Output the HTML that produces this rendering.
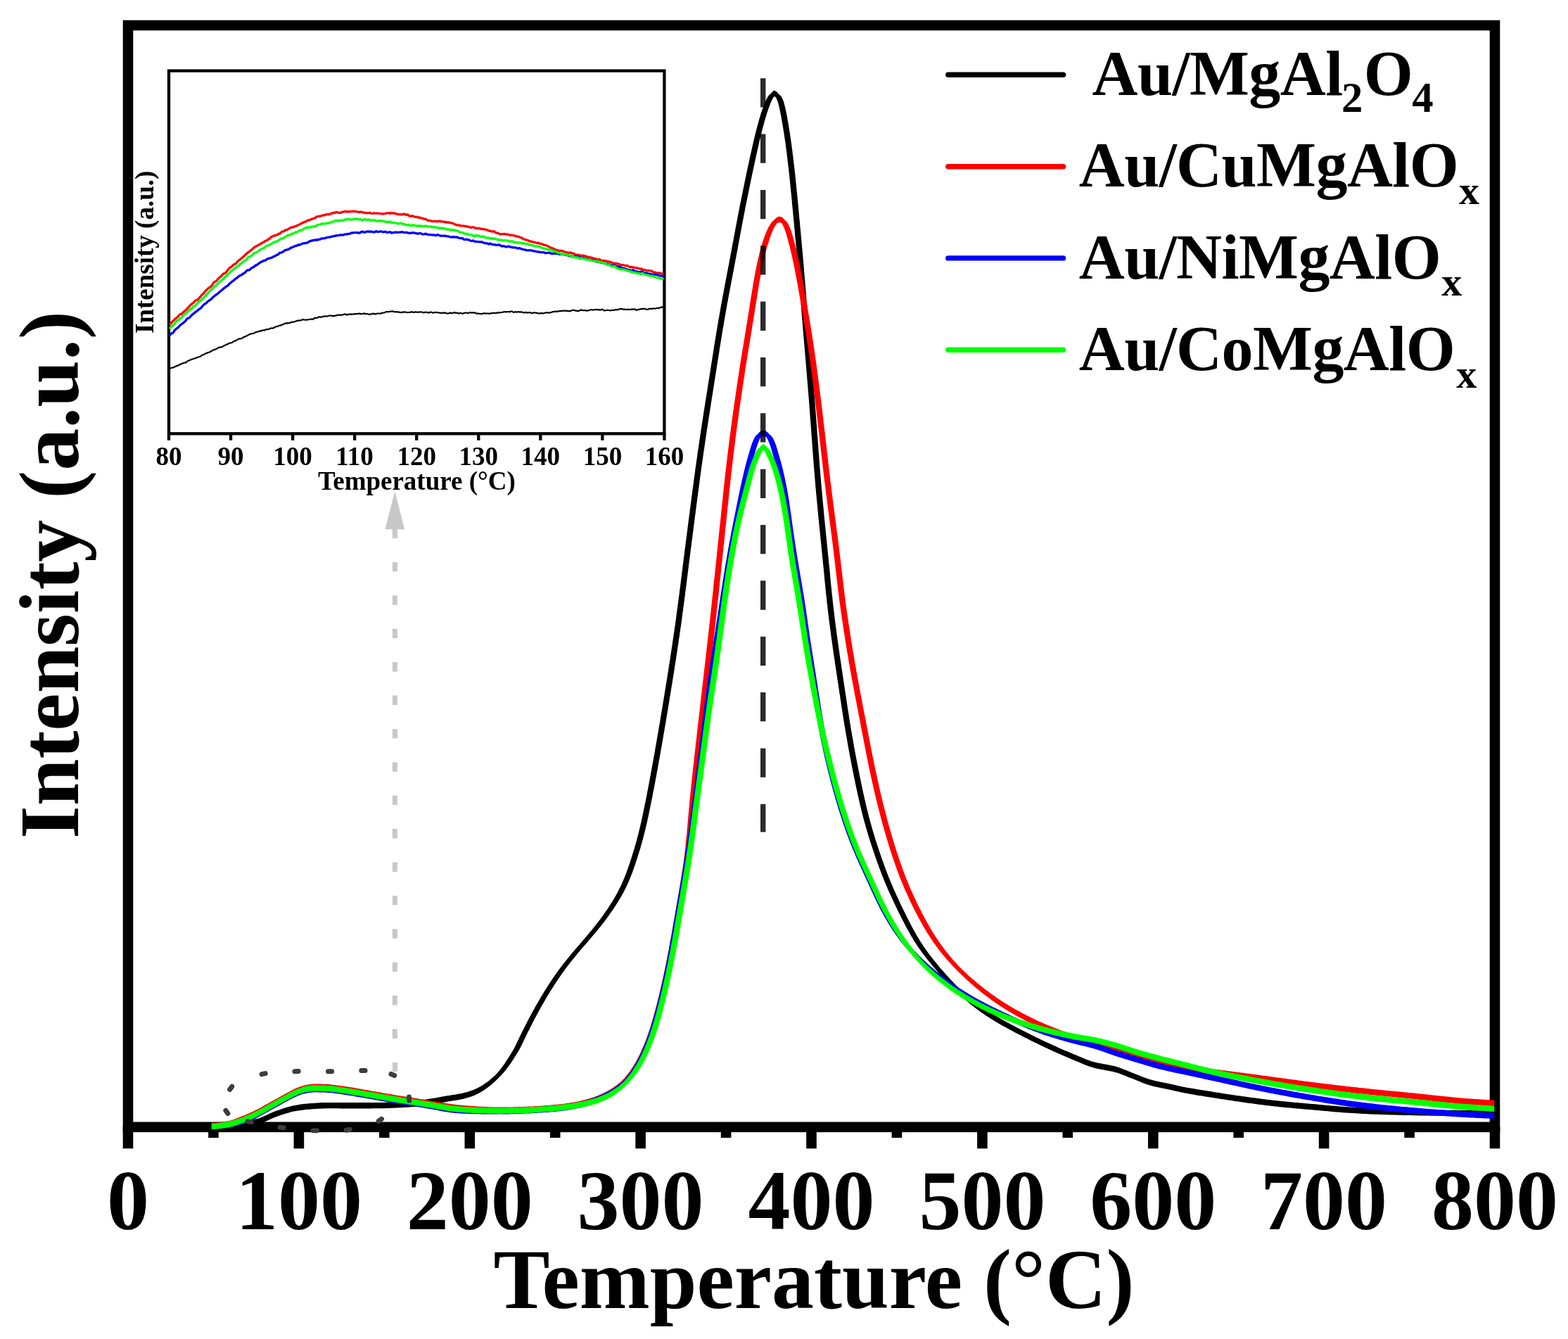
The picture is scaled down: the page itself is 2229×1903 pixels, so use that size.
<!DOCTYPE html>
<html lang="en"><head><meta charset="utf-8"><title>H2-TPR profiles</title>
<style>
html,body{margin:0;padding:0;background:#fff;}
body{width:2229px;height:1903px;overflow:hidden;}
svg{display:block;}
text{font-family:"Liberation Serif", "Noto Serif CJK SC", serif;font-weight:bold;fill:#000;}
.cf{stroke:none;fill-rule:nonzero;}
.ic{fill:none;stroke-linejoin:round;stroke-linecap:butt;}
</style></head><body>
<svg xmlns="http://www.w3.org/2000/svg" width="2229" height="1903" viewBox="0 0 2229 1903">
<rect width="2229" height="1903" fill="#fff"/>

<g id="main-axes" fill="#000">
<rect x="182.0" y="36.0" width="1943.0" height="1565.8" fill="none" stroke="#000" stroke-width="14.6"/>
<rect x="174.7" y="1601" width="14.6" height="31.3"/>
<rect x="296.1" y="1601" width="14.6" height="16.0"/>
<rect x="417.6" y="1601" width="14.6" height="31.3"/>
<rect x="539.0" y="1601" width="14.6" height="16.0"/>
<rect x="660.5" y="1601" width="14.6" height="31.3"/>
<rect x="781.9" y="1601" width="14.6" height="16.0"/>
<rect x="903.3" y="1601" width="14.6" height="31.3"/>
<rect x="1024.8" y="1601" width="14.6" height="16.0"/>
<rect x="1146.2" y="1601" width="14.6" height="31.3"/>
<rect x="1267.6" y="1601" width="14.6" height="16.0"/>
<rect x="1389.1" y="1601" width="14.6" height="31.3"/>
<rect x="1510.5" y="1601" width="14.6" height="16.0"/>
<rect x="1632.0" y="1601" width="14.6" height="31.3"/>
<rect x="1753.4" y="1601" width="14.6" height="16.0"/>
<rect x="1874.8" y="1601" width="14.6" height="31.3"/>
<rect x="1996.3" y="1601" width="14.6" height="16.0"/>
<rect x="2117.7" y="1601" width="14.6" height="31.3"/>
</g>
<g id="main-ticklabels" font-size="120" text-anchor="middle">
<text x="182.0" y="1747">0</text>
<text x="424.9" y="1747">100</text>
<text x="667.8" y="1747">200</text>
<text x="910.6" y="1747">300</text>
<text x="1153.5" y="1747">400</text>
<text x="1396.4" y="1747">500</text>
<text x="1639.2" y="1747">600</text>
<text x="1882.1" y="1747">700</text>
<text x="2125.0" y="1747">800</text>
</g>
<text id="xlabel" x="1157" y="1859.2" font-size="120" text-anchor="middle">Temperature (°C)</text>
<text id="ylabel" transform="translate(110.6,817) rotate(-90)" font-size="120" text-anchor="middle">Intensity (a.u.)</text>
<g id="inset">
<rect x="240.0" y="100.6" width="704.4" height="515.6999999999999" fill="#fff" stroke="#000" stroke-width="4.3"/>
<rect x="237.85" y="616" width="4.3" height="9.8" fill="#000"/>
<rect x="325.90" y="616" width="4.3" height="9.8" fill="#000"/>
<rect x="413.95" y="616" width="4.3" height="9.8" fill="#000"/>
<rect x="502.00" y="616" width="4.3" height="9.8" fill="#000"/>
<rect x="590.05" y="616" width="4.3" height="9.8" fill="#000"/>
<rect x="678.10" y="616" width="4.3" height="9.8" fill="#000"/>
<rect x="766.15" y="616" width="4.3" height="9.8" fill="#000"/>
<rect x="854.20" y="616" width="4.3" height="9.8" fill="#000"/>
<rect x="942.25" y="616" width="4.3" height="9.8" fill="#000"/>
<g font-size="37" text-anchor="middle">
<text x="240.0" y="661">80</text>
<text x="328.1" y="661">90</text>
<text x="416.1" y="661">100</text>
<text x="504.1" y="661">110</text>
<text x="592.2" y="661">120</text>
<text x="680.2" y="661">130</text>
<text x="768.3" y="661">140</text>
<text x="856.4" y="661">150</text>
<text x="944.4" y="661">160</text>
</g>
<text x="592.4" y="696" font-size="37" text-anchor="middle">Temperature (°C)</text>
<text transform="translate(217.5,358.3) rotate(-90)" font-size="37" text-anchor="middle">Intensity (a.u.)</text>
<path class="ic" stroke="#000" stroke-width="2.2" d="M240.8,524.2 L241.8,523.9 L242.8,523.2 L243.8,522.8 L244.8,522.4 L245.8,522.2 L246.8,522.3 L247.8,521.9 L248.8,521.0 L249.8,520.5 L250.8,520.2 L251.8,520.2 L252.8,519.4 L253.8,518.9 L254.8,518.4 L255.8,518.1 L256.8,517.6 L257.8,517.0 L258.8,516.8 L259.8,516.2 L260.8,516.0 L261.8,515.6 L262.8,515.5 L263.8,515.4 L264.8,515.0 L265.8,513.8 L266.8,513.1 L267.8,512.4 L268.8,512.5 L269.8,512.0 L270.8,511.4 L271.8,510.9 L272.8,510.6 L273.8,510.3 L274.8,510.0 L275.8,509.5 L276.8,509.4 L277.8,509.2 L278.8,508.8 L279.8,508.3 L280.8,507.9 L281.8,507.5 L282.8,507.0 L283.8,507.0 L284.8,506.5 L285.8,505.9 L286.8,505.1 L287.8,504.6 L288.8,504.1 L289.8,504.0 L290.8,503.4 L291.8,502.5 L292.8,502.1 L293.8,501.9 L294.8,501.6 L295.8,501.0 L296.8,500.7 L297.8,500.6 L298.8,500.2 L299.8,499.3 L300.8,498.7 L301.8,498.4 L302.8,497.7 L303.8,497.1 L304.8,496.9 L305.8,496.7 L306.8,496.5 L307.8,495.9 L308.8,495.1 L309.8,494.5 L310.8,494.3 L311.8,493.7 L312.8,493.4 L313.8,493.4 L314.8,493.4 L315.8,493.1 L316.8,492.3 L317.8,491.5 L318.8,491.3 L319.8,490.7 L320.8,490.3 L321.8,489.6 L322.8,489.3 L323.8,489.1 L324.8,488.3 L325.8,487.8 L326.8,487.5 L327.8,487.4 L328.8,487.2 L329.8,486.9 L330.8,486.2 L331.8,485.3 L332.8,484.9 L333.8,484.4 L334.8,484.3 L335.8,483.5 L336.8,483.2 L337.8,482.5 L338.8,481.9 L339.8,481.4 L340.8,481.5 L341.8,481.4 L342.8,481.3 L343.8,481.0 L344.8,480.2 L345.8,479.4 L346.8,479.1 L347.8,478.8 L348.8,478.2 L349.8,477.7 L350.8,477.2 L351.8,476.7 L352.8,476.1 L353.8,475.6 L354.8,475.2 L355.8,474.9 L356.8,474.3 L357.8,474.1 L358.8,474.0 L359.8,474.0 L360.8,473.7 L361.8,473.1 L362.8,472.5 L363.8,471.9 L364.8,471.9 L365.8,471.5 L366.8,471.5 L367.8,471.1 L368.8,471.0 L369.8,470.2 L370.8,470.4 L371.8,470.0 L372.8,469.6 L373.8,469.2 L374.8,469.5 L375.8,469.6 L376.8,468.8 L377.8,468.3 L378.8,468.1 L379.8,468.1 L380.8,468.1 L381.8,468.0 L382.8,467.5 L383.8,467.1 L384.8,466.4 L385.8,466.5 L386.8,466.6 L387.8,466.5 L388.8,466.1 L389.8,465.5 L390.8,465.0 L391.8,464.4 L392.8,464.2 L393.8,464.2 L394.8,464.0 L395.8,463.2 L396.8,462.7 L397.8,462.6 L398.8,462.7 L399.8,462.0 L400.8,461.3 L401.8,461.5 L402.8,460.9 L403.8,460.3 L404.8,459.9 L405.8,459.6 L406.8,459.4 L407.8,459.2 L408.8,459.3 L409.8,459.2 L410.8,459.1 L411.8,458.8 L412.8,458.6 L413.8,458.2 L414.8,457.6 L415.8,457.5 L416.8,457.7 L417.8,457.6 L418.8,457.0 L419.8,456.7 L420.8,456.3 L421.8,456.2 L422.8,455.9 L423.8,455.7 L424.8,455.4 L425.8,455.5 L426.8,455.4 L427.8,455.3 L428.8,454.9 L429.8,454.2 L430.8,454.1 L431.8,454.3 L432.8,454.6 L433.8,454.5 L434.8,454.5 L435.8,454.6 L436.8,454.6 L437.8,454.2 L438.8,454.2 L439.8,454.0 L440.8,453.9 L441.8,453.7 L442.8,453.6 L443.8,453.6 L444.8,453.8 L445.8,453.1 L446.8,452.1 L447.8,451.9 L448.8,451.8 L449.8,452.0 L450.8,451.7 L451.8,451.3 L452.8,450.6 L453.8,450.3 L454.8,450.7 L455.8,450.8 L456.8,450.7 L457.8,450.3 L458.8,449.8 L459.8,449.6 L460.8,449.9 L461.8,449.4 L462.8,449.4 L463.8,449.5 L464.8,449.6 L465.8,449.3 L466.8,449.0 L467.8,448.6 L468.8,448.5 L469.8,448.5 L470.8,448.8 L471.8,448.7 L472.8,448.8 L473.8,449.4 L474.8,448.9 L475.8,448.7 L476.8,448.5 L477.8,448.6 L478.8,448.0 L479.8,447.6 L480.8,447.7 L481.8,447.9 L482.8,447.7 L483.8,447.6 L484.8,447.7 L485.8,447.8 L486.8,447.4 L487.8,447.0 L488.8,446.8 L489.8,446.4 L490.8,446.3 L491.8,447.0 L492.8,447.7 L493.8,447.5 L494.8,446.7 L495.8,446.5 L496.8,446.8 L497.8,446.7 L498.8,446.6 L499.8,446.4 L500.8,446.6 L501.8,446.5 L502.8,446.4 L503.8,446.3 L504.8,446.1 L505.8,446.0 L506.8,446.1 L507.8,446.0 L508.8,445.9 L509.8,445.7 L510.8,445.6 L511.8,445.8 L512.8,446.1 L513.8,446.3 L514.8,446.0 L515.8,446.0 L516.8,445.6 L517.8,445.4 L518.8,445.7 L519.8,446.1 L520.8,446.0 L521.8,446.0 L522.8,446.3 L523.8,446.7 L524.8,446.8 L525.8,446.7 L526.8,446.7 L527.8,446.4 L528.8,446.2 L529.8,445.5 L530.8,445.8 L531.8,445.9 L532.8,446.4 L533.8,446.1 L534.8,445.8 L535.8,445.8 L536.8,445.6 L537.8,445.5 L538.8,445.5 L539.8,445.5 L540.8,445.7 L541.8,445.5 L542.8,444.9 L543.8,444.6 L544.8,444.5 L545.8,444.5 L546.8,444.3 L547.8,443.5 L548.8,443.2 L549.8,443.0 L550.8,443.1 L551.8,443.2 L552.8,443.1 L553.8,442.8 L554.8,442.9 L555.8,442.6 L556.8,442.5 L557.8,442.2 L558.8,442.9 L559.8,442.9 L560.8,443.1 L561.8,443.1 L562.8,443.4 L563.8,443.3 L564.8,443.1 L565.8,443.5 L566.8,443.7 L567.8,443.5 L568.8,444.1 L569.8,444.1 L570.8,444.1 L571.8,443.5 L572.8,443.6 L573.8,443.5 L574.8,443.6 L575.8,443.4 L576.8,443.5 L577.8,443.9 L578.8,444.1 L579.8,444.2 L580.8,444.0 L581.8,443.9 L582.8,443.9 L583.8,443.6 L584.8,443.3 L585.8,443.2 L586.8,443.5 L587.8,444.0 L588.8,444.0 L589.8,443.4 L590.8,443.3 L591.8,443.6 L592.8,443.6 L593.8,443.6 L594.8,443.7 L595.8,443.6 L596.8,443.5 L597.8,443.2 L598.8,443.5 L599.8,443.6 L600.8,443.9 L601.8,444.3 L602.8,444.3 L603.8,443.7 L604.8,443.8 L605.8,443.8 L606.8,443.9 L607.8,443.9 L608.8,444.6 L609.8,444.6 L610.8,444.1 L611.8,443.5 L612.8,443.5 L613.8,443.9 L614.8,444.3 L615.8,444.7 L616.8,444.5 L617.8,443.8 L618.8,444.0 L619.8,443.9 L620.8,444.1 L621.8,444.1 L622.8,444.1 L623.8,444.5 L624.8,444.7 L625.8,445.0 L626.8,444.8 L627.8,444.6 L628.8,444.6 L629.8,444.8 L630.8,444.9 L631.8,444.6 L632.8,444.3 L633.8,444.9 L634.8,445.4 L635.8,445.5 L636.8,445.6 L637.8,445.4 L638.8,444.8 L639.8,444.4 L640.8,445.1 L641.8,445.1 L642.8,444.9 L643.8,444.8 L644.8,444.6 L645.8,444.1 L646.8,444.2 L647.8,444.8 L648.8,444.7 L649.8,444.6 L650.8,444.9 L651.8,445.5 L652.8,445.4 L653.8,445.1 L654.8,444.8 L655.8,445.2 L656.8,445.5 L657.8,445.8 L658.8,445.2 L659.8,445.1 L660.8,444.5 L661.8,444.5 L662.8,444.7 L663.8,444.9 L664.8,445.0 L665.8,444.7 L666.8,444.7 L667.8,444.2 L668.8,444.1 L669.8,444.5 L670.8,444.6 L671.8,444.5 L672.8,444.2 L673.8,444.4 L674.8,444.6 L675.8,444.7 L676.8,445.5 L677.8,445.7 L678.8,445.6 L679.8,445.4 L680.8,445.7 L681.8,446.0 L682.8,445.9 L683.8,446.1 L684.8,446.0 L685.8,445.8 L686.8,445.3 L687.8,445.2 L688.8,445.5 L689.8,445.4 L690.8,445.6 L691.8,445.6 L692.8,445.5 L693.8,445.4 L694.8,445.6 L695.8,445.9 L696.8,445.6 L697.8,445.2 L698.8,444.9 L699.8,445.1 L700.8,445.0 L701.8,444.8 L702.8,444.5 L703.8,445.0 L704.8,445.1 L705.8,444.9 L706.8,444.4 L707.8,444.2 L708.8,444.5 L709.8,444.3 L710.8,444.2 L711.8,444.1 L712.8,444.0 L713.8,443.9 L714.8,443.6 L715.8,443.5 L716.8,443.0 L717.8,443.0 L718.8,443.4 L719.8,443.5 L720.8,443.0 L721.8,443.0 L722.8,443.0 L723.8,443.4 L724.8,443.2 L725.8,442.7 L726.8,442.5 L727.8,442.5 L728.8,443.2 L729.8,443.7 L730.8,443.8 L731.8,443.4 L732.8,443.0 L733.8,443.7 L734.8,443.5 L735.8,443.4 L736.8,443.0 L737.8,443.4 L738.8,443.4 L739.8,443.6 L740.8,443.3 L741.8,443.4 L742.8,443.8 L743.8,444.3 L744.8,444.5 L745.8,444.2 L746.8,443.9 L747.8,444.1 L748.8,444.3 L749.8,444.4 L750.8,444.4 L751.8,444.1 L752.8,444.1 L753.8,444.3 L754.8,444.8 L755.8,445.0 L756.8,445.0 L757.8,444.6 L758.8,444.4 L759.8,444.4 L760.8,444.5 L761.8,444.7 L762.8,444.6 L763.8,444.9 L764.8,445.3 L765.8,445.5 L766.8,445.4 L767.8,445.4 L768.8,445.1 L769.8,445.1 L770.8,445.2 L771.8,445.3 L772.8,445.3 L773.8,445.0 L774.8,444.6 L775.8,444.4 L776.8,444.4 L777.8,444.5 L778.8,444.4 L779.8,444.4 L780.8,444.6 L781.8,444.5 L782.8,444.2 L783.8,444.0 L784.8,443.4 L785.8,443.2 L786.8,443.2 L787.8,443.1 L788.8,442.6 L789.8,442.6 L790.8,442.8 L791.8,442.7 L792.8,442.5 L793.8,442.6 L794.8,442.1 L795.8,442.0 L796.8,441.9 L797.8,442.2 L798.8,441.9 L799.8,441.7 L800.8,441.6 L801.8,441.6 L802.8,441.7 L803.8,442.1 L804.8,441.5 L805.8,441.6 L806.8,441.9 L807.8,442.3 L808.8,442.2 L809.8,441.8 L810.8,441.8 L811.8,441.9 L812.8,441.2 L813.8,441.0 L814.8,440.8 L815.8,440.9 L816.8,440.9 L817.8,441.4 L818.8,441.6 L819.8,441.7 L820.8,441.8 L821.8,442.1 L822.8,442.0 L823.8,441.3 L824.8,440.8 L825.8,440.4 L826.8,440.6 L827.8,440.9 L828.8,441.1 L829.8,441.2 L830.8,441.2 L831.8,441.1 L832.8,441.3 L833.8,441.4 L834.8,441.6 L835.8,441.4 L836.8,441.3 L837.8,440.8 L838.8,440.5 L839.8,440.1 L840.8,440.1 L841.8,440.5 L842.8,440.7 L843.8,440.5 L844.8,440.1 L845.8,440.0 L846.8,440.2 L847.8,439.8 L848.8,439.9 L849.8,440.1 L850.8,440.4 L851.8,440.4 L852.8,440.2 L853.8,440.5 L854.8,440.0 L855.8,439.7 L856.8,439.9 L857.8,440.7 L858.8,441.3 L859.8,441.5 L860.8,441.2 L861.8,440.8 L862.8,441.0 L863.8,440.9 L864.8,441.0 L865.8,441.0 L866.8,441.2 L867.8,441.4 L868.8,441.0 L869.8,440.8 L870.8,441.0 L871.8,440.9 L872.8,441.0 L873.8,440.6 L874.8,440.2 L875.8,439.9 L876.8,440.1 L877.8,440.4 L878.8,440.1 L879.8,439.5 L880.8,439.2 L881.8,439.2 L882.8,438.9 L883.8,438.8 L884.8,439.3 L885.8,439.7 L886.8,439.7 L887.8,439.7 L888.8,439.7 L889.8,440.0 L890.8,439.9 L891.8,439.7 L892.8,439.9 L893.8,439.9 L894.8,440.0 L895.8,439.7 L896.8,439.8 L897.8,439.7 L898.8,439.4 L899.8,439.6 L900.8,439.7 L901.8,439.4 L902.8,439.4 L903.8,440.2 L904.8,440.9 L905.8,440.4 L906.8,439.9 L907.8,439.9 L908.8,440.0 L909.8,439.4 L910.8,439.0 L911.8,439.2 L912.8,439.4 L913.8,438.7 L914.8,438.7 L915.8,438.8 L916.8,439.1 L917.8,439.4 L918.8,439.6 L919.8,439.9 L920.8,439.6 L921.8,439.4 L922.8,439.2 L923.8,438.6 L924.8,438.6 L925.8,438.8 L926.8,439.0 L927.8,438.6 L928.8,438.4 L929.8,438.5 L930.8,438.7 L931.8,438.5 L932.8,438.2 L933.8,437.7 L934.8,438.0 L935.8,438.1 L936.8,438.0 L937.8,437.2 L938.8,437.1 L939.8,436.9 L940.8,436.4 L941.8,436.2 L942.8,436.3 L942.9,436.5"/>
<path class="ic" stroke="#f00" stroke-width="3.3" d="M240.8,461.5 L241.8,460.6 L242.8,459.6 L243.8,458.4 L244.8,457.4 L245.8,456.3 L246.8,455.6 L247.8,454.6 L248.8,453.3 L249.8,452.6 L250.8,452.2 L251.8,451.2 L252.8,450.2 L253.8,448.8 L254.8,448.0 L255.8,447.0 L256.8,446.4 L257.8,446.4 L258.8,445.7 L259.8,444.3 L260.8,443.4 L261.8,442.5 L262.8,441.9 L263.8,441.0 L264.8,439.9 L265.8,439.0 L266.8,438.1 L267.8,437.1 L268.8,435.6 L269.8,434.5 L270.8,433.3 L271.8,432.7 L272.8,431.8 L273.8,431.0 L274.8,430.3 L275.8,429.3 L276.8,428.1 L277.8,427.1 L278.8,426.8 L279.8,426.5 L280.8,426.0 L281.8,424.8 L282.8,424.1 L283.8,422.6 L284.8,421.9 L285.8,420.6 L286.8,419.3 L287.8,418.1 L288.8,417.7 L289.8,416.8 L290.8,415.2 L291.8,413.8 L292.8,413.1 L293.8,411.8 L294.8,410.8 L295.8,409.9 L296.8,409.3 L297.8,408.8 L298.8,407.7 L299.8,407.1 L300.8,405.9 L301.8,404.9 L302.8,402.9 L303.8,401.7 L304.8,400.9 L305.8,400.3 L306.8,399.8 L307.8,398.9 L308.8,397.9 L309.8,396.5 L310.8,395.4 L311.8,394.5 L312.8,393.9 L313.8,393.2 L314.8,392.3 L315.8,390.7 L316.8,389.6 L317.8,389.0 L318.8,388.5 L319.8,388.2 L320.8,387.7 L321.8,386.5 L322.8,385.0 L323.8,383.7 L324.8,382.5 L325.8,381.3 L326.8,380.3 L327.8,379.9 L328.8,379.2 L329.8,378.5 L330.8,377.5 L331.8,376.3 L332.8,375.8 L333.8,375.3 L334.8,374.9 L335.8,374.1 L336.8,372.8 L337.8,371.7 L338.8,370.7 L339.8,370.0 L340.8,369.1 L341.8,368.2 L342.8,367.3 L343.8,366.9 L344.8,365.8 L345.8,364.8 L346.8,363.9 L347.8,363.1 L348.8,362.1 L349.8,361.3 L350.8,360.0 L351.8,359.3 L352.8,358.6 L353.8,357.9 L354.8,357.2 L355.8,356.4 L356.8,355.7 L357.8,355.1 L358.8,353.8 L359.8,352.9 L360.8,352.1 L361.8,351.6 L362.8,350.9 L363.8,349.9 L364.8,349.8 L365.8,349.2 L366.8,348.6 L367.8,347.9 L368.8,347.6 L369.8,347.0 L370.8,346.2 L371.8,345.4 L372.8,344.9 L373.8,344.8 L374.8,344.3 L375.8,343.3 L376.8,342.6 L377.8,342.3 L378.8,341.9 L379.8,341.4 L380.8,340.4 L381.8,340.1 L382.8,339.3 L383.8,338.3 L384.8,337.4 L385.8,336.7 L386.8,336.3 L387.8,335.8 L388.8,335.7 L389.8,334.9 L390.8,334.5 L391.8,334.6 L392.8,334.4 L393.8,333.8 L394.8,333.2 L395.8,332.3 L396.8,332.1 L397.8,331.8 L398.8,331.1 L399.8,330.2 L400.8,329.4 L401.8,328.8 L402.8,328.8 L403.8,328.5 L404.8,327.9 L405.8,327.0 L406.8,326.7 L407.8,326.6 L408.8,326.2 L409.8,325.5 L410.8,325.0 L411.8,324.4 L412.8,323.5 L413.8,323.3 L414.8,323.1 L415.8,323.0 L416.8,322.7 L417.8,322.5 L418.8,322.0 L419.8,321.7 L420.8,321.1 L421.8,320.9 L422.8,320.3 L423.8,319.9 L424.8,319.4 L425.8,318.8 L426.8,318.5 L427.8,317.8 L428.8,317.1 L429.8,316.9 L430.8,316.6 L431.8,315.8 L432.8,315.4 L433.8,315.1 L434.8,315.1 L435.8,314.1 L436.8,313.7 L437.8,313.1 L438.8,312.8 L439.8,312.7 L440.8,312.5 L441.8,311.9 L442.8,311.4 L443.8,311.2 L444.8,311.0 L445.8,310.4 L446.8,310.4 L447.8,309.8 L448.8,308.8 L449.8,308.2 L450.8,308.0 L451.8,307.7 L452.8,307.4 L453.8,307.4 L454.8,307.2 L455.8,307.1 L456.8,306.7 L457.8,306.3 L458.8,306.0 L459.8,306.0 L460.8,306.0 L461.8,305.7 L462.8,305.1 L463.8,304.7 L464.8,304.5 L465.8,304.9 L466.8,304.9 L467.8,304.4 L468.8,304.3 L469.8,304.1 L470.8,303.6 L471.8,303.0 L472.8,302.7 L473.8,302.5 L474.8,302.5 L475.8,302.5 L476.8,302.1 L477.8,301.3 L478.8,301.5 L479.8,301.8 L480.8,302.1 L481.8,302.5 L482.8,302.4 L483.8,302.4 L484.8,301.9 L485.8,301.8 L486.8,301.3 L487.8,301.1 L488.8,300.9 L489.8,300.8 L490.8,300.3 L491.8,300.4 L492.8,300.7 L493.8,301.1 L494.8,300.9 L495.8,300.7 L496.8,300.9 L497.8,300.8 L498.8,300.5 L499.8,300.3 L500.8,300.6 L501.8,300.5 L502.8,300.4 L503.8,300.2 L504.8,300.5 L505.8,300.7 L506.8,300.7 L507.8,301.0 L508.8,301.3 L509.8,301.5 L510.8,301.5 L511.8,301.4 L512.8,301.2 L513.8,301.1 L514.8,301.5 L515.8,301.8 L516.8,302.2 L517.8,302.5 L518.8,302.4 L519.8,302.7 L520.8,302.5 L521.8,302.7 L522.8,302.6 L523.8,302.7 L524.8,302.6 L525.8,302.4 L526.8,302.8 L527.8,303.1 L528.8,303.3 L529.8,303.4 L530.8,303.0 L531.8,302.8 L532.8,303.2 L533.8,303.1 L534.8,303.2 L535.8,303.1 L536.8,303.2 L537.8,303.1 L538.8,303.4 L539.8,303.6 L540.8,303.7 L541.8,303.7 L542.8,303.8 L543.8,303.9 L544.8,304.0 L545.8,303.7 L546.8,303.5 L547.8,303.4 L548.8,303.2 L549.8,303.0 L550.8,302.8 L551.8,302.8 L552.8,302.8 L553.8,302.7 L554.8,303.3 L555.8,302.6 L556.8,302.4 L557.8,302.6 L558.8,303.2 L559.8,303.3 L560.8,302.9 L561.8,303.2 L562.8,303.5 L563.8,304.3 L564.8,304.3 L565.8,304.5 L566.8,304.5 L567.8,304.8 L568.8,304.7 L569.8,304.6 L570.8,304.9 L571.8,304.9 L572.8,304.6 L573.8,304.0 L574.8,304.2 L575.8,304.6 L576.8,305.1 L577.8,305.4 L578.8,304.9 L579.8,305.0 L580.8,306.1 L581.8,307.0 L582.8,307.2 L583.8,307.1 L584.8,307.0 L585.8,307.0 L586.8,307.0 L587.8,307.3 L588.8,307.7 L589.8,308.3 L590.8,308.3 L591.8,308.5 L592.8,308.2 L593.8,308.8 L594.8,309.3 L595.8,309.1 L596.8,309.1 L597.8,309.6 L598.8,310.1 L599.8,310.1 L600.8,310.3 L601.8,310.9 L602.8,311.3 L603.8,311.1 L604.8,311.3 L605.8,311.7 L606.8,312.4 L607.8,313.0 L608.8,313.5 L609.8,313.4 L610.8,313.4 L611.8,313.6 L612.8,314.2 L613.8,314.5 L614.8,314.5 L615.8,314.3 L616.8,314.5 L617.8,314.5 L618.8,314.4 L619.8,314.4 L620.8,314.6 L621.8,315.0 L622.8,314.6 L623.8,314.3 L624.8,314.2 L625.8,314.3 L626.8,315.0 L627.8,314.8 L628.8,314.8 L629.8,315.1 L630.8,315.1 L631.8,315.4 L632.8,315.8 L633.8,315.6 L634.8,316.0 L635.8,315.9 L636.8,316.1 L637.8,316.0 L638.8,316.5 L639.8,316.8 L640.8,316.6 L641.8,316.7 L642.8,317.3 L643.8,317.5 L644.8,317.8 L645.8,318.2 L646.8,319.1 L647.8,319.4 L648.8,319.5 L649.8,320.2 L650.8,320.1 L651.8,319.9 L652.8,320.0 L653.8,320.4 L654.8,320.9 L655.8,321.2 L656.8,320.8 L657.8,320.8 L658.8,321.0 L659.8,321.2 L660.8,321.6 L661.8,321.4 L662.8,321.5 L663.8,321.7 L664.8,322.2 L665.8,322.5 L666.8,322.7 L667.8,322.8 L668.8,323.1 L669.8,323.3 L670.8,323.0 L671.8,322.8 L672.8,323.0 L673.8,323.2 L674.8,323.6 L675.8,323.9 L676.8,324.4 L677.8,324.8 L678.8,324.7 L679.8,324.2 L680.8,324.5 L681.8,324.8 L682.8,325.3 L683.8,325.2 L684.8,325.4 L685.8,325.6 L686.8,325.7 L687.8,325.8 L688.8,326.1 L689.8,326.0 L690.8,326.3 L691.8,326.6 L692.8,326.8 L693.8,327.4 L694.8,327.7 L695.8,328.4 L696.8,328.3 L697.8,328.2 L698.8,328.9 L699.8,329.1 L700.8,329.1 L701.8,328.6 L702.8,329.0 L703.8,330.1 L704.8,330.5 L705.8,331.1 L706.8,331.2 L707.8,331.2 L708.8,331.7 L709.8,332.4 L710.8,332.8 L711.8,332.9 L712.8,332.8 L713.8,332.7 L714.8,332.6 L715.8,332.6 L716.8,332.4 L717.8,332.4 L718.8,332.9 L719.8,333.3 L720.8,332.8 L721.8,333.1 L722.8,333.5 L723.8,334.0 L724.8,334.2 L725.8,334.4 L726.8,334.2 L727.8,334.2 L728.8,334.5 L729.8,334.7 L730.8,334.7 L731.8,335.1 L732.8,335.6 L733.8,335.8 L734.8,335.7 L735.8,336.1 L736.8,336.4 L737.8,336.7 L738.8,337.0 L739.8,337.4 L740.8,337.9 L741.8,338.1 L742.8,338.8 L743.8,339.6 L744.8,340.2 L745.8,340.1 L746.8,340.6 L747.8,340.9 L748.8,341.3 L749.8,341.3 L750.8,341.7 L751.8,342.5 L752.8,342.6 L753.8,343.0 L754.8,343.1 L755.8,343.3 L756.8,343.4 L757.8,344.1 L758.8,344.2 L759.8,344.5 L760.8,344.4 L761.8,345.0 L762.8,345.4 L763.8,345.3 L764.8,345.1 L765.8,345.4 L766.8,345.8 L767.8,346.4 L768.8,346.5 L769.8,346.7 L770.8,346.9 L771.8,347.3 L772.8,348.1 L773.8,348.3 L774.8,348.3 L775.8,348.3 L776.8,349.0 L777.8,349.3 L778.8,349.9 L779.8,350.3 L780.8,350.8 L781.8,351.4 L782.8,351.9 L783.8,352.4 L784.8,352.6 L785.8,352.9 L786.8,353.4 L787.8,353.9 L788.8,354.5 L789.8,354.9 L790.8,355.5 L791.8,355.7 L792.8,355.4 L793.8,355.9 L794.8,356.6 L795.8,356.6 L796.8,356.3 L797.8,356.2 L798.8,356.5 L799.8,356.9 L800.8,357.3 L801.8,357.7 L802.8,357.8 L803.8,358.2 L804.8,358.7 L805.8,358.9 L806.8,359.0 L807.8,359.4 L808.8,359.2 L809.8,359.1 L810.8,358.8 L811.8,359.3 L812.8,359.9 L813.8,360.1 L814.8,360.1 L815.8,360.6 L816.8,361.1 L817.8,361.8 L818.8,362.1 L819.8,362.5 L820.8,362.5 L821.8,362.2 L822.8,362.4 L823.8,362.7 L824.8,363.4 L825.8,363.7 L826.8,363.4 L827.8,363.0 L828.8,363.1 L829.8,363.5 L830.8,363.5 L831.8,363.8 L832.8,364.3 L833.8,364.8 L834.8,365.0 L835.8,365.1 L836.8,365.6 L837.8,365.8 L838.8,365.7 L839.8,365.9 L840.8,366.4 L841.8,366.6 L842.8,366.7 L843.8,367.1 L844.8,367.7 L845.8,367.6 L846.8,367.7 L847.8,367.9 L848.8,368.6 L849.8,369.0 L850.8,368.8 L851.8,368.5 L852.8,369.1 L853.8,370.0 L854.8,370.6 L855.8,370.6 L856.8,370.4 L857.8,370.3 L858.8,370.4 L859.8,370.7 L860.8,370.8 L861.8,370.9 L862.8,371.5 L863.8,371.8 L864.8,371.6 L865.8,371.9 L866.8,372.5 L867.8,372.5 L868.8,372.7 L869.8,373.2 L870.8,373.7 L871.8,373.9 L872.8,374.3 L873.8,374.5 L874.8,374.2 L875.8,374.3 L876.8,374.4 L877.8,374.7 L878.8,375.0 L879.8,375.3 L880.8,375.7 L881.8,376.3 L882.8,376.6 L883.8,376.4 L884.8,376.4 L885.8,376.7 L886.8,377.0 L887.8,377.5 L888.8,377.5 L889.8,377.6 L890.8,377.2 L891.8,377.5 L892.8,378.2 L893.8,379.0 L894.8,379.3 L895.8,379.4 L896.8,379.5 L897.8,379.5 L898.8,379.7 L899.8,380.1 L900.8,380.1 L901.8,380.2 L902.8,380.7 L903.8,380.9 L904.8,380.7 L905.8,380.6 L906.8,381.3 L907.8,381.3 L908.8,381.9 L909.8,382.2 L910.8,382.6 L911.8,382.1 L912.8,382.5 L913.8,383.3 L914.8,383.6 L915.8,383.4 L916.8,383.6 L917.8,384.1 L918.8,384.5 L919.8,384.3 L920.8,384.7 L921.8,384.2 L922.8,384.7 L923.8,384.8 L924.8,385.0 L925.8,384.8 L926.8,385.2 L927.8,386.4 L928.8,386.9 L929.8,386.8 L930.8,386.8 L931.8,387.6 L932.8,388.0 L933.8,388.0 L934.8,387.8 L935.8,387.9 L936.8,387.9 L937.8,388.0 L938.8,388.2 L939.8,388.7 L940.8,388.8 L941.8,389.1 L942.8,389.6 L942.9,390.1"/>
<path class="ic" stroke="#00f" stroke-width="3.3" d="M240.8,476.8 L241.8,475.8 L242.8,474.8 L243.8,473.8 L244.8,473.6 L245.8,473.2 L246.8,471.9 L247.8,470.1 L248.8,468.9 L249.8,468.0 L250.8,467.1 L251.8,466.3 L252.8,465.8 L253.8,464.8 L254.8,463.7 L255.8,462.5 L256.8,461.4 L257.8,460.9 L258.8,460.2 L259.8,459.6 L260.8,458.6 L261.8,457.7 L262.8,456.8 L263.8,456.0 L264.8,454.5 L265.8,453.2 L266.8,452.4 L267.8,452.3 L268.8,451.7 L269.8,450.9 L270.8,449.8 L271.8,448.7 L272.8,447.6 L273.8,446.9 L274.8,446.1 L275.8,445.3 L276.8,444.2 L277.8,443.4 L278.8,442.9 L279.8,442.0 L280.8,441.3 L281.8,440.4 L282.8,439.7 L283.8,439.0 L284.8,438.4 L285.8,437.5 L286.8,436.4 L287.8,435.1 L288.8,434.1 L289.8,432.8 L290.8,432.4 L291.8,431.7 L292.8,431.1 L293.8,430.0 L294.8,429.1 L295.8,428.0 L296.8,427.3 L297.8,426.9 L298.8,426.2 L299.8,425.3 L300.8,424.7 L301.8,423.3 L302.8,422.4 L303.8,421.6 L304.8,420.9 L305.8,419.9 L306.8,419.1 L307.8,418.6 L308.8,417.9 L309.8,417.1 L310.8,416.1 L311.8,415.4 L312.8,414.4 L313.8,413.4 L314.8,412.8 L315.8,412.0 L316.8,410.9 L317.8,410.0 L318.8,409.2 L319.8,408.9 L320.8,407.8 L321.8,407.2 L322.8,406.3 L323.8,406.1 L324.8,404.9 L325.8,403.7 L326.8,402.7 L327.8,402.0 L328.8,401.0 L329.8,400.2 L330.8,399.6 L331.8,399.0 L332.8,397.9 L333.8,397.0 L334.8,396.2 L335.8,395.6 L336.8,395.0 L337.8,394.2 L338.8,393.2 L339.8,392.4 L340.8,391.8 L341.8,391.4 L342.8,390.9 L343.8,390.4 L344.8,389.6 L345.8,389.1 L346.8,388.3 L347.8,387.8 L348.8,387.0 L349.8,385.8 L350.8,384.7 L351.8,384.0 L352.8,383.9 L353.8,383.9 L354.8,383.4 L355.8,382.5 L356.8,381.5 L357.8,380.7 L358.8,380.3 L359.8,379.9 L360.8,379.5 L361.8,378.5 L362.8,377.5 L363.8,376.9 L364.8,376.8 L365.8,376.1 L366.8,375.2 L367.8,374.5 L368.8,373.8 L369.8,373.1 L370.8,372.5 L371.8,371.9 L372.8,371.6 L373.8,371.1 L374.8,370.5 L375.8,370.5 L376.8,370.1 L377.8,369.7 L378.8,368.8 L379.8,368.2 L380.8,367.7 L381.8,367.4 L382.8,367.3 L383.8,366.8 L384.8,366.5 L385.8,366.3 L386.8,365.9 L387.8,365.1 L388.8,364.8 L389.8,364.3 L390.8,364.1 L391.8,363.2 L392.8,362.6 L393.8,362.3 L394.8,362.1 L395.8,361.2 L396.8,360.2 L397.8,359.1 L398.8,359.1 L399.8,359.2 L400.8,358.6 L401.8,357.9 L402.8,357.4 L403.8,356.8 L404.8,355.8 L405.8,355.3 L406.8,355.3 L407.8,355.0 L408.8,354.6 L409.8,354.3 L410.8,354.0 L411.8,353.4 L412.8,352.6 L413.8,352.1 L414.8,351.7 L415.8,351.2 L416.8,350.9 L417.8,350.6 L418.8,350.0 L419.8,349.3 L420.8,349.4 L421.8,349.3 L422.8,348.6 L423.8,348.0 L424.8,348.0 L425.8,348.2 L426.8,347.6 L427.8,347.0 L428.8,346.7 L429.8,346.3 L430.8,345.8 L431.8,345.8 L432.8,345.7 L433.8,345.6 L434.8,345.4 L435.8,345.2 L436.8,344.9 L437.8,344.6 L438.8,343.9 L439.8,343.0 L440.8,342.6 L441.8,342.3 L442.8,342.3 L443.8,341.7 L444.8,341.8 L445.8,341.4 L446.8,341.5 L447.8,341.0 L448.8,340.8 L449.8,341.0 L450.8,341.4 L451.8,340.6 L452.8,340.2 L453.8,340.3 L454.8,340.1 L455.8,339.7 L456.8,339.0 L457.8,339.1 L458.8,338.9 L459.8,338.8 L460.8,338.9 L461.8,338.5 L462.8,338.1 L463.8,338.0 L464.8,337.5 L465.8,337.3 L466.8,337.2 L467.8,337.1 L468.8,337.2 L469.8,336.7 L470.8,336.5 L471.8,336.1 L472.8,335.8 L473.8,335.7 L474.8,335.7 L475.8,335.4 L476.8,335.2 L477.8,334.7 L478.8,335.0 L479.8,334.7 L480.8,334.5 L481.8,334.3 L482.8,334.3 L483.8,333.8 L484.8,333.8 L485.8,333.9 L486.8,334.3 L487.8,333.9 L488.8,333.6 L489.8,333.0 L490.8,333.1 L491.8,333.2 L492.8,332.9 L493.8,332.6 L494.8,332.3 L495.8,332.4 L496.8,332.4 L497.8,331.9 L498.8,331.3 L499.8,331.0 L500.8,330.9 L501.8,331.0 L502.8,330.7 L503.8,330.6 L504.8,330.6 L505.8,330.7 L506.8,330.7 L507.8,330.8 L508.8,330.6 L509.8,331.0 L510.8,331.1 L511.8,331.1 L512.8,330.2 L513.8,329.3 L514.8,329.0 L515.8,329.3 L516.8,330.2 L517.8,330.1 L518.8,330.0 L519.8,329.4 L520.8,329.7 L521.8,329.0 L522.8,328.8 L523.8,328.9 L524.8,329.4 L525.8,329.4 L526.8,329.0 L527.8,329.1 L528.8,329.5 L529.8,329.6 L530.8,329.8 L531.8,330.0 L532.8,329.8 L533.8,329.1 L534.8,328.6 L535.8,329.1 L536.8,329.5 L537.8,329.7 L538.8,329.3 L539.8,328.9 L540.8,328.9 L541.8,329.1 L542.8,329.2 L543.8,329.5 L544.8,329.8 L545.8,329.8 L546.8,329.3 L547.8,329.1 L548.8,329.8 L549.8,330.3 L550.8,330.4 L551.8,330.1 L552.8,330.1 L553.8,329.7 L554.8,329.9 L555.8,330.3 L556.8,331.2 L557.8,330.8 L558.8,330.6 L559.8,330.3 L560.8,330.5 L561.8,330.2 L562.8,330.0 L563.8,330.1 L564.8,330.4 L565.8,330.3 L566.8,330.2 L567.8,330.2 L568.8,330.1 L569.8,329.9 L570.8,329.8 L571.8,329.7 L572.8,330.1 L573.8,330.2 L574.8,330.4 L575.8,330.3 L576.8,330.3 L577.8,330.2 L578.8,330.6 L579.8,331.0 L580.8,331.3 L581.8,331.2 L582.8,331.1 L583.8,331.1 L584.8,331.3 L585.8,330.9 L586.8,330.7 L587.8,330.8 L588.8,330.8 L589.8,331.2 L590.8,331.6 L591.8,331.7 L592.8,332.0 L593.8,332.0 L594.8,332.0 L595.8,331.7 L596.8,331.6 L597.8,331.6 L598.8,331.8 L599.8,332.5 L600.8,332.8 L601.8,333.0 L602.8,332.8 L603.8,332.5 L604.8,332.2 L605.8,332.3 L606.8,333.0 L607.8,333.1 L608.8,333.6 L609.8,333.6 L610.8,333.7 L611.8,333.7 L612.8,333.7 L613.8,333.9 L614.8,334.0 L615.8,333.8 L616.8,333.8 L617.8,334.3 L618.8,334.7 L619.8,334.6 L620.8,333.9 L621.8,333.6 L622.8,333.7 L623.8,334.4 L624.8,334.7 L625.8,335.0 L626.8,335.3 L627.8,335.2 L628.8,335.1 L629.8,335.0 L630.8,335.2 L631.8,335.3 L632.8,335.1 L633.8,335.4 L634.8,335.7 L635.8,335.8 L636.8,335.9 L637.8,336.0 L638.8,336.3 L639.8,336.6 L640.8,336.8 L641.8,337.1 L642.8,337.1 L643.8,336.6 L644.8,336.8 L645.8,336.6 L646.8,337.1 L647.8,337.2 L648.8,337.0 L649.8,336.9 L650.8,337.5 L651.8,338.2 L652.8,338.2 L653.8,338.3 L654.8,338.7 L655.8,338.5 L656.8,338.4 L657.8,339.0 L658.8,339.9 L659.8,340.3 L660.8,340.7 L661.8,340.3 L662.8,340.2 L663.8,340.2 L664.8,340.9 L665.8,340.9 L666.8,341.0 L667.8,341.5 L668.8,342.0 L669.8,342.3 L670.8,342.4 L671.8,342.3 L672.8,341.9 L673.8,342.5 L674.8,343.3 L675.8,343.4 L676.8,343.3 L677.8,343.2 L678.8,343.6 L679.8,343.6 L680.8,343.6 L681.8,343.9 L682.8,343.9 L683.8,343.8 L684.8,343.7 L685.8,344.1 L686.8,344.8 L687.8,345.2 L688.8,345.4 L689.8,345.7 L690.8,345.8 L691.8,345.7 L692.8,345.8 L693.8,346.5 L694.8,347.0 L695.8,346.4 L696.8,346.0 L697.8,346.4 L698.8,347.0 L699.8,347.5 L700.8,347.6 L701.8,347.7 L702.8,347.4 L703.8,348.1 L704.8,348.2 L705.8,348.4 L706.8,348.1 L707.8,348.1 L708.8,348.0 L709.8,348.1 L710.8,348.4 L711.8,349.2 L712.8,349.6 L713.8,350.0 L714.8,349.8 L715.8,349.7 L716.8,349.8 L717.8,350.4 L718.8,350.5 L719.8,351.0 L720.8,350.7 L721.8,350.4 L722.8,350.2 L723.8,350.2 L724.8,350.8 L725.8,351.1 L726.8,351.2 L727.8,351.3 L728.8,351.6 L729.8,351.9 L730.8,351.8 L731.8,351.7 L732.8,352.0 L733.8,352.2 L734.8,352.5 L735.8,353.2 L736.8,353.0 L737.8,352.7 L738.8,352.6 L739.8,353.3 L740.8,353.5 L741.8,353.8 L742.8,354.3 L743.8,354.6 L744.8,354.7 L745.8,354.8 L746.8,355.1 L747.8,355.3 L748.8,355.6 L749.8,355.8 L750.8,355.9 L751.8,355.7 L752.8,355.7 L753.8,355.6 L754.8,355.8 L755.8,356.2 L756.8,356.5 L757.8,356.4 L758.8,356.6 L759.8,357.1 L760.8,357.1 L761.8,357.3 L762.8,357.7 L763.8,357.9 L764.8,357.9 L765.8,358.1 L766.8,358.1 L767.8,358.3 L768.8,358.5 L769.8,358.6 L770.8,358.6 L771.8,358.6 L772.8,358.7 L773.8,358.9 L774.8,359.6 L775.8,359.7 L776.8,359.5 L777.8,359.3 L778.8,359.5 L779.8,359.4 L780.8,359.1 L781.8,359.4 L782.8,359.9 L783.8,360.3 L784.8,360.6 L785.8,360.6 L786.8,360.4 L787.8,360.0 L788.8,360.0 L789.8,360.3 L790.8,360.5 L791.8,360.5 L792.8,360.2 L793.8,360.6 L794.8,361.3 L795.8,361.4 L796.8,361.2 L797.8,360.8 L798.8,361.4 L799.8,361.4 L800.8,361.5 L801.8,361.8 L802.8,361.9 L803.8,362.0 L804.8,362.4 L805.8,362.5 L806.8,362.9 L807.8,363.0 L808.8,363.7 L809.8,363.9 L810.8,364.1 L811.8,363.9 L812.8,364.2 L813.8,364.1 L814.8,364.4 L815.8,364.5 L816.8,364.7 L817.8,364.6 L818.8,364.3 L819.8,364.3 L820.8,365.1 L821.8,365.0 L822.8,365.2 L823.8,365.1 L824.8,366.0 L825.8,366.3 L826.8,366.6 L827.8,366.6 L828.8,366.5 L829.8,366.6 L830.8,367.2 L831.8,367.7 L832.8,368.1 L833.8,368.0 L834.8,368.4 L835.8,368.2 L836.8,368.6 L837.8,369.2 L838.8,369.7 L839.8,369.6 L840.8,369.4 L841.8,369.5 L842.8,370.0 L843.8,370.4 L844.8,370.6 L845.8,370.6 L846.8,371.1 L847.8,371.8 L848.8,372.0 L849.8,372.1 L850.8,372.2 L851.8,372.7 L852.8,372.5 L853.8,372.7 L854.8,373.5 L855.8,373.7 L856.8,373.2 L857.8,373.2 L858.8,374.1 L859.8,374.7 L860.8,374.3 L861.8,374.5 L862.8,375.0 L863.8,375.8 L864.8,375.8 L865.8,376.1 L866.8,376.1 L867.8,376.6 L868.8,377.2 L869.8,377.3 L870.8,376.9 L871.8,377.4 L872.8,377.9 L873.8,377.7 L874.8,377.5 L875.8,377.8 L876.8,378.5 L877.8,378.6 L878.8,378.7 L879.8,379.1 L880.8,379.3 L881.8,379.6 L882.8,379.9 L883.8,380.4 L884.8,380.9 L885.8,381.3 L886.8,381.6 L887.8,381.7 L888.8,381.9 L889.8,382.4 L890.8,382.8 L891.8,383.5 L892.8,383.6 L893.8,384.0 L894.8,383.8 L895.8,383.9 L896.8,384.4 L897.8,384.7 L898.8,384.3 L899.8,383.9 L900.8,384.3 L901.8,385.2 L902.8,385.9 L903.8,386.0 L904.8,385.9 L905.8,386.0 L906.8,386.4 L907.8,386.7 L908.8,386.8 L909.8,386.7 L910.8,386.3 L911.8,386.4 L912.8,386.0 L913.8,386.8 L914.8,387.2 L915.8,387.9 L916.8,388.1 L917.8,388.1 L918.8,388.0 L919.8,388.2 L920.8,388.7 L921.8,389.2 L922.8,389.2 L923.8,389.1 L924.8,389.3 L925.8,389.8 L926.8,390.3 L927.8,390.5 L928.8,390.6 L929.8,390.2 L930.8,389.5 L931.8,389.8 L932.8,390.3 L933.8,390.3 L934.8,390.5 L935.8,391.0 L936.8,391.6 L937.8,391.8 L938.8,392.0 L939.8,392.2 L940.8,392.2 L941.8,392.3 L942.8,392.8 L942.9,393.2"/>
<path class="ic" stroke="#0f0" stroke-width="3.3" d="M240.8,467.0 L241.8,466.2 L242.8,465.2 L243.8,464.0 L244.8,463.1 L245.8,462.5 L246.8,461.6 L247.8,460.5 L248.8,458.9 L249.8,457.8 L250.8,456.8 L251.8,456.2 L252.8,455.4 L253.8,455.2 L254.8,454.0 L255.8,453.1 L256.8,452.3 L257.8,451.6 L258.8,450.7 L259.8,449.5 L260.8,448.5 L261.8,447.3 L262.8,446.2 L263.8,445.7 L264.8,445.1 L265.8,444.2 L266.8,442.8 L267.8,442.0 L268.8,441.3 L269.8,440.7 L270.8,439.7 L271.8,438.9 L272.8,438.0 L273.8,436.8 L274.8,436.1 L275.8,435.3 L276.8,434.8 L277.8,434.3 L278.8,433.1 L279.8,432.2 L280.8,431.2 L281.8,429.9 L282.8,428.8 L283.8,427.9 L284.8,427.5 L285.8,426.8 L286.8,425.6 L287.8,424.9 L288.8,424.1 L289.8,422.8 L290.8,421.7 L291.8,420.6 L292.8,420.1 L293.8,418.9 L294.8,417.7 L295.8,416.5 L296.8,415.1 L297.8,414.0 L298.8,413.1 L299.8,412.5 L300.8,411.4 L301.8,410.3 L302.8,409.3 L303.8,408.4 L304.8,407.4 L305.8,406.7 L306.8,406.1 L307.8,404.9 L308.8,403.9 L309.8,402.8 L310.8,401.9 L311.8,400.7 L312.8,400.1 L313.8,399.5 L314.8,398.6 L315.8,397.6 L316.8,396.8 L317.8,395.9 L318.8,394.9 L319.8,394.0 L320.8,392.8 L321.8,391.8 L322.8,390.8 L323.8,390.0 L324.8,389.3 L325.8,388.6 L326.8,387.5 L327.8,386.2 L328.8,385.1 L329.8,384.4 L330.8,384.0 L331.8,383.1 L332.8,382.3 L333.8,381.4 L334.8,380.6 L335.8,379.7 L336.8,379.0 L337.8,378.6 L338.8,378.2 L339.8,377.1 L340.8,376.0 L341.8,375.0 L342.8,374.2 L343.8,373.7 L344.8,372.8 L345.8,372.1 L346.8,371.1 L347.8,370.4 L348.8,370.0 L349.8,369.2 L350.8,368.1 L351.8,367.0 L352.8,365.7 L353.8,365.1 L354.8,364.7 L355.8,364.6 L356.8,363.9 L357.8,363.1 L358.8,362.5 L359.8,361.3 L360.8,360.1 L361.8,359.4 L362.8,359.3 L363.8,358.9 L364.8,358.4 L365.8,357.8 L366.8,357.2 L367.8,356.3 L368.8,355.4 L369.8,354.8 L370.8,354.5 L371.8,353.9 L372.8,353.4 L373.8,353.0 L374.8,352.7 L375.8,351.9 L376.8,350.9 L377.8,350.3 L378.8,349.6 L379.8,349.0 L380.8,348.8 L381.8,348.4 L382.8,348.2 L383.8,347.5 L384.8,346.9 L385.8,346.3 L386.8,345.7 L387.8,345.2 L388.8,344.6 L389.8,344.2 L390.8,343.6 L391.8,343.4 L392.8,343.3 L393.8,343.0 L394.8,342.4 L395.8,342.0 L396.8,341.1 L397.8,340.3 L398.8,339.8 L399.8,339.1 L400.8,338.8 L401.8,338.6 L402.8,338.2 L403.8,337.7 L404.8,337.0 L405.8,336.4 L406.8,335.8 L407.8,335.0 L408.8,334.9 L409.8,334.1 L410.8,334.4 L411.8,334.2 L412.8,333.6 L413.8,333.1 L414.8,332.4 L415.8,332.0 L416.8,331.9 L417.8,331.6 L418.8,331.0 L419.8,330.2 L420.8,329.8 L421.8,330.0 L422.8,329.7 L423.8,329.0 L424.8,328.3 L425.8,327.6 L426.8,327.5 L427.8,327.1 L428.8,327.0 L429.8,326.4 L430.8,326.0 L431.8,325.2 L432.8,324.4 L433.8,324.1 L434.8,324.0 L435.8,323.7 L436.8,322.9 L437.8,322.7 L438.8,323.2 L439.8,323.4 L440.8,323.4 L441.8,322.9 L442.8,322.2 L443.8,322.2 L444.8,322.2 L445.8,322.1 L446.8,321.8 L447.8,321.7 L448.8,321.4 L449.8,321.0 L450.8,319.8 L451.8,319.6 L452.8,319.3 L453.8,319.2 L454.8,319.0 L455.8,318.7 L456.8,318.2 L457.8,317.7 L458.8,317.8 L459.8,317.8 L460.8,317.9 L461.8,318.0 L462.8,317.8 L463.8,317.5 L464.8,317.1 L465.8,317.1 L466.8,317.2 L467.8,317.0 L468.8,316.6 L469.8,316.2 L470.8,315.8 L471.8,315.1 L472.8,315.0 L473.8,314.9 L474.8,314.7 L475.8,313.9 L476.8,313.6 L477.8,313.1 L478.8,313.1 L479.8,313.9 L480.8,314.3 L481.8,314.1 L482.8,313.5 L483.8,313.2 L484.8,313.1 L485.8,313.5 L486.8,313.6 L487.8,313.4 L488.8,313.0 L489.8,312.6 L490.8,312.0 L491.8,311.9 L492.8,311.8 L493.8,311.4 L494.8,311.3 L495.8,311.6 L496.8,311.7 L497.8,311.9 L498.8,312.2 L499.8,312.3 L500.8,312.0 L501.8,311.8 L502.8,311.7 L503.8,311.2 L504.8,310.9 L505.8,311.0 L506.8,311.0 L507.8,311.3 L508.8,311.6 L509.8,312.0 L510.8,311.8 L511.8,311.4 L512.8,311.9 L513.8,312.6 L514.8,312.8 L515.8,312.7 L516.8,312.2 L517.8,311.6 L518.8,311.6 L519.8,312.1 L520.8,312.5 L521.8,312.3 L522.8,312.3 L523.8,312.0 L524.8,311.8 L525.8,312.2 L526.8,313.1 L527.8,313.4 L528.8,313.5 L529.8,313.1 L530.8,313.1 L531.8,312.6 L532.8,313.0 L533.8,313.4 L534.8,314.2 L535.8,314.3 L536.8,314.4 L537.8,313.5 L538.8,313.9 L539.8,313.9 L540.8,314.2 L541.8,313.8 L542.8,313.7 L543.8,314.3 L544.8,314.6 L545.8,314.6 L546.8,314.7 L547.8,315.1 L548.8,315.4 L549.8,315.6 L550.8,315.5 L551.8,315.7 L552.8,315.2 L553.8,315.2 L554.8,315.2 L555.8,315.7 L556.8,316.4 L557.8,316.6 L558.8,316.7 L559.8,316.3 L560.8,316.3 L561.8,316.7 L562.8,317.3 L563.8,317.3 L564.8,317.4 L565.8,317.9 L566.8,317.8 L567.8,317.7 L568.8,317.3 L569.8,317.1 L570.8,317.3 L571.8,317.9 L572.8,318.4 L573.8,318.4 L574.8,318.4 L575.8,318.9 L576.8,319.6 L577.8,319.9 L578.8,319.5 L579.8,319.3 L580.8,319.7 L581.8,320.2 L582.8,320.1 L583.8,320.5 L584.8,320.5 L585.8,320.7 L586.8,320.0 L587.8,319.8 L588.8,320.1 L589.8,320.4 L590.8,320.6 L591.8,320.9 L592.8,321.2 L593.8,321.1 L594.8,321.0 L595.8,320.9 L596.8,321.1 L597.8,321.0 L598.8,321.4 L599.8,321.6 L600.8,321.7 L601.8,321.8 L602.8,321.7 L603.8,321.4 L604.8,321.2 L605.8,321.1 L606.8,321.5 L607.8,321.7 L608.8,322.2 L609.8,322.0 L610.8,321.8 L611.8,321.8 L612.8,322.4 L613.8,322.7 L614.8,322.8 L615.8,322.4 L616.8,322.7 L617.8,322.9 L618.8,323.2 L619.8,323.0 L620.8,323.3 L621.8,323.6 L622.8,324.1 L623.8,324.2 L624.8,324.2 L625.8,324.1 L626.8,324.2 L627.8,324.5 L628.8,324.4 L629.8,324.2 L630.8,324.5 L631.8,324.7 L632.8,325.1 L633.8,325.6 L634.8,326.2 L635.8,325.9 L636.8,325.7 L637.8,326.2 L638.8,326.6 L639.8,326.4 L640.8,326.5 L641.8,327.2 L642.8,327.0 L643.8,326.7 L644.8,326.8 L645.8,327.1 L646.8,327.1 L647.8,327.4 L648.8,327.8 L649.8,328.0 L650.8,328.2 L651.8,328.8 L652.8,329.4 L653.8,330.2 L654.8,330.4 L655.8,330.4 L656.8,330.4 L657.8,330.6 L658.8,331.2 L659.8,332.0 L660.8,332.2 L661.8,332.2 L662.8,332.1 L663.8,332.6 L664.8,332.7 L665.8,333.1 L666.8,333.4 L667.8,333.6 L668.8,333.6 L669.8,333.5 L670.8,333.8 L671.8,334.2 L672.8,335.3 L673.8,335.6 L674.8,335.5 L675.8,334.6 L676.8,335.1 L677.8,335.0 L678.8,334.9 L679.8,334.9 L680.8,335.1 L681.8,335.7 L682.8,336.3 L683.8,336.8 L684.8,336.5 L685.8,336.0 L686.8,335.9 L687.8,336.5 L688.8,337.2 L689.8,337.7 L690.8,337.9 L691.8,337.8 L692.8,337.8 L693.8,337.8 L694.8,337.9 L695.8,338.4 L696.8,339.0 L697.8,338.8 L698.8,338.6 L699.8,338.8 L700.8,339.6 L701.8,339.5 L702.8,339.0 L703.8,339.0 L704.8,339.8 L705.8,340.2 L706.8,340.4 L707.8,340.4 L708.8,341.1 L709.8,341.0 L710.8,341.2 L711.8,340.8 L712.8,341.2 L713.8,341.4 L714.8,341.6 L715.8,341.7 L716.8,341.7 L717.8,341.6 L718.8,341.7 L719.8,341.8 L720.8,341.9 L721.8,342.1 L722.8,342.5 L723.8,343.0 L724.8,343.3 L725.8,342.9 L726.8,343.2 L727.8,343.2 L728.8,342.9 L729.8,343.3 L730.8,344.1 L731.8,345.1 L732.8,344.9 L733.8,344.5 L734.8,344.4 L735.8,344.7 L736.8,345.2 L737.8,345.2 L738.8,344.8 L739.8,345.0 L740.8,345.2 L741.8,346.0 L742.8,346.1 L743.8,345.5 L744.8,345.6 L745.8,346.1 L746.8,346.4 L747.8,346.7 L748.8,346.5 L749.8,346.5 L750.8,346.7 L751.8,347.6 L752.8,348.0 L753.8,348.0 L754.8,348.1 L755.8,348.5 L756.8,348.9 L757.8,348.8 L758.8,349.2 L759.8,349.7 L760.8,350.1 L761.8,350.2 L762.8,349.9 L763.8,350.1 L764.8,350.2 L765.8,350.1 L766.8,350.6 L767.8,351.1 L768.8,351.5 L769.8,351.9 L770.8,352.4 L771.8,352.8 L772.8,353.0 L773.8,353.6 L774.8,353.5 L775.8,353.6 L776.8,353.7 L777.8,354.3 L778.8,354.9 L779.8,354.9 L780.8,354.6 L781.8,354.6 L782.8,354.8 L783.8,355.5 L784.8,356.4 L785.8,356.4 L786.8,357.0 L787.8,357.0 L788.8,357.5 L789.8,357.6 L790.8,357.9 L791.8,358.4 L792.8,359.1 L793.8,359.2 L794.8,359.6 L795.8,359.7 L796.8,360.5 L797.8,360.8 L798.8,360.9 L799.8,360.9 L800.8,361.4 L801.8,361.1 L802.8,361.1 L803.8,361.2 L804.8,361.6 L805.8,362.6 L806.8,362.3 L807.8,362.4 L808.8,362.8 L809.8,362.9 L810.8,363.2 L811.8,364.0 L812.8,365.0 L813.8,365.1 L814.8,364.7 L815.8,365.2 L816.8,365.8 L817.8,365.7 L818.8,365.9 L819.8,366.1 L820.8,365.9 L821.8,366.1 L822.8,366.5 L823.8,367.4 L824.8,367.5 L825.8,367.1 L826.8,366.9 L827.8,367.3 L828.8,367.6 L829.8,367.9 L830.8,368.0 L831.8,368.3 L832.8,368.6 L833.8,369.1 L834.8,368.9 L835.8,368.9 L836.8,369.3 L837.8,369.5 L838.8,369.5 L839.8,369.7 L840.8,370.3 L841.8,370.5 L842.8,370.6 L843.8,370.8 L844.8,371.3 L845.8,371.4 L846.8,371.4 L847.8,371.0 L848.8,371.0 L849.8,371.5 L850.8,372.3 L851.8,372.6 L852.8,372.4 L853.8,372.5 L854.8,372.7 L855.8,373.0 L856.8,373.3 L857.8,373.7 L858.8,373.8 L859.8,374.2 L860.8,374.5 L861.8,375.1 L862.8,376.0 L863.8,376.6 L864.8,376.5 L865.8,376.7 L866.8,377.1 L867.8,377.7 L868.8,378.4 L869.8,378.6 L870.8,378.7 L871.8,378.7 L872.8,378.6 L873.8,378.3 L874.8,379.2 L875.8,380.2 L876.8,380.9 L877.8,381.4 L878.8,381.7 L879.8,382.3 L880.8,382.4 L881.8,382.8 L882.8,383.2 L883.8,382.8 L884.8,382.9 L885.8,383.1 L886.8,383.2 L887.8,383.3 L888.8,383.6 L889.8,383.9 L890.8,384.3 L891.8,385.0 L892.8,385.1 L893.8,385.2 L894.8,385.3 L895.8,385.6 L896.8,386.1 L897.8,386.6 L898.8,387.1 L899.8,387.2 L900.8,387.1 L901.8,387.4 L902.8,387.8 L903.8,387.7 L904.8,387.9 L905.8,388.4 L906.8,388.8 L907.8,388.7 L908.8,388.7 L909.8,389.0 L910.8,389.6 L911.8,388.8 L912.8,388.4 L913.8,388.5 L914.8,389.1 L915.8,389.7 L916.8,390.1 L917.8,390.5 L918.8,390.7 L919.8,390.7 L920.8,391.1 L921.8,391.4 L922.8,391.4 L923.8,391.8 L924.8,392.2 L925.8,392.2 L926.8,392.1 L927.8,392.2 L928.8,392.8 L929.8,393.3 L930.8,393.8 L931.8,394.0 L932.8,394.1 L933.8,394.5 L934.8,394.8 L935.8,395.0 L936.8,395.5 L937.8,395.7 L938.8,395.8 L939.8,396.0 L940.8,396.2 L941.8,396.3 L942.8,396.6 L942.9,396.9"/>
</g>
<g id="curves">
<path class="cf" fill="#000" d="M301.0,1596.8 303.0,1596.8 306.0,1596.7 308.0,1596.6 311.0,1596.5 313.0,1596.4 316.0,1596.3 318.0,1596.1 321.0,1595.9 323.0,1595.8 326.0,1595.6 328.0,1595.5 331.0,1595.2 332.9,1595.0 335.9,1594.7 337.9,1594.5 340.9,1594.1 342.9,1593.8 345.9,1593.4 347.8,1593.1 350.8,1592.7 352.8,1592.4 355.8,1591.9 357.7,1591.5 360.7,1591.0 362.7,1590.6 365.5,1589.9 367.5,1589.4 370.3,1588.5 372.1,1587.8 374.9,1586.6 376.7,1585.8 379.5,1584.5 381.3,1583.6 384.0,1582.3 385.9,1581.5 388.6,1580.3 390.5,1579.6 393.3,1578.6 395.2,1577.9 398.0,1576.9 399.9,1576.2 402.8,1575.3 404.7,1574.7 407.5,1573.8 409.5,1573.3 412.4,1572.4 414.3,1571.9 417.2,1571.2 419.2,1570.9 422.1,1570.4 424.1,1570.1 427.1,1569.6 429.0,1569.3 432.0,1569.0 434.0,1568.7 437.0,1568.4 439.0,1568.3 442.0,1568.1 444.0,1567.9 447.0,1567.7 449.0,1567.6 452.0,1567.4 454.0,1567.3 457.0,1567.1 459.0,1567.1 462.0,1567.0 464.0,1566.9 467.0,1566.9 469.0,1566.9 472.0,1566.9 474.0,1566.9 477.0,1566.9 479.0,1566.9 482.0,1566.9 484.0,1567.0 487.0,1567.0 489.0,1567.0 492.0,1567.0 494.0,1567.0 497.0,1567.0 499.0,1567.0 502.0,1567.0 504.0,1567.0 507.0,1567.0 509.0,1567.0 512.0,1567.0 514.0,1567.0 517.0,1567.0 519.0,1567.0 522.0,1567.0 524.0,1567.0 527.0,1567.0 529.0,1566.9 532.0,1566.9 534.0,1566.9 537.0,1566.9 539.0,1566.9 542.0,1566.9 544.0,1566.9 547.0,1566.8 549.0,1566.7 552.0,1566.6 554.0,1566.6 557.0,1566.4 559.0,1566.3 562.0,1566.2 564.0,1566.1 566.9,1565.9 568.9,1565.9 571.9,1565.7 573.9,1565.6 576.9,1565.4 578.9,1565.3 581.9,1565.1 583.9,1564.9 586.9,1564.7 588.9,1564.5 591.9,1564.2 593.9,1564.0 596.9,1563.6 598.8,1563.4 601.8,1563.0 603.8,1562.7 606.8,1562.3 608.7,1562.0 611.7,1561.5 613.7,1561.2 616.6,1560.7 618.6,1560.4 621.6,1559.9 623.5,1559.5 626.5,1559.0 628.5,1558.6 631.4,1558.1 633.4,1557.8 636.3,1557.2 638.3,1556.9 641.3,1556.4 643.3,1556.1 646.2,1555.7 648.2,1555.4 651.2,1554.8 653.1,1554.5 656.1,1553.9 658.0,1553.5 660.9,1552.8 662.9,1552.2 665.8,1551.4 667.7,1550.8 670.5,1549.8 672.4,1549.2 675.1,1548.0 677.0,1547.2 679.7,1545.8 681.4,1544.9 684.0,1543.4 685.7,1542.4 688.3,1540.8 689.9,1539.6 692.4,1537.9 694.0,1536.7 696.4,1534.8 697.9,1533.5 700.2,1531.6 701.7,1530.3 703.9,1528.3 705.4,1526.9 707.5,1524.8 708.9,1523.3 710.9,1521.1 712.3,1519.6 714.2,1517.3 715.4,1515.8 717.2,1513.4 718.4,1511.8 720.1,1509.3 721.3,1507.7 722.9,1505.2 724.0,1503.5 725.7,1501.0 726.8,1499.3 728.4,1496.8 729.5,1495.1 731.0,1492.5 732.1,1490.8 733.6,1488.2 734.6,1486.5 736.0,1483.9 736.9,1482.1 738.2,1479.4 739.1,1477.6 740.3,1474.9 741.2,1473.1 742.5,1470.4 743.4,1468.6 744.7,1465.9 745.5,1464.1 746.9,1461.4 747.8,1459.7 749.1,1457.0 750.0,1455.2 751.4,1452.5 752.3,1450.8 753.6,1448.1 754.6,1446.3 755.9,1443.7 756.9,1441.9 758.3,1439.2 759.2,1437.5 760.7,1434.8 761.6,1433.1 763.1,1430.5 764.0,1428.7 765.5,1426.1 766.5,1424.4 768.0,1421.8 769.0,1420.0 770.5,1417.5 771.5,1415.7 773.0,1413.1 774.1,1411.4 775.6,1408.9 776.7,1407.1 778.2,1404.6 779.3,1402.9 780.9,1400.3 781.9,1398.7 783.5,1396.1 784.6,1394.5 786.3,1391.9 787.4,1390.3 789.0,1387.8 790.1,1386.1 791.8,1383.7 793.0,1382.0 794.7,1379.6 795.9,1378.0 797.6,1375.5 798.8,1373.9 800.6,1371.5 801.8,1369.9 803.6,1367.5 804.8,1366.0 806.7,1363.6 807.9,1362.0 809.8,1359.7 811.1,1358.1 813.0,1355.8 814.2,1354.3 816.1,1352.0 817.4,1350.4 819.4,1348.1 820.6,1346.6 822.6,1344.3 823.9,1342.8 825.8,1340.5 827.1,1339.0 829.1,1336.7 830.4,1335.2 832.4,1333.0 833.7,1331.4 835.6,1329.2 836.9,1327.6 838.9,1325.4 840.1,1323.8 842.1,1321.5 843.3,1320.0 845.3,1317.7 846.5,1316.1 848.4,1313.8 849.7,1312.2 851.5,1309.9 852.7,1308.3 854.6,1306.0 855.8,1304.4 857.6,1302.0 858.8,1300.4 860.5,1298.0 861.7,1296.3 863.4,1293.9 864.5,1292.3 866.2,1289.8 867.4,1288.2 869.0,1285.7 870.1,1284.0 871.7,1281.5 872.8,1279.9 874.4,1277.3 875.4,1275.7 877.0,1273.1 878.0,1271.4 879.5,1268.8 880.4,1267.1 881.9,1264.5 882.8,1262.8 884.1,1260.1 885.0,1258.4 886.3,1255.7 887.2,1253.9 888.4,1251.2 889.2,1249.4 890.4,1246.6 891.1,1244.8 892.3,1242.0 893.0,1240.1 894.1,1237.3 894.8,1235.5 895.8,1232.7 896.5,1230.8 897.5,1227.9 898.1,1226.0 899.1,1223.2 899.7,1221.3 900.7,1218.4 901.3,1216.5 902.2,1213.7 902.8,1211.8 903.7,1208.9 904.3,1207.0 905.2,1204.1 905.8,1202.2 906.6,1199.3 907.2,1197.4 908.0,1194.5 908.5,1192.6 909.3,1189.7 909.8,1187.8 910.6,1184.9 911.1,1182.9 911.8,1180.0 912.3,1178.1 913.0,1175.2 913.5,1173.2 914.2,1170.3 914.7,1168.4 915.3,1165.5 915.8,1163.5 916.4,1160.6 916.8,1158.6 917.5,1155.7 917.9,1153.7 918.5,1150.8 918.9,1148.9 919.5,1145.9 919.9,1144.0 920.5,1141.0 920.9,1139.1 921.5,1136.1 921.9,1134.2 922.5,1131.2 922.9,1129.2 923.5,1126.3 923.9,1124.3 924.4,1121.4 924.8,1119.4 925.4,1116.5 925.7,1114.5 926.3,1111.6 926.7,1109.6 927.2,1106.7 927.6,1104.7 928.1,1101.7 928.5,1099.8 929.1,1096.8 929.4,1094.9 930.0,1091.9 930.3,1089.9 930.9,1087.0 931.2,1085.0 931.8,1082.1 932.1,1080.1 932.6,1077.2 933.0,1075.2 933.5,1072.2 933.9,1070.3 934.4,1067.3 934.8,1065.3 935.3,1062.4 935.6,1060.4 936.1,1057.5 936.5,1055.5 937.0,1052.5 937.3,1050.6 937.9,1047.6 938.2,1045.6 938.7,1042.7 939.0,1040.7 939.5,1037.7 939.9,1035.8 940.4,1032.8 940.7,1030.8 941.2,1027.9 941.6,1025.9 942.1,1023.0 942.4,1021.0 942.9,1018.0 943.2,1016.1 943.7,1013.1 944.1,1011.1 944.5,1008.2 944.9,1006.2 945.4,1003.2 945.7,1001.3 946.2,998.3 946.5,996.3 947.0,993.4 947.3,991.4 947.8,988.4 948.1,986.5 948.6,983.5 948.9,981.5 949.4,978.6 949.7,976.6 950.2,973.6 950.5,971.7 951.0,968.7 951.3,966.7 951.8,963.8 952.1,961.8 952.6,958.8 952.9,956.8 953.4,953.9 953.7,951.9 954.2,948.9 954.5,947.0 954.9,944.0 955.2,942.0 955.7,939.1 956.0,937.1 956.5,934.1 956.8,932.1 957.2,929.2 957.5,927.2 958.0,924.2 958.3,922.3 958.7,919.3 959.0,917.3 959.5,914.3 959.8,912.4 960.2,909.4 960.5,907.4 960.9,904.4 961.2,902.5 961.7,899.5 961.9,897.5 962.4,894.6 962.7,892.6 963.1,889.6 963.4,887.6 963.8,884.7 964.1,882.7 964.5,879.7 964.8,877.7 965.2,874.7 965.4,872.8 965.8,869.8 966.1,867.8 966.5,864.8 966.8,862.9 967.2,859.9 967.4,857.9 967.8,854.9 968.1,852.9 968.5,850.0 968.7,848.0 969.1,845.0 969.4,843.0 969.8,840.1 970.0,838.1 970.4,835.1 970.7,833.1 971.0,830.1 971.3,828.2 971.7,825.2 971.9,823.2 972.3,820.2 972.5,818.2 972.9,815.3 973.2,813.3 973.5,810.3 973.8,808.3 974.2,805.3 974.4,803.3 974.8,800.4 975.0,798.4 975.4,795.4 975.7,793.4 976.0,790.4 976.3,788.5 976.7,785.5 976.9,783.5 977.3,780.5 977.5,778.5 977.9,775.6 978.2,773.6 978.6,770.6 978.8,768.6 979.2,765.6 979.4,763.7 979.8,760.7 980.1,758.7 980.5,755.7 980.7,753.7 981.1,750.8 981.4,748.8 981.7,745.8 982.0,743.8 982.4,740.8 982.6,738.9 983.0,735.9 983.3,733.9 983.7,730.9 983.9,728.9 984.3,726.0 984.6,724.0 984.9,721.0 985.2,719.0 985.6,716.1 985.8,714.1 986.2,711.1 986.5,709.1 986.9,706.1 987.1,704.2 987.5,701.2 987.8,699.2 988.2,696.2 988.4,694.2 988.8,691.3 989.1,689.3 989.5,686.3 989.8,684.3 990.2,681.4 990.4,679.4 990.8,676.4 991.1,674.4 991.5,671.4 991.8,669.5 992.2,666.5 992.4,664.5 992.8,661.5 993.1,659.6 993.5,656.6 993.8,654.6 994.2,651.6 994.5,649.7 994.9,646.7 995.2,644.7 995.6,641.7 995.9,639.8 996.3,636.8 996.6,634.8 997.1,631.8 997.4,629.9 997.8,626.9 998.1,624.9 998.5,621.9 998.8,620.0 999.3,617.0 999.5,615.0 1000.0,612.1 1000.3,610.1 1000.7,607.1 1001.0,605.1 1001.5,602.2 1001.8,600.2 1002.2,597.2 1002.5,595.2 1003.0,592.3 1003.3,590.3 1003.8,587.3 1004.1,585.4 1004.5,582.4 1004.8,580.4 1005.3,577.5 1005.6,575.5 1006.1,572.5 1006.4,570.5 1006.8,567.6 1007.2,565.6 1007.6,562.6 1007.9,560.7 1008.4,557.7 1008.7,555.7 1009.2,552.8 1009.5,550.8 1010.0,547.8 1010.3,545.8 1010.7,542.9 1011.1,540.9 1011.5,537.9 1011.8,536.0 1012.3,533.0 1012.6,531.0 1013.1,528.1 1013.4,526.1 1013.9,523.1 1014.2,521.1 1014.6,518.2 1014.9,516.2 1015.4,513.2 1015.7,511.3 1016.2,508.3 1016.5,506.3 1017.0,503.4 1017.3,501.4 1017.8,498.4 1018.1,496.5 1018.5,493.5 1018.8,491.5 1019.3,488.6 1019.6,486.6 1020.1,483.6 1020.4,481.6 1020.9,478.7 1021.2,476.7 1021.7,473.7 1022.0,471.8 1022.5,468.8 1022.8,466.8 1023.3,463.9 1023.7,461.9 1024.2,458.9 1024.5,457.0 1025.0,454.0 1025.3,452.0 1025.8,449.1 1026.2,447.1 1026.7,444.2 1027.0,442.2 1027.6,439.2 1027.9,437.3 1028.4,434.3 1028.8,432.4 1029.3,429.4 1029.7,427.4 1030.2,424.5 1030.6,422.5 1031.1,419.6 1031.5,417.6 1032.0,414.6 1032.4,412.7 1033.0,409.7 1033.3,407.8 1033.9,404.8 1034.3,402.9 1034.8,399.9 1035.2,397.9 1035.7,395.0 1036.1,393.0 1036.7,390.1 1037.1,388.1 1037.6,385.2 1038.0,383.2 1038.6,380.3 1038.9,378.3 1039.5,375.3 1039.9,373.4 1040.4,370.4 1040.8,368.5 1041.3,365.5 1041.7,363.6 1042.3,360.6 1042.6,358.6 1043.2,355.7 1043.6,353.7 1044.1,350.8 1044.5,348.8 1045.0,345.9 1045.4,343.9 1045.9,340.9 1046.3,339.0 1046.9,336.0 1047.2,334.1 1047.8,331.1 1048.1,329.1 1048.7,326.2 1049.1,324.2 1049.6,321.3 1050.0,319.3 1050.5,316.4 1050.9,314.4 1051.5,311.5 1051.8,309.5 1052.4,306.5 1052.8,304.6 1053.3,301.6 1053.7,299.7 1054.3,296.7 1054.7,294.8 1055.2,291.8 1055.6,289.9 1056.2,286.9 1056.6,284.9 1057.2,282.0 1057.6,280.0 1058.2,277.1 1058.6,275.1 1059.2,272.2 1059.6,270.2 1060.2,267.3 1060.6,265.3 1061.2,262.4 1061.6,260.4 1062.2,257.5 1062.6,255.6 1063.2,252.6 1063.6,250.7 1064.2,247.7 1064.6,245.8 1065.2,242.8 1065.7,240.9 1066.3,237.9 1066.7,236.0 1067.3,233.0 1067.7,231.1 1068.4,228.2 1068.8,226.2 1069.4,223.3 1069.9,221.3 1070.5,218.4 1070.9,216.4 1071.6,213.5 1072.0,211.5 1072.7,208.6 1073.1,206.7 1073.8,203.7 1074.2,201.8 1074.9,198.9 1075.3,196.9 1076.0,194.0 1076.5,192.1 1077.2,189.1 1077.7,187.2 1078.4,184.3 1078.9,182.4 1079.6,179.5 1080.1,177.6 1080.9,174.7 1081.4,172.8 1082.2,169.9 1082.7,168.0 1083.5,165.1 1084.1,163.2 1085.0,160.4 1085.5,158.5 1086.4,155.6 1087.1,153.7 1088.0,150.9 1088.7,149.0 1089.8,146.2 1090.5,144.4 1091.6,141.5 1092.4,139.6 1093.7,136.9 1094.7,135.1 1096.3,132.6 1097.6,130.9 1099.9,128.8 1101.4,128.8 1104.1,130.5 1105.7,132.1 1107.4,134.5 1108.2,136.2 1109.3,139.0 1110.0,141.0 1110.8,144.0 1111.3,146.0 1112.1,149.0 1112.5,150.9 1113.1,153.8 1113.5,155.8 1114.1,158.7 1114.5,160.6 1115.0,163.6 1115.3,165.5 1115.9,168.5 1116.2,170.4 1116.7,173.3 1117.0,175.3 1117.5,178.2 1117.8,180.2 1118.3,183.1 1118.6,185.1 1119.1,188.1 1119.3,190.0 1119.8,193.0 1120.1,195.0 1120.5,197.9 1120.8,199.9 1121.2,202.9 1121.4,204.9 1121.8,207.8 1122.1,209.8 1122.5,212.8 1122.7,214.8 1123.1,217.8 1123.3,219.7 1123.7,222.7 1123.9,224.7 1124.3,227.7 1124.5,229.7 1124.8,232.7 1125.1,234.6 1125.4,237.6 1125.6,239.6 1126.0,242.6 1126.2,244.6 1126.5,247.6 1126.7,249.6 1127.0,252.5 1127.2,254.5 1127.5,257.5 1127.7,259.5 1128.0,262.5 1128.2,264.5 1128.5,267.5 1128.7,269.5 1129.0,272.4 1129.2,274.4 1129.5,277.4 1129.7,279.4 1130.0,282.4 1130.1,284.4 1130.4,287.4 1130.6,289.4 1130.9,292.3 1131.1,294.3 1131.4,297.3 1131.5,299.3 1131.8,302.3 1132.0,304.3 1132.3,307.3 1132.5,309.3 1132.8,312.3 1133.0,314.3 1133.2,317.2 1133.4,319.2 1133.7,322.2 1133.9,324.2 1134.2,327.2 1134.3,329.2 1134.6,332.2 1134.8,334.2 1135.1,337.2 1135.3,339.1 1135.5,342.1 1135.7,344.1 1136.0,347.1 1136.2,349.1 1136.4,352.1 1136.6,354.1 1136.9,357.1 1137.1,359.1 1137.3,362.1 1137.5,364.0 1137.8,367.0 1137.9,369.0 1138.2,372.0 1138.4,374.0 1138.6,377.0 1138.8,379.0 1139.0,382.0 1139.2,384.0 1139.4,387.0 1139.6,389.0 1139.9,391.9 1140.0,393.9 1140.3,396.9 1140.4,398.9 1140.7,401.9 1140.8,403.9 1141.1,406.9 1141.2,408.9 1141.5,411.9 1141.6,413.9 1141.9,416.9 1142.0,418.9 1142.3,421.8 1142.4,423.8 1142.7,426.8 1142.8,428.8 1143.1,431.8 1143.2,433.8 1143.5,436.8 1143.6,438.8 1143.9,441.8 1144.0,443.8 1144.3,446.8 1144.4,448.8 1144.7,451.8 1144.8,453.7 1145.1,456.7 1145.2,458.7 1145.5,461.7 1145.7,463.7 1145.9,466.7 1146.1,468.7 1146.3,471.7 1146.5,473.7 1146.8,476.7 1146.9,478.7 1147.2,481.6 1147.3,483.6 1147.6,486.6 1147.8,488.6 1148.0,491.6 1148.2,493.6 1148.5,496.6 1148.6,498.6 1148.9,501.6 1149.0,503.6 1149.3,506.6 1149.5,508.5 1149.7,511.5 1149.9,513.5 1150.1,516.5 1150.3,518.5 1150.6,521.5 1150.7,523.5 1151.0,526.5 1151.1,528.5 1151.4,531.5 1151.5,533.5 1151.8,536.5 1152.0,538.4 1152.2,541.4 1152.4,543.4 1152.6,546.4 1152.8,548.4 1153.0,551.4 1153.2,553.4 1153.4,556.4 1153.6,558.4 1153.8,561.4 1154.0,563.4 1154.2,566.4 1154.4,568.3 1154.6,571.3 1154.7,573.3 1155.0,576.3 1155.1,578.3 1155.4,581.3 1155.5,583.3 1155.7,586.3 1155.9,588.3 1156.1,591.3 1156.3,593.3 1156.5,596.3 1156.6,598.3 1156.9,601.3 1157.0,603.2 1157.2,606.2 1157.4,608.2 1157.6,611.2 1157.7,613.2 1158.0,616.2 1158.1,618.2 1158.3,621.2 1158.5,623.2 1158.7,626.2 1158.8,628.2 1159.1,631.2 1159.2,633.2 1159.4,636.2 1159.6,638.2 1159.8,641.1 1160.0,643.1 1160.2,646.1 1160.3,648.1 1160.6,651.1 1160.7,653.1 1161.0,656.1 1161.1,658.1 1161.4,661.1 1161.5,663.1 1161.8,666.1 1161.9,668.1 1162.2,671.1 1162.3,673.0 1162.6,676.0 1162.8,678.0 1163.0,681.0 1163.2,683.0 1163.4,686.0 1163.6,688.0 1163.9,691.0 1164.1,693.0 1164.3,696.0 1164.5,697.9 1164.8,700.9 1165.0,702.9 1165.2,705.9 1165.4,707.9 1165.7,710.9 1165.9,712.9 1166.2,715.9 1166.4,717.9 1166.7,720.8 1166.9,722.8 1167.1,725.8 1167.3,727.8 1167.6,730.8 1167.8,732.8 1168.1,735.8 1168.3,737.8 1168.6,740.7 1168.8,742.7 1169.1,745.7 1169.3,747.7 1169.6,750.7 1169.8,752.7 1170.1,755.7 1170.3,757.7 1170.6,760.6 1170.8,762.6 1171.1,765.6 1171.3,767.6 1171.6,770.6 1171.8,772.6 1172.1,775.6 1172.3,777.6 1172.6,780.6 1172.8,782.5 1173.1,785.5 1173.3,787.5 1173.6,790.5 1173.8,792.5 1174.1,795.5 1174.3,797.5 1174.6,800.5 1174.8,802.4 1175.1,805.4 1175.3,807.4 1175.6,810.4 1175.8,812.4 1176.0,815.4 1176.2,817.4 1176.5,820.4 1176.7,822.4 1177.0,825.3 1177.2,827.3 1177.5,830.3 1177.7,832.3 1178.0,835.3 1178.2,837.3 1178.5,840.3 1178.8,842.2 1179.1,845.2 1179.3,847.2 1179.6,850.2 1179.8,852.2 1180.2,855.2 1180.4,857.2 1180.7,860.1 1181.0,862.1 1181.3,865.1 1181.5,867.1 1181.9,870.1 1182.1,872.1 1182.5,875.0 1182.7,877.0 1183.1,880.0 1183.4,882.0 1183.8,885.0 1184.0,886.9 1184.4,889.9 1184.7,891.9 1185.1,894.9 1185.3,896.8 1185.7,899.8 1186.0,901.8 1186.4,904.8 1186.7,906.8 1187.1,909.7 1187.4,911.7 1187.8,914.7 1188.1,916.7 1188.5,919.6 1188.8,921.6 1189.2,924.6 1189.5,926.6 1189.9,929.5 1190.2,931.5 1190.7,934.5 1191.0,936.4 1191.4,939.4 1191.7,941.4 1192.1,944.4 1192.4,946.3 1192.9,949.3 1193.2,951.3 1193.6,954.3 1193.9,956.2 1194.4,959.2 1194.6,961.2 1195.1,964.1 1195.4,966.1 1195.8,969.1 1196.1,971.1 1196.6,974.0 1196.9,976.0 1197.3,979.0 1197.6,981.0 1198.1,983.9 1198.4,985.9 1198.8,988.9 1199.1,990.8 1199.6,993.8 1199.9,995.8 1200.3,998.7 1200.6,1000.7 1201.1,1003.7 1201.4,1005.7 1201.9,1008.6 1202.2,1010.6 1202.6,1013.6 1202.9,1015.5 1203.4,1018.5 1203.7,1020.5 1204.2,1023.4 1204.5,1025.4 1205.0,1028.4 1205.3,1030.4 1205.8,1033.3 1206.2,1035.3 1206.7,1038.2 1207.0,1040.2 1207.5,1043.2 1207.9,1045.1 1208.4,1048.1 1208.7,1050.1 1209.3,1053.0 1209.6,1055.0 1210.1,1057.9 1210.5,1059.9 1211.0,1062.9 1211.4,1064.8 1211.9,1067.8 1212.3,1069.7 1212.9,1072.7 1213.2,1074.6 1213.8,1077.6 1214.2,1079.6 1214.8,1082.5 1215.1,1084.5 1215.7,1087.4 1216.1,1089.4 1216.7,1092.3 1217.1,1094.3 1217.7,1097.2 1218.1,1099.2 1218.7,1102.1 1219.1,1104.1 1219.7,1107.0 1220.1,1109.0 1220.7,1111.9 1221.1,1113.9 1221.8,1116.8 1222.2,1118.8 1222.8,1121.7 1223.2,1123.6 1223.9,1126.6 1224.3,1128.5 1225.0,1131.4 1225.4,1133.4 1226.1,1136.3 1226.5,1138.3 1227.2,1141.2 1227.7,1143.1 1228.4,1146.0 1228.9,1148.0 1229.6,1150.9 1230.1,1152.8 1230.8,1155.7 1231.3,1157.7 1232.1,1160.6 1232.6,1162.5 1233.4,1165.4 1234.0,1167.3 1234.8,1170.2 1235.3,1172.1 1236.2,1175.0 1236.7,1176.9 1237.6,1179.8 1238.2,1181.7 1239.0,1184.6 1239.6,1186.5 1240.5,1189.3 1241.1,1191.3 1242.0,1194.1 1242.7,1196.0 1243.6,1198.9 1244.2,1200.8 1245.2,1203.6 1245.8,1205.5 1246.8,1208.4 1247.4,1210.2 1248.4,1213.1 1249.0,1215.0 1250.0,1217.8 1250.7,1219.7 1251.7,1222.5 1252.4,1224.4 1253.4,1227.2 1254.1,1229.1 1255.1,1231.9 1255.9,1233.8 1256.9,1236.6 1257.6,1238.4 1258.7,1241.2 1259.5,1243.1 1260.6,1245.9 1261.4,1247.7 1262.5,1250.5 1263.3,1252.3 1264.5,1255.1 1265.2,1256.9 1266.4,1259.7 1267.2,1261.5 1268.5,1264.2 1269.3,1266.1 1270.5,1268.8 1271.4,1270.6 1272.6,1273.3 1273.5,1275.1 1274.7,1277.9 1275.6,1279.7 1276.9,1282.4 1277.7,1284.2 1279.1,1286.9 1279.9,1288.7 1281.2,1291.4 1282.1,1293.2 1283.5,1295.9 1284.3,1297.7 1285.7,1300.4 1286.6,1302.2 1288.0,1304.8 1288.9,1306.6 1290.3,1309.3 1291.2,1311.0 1292.6,1313.7 1293.5,1315.4 1295.0,1318.1 1295.9,1319.8 1297.4,1322.4 1298.4,1324.2 1299.9,1326.7 1300.9,1328.4 1302.5,1331.0 1303.5,1332.7 1305.1,1335.2 1306.2,1336.9 1307.8,1339.4 1309.0,1341.0 1310.6,1343.5 1311.8,1345.1 1313.5,1347.6 1314.7,1349.2 1316.5,1351.6 1317.7,1353.2 1319.5,1355.5 1320.7,1357.1 1322.6,1359.5 1323.8,1361.0 1325.7,1363.4 1327.0,1364.9 1328.9,1367.2 1330.2,1368.8 1332.1,1371.1 1333.4,1372.6 1335.4,1374.8 1336.7,1376.4 1338.7,1378.6 1340.0,1380.1 1342.0,1382.3 1343.3,1383.8 1345.4,1386.0 1346.7,1387.5 1348.8,1389.7 1350.2,1391.1 1352.2,1393.3 1353.6,1394.8 1355.7,1396.9 1357.1,1398.3 1359.3,1400.4 1360.7,1401.8 1362.8,1403.9 1364.3,1405.3 1366.5,1407.3 1367.9,1408.7 1370.2,1410.7 1371.6,1412.0 1373.9,1414.0 1375.4,1415.3 1377.7,1417.2 1379.2,1418.5 1381.6,1420.3 1383.1,1421.6 1385.5,1423.4 1387.1,1424.6 1389.5,1426.4 1391.1,1427.6 1393.5,1429.4 1395.1,1430.5 1397.6,1432.2 1399.2,1433.4 1401.7,1435.0 1403.4,1436.1 1405.9,1437.7 1407.6,1438.8 1410.1,1440.4 1411.8,1441.4 1414.4,1443.0 1416.1,1444.0 1418.7,1445.5 1420.4,1446.5 1423.0,1448.0 1424.7,1449.0 1427.4,1450.5 1429.1,1451.4 1431.7,1452.9 1433.5,1453.8 1436.1,1455.3 1437.9,1456.2 1440.5,1457.6 1442.3,1458.6 1445.0,1460.0 1446.7,1460.9 1449.4,1462.3 1451.2,1463.2 1453.8,1464.6 1455.6,1465.5 1458.3,1466.8 1460.1,1467.7 1462.7,1469.1 1464.5,1470.0 1467.2,1471.3 1469.0,1472.2 1471.7,1473.5 1473.5,1474.4 1476.2,1475.7 1478.0,1476.6 1480.7,1477.9 1482.5,1478.7 1485.2,1480.0 1487.0,1480.9 1489.8,1482.1 1491.6,1483.0 1494.3,1484.2 1496.1,1485.1 1498.8,1486.3 1500.7,1487.1 1503.4,1488.3 1505.2,1489.2 1508.0,1490.4 1509.8,1491.2 1512.6,1492.4 1514.4,1493.2 1517.2,1494.3 1519.0,1495.1 1521.8,1496.3 1523.6,1497.0 1526.4,1498.2 1528.2,1499.0 1531.0,1500.1 1532.9,1500.9 1535.6,1502.1 1537.5,1502.8 1540.3,1504.0 1542.1,1504.8 1544.9,1505.9 1546.8,1506.6 1549.6,1507.6 1551.5,1508.2 1554.3,1509.0 1556.3,1509.6 1559.2,1510.3 1561.1,1510.7 1564.0,1511.3 1566.0,1511.6 1569.0,1512.2 1571.0,1512.5 1573.9,1513.0 1575.9,1513.4 1578.9,1514.0 1580.8,1514.4 1583.7,1515.1 1585.6,1515.6 1588.5,1516.4 1590.4,1517.1 1593.2,1518.1 1595.1,1518.8 1597.9,1519.9 1599.8,1520.6 1602.5,1521.8 1604.4,1522.5 1607.2,1523.6 1609.1,1524.4 1611.9,1525.4 1613.7,1526.2 1616.5,1527.3 1618.4,1528.1 1621.2,1529.2 1623.0,1530.0 1625.8,1531.1 1627.7,1531.8 1630.5,1532.8 1632.4,1533.4 1635.3,1534.3 1637.2,1534.8 1640.1,1535.5 1642.0,1536.0 1644.9,1536.7 1646.9,1537.1 1649.8,1537.7 1651.8,1538.1 1654.7,1538.7 1656.7,1539.1 1659.7,1539.7 1661.6,1540.1 1664.5,1540.7 1666.5,1541.2 1669.4,1541.8 1671.4,1542.3 1674.3,1542.9 1676.3,1543.4 1679.2,1544.0 1681.2,1544.4 1684.1,1545.0 1686.1,1545.4 1689.0,1545.9 1691.0,1546.3 1693.9,1546.8 1695.9,1547.1 1698.8,1547.6 1700.8,1548.0 1703.8,1548.5 1705.8,1548.8 1708.7,1549.2 1710.7,1549.6 1713.7,1550.0 1715.6,1550.3 1718.6,1550.8 1720.6,1551.1 1723.5,1551.6 1725.5,1551.9 1728.5,1552.4 1730.5,1552.7 1733.4,1553.1 1735.4,1553.5 1738.4,1553.9 1740.3,1554.2 1743.3,1554.7 1745.3,1555.0 1748.2,1555.4 1750.2,1555.7 1753.2,1556.2 1755.2,1556.5 1758.1,1556.9 1760.1,1557.2 1763.1,1557.6 1765.1,1557.9 1768.0,1558.3 1770.0,1558.6 1773.0,1559.0 1775.0,1559.3 1777.9,1559.7 1779.9,1559.9 1782.9,1560.3 1784.9,1560.6 1787.9,1561.0 1789.8,1561.3 1792.8,1561.6 1794.8,1561.9 1797.8,1562.3 1799.8,1562.5 1802.7,1562.9 1804.7,1563.1 1807.7,1563.5 1809.7,1563.7 1812.7,1564.0 1814.7,1564.2 1817.6,1564.6 1819.6,1564.8 1822.6,1565.1 1824.6,1565.3 1827.6,1565.6 1829.6,1565.8 1832.6,1566.1 1834.6,1566.2 1837.5,1566.5 1839.5,1566.7 1842.5,1567.0 1844.5,1567.1 1847.5,1567.4 1849.5,1567.6 1852.5,1567.8 1854.5,1568.0 1857.5,1568.3 1859.5,1568.4 1862.5,1568.7 1864.4,1568.9 1867.4,1569.1 1869.4,1569.3 1872.4,1569.6 1874.4,1569.7 1877.4,1570.0 1879.4,1570.2 1882.4,1570.5 1884.4,1570.7 1887.4,1570.9 1889.3,1571.1 1892.3,1571.4 1894.3,1571.6 1897.3,1571.8 1899.3,1572.0 1902.3,1572.2 1904.3,1572.4 1907.3,1572.6 1909.3,1572.8 1912.3,1573.0 1914.3,1573.1 1917.3,1573.3 1919.3,1573.4 1922.2,1573.6 1924.2,1573.7 1927.2,1573.9 1929.2,1574.0 1932.2,1574.2 1934.2,1574.3 1937.2,1574.5 1939.2,1574.6 1942.2,1574.7 1944.2,1574.8 1947.2,1575.0 1949.2,1575.0 1952.2,1575.2 1954.2,1575.3 1957.2,1575.4 1959.2,1575.4 1962.2,1575.6 1964.2,1575.6 1967.2,1575.7 1969.2,1575.8 1972.2,1575.9 1974.2,1575.9 1977.2,1576.0 1979.2,1576.1 1982.2,1576.2 1984.2,1576.2 1987.2,1576.3 1989.2,1576.3 1992.2,1576.4 1994.2,1576.5 1997.2,1576.5 1999.2,1576.6 2002.2,1576.6 2004.2,1576.7 2007.2,1576.7 2009.2,1576.8 2012.2,1576.9 2014.2,1576.9 2017.2,1577.0 2019.2,1577.0 2022.2,1577.0 2024.2,1577.1 2027.2,1577.1 2029.2,1577.2 2032.2,1577.2 2034.2,1577.3 2037.2,1577.3 2039.2,1577.4 2042.2,1577.4 2044.2,1577.4 2047.2,1577.5 2049.2,1577.5 2052.2,1577.6 2054.2,1577.6 2057.2,1577.7 2059.2,1577.7 2062.2,1577.7 2064.2,1577.8 2067.2,1577.8 2069.2,1577.8 2072.2,1577.9 2074.2,1577.9 2077.2,1578.0 2079.2,1578.0 2082.2,1578.0 2084.2,1578.1 2087.2,1578.1 2089.2,1578.1 2092.2,1578.2 2094.2,1578.2 2097.2,1578.2 2099.2,1578.2 2102.2,1578.3 2104.2,1578.3 2107.2,1578.3 2109.2,1578.4 2112.2,1578.4 2114.2,1578.4 2117.2,1578.4 2119.2,1578.5 2122.2,1578.5 2124.0,1578.5 2124.0,1586.9 2122.2,1586.9 2119.2,1586.9 2117.2,1586.8 2114.2,1586.8 2112.2,1586.8 2109.2,1586.8 2107.2,1586.7 2104.2,1586.7 2102.2,1586.7 2099.2,1586.6 2097.2,1586.6 2094.2,1586.6 2092.2,1586.6 2089.2,1586.5 2087.2,1586.5 2084.2,1586.5 2082.2,1586.4 2079.2,1586.4 2077.2,1586.4 2074.2,1586.3 2072.2,1586.3 2069.2,1586.2 2067.2,1586.2 2064.2,1586.2 2062.2,1586.1 2059.2,1586.1 2057.2,1586.1 2054.2,1586.0 2052.2,1586.0 2049.2,1585.9 2047.2,1585.9 2044.2,1585.8 2042.2,1585.8 2039.2,1585.8 2037.2,1585.7 2034.2,1585.7 2032.2,1585.6 2029.2,1585.6 2027.2,1585.5 2024.2,1585.5 2022.2,1585.4 2019.2,1585.4 2017.2,1585.4 2014.2,1585.3 2012.2,1585.3 2009.2,1585.2 2007.2,1585.1 2004.2,1585.1 2002.2,1585.0 1999.2,1585.0 1997.2,1584.9 1994.2,1584.9 1992.2,1584.8 1989.2,1584.7 1987.2,1584.7 1984.2,1584.6 1982.2,1584.6 1979.2,1584.5 1977.2,1584.4 1974.2,1584.3 1972.2,1584.3 1969.2,1584.2 1967.2,1584.1 1964.2,1584.0 1962.2,1584.0 1959.2,1583.8 1957.2,1583.8 1954.2,1583.7 1952.2,1583.6 1949.2,1583.4 1947.2,1583.4 1944.2,1583.2 1942.2,1583.1 1939.2,1583.0 1937.2,1582.9 1934.2,1582.7 1932.2,1582.6 1929.2,1582.4 1927.2,1582.3 1924.2,1582.1 1922.2,1582.0 1919.3,1581.8 1917.3,1581.7 1914.3,1581.5 1912.3,1581.4 1909.3,1581.2 1907.3,1581.0 1904.3,1580.8 1902.3,1580.6 1899.3,1580.4 1897.3,1580.2 1894.3,1580.0 1892.3,1579.8 1889.3,1579.5 1887.4,1579.3 1884.4,1579.1 1882.4,1578.9 1879.4,1578.6 1877.4,1578.4 1874.4,1578.1 1872.4,1578.0 1869.4,1577.7 1867.4,1577.5 1864.4,1577.3 1862.5,1577.1 1859.5,1576.8 1857.5,1576.7 1854.5,1576.4 1852.5,1576.2 1849.5,1576.0 1847.5,1575.8 1844.5,1575.5 1842.5,1575.4 1839.5,1575.1 1837.5,1574.9 1834.6,1574.6 1832.6,1574.5 1829.6,1574.2 1827.6,1574.0 1824.6,1573.7 1822.6,1573.5 1819.6,1573.2 1817.6,1573.0 1814.7,1572.6 1812.7,1572.4 1809.7,1572.1 1807.7,1571.9 1804.7,1571.5 1802.7,1571.3 1799.8,1570.9 1797.8,1570.7 1794.8,1570.3 1792.8,1570.0 1789.8,1569.7 1787.9,1569.4 1784.9,1569.0 1782.9,1568.7 1779.9,1568.3 1777.9,1568.1 1775.0,1567.7 1773.0,1567.4 1770.0,1567.0 1768.0,1566.7 1765.1,1566.3 1763.1,1566.0 1760.1,1565.6 1758.1,1565.3 1755.2,1564.9 1753.2,1564.6 1750.2,1564.1 1748.2,1563.8 1745.3,1563.4 1743.3,1563.1 1740.3,1562.6 1738.4,1562.3 1735.4,1561.9 1733.4,1561.5 1730.5,1561.1 1728.5,1560.8 1725.5,1560.3 1723.5,1560.0 1720.6,1559.5 1718.6,1559.2 1715.6,1558.7 1713.7,1558.4 1710.7,1558.0 1708.7,1557.6 1705.8,1557.2 1703.8,1556.9 1700.8,1556.4 1698.8,1556.0 1695.9,1555.5 1693.9,1555.2 1691.0,1554.7 1689.0,1554.3 1686.1,1553.8 1684.1,1553.4 1681.2,1552.8 1679.2,1552.4 1676.3,1551.8 1674.3,1551.3 1671.4,1550.7 1669.4,1550.2 1666.5,1549.6 1664.5,1549.1 1661.6,1548.5 1659.7,1548.1 1656.7,1547.5 1654.7,1547.1 1651.8,1546.5 1649.8,1546.1 1646.9,1545.5 1644.9,1545.1 1642.0,1544.4 1640.1,1543.9 1637.2,1543.2 1635.3,1542.7 1632.4,1541.8 1630.5,1541.2 1627.7,1540.2 1625.8,1539.5 1623.0,1538.4 1621.2,1537.6 1618.4,1536.5 1616.5,1535.7 1613.7,1534.6 1611.9,1533.8 1609.1,1532.8 1607.2,1532.0 1604.4,1530.9 1602.5,1530.2 1599.8,1529.0 1597.9,1528.3 1595.1,1527.2 1593.2,1526.5 1590.4,1525.5 1588.5,1524.8 1585.6,1524.0 1583.7,1523.5 1580.8,1522.8 1578.9,1522.4 1575.9,1521.8 1573.9,1521.4 1571.0,1520.9 1569.0,1520.6 1566.0,1520.0 1564.0,1519.7 1561.1,1519.1 1559.2,1518.7 1556.3,1518.0 1554.3,1517.4 1551.5,1516.6 1549.6,1516.0 1546.8,1515.0 1544.9,1514.3 1542.1,1513.2 1540.3,1512.4 1537.5,1511.2 1535.6,1510.5 1532.9,1509.3 1531.0,1508.5 1528.2,1507.4 1526.4,1506.6 1523.6,1505.4 1521.8,1504.7 1519.0,1503.5 1517.2,1502.7 1514.4,1501.6 1512.6,1500.8 1509.8,1499.6 1508.0,1498.8 1505.2,1497.6 1503.4,1496.7 1500.7,1495.5 1498.8,1494.7 1496.1,1493.5 1494.3,1492.6 1491.6,1491.4 1489.8,1490.5 1487.0,1489.3 1485.2,1488.4 1482.5,1487.1 1480.7,1486.3 1478.0,1485.0 1476.2,1484.1 1473.5,1482.8 1471.7,1481.9 1469.0,1480.6 1467.2,1479.7 1464.5,1478.4 1462.7,1477.5 1460.1,1476.1 1458.3,1475.2 1455.6,1473.9 1453.8,1473.0 1451.2,1471.6 1449.4,1470.7 1446.7,1469.3 1445.0,1468.4 1442.3,1467.0 1440.5,1466.0 1437.9,1464.6 1436.1,1463.7 1433.5,1462.2 1431.7,1461.3 1429.1,1459.8 1427.4,1458.9 1424.7,1457.4 1423.0,1456.4 1420.4,1454.9 1418.7,1453.9 1416.1,1452.4 1414.4,1451.4 1411.8,1449.8 1410.1,1448.8 1407.6,1447.2 1405.9,1446.1 1403.4,1444.5 1401.7,1443.4 1399.2,1441.8 1397.6,1440.6 1395.1,1438.9 1393.5,1437.8 1391.1,1436.0 1389.5,1434.8 1387.1,1433.0 1385.5,1431.8 1383.1,1430.0 1381.6,1428.7 1379.2,1426.9 1377.7,1425.6 1375.4,1423.7 1373.9,1422.4 1371.6,1420.4 1370.2,1419.1 1367.9,1417.1 1366.5,1415.7 1364.3,1413.7 1362.8,1412.3 1360.7,1410.2 1359.3,1408.8 1357.1,1406.7 1355.7,1405.3 1353.6,1403.2 1352.2,1401.7 1350.2,1399.5 1348.8,1398.1 1346.7,1395.9 1345.4,1394.4 1343.3,1392.2 1342.0,1390.7 1340.0,1388.5 1338.7,1387.0 1336.7,1384.8 1335.4,1383.2 1333.4,1381.0 1332.1,1379.5 1330.2,1377.2 1328.9,1375.6 1327.0,1373.3 1325.7,1371.8 1323.8,1369.4 1322.6,1367.9 1320.7,1365.5 1319.5,1363.9 1317.7,1361.6 1316.5,1360.0 1314.7,1357.6 1313.5,1356.0 1311.8,1353.5 1310.6,1351.9 1309.0,1349.4 1307.8,1347.8 1306.2,1345.3 1305.1,1343.6 1303.5,1341.1 1302.5,1339.4 1300.9,1336.8 1299.9,1335.1 1298.4,1332.6 1297.4,1330.8 1295.9,1328.2 1295.0,1326.5 1293.5,1323.8 1292.6,1322.1 1291.2,1319.4 1290.3,1317.7 1288.9,1315.0 1288.0,1313.2 1286.6,1310.6 1285.7,1308.8 1284.3,1306.1 1283.5,1304.3 1282.1,1301.6 1281.2,1299.8 1279.9,1297.1 1279.1,1295.3 1277.7,1292.6 1276.9,1290.8 1275.6,1288.1 1274.7,1286.3 1273.5,1283.5 1272.6,1281.7 1271.4,1279.0 1270.5,1277.2 1269.3,1274.5 1268.5,1272.6 1267.2,1269.9 1266.4,1268.1 1265.2,1265.3 1264.5,1263.5 1263.3,1260.7 1262.5,1258.9 1261.4,1256.1 1260.6,1254.3 1259.5,1251.5 1258.7,1249.6 1257.6,1246.8 1256.9,1245.0 1255.9,1242.2 1255.1,1240.3 1254.1,1237.5 1253.4,1235.6 1252.4,1232.8 1251.7,1230.9 1250.7,1228.1 1250.0,1226.2 1249.0,1223.4 1248.4,1221.5 1247.4,1218.6 1246.8,1216.8 1245.8,1213.9 1245.2,1212.0 1244.2,1209.2 1243.6,1207.3 1242.7,1204.4 1242.0,1202.5 1241.1,1199.7 1240.5,1197.7 1239.6,1194.9 1239.0,1193.0 1238.2,1190.1 1237.6,1188.2 1236.7,1185.3 1236.2,1183.4 1235.3,1180.5 1234.8,1178.6 1234.0,1175.7 1233.4,1173.8 1232.6,1170.9 1232.1,1169.0 1231.3,1166.1 1230.8,1164.1 1230.1,1161.2 1229.6,1159.3 1228.9,1156.4 1228.4,1154.4 1227.7,1151.5 1227.2,1149.6 1226.5,1146.7 1226.1,1144.7 1225.4,1141.8 1225.0,1139.8 1224.3,1136.9 1223.9,1135.0 1223.2,1132.0 1222.8,1130.1 1222.2,1127.2 1221.8,1125.2 1221.1,1122.3 1220.7,1120.3 1220.1,1117.4 1219.7,1115.4 1219.1,1112.5 1218.7,1110.5 1218.1,1107.6 1217.7,1105.6 1217.1,1102.7 1216.7,1100.7 1216.1,1097.8 1215.7,1095.8 1215.1,1092.9 1214.8,1090.9 1214.2,1088.0 1213.8,1086.0 1213.2,1083.0 1212.9,1081.1 1212.3,1078.1 1211.9,1076.2 1211.4,1073.2 1211.0,1071.3 1210.5,1068.3 1210.1,1066.3 1209.6,1063.4 1209.3,1061.4 1208.7,1058.5 1208.4,1056.5 1207.9,1053.5 1207.5,1051.6 1207.0,1048.6 1206.7,1046.6 1206.2,1043.7 1205.8,1041.7 1205.3,1038.8 1205.0,1036.8 1204.5,1033.8 1204.2,1031.8 1203.7,1028.9 1203.4,1026.9 1202.9,1023.9 1202.6,1022.0 1202.2,1019.0 1201.9,1017.0 1201.4,1014.1 1201.1,1012.1 1200.6,1009.1 1200.3,1007.1 1199.9,1004.2 1199.6,1002.2 1199.1,999.2 1198.8,997.3 1198.4,994.3 1198.1,992.3 1197.6,989.4 1197.3,987.4 1196.9,984.4 1196.6,982.4 1196.1,979.5 1195.8,977.5 1195.4,974.5 1195.1,972.5 1194.6,969.6 1194.4,967.6 1193.9,964.6 1193.6,962.7 1193.2,959.7 1192.9,957.7 1192.4,954.7 1192.1,952.8 1191.7,949.8 1191.4,947.8 1191.0,944.8 1190.7,942.9 1190.2,939.9 1189.9,937.9 1189.5,935.0 1189.2,933.0 1188.8,930.0 1188.5,928.0 1188.1,925.1 1187.8,923.1 1187.4,920.1 1187.1,918.1 1186.7,915.2 1186.4,913.2 1186.0,910.2 1185.7,908.2 1185.3,905.2 1185.1,903.3 1184.7,900.3 1184.4,898.3 1184.0,895.3 1183.8,893.4 1183.4,890.4 1183.1,888.4 1182.7,885.4 1182.5,883.4 1182.1,880.5 1181.9,878.5 1181.5,875.5 1181.3,873.5 1181.0,870.5 1180.7,868.5 1180.4,865.6 1180.2,863.6 1179.8,860.6 1179.6,858.6 1179.3,855.6 1179.1,853.6 1178.8,850.6 1178.5,848.7 1178.2,845.7 1178.0,843.7 1177.7,840.7 1177.5,838.7 1177.2,835.7 1177.0,833.7 1176.7,830.8 1176.5,828.8 1176.2,825.8 1176.0,823.8 1175.8,820.8 1175.6,818.8 1175.3,815.8 1175.1,813.8 1174.8,810.8 1174.6,808.9 1174.3,805.9 1174.1,803.9 1173.8,800.9 1173.6,798.9 1173.3,795.9 1173.1,793.9 1172.8,790.9 1172.6,789.0 1172.3,786.0 1172.1,784.0 1171.8,781.0 1171.6,779.0 1171.3,776.0 1171.1,774.0 1170.8,771.0 1170.6,769.0 1170.3,766.1 1170.1,764.1 1169.8,761.1 1169.6,759.1 1169.3,756.1 1169.1,754.1 1168.8,751.1 1168.6,749.1 1168.3,746.2 1168.1,744.2 1167.8,741.2 1167.6,739.2 1167.3,736.2 1167.1,734.2 1166.9,731.2 1166.7,729.2 1166.4,726.3 1166.2,724.3 1165.9,721.3 1165.7,719.3 1165.4,716.3 1165.2,714.3 1165.0,711.3 1164.8,709.3 1164.5,706.3 1164.3,704.4 1164.1,701.4 1163.9,699.4 1163.6,696.4 1163.4,694.4 1163.2,691.4 1163.0,689.4 1162.8,686.4 1162.6,684.4 1162.3,681.4 1162.2,679.5 1161.9,676.5 1161.8,674.5 1161.5,671.5 1161.4,669.5 1161.1,666.5 1161.0,664.5 1160.7,661.5 1160.6,659.5 1160.3,656.5 1160.2,654.5 1160.0,651.5 1159.8,649.5 1159.6,646.6 1159.4,644.6 1159.2,641.6 1159.1,639.6 1158.8,636.6 1158.7,634.6 1158.5,631.6 1158.3,629.6 1158.1,626.6 1158.0,624.6 1157.7,621.6 1157.6,619.6 1157.4,616.6 1157.2,614.6 1157.0,611.6 1156.9,609.7 1156.6,606.7 1156.5,604.7 1156.3,601.7 1156.1,599.7 1155.9,596.7 1155.7,594.7 1155.5,591.7 1155.4,589.7 1155.1,586.7 1155.0,584.7 1154.7,581.7 1154.6,579.7 1154.4,576.7 1154.2,574.8 1154.0,571.8 1153.8,569.8 1153.6,566.8 1153.4,564.8 1153.2,561.8 1153.0,559.8 1152.8,556.8 1152.6,554.8 1152.4,551.8 1152.2,549.8 1152.0,546.8 1151.8,544.9 1151.5,541.9 1151.4,539.9 1151.1,536.9 1151.0,534.9 1150.7,531.9 1150.6,529.9 1150.3,526.9 1150.1,524.9 1149.9,521.9 1149.7,519.9 1149.5,516.9 1149.3,515.0 1149.0,512.0 1148.9,510.0 1148.6,507.0 1148.5,505.0 1148.2,502.0 1148.0,500.0 1147.8,497.0 1147.6,495.0 1147.3,492.0 1147.2,490.0 1146.9,487.1 1146.8,485.1 1146.5,482.1 1146.3,480.1 1146.1,477.1 1145.9,475.1 1145.7,472.1 1145.5,470.1 1145.2,467.1 1145.1,465.1 1144.8,462.1 1144.7,460.2 1144.4,457.2 1144.3,455.2 1144.0,452.2 1143.9,450.2 1143.6,447.2 1143.5,445.2 1143.2,442.2 1143.1,440.2 1142.8,437.2 1142.7,435.2 1142.4,432.2 1142.3,430.2 1142.0,427.3 1141.9,425.3 1141.6,422.3 1141.5,420.3 1141.2,417.3 1141.1,415.3 1140.8,412.3 1140.7,410.3 1140.4,407.3 1140.3,405.3 1140.0,402.3 1139.9,400.3 1139.6,397.4 1139.4,395.4 1139.2,392.4 1139.0,390.4 1138.8,387.4 1138.6,385.4 1138.4,382.4 1138.2,380.4 1137.9,377.4 1137.8,375.4 1137.5,372.4 1137.3,370.5 1137.1,367.5 1136.9,365.5 1136.6,362.5 1136.4,360.5 1136.2,357.5 1136.0,355.5 1135.7,352.5 1135.5,350.5 1135.3,347.5 1135.1,345.6 1134.8,342.6 1134.6,340.6 1134.3,337.6 1134.2,335.6 1133.9,332.6 1133.7,330.6 1133.4,327.6 1133.2,325.6 1133.0,322.7 1132.8,320.7 1132.5,317.7 1132.3,315.7 1132.0,312.7 1131.8,310.7 1131.5,307.7 1131.4,305.7 1131.1,302.7 1130.9,300.7 1130.6,297.8 1130.4,295.8 1130.1,292.8 1130.0,290.8 1129.7,287.8 1129.5,285.8 1129.2,282.8 1129.0,280.8 1128.7,277.9 1128.5,275.9 1128.2,272.9 1128.0,270.9 1127.7,267.9 1127.5,265.9 1127.2,262.9 1127.0,260.9 1126.7,258.0 1126.5,256.0 1126.2,253.0 1126.0,251.0 1125.6,248.0 1125.4,246.0 1125.1,243.0 1124.8,241.1 1124.5,238.1 1124.3,236.1 1123.9,233.1 1123.7,231.1 1123.3,228.1 1123.1,226.2 1122.7,223.2 1122.5,221.2 1122.1,218.2 1121.8,216.2 1121.4,213.3 1121.2,211.3 1120.8,208.3 1120.5,206.3 1120.1,203.4 1119.8,201.4 1119.3,198.4 1119.1,196.5 1118.6,193.5 1118.3,191.5 1117.8,188.6 1117.5,186.6 1117.0,183.7 1116.7,181.7 1116.2,178.8 1115.9,176.9 1115.3,173.9 1115.0,172.0 1114.5,169.0 1114.1,167.1 1113.5,164.2 1113.1,162.2 1112.5,159.3 1112.1,157.4 1111.3,154.4 1110.8,152.4 1110.0,149.4 1109.3,147.4 1108.2,144.6 1107.4,142.9 1105.7,140.5 1104.1,138.9 1101.4,137.2 1099.9,137.2 1097.6,139.3 1096.3,141.0 1094.7,143.5 1093.7,145.3 1092.4,148.0 1091.6,149.9 1090.5,152.8 1089.8,154.6 1088.7,157.4 1088.0,159.3 1087.1,162.1 1086.4,164.0 1085.5,166.9 1085.0,168.8 1084.1,171.6 1083.5,173.5 1082.7,176.4 1082.2,178.3 1081.4,181.2 1080.9,183.1 1080.1,186.0 1079.6,187.9 1078.9,190.8 1078.4,192.7 1077.7,195.6 1077.2,197.5 1076.5,200.5 1076.0,202.4 1075.3,205.3 1074.9,207.3 1074.2,210.2 1073.8,212.1 1073.1,215.1 1072.7,217.0 1072.0,219.9 1071.6,221.9 1070.9,224.8 1070.5,226.8 1069.9,229.7 1069.4,231.7 1068.8,234.6 1068.4,236.6 1067.7,239.5 1067.3,241.4 1066.7,244.4 1066.3,246.3 1065.7,249.3 1065.2,251.2 1064.6,254.2 1064.2,256.1 1063.6,259.1 1063.2,261.0 1062.6,264.0 1062.2,265.9 1061.6,268.8 1061.2,270.8 1060.6,273.7 1060.2,275.7 1059.6,278.6 1059.2,280.6 1058.6,283.5 1058.2,285.5 1057.6,288.4 1057.2,290.4 1056.6,293.3 1056.2,295.3 1055.6,298.3 1055.2,300.2 1054.7,303.2 1054.3,305.1 1053.7,308.1 1053.3,310.0 1052.8,313.0 1052.4,314.9 1051.8,317.9 1051.5,319.9 1050.9,322.8 1050.5,324.8 1050.0,327.7 1049.6,329.7 1049.1,332.6 1048.7,334.6 1048.1,337.5 1047.8,339.5 1047.2,342.5 1046.9,344.4 1046.3,347.4 1045.9,349.3 1045.4,352.3 1045.0,354.3 1044.5,357.2 1044.1,359.2 1043.6,362.1 1043.2,364.1 1042.6,367.0 1042.3,369.0 1041.7,372.0 1041.3,373.9 1040.8,376.9 1040.4,378.8 1039.9,381.8 1039.5,383.7 1038.9,386.7 1038.6,388.7 1038.0,391.6 1037.6,393.6 1037.1,396.5 1036.7,398.5 1036.1,401.4 1035.7,403.4 1035.2,406.3 1034.8,408.3 1034.3,411.3 1033.9,413.2 1033.3,416.2 1033.0,418.1 1032.4,421.1 1032.0,423.0 1031.5,426.0 1031.1,428.0 1030.6,430.9 1030.2,432.9 1029.7,435.8 1029.3,437.8 1028.8,440.8 1028.4,442.7 1027.9,445.7 1027.6,447.6 1027.0,450.6 1026.7,452.6 1026.2,455.5 1025.8,457.5 1025.3,460.4 1025.0,462.4 1024.5,465.4 1024.2,467.3 1023.7,470.3 1023.3,472.3 1022.8,475.2 1022.5,477.2 1022.0,480.2 1021.7,482.1 1021.2,485.1 1020.9,487.1 1020.4,490.0 1020.1,492.0 1019.6,495.0 1019.3,497.0 1018.8,499.9 1018.5,501.9 1018.1,504.9 1017.8,506.8 1017.3,509.8 1017.0,511.8 1016.5,514.7 1016.2,516.7 1015.7,519.7 1015.4,521.6 1014.9,524.6 1014.6,526.6 1014.2,529.5 1013.9,531.5 1013.4,534.5 1013.1,536.5 1012.6,539.4 1012.3,541.4 1011.8,544.4 1011.5,546.3 1011.1,549.3 1010.7,551.3 1010.3,554.2 1010.0,556.2 1009.5,559.2 1009.2,561.2 1008.7,564.1 1008.4,566.1 1007.9,569.1 1007.6,571.0 1007.2,574.0 1006.8,576.0 1006.4,578.9 1006.1,580.9 1005.6,583.9 1005.3,585.9 1004.8,588.8 1004.5,590.8 1004.1,593.8 1003.8,595.7 1003.3,598.7 1003.0,600.7 1002.5,603.6 1002.2,605.6 1001.8,608.6 1001.5,610.6 1001.0,613.5 1000.7,615.5 1000.3,618.5 1000.0,620.5 999.5,623.4 999.3,625.4 998.8,628.4 998.5,630.3 998.1,633.3 997.8,635.3 997.4,638.3 997.1,640.2 996.6,643.2 996.3,645.2 995.9,648.2 995.6,650.1 995.2,653.1 994.9,655.1 994.5,658.1 994.2,660.0 993.8,663.0 993.5,665.0 993.1,668.0 992.8,669.9 992.4,672.9 992.2,674.9 991.8,677.9 991.5,679.8 991.1,682.8 990.8,684.8 990.4,687.8 990.2,689.8 989.8,692.7 989.5,694.7 989.1,697.7 988.8,699.7 988.4,702.6 988.2,704.6 987.8,707.6 987.5,709.6 987.1,712.6 986.9,714.5 986.5,717.5 986.2,719.5 985.8,722.5 985.6,724.5 985.2,727.4 984.9,729.4 984.6,732.4 984.3,734.4 983.9,737.3 983.7,739.3 983.3,742.3 983.0,744.3 982.6,747.3 982.4,749.2 982.0,752.2 981.7,754.2 981.4,757.2 981.1,759.2 980.7,762.1 980.5,764.1 980.1,767.1 979.8,769.1 979.4,772.1 979.2,774.0 978.8,777.0 978.6,779.0 978.2,782.0 977.9,784.0 977.5,786.9 977.3,788.9 976.9,791.9 976.7,793.9 976.3,796.9 976.0,798.8 975.7,801.8 975.4,803.8 975.0,806.8 974.8,808.8 974.4,811.7 974.2,813.7 973.8,816.7 973.5,818.7 973.2,821.7 972.9,823.7 972.5,826.6 972.3,828.6 971.9,831.6 971.7,833.6 971.3,836.6 971.0,838.5 970.7,841.5 970.4,843.5 970.0,846.5 969.8,848.5 969.4,851.4 969.1,853.4 968.7,856.4 968.5,858.4 968.1,861.3 967.8,863.3 967.4,866.3 967.2,868.3 966.8,871.3 966.5,873.2 966.1,876.2 965.8,878.2 965.4,881.2 965.2,883.1 964.8,886.1 964.5,888.1 964.1,891.1 963.8,893.1 963.4,896.0 963.1,898.0 962.7,901.0 962.4,903.0 961.9,905.9 961.7,907.9 961.2,910.9 960.9,912.8 960.5,915.8 960.2,917.8 959.8,920.8 959.5,922.7 959.0,925.7 958.7,927.7 958.3,930.7 958.0,932.6 957.5,935.6 957.2,937.6 956.8,940.5 956.5,942.5 956.0,945.5 955.7,947.5 955.2,950.4 954.9,952.4 954.5,955.4 954.2,957.3 953.7,960.3 953.4,962.3 952.9,965.2 952.6,967.2 952.1,970.2 951.8,972.2 951.3,975.1 951.0,977.1 950.5,980.1 950.2,982.0 949.7,985.0 949.4,987.0 948.9,989.9 948.6,991.9 948.1,994.9 947.8,996.8 947.3,999.8 947.0,1001.8 946.5,1004.7 946.2,1006.7 945.7,1009.7 945.4,1011.6 944.9,1014.6 944.5,1016.6 944.1,1019.5 943.7,1021.5 943.2,1024.5 942.9,1026.4 942.4,1029.4 942.1,1031.4 941.6,1034.3 941.2,1036.3 940.7,1039.2 940.4,1041.2 939.9,1044.2 939.5,1046.1 939.0,1049.1 938.7,1051.1 938.2,1054.0 937.9,1056.0 937.3,1059.0 937.0,1060.9 936.5,1063.9 936.1,1065.9 935.6,1068.8 935.3,1070.8 934.8,1073.7 934.4,1075.7 933.9,1078.7 933.5,1080.6 933.0,1083.6 932.6,1085.6 932.1,1088.5 931.8,1090.5 931.2,1093.4 930.9,1095.4 930.3,1098.3 930.0,1100.3 929.4,1103.3 929.1,1105.2 928.5,1108.2 928.1,1110.1 927.6,1113.1 927.2,1115.1 926.7,1118.0 926.3,1120.0 925.7,1122.9 925.4,1124.9 924.8,1127.8 924.4,1129.8 923.9,1132.7 923.5,1134.7 922.9,1137.6 922.5,1139.6 921.9,1142.6 921.5,1144.5 920.9,1147.5 920.5,1149.4 919.9,1152.4 919.5,1154.3 918.9,1157.3 918.5,1159.2 917.9,1162.1 917.5,1164.1 916.8,1167.0 916.4,1169.0 915.8,1171.9 915.3,1173.9 914.7,1176.8 914.2,1178.7 913.5,1181.6 913.0,1183.6 912.3,1186.5 911.8,1188.4 911.1,1191.3 910.6,1193.3 909.8,1196.2 909.3,1198.1 908.5,1201.0 908.0,1202.9 907.2,1205.8 906.6,1207.7 905.8,1210.6 905.2,1212.5 904.3,1215.4 903.7,1217.3 902.8,1220.2 902.2,1222.1 901.3,1224.9 900.7,1226.8 899.7,1229.7 899.1,1231.6 898.1,1234.4 897.5,1236.3 896.5,1239.2 895.8,1241.1 894.8,1243.9 894.1,1245.7 893.0,1248.5 892.3,1250.4 891.1,1253.2 890.4,1255.0 889.2,1257.8 888.4,1259.6 887.2,1262.3 886.3,1264.1 885.0,1266.8 884.1,1268.5 882.8,1271.2 881.9,1272.9 880.4,1275.5 879.5,1277.2 878.0,1279.8 877.0,1281.5 875.4,1284.1 874.4,1285.7 872.8,1288.3 871.7,1289.9 870.1,1292.4 869.0,1294.1 867.4,1296.6 866.2,1298.2 864.5,1300.7 863.4,1302.3 861.7,1304.7 860.5,1306.4 858.8,1308.8 857.6,1310.4 855.8,1312.8 854.6,1314.4 852.7,1316.7 851.5,1318.3 849.7,1320.6 848.4,1322.2 846.5,1324.5 845.3,1326.1 843.3,1328.4 842.1,1329.9 840.1,1332.2 838.9,1333.8 836.9,1336.0 835.6,1337.6 833.7,1339.8 832.4,1341.4 830.4,1343.6 829.1,1345.1 827.1,1347.4 825.8,1348.9 823.9,1351.2 822.6,1352.7 820.6,1355.0 819.4,1356.5 817.4,1358.8 816.1,1360.4 814.2,1362.7 813.0,1364.2 811.1,1366.5 809.8,1368.1 807.9,1370.4 806.7,1372.0 804.8,1374.4 803.6,1375.9 801.8,1378.3 800.6,1379.9 798.8,1382.3 797.6,1383.9 795.9,1386.4 794.7,1388.0 793.0,1390.4 791.8,1392.1 790.1,1394.5 789.0,1396.2 787.4,1398.7 786.3,1400.3 784.6,1402.9 783.5,1404.5 781.9,1407.1 780.9,1408.7 779.3,1411.3 778.2,1413.0 776.7,1415.5 775.6,1417.3 774.1,1419.8 773.0,1421.5 771.5,1424.1 770.5,1425.9 769.0,1428.4 768.0,1430.2 766.5,1432.8 765.5,1434.5 764.0,1437.1 763.1,1438.9 761.6,1441.5 760.7,1443.2 759.2,1445.9 758.3,1447.6 756.9,1450.3 755.9,1452.1 754.6,1454.7 753.6,1456.5 752.3,1459.2 751.4,1460.9 750.0,1463.6 749.1,1465.4 747.8,1468.1 746.9,1469.8 745.5,1472.5 744.7,1474.3 743.4,1477.0 742.5,1478.8 741.2,1481.5 740.3,1483.3 739.1,1486.0 738.2,1487.8 736.9,1490.5 736.0,1492.3 734.6,1494.9 733.6,1496.6 732.1,1499.2 731.0,1500.9 729.5,1503.5 728.4,1505.2 726.8,1507.7 725.7,1509.4 724.0,1511.9 722.9,1513.6 721.3,1516.1 720.1,1517.7 718.4,1520.2 717.2,1521.8 715.4,1524.2 714.2,1525.7 712.3,1528.0 710.9,1529.5 708.9,1531.7 707.5,1533.2 705.4,1535.3 703.9,1536.7 701.7,1538.7 700.2,1540.0 697.9,1541.9 696.4,1543.2 694.0,1545.1 692.4,1546.3 689.9,1548.0 688.3,1549.2 685.7,1550.8 684.0,1551.8 681.4,1553.3 679.7,1554.2 677.0,1555.6 675.1,1556.4 672.4,1557.6 670.5,1558.2 667.7,1559.2 665.8,1559.8 662.9,1560.6 660.9,1561.2 658.0,1561.9 656.1,1562.3 653.1,1562.9 651.2,1563.2 648.2,1563.8 646.2,1564.1 643.3,1564.5 641.3,1564.8 638.3,1565.3 636.3,1565.6 633.4,1566.2 631.4,1566.5 628.5,1567.0 626.5,1567.4 623.5,1567.9 621.6,1568.3 618.6,1568.8 616.6,1569.1 613.7,1569.6 611.7,1569.9 608.7,1570.4 606.8,1570.7 603.8,1571.1 601.8,1571.4 598.8,1571.8 596.9,1572.0 593.9,1572.4 591.9,1572.6 588.9,1572.9 586.9,1573.1 583.9,1573.3 581.9,1573.5 578.9,1573.7 576.9,1573.8 573.9,1574.0 571.9,1574.1 568.9,1574.3 566.9,1574.3 564.0,1574.5 562.0,1574.6 559.0,1574.7 557.0,1574.8 554.0,1575.0 552.0,1575.0 549.0,1575.1 547.0,1575.2 544.0,1575.3 542.0,1575.3 539.0,1575.3 537.0,1575.3 534.0,1575.3 532.0,1575.3 529.0,1575.3 527.0,1575.4 524.0,1575.4 522.0,1575.4 519.0,1575.4 517.0,1575.4 514.0,1575.4 512.0,1575.4 509.0,1575.4 507.0,1575.4 504.0,1575.4 502.0,1575.4 499.0,1575.4 497.0,1575.4 494.0,1575.4 492.0,1575.4 489.0,1575.4 487.0,1575.4 484.0,1575.4 482.0,1575.3 479.0,1575.3 477.0,1575.3 474.0,1575.3 472.0,1575.3 469.0,1575.3 467.0,1575.3 464.0,1575.3 462.0,1575.4 459.0,1575.5 457.0,1575.5 454.0,1575.7 452.0,1575.8 449.0,1576.0 447.0,1576.1 444.0,1576.3 442.0,1576.5 439.0,1576.7 437.0,1576.8 434.0,1577.1 432.0,1577.4 429.0,1577.7 427.1,1578.0 424.1,1578.5 422.1,1578.8 419.2,1579.3 417.2,1579.6 414.3,1580.3 412.4,1580.8 409.5,1581.7 407.5,1582.2 404.7,1583.1 402.8,1583.7 399.9,1584.6 398.0,1585.3 395.2,1586.3 393.3,1587.0 390.5,1588.0 388.6,1588.7 385.9,1589.9 384.0,1590.7 381.3,1592.0 379.5,1592.9 376.7,1594.2 374.9,1595.0 372.1,1596.2 370.3,1596.9 367.5,1597.8 365.5,1598.3 362.7,1599.0 360.7,1599.4 357.7,1599.9 355.8,1600.3 352.8,1600.8 350.8,1601.1 347.8,1601.5 345.9,1601.8 342.9,1602.2 340.9,1602.5 337.9,1602.9 335.9,1603.1 332.9,1603.4 331.0,1603.6 328.0,1603.9 326.0,1604.0 323.0,1604.2 321.0,1604.3 318.0,1604.5 316.0,1604.7 313.0,1604.8 311.0,1604.9 308.0,1605.0 306.0,1605.1 303.0,1605.2 301.0,1605.2ZM296.8,1601.0 298.8,1601.0 301.8,1600.9 303.8,1600.8 306.8,1600.7 308.8,1600.6 311.8,1600.5 313.8,1600.3 316.8,1600.1 318.8,1600.0 321.8,1599.8 323.8,1599.7 326.8,1599.4 328.7,1599.2 331.7,1598.9 333.7,1598.7 336.7,1598.3 338.7,1598.0 341.7,1597.6 343.6,1597.3 346.6,1596.9 348.6,1596.6 351.6,1596.1 353.5,1595.7 356.5,1595.2 358.5,1594.8 361.3,1594.1 363.3,1593.6 366.1,1592.7 367.9,1592.0 370.7,1590.8 372.5,1590.0 375.3,1588.7 377.1,1587.8 379.8,1586.5 381.7,1585.7 384.4,1584.5 386.3,1583.8 389.1,1582.8 391.0,1582.1 393.8,1581.1 395.7,1580.4 398.6,1579.5 400.5,1578.9 403.3,1578.0 405.3,1577.5 408.2,1576.6 410.1,1576.1 413.0,1575.4 415.0,1575.1 417.9,1574.6 419.9,1574.3 422.9,1573.8 424.8,1573.5 427.8,1573.2 429.8,1572.9 432.8,1572.6 434.8,1572.5 437.8,1572.3 439.8,1572.1 442.8,1571.9 444.8,1571.8 447.8,1571.6 449.8,1571.5 452.8,1571.3 454.8,1571.3 457.8,1571.2 459.8,1571.1 462.8,1571.1 471.2,1571.1 468.2,1571.1 466.2,1571.2 463.2,1571.3 461.2,1571.3 458.2,1571.5 456.2,1571.6 453.2,1571.8 451.2,1571.9 448.2,1572.1 446.2,1572.3 443.2,1572.5 441.2,1572.6 438.2,1572.9 436.2,1573.2 433.2,1573.5 431.3,1573.8 428.3,1574.3 426.3,1574.6 423.4,1575.1 421.4,1575.4 418.5,1576.1 416.6,1576.6 413.7,1577.5 411.7,1578.0 408.9,1578.9 407.0,1579.5 404.1,1580.4 402.2,1581.1 399.4,1582.1 397.5,1582.8 394.7,1583.8 392.8,1584.5 390.1,1585.7 388.2,1586.5 385.5,1587.8 383.7,1588.7 380.9,1590.0 379.1,1590.8 376.3,1592.0 374.5,1592.7 371.7,1593.6 369.7,1594.1 366.9,1594.8 364.9,1595.2 361.9,1595.7 360.0,1596.1 357.0,1596.6 355.0,1596.9 352.0,1597.3 350.1,1597.6 347.1,1598.0 345.1,1598.3 342.1,1598.7 340.1,1598.9 337.1,1599.2 335.2,1599.4 332.2,1599.7 330.2,1599.8 327.2,1600.0 325.2,1600.1 322.2,1600.3 320.2,1600.5 317.2,1600.6 315.2,1600.7 312.2,1600.8 310.2,1600.9 307.2,1601.0 305.2,1601.0ZM497.8,1571.2 499.8,1571.2 502.8,1571.2 504.8,1571.2 507.8,1571.2 509.8,1571.2 512.8,1571.2 514.8,1571.2 517.8,1571.2 519.8,1571.2 522.8,1571.2 524.8,1571.1 527.8,1571.1 529.8,1571.1 532.8,1571.1 534.8,1571.1 537.8,1571.1 539.8,1571.1 542.8,1571.0 544.8,1570.9 547.8,1570.8 549.8,1570.8 552.8,1570.6 554.8,1570.5 557.8,1570.4 559.8,1570.3 562.7,1570.1 564.7,1570.1 567.7,1569.9 569.7,1569.8 572.7,1569.6 574.7,1569.5 577.7,1569.3 579.7,1569.1 582.7,1568.9 584.7,1568.7 587.7,1568.4 589.7,1568.2 592.7,1567.8 594.6,1567.6 597.6,1567.2 599.6,1566.9 602.6,1566.5 604.5,1566.2 607.5,1565.7 609.5,1565.4 612.4,1564.9 614.4,1564.6 617.4,1564.1 619.3,1563.7 622.3,1563.2 624.3,1562.8 627.2,1562.3 629.2,1562.0 632.1,1561.4 634.1,1561.1 637.1,1560.6 639.1,1560.3 642.0,1559.9 644.0,1559.6 647.0,1559.0 648.9,1558.7 651.9,1558.1 653.8,1557.7 656.7,1557.0 658.7,1556.4 661.6,1555.6 663.5,1555.0 666.3,1554.0 668.2,1553.4 670.9,1552.2 672.8,1551.4 675.5,1550.0 677.2,1549.1 679.8,1547.6 681.5,1546.6 684.1,1545.0 685.7,1543.8 688.2,1542.1 689.8,1540.9 692.2,1539.0 693.7,1537.7 696.0,1535.8 697.5,1534.5 699.7,1532.5 701.2,1531.1 703.3,1529.0 704.7,1527.5 706.7,1525.3 708.1,1523.8 710.0,1521.5 711.2,1520.0 713.0,1517.6 714.2,1516.0 715.9,1513.5 717.1,1511.9 718.7,1509.4 719.8,1507.7 721.5,1505.2 722.6,1503.5 724.2,1501.0 725.3,1499.3 726.8,1496.7 727.9,1495.0 729.4,1492.4 730.4,1490.7 731.8,1488.1 732.7,1486.3 734.0,1483.6 734.9,1481.8 736.1,1479.1 737.0,1477.3 738.3,1474.6 739.2,1472.8 740.5,1470.1 741.3,1468.3 742.7,1465.6 743.6,1463.9 744.9,1461.2 745.8,1459.4 747.2,1456.7 748.1,1455.0 749.4,1452.3 750.4,1450.5 751.7,1447.9 752.7,1446.1 754.1,1443.4 755.0,1441.7 756.5,1439.0 757.4,1437.3 758.9,1434.7 759.8,1432.9 761.3,1430.3 762.3,1428.6 763.8,1426.0 764.8,1424.2 766.3,1421.7 767.3,1419.9 768.8,1417.3 769.9,1415.6 771.4,1413.1 772.5,1411.3 774.0,1408.8 775.1,1407.1 776.7,1404.5 777.7,1402.9 779.3,1400.3 780.4,1398.7 782.1,1396.1 783.2,1394.5 784.8,1392.0 785.9,1390.3 787.6,1387.9 788.8,1386.2 790.5,1383.8 791.7,1382.2 793.4,1379.7 794.6,1378.1 796.4,1375.7 797.6,1374.1 799.4,1371.7 800.6,1370.2 802.5,1367.8 803.7,1366.2 805.6,1363.9 806.9,1362.3 808.8,1360.0 810.0,1358.5 811.9,1356.2 813.2,1354.6 815.2,1352.3 816.4,1350.8 818.4,1348.5 819.7,1347.0 821.6,1344.7 822.9,1343.2 824.9,1340.9 826.2,1339.4 828.2,1337.2 829.5,1335.6 831.4,1333.4 832.7,1331.8 834.7,1329.6 835.9,1328.0 837.9,1325.7 839.1,1324.2 841.1,1321.9 842.3,1320.3 844.2,1318.0 845.5,1316.4 847.3,1314.1 848.5,1312.5 850.4,1310.2 851.6,1308.6 853.4,1306.2 854.6,1304.6 856.3,1302.2 857.5,1300.5 859.2,1298.1 860.3,1296.5 862.0,1294.0 863.2,1292.4 864.8,1289.9 865.9,1288.2 867.5,1285.7 868.6,1284.1 870.2,1281.5 871.2,1279.9 872.8,1277.3 873.8,1275.6 875.3,1273.0 876.2,1271.3 877.7,1268.7 878.6,1267.0 879.9,1264.3 880.8,1262.6 882.1,1259.9 883.0,1258.1 884.2,1255.4 885.0,1253.6 886.2,1250.8 886.9,1249.0 888.1,1246.2 888.8,1244.3 889.9,1241.5 890.6,1239.7 891.6,1236.9 892.3,1235.0 893.3,1232.1 893.9,1230.2 894.9,1227.4 895.5,1225.5 896.5,1222.6 897.1,1220.7 898.0,1217.9 898.6,1216.0 899.5,1213.1 900.1,1211.2 901.0,1208.3 901.6,1206.4 902.4,1203.5 903.0,1201.6 903.8,1198.7 904.3,1196.8 905.1,1193.9 905.6,1192.0 906.4,1189.1 906.9,1187.1 907.6,1184.2 908.1,1182.3 908.8,1179.4 909.3,1177.4 910.0,1174.5 910.5,1172.6 911.1,1169.7 911.6,1167.7 912.2,1164.8 912.6,1162.8 913.3,1159.9 913.7,1157.9 914.3,1155.0 914.7,1153.1 915.3,1150.1 915.7,1148.2 916.3,1145.2 916.7,1143.3 917.3,1140.3 917.7,1138.4 918.3,1135.4 918.7,1133.4 919.3,1130.5 919.7,1128.5 920.2,1125.6 920.6,1123.6 921.2,1120.7 921.5,1118.7 922.1,1115.8 922.5,1113.8 923.0,1110.9 923.4,1108.9 923.9,1105.9 924.3,1104.0 924.9,1101.0 925.2,1099.1 925.8,1096.1 926.1,1094.1 926.7,1091.2 927.0,1089.2 927.6,1086.3 927.9,1084.3 928.4,1081.4 928.8,1079.4 929.3,1076.4 929.7,1074.5 930.2,1071.5 930.6,1069.5 931.1,1066.6 931.4,1064.6 931.9,1061.7 932.3,1059.7 932.8,1056.7 933.1,1054.8 933.7,1051.8 934.0,1049.8 934.5,1046.9 934.8,1044.9 935.3,1041.9 935.7,1040.0 936.2,1037.0 936.5,1035.0 937.0,1032.1 937.4,1030.1 937.9,1027.2 938.2,1025.2 938.7,1022.2 939.0,1020.3 939.5,1017.3 939.9,1015.3 940.3,1012.4 940.7,1010.4 941.2,1007.4 941.5,1005.5 942.0,1002.5 942.3,1000.5 942.8,997.6 943.1,995.6 943.6,992.6 943.9,990.7 944.4,987.7 944.7,985.7 945.2,982.8 945.5,980.8 946.0,977.8 946.3,975.9 946.8,972.9 947.1,970.9 947.6,968.0 947.9,966.0 948.4,963.0 948.7,961.0 949.2,958.1 949.5,956.1 950.0,953.1 950.3,951.2 950.7,948.2 951.0,946.2 951.5,943.3 951.8,941.3 952.3,938.3 952.6,936.3 953.0,933.4 953.3,931.4 953.8,928.4 954.1,926.5 954.5,923.5 954.8,921.5 955.3,918.5 955.6,916.6 956.0,913.6 956.3,911.6 956.7,908.6 957.0,906.7 957.5,903.7 957.7,901.7 958.2,898.8 958.5,896.8 958.9,893.8 959.2,891.8 959.6,888.9 959.9,886.9 960.3,883.9 960.6,881.9 961.0,878.9 961.2,877.0 961.6,874.0 961.9,872.0 962.3,869.0 962.6,867.1 963.0,864.1 963.2,862.1 963.6,859.1 963.9,857.1 964.3,854.2 964.5,852.2 964.9,849.2 965.2,847.2 965.6,844.3 965.8,842.3 966.2,839.3 966.5,837.3 966.8,834.3 967.1,832.4 967.5,829.4 967.7,827.4 968.1,824.4 968.3,822.4 968.7,819.5 969.0,817.5 969.3,814.5 969.6,812.5 970.0,809.5 970.2,807.5 970.6,804.6 970.8,802.6 971.2,799.6 971.5,797.6 971.8,794.6 972.1,792.7 972.5,789.7 972.7,787.7 973.1,784.7 973.3,782.7 973.7,779.8 974.0,777.8 974.4,774.8 974.6,772.8 975.0,769.8 975.2,767.9 975.6,764.9 975.9,762.9 976.3,759.9 976.5,757.9 976.9,755.0 977.2,753.0 977.5,750.0 977.8,748.0 978.2,745.0 978.4,743.1 978.8,740.1 979.1,738.1 979.5,735.1 979.7,733.1 980.1,730.2 980.4,728.2 980.7,725.2 981.0,723.2 981.4,720.3 981.6,718.3 982.0,715.3 982.3,713.3 982.7,710.3 982.9,708.4 983.3,705.4 983.6,703.4 984.0,700.4 984.2,698.4 984.6,695.5 984.9,693.5 985.3,690.5 985.6,688.5 986.0,685.6 986.2,683.6 986.6,680.6 986.9,678.6 987.3,675.6 987.6,673.7 988.0,670.7 988.2,668.7 988.6,665.7 988.9,663.8 989.3,660.8 989.6,658.8 990.0,655.8 990.3,653.9 990.7,650.9 991.0,648.9 991.4,645.9 991.7,644.0 992.1,641.0 992.4,639.0 992.9,636.0 993.2,634.1 993.6,631.1 993.9,629.1 994.3,626.1 994.6,624.2 995.1,621.2 995.3,619.2 995.8,616.3 996.1,614.3 996.5,611.3 996.8,609.3 997.3,606.4 997.6,604.4 998.0,601.4 998.3,599.4 998.8,596.5 999.1,594.5 999.6,591.5 999.9,589.6 1000.3,586.6 1000.6,584.6 1001.1,581.7 1001.4,579.7 1001.9,576.7 1002.2,574.7 1002.6,571.8 1003.0,569.8 1003.4,566.8 1003.7,564.9 1004.2,561.9 1004.5,559.9 1005.0,557.0 1005.3,555.0 1005.8,552.0 1006.1,550.0 1006.5,547.1 1006.9,545.1 1007.3,542.1 1007.6,540.2 1008.1,537.2 1008.4,535.2 1008.9,532.3 1009.2,530.3 1009.7,527.3 1010.0,525.3 1010.4,522.4 1010.7,520.4 1011.2,517.4 1011.5,515.5 1012.0,512.5 1012.3,510.5 1012.8,507.6 1013.1,505.6 1013.6,502.6 1013.9,500.7 1014.3,497.7 1014.6,495.7 1015.1,492.8 1015.4,490.8 1015.9,487.8 1016.2,485.8 1016.7,482.9 1017.0,480.9 1017.5,477.9 1017.8,476.0 1018.3,473.0 1018.6,471.0 1019.1,468.1 1019.5,466.1 1020.0,463.1 1020.3,461.2 1020.8,458.2 1021.1,456.2 1021.6,453.3 1022.0,451.3 1022.5,448.4 1022.8,446.4 1023.4,443.4 1023.7,441.5 1024.2,438.5 1024.6,436.6 1025.1,433.6 1025.5,431.6 1026.0,428.7 1026.4,426.7 1026.9,423.8 1027.3,421.8 1027.8,418.8 1028.2,416.9 1028.8,413.9 1029.1,412.0 1029.7,409.0 1030.1,407.1 1030.6,404.1 1031.0,402.1 1031.5,399.2 1031.9,397.2 1032.5,394.3 1032.9,392.3 1033.4,389.4 1033.8,387.4 1034.4,384.5 1034.7,382.5 1035.3,379.5 1035.7,377.6 1036.2,374.6 1036.6,372.7 1037.1,369.7 1037.5,367.8 1038.1,364.8 1038.4,362.8 1039.0,359.9 1039.4,357.9 1039.9,355.0 1040.3,353.0 1040.8,350.1 1041.2,348.1 1041.7,345.1 1042.1,343.2 1042.7,340.2 1043.0,338.3 1043.6,335.3 1043.9,333.3 1044.5,330.4 1044.9,328.4 1045.4,325.5 1045.8,323.5 1046.3,320.6 1046.7,318.6 1047.3,315.7 1047.6,313.7 1048.2,310.7 1048.6,308.8 1049.1,305.8 1049.5,303.9 1050.1,300.9 1050.5,299.0 1051.0,296.0 1051.4,294.1 1052.0,291.1 1052.4,289.1 1053.0,286.2 1053.4,284.2 1054.0,281.3 1054.4,279.3 1055.0,276.4 1055.4,274.4 1056.0,271.5 1056.4,269.5 1057.0,266.6 1057.4,264.6 1058.0,261.7 1058.4,259.8 1059.0,256.8 1059.4,254.9 1060.0,251.9 1060.4,250.0 1061.0,247.0 1061.5,245.1 1062.1,242.1 1062.5,240.2 1063.1,237.2 1063.5,235.3 1064.2,232.4 1064.6,230.4 1065.2,227.5 1065.7,225.5 1066.3,222.6 1066.7,220.6 1067.4,217.7 1067.8,215.7 1068.5,212.8 1068.9,210.9 1069.6,207.9 1070.0,206.0 1070.7,203.1 1071.1,201.1 1071.8,198.2 1072.3,196.3 1073.0,193.3 1073.5,191.4 1074.2,188.5 1074.7,186.6 1075.4,183.7 1075.9,181.8 1076.7,178.9 1077.2,177.0 1078.0,174.1 1078.5,172.2 1079.3,169.3 1079.9,167.4 1080.8,164.6 1081.3,162.7 1082.2,159.8 1082.9,157.9 1083.8,155.1 1084.5,153.2 1085.6,150.4 1086.3,148.6 1087.4,145.7 1088.2,143.8 1089.5,141.1 1090.5,139.3 1092.1,136.8 1093.4,135.1 1095.7,133.0 1104.1,133.0 1101.8,135.1 1100.5,136.8 1098.9,139.3 1097.9,141.1 1096.6,143.8 1095.8,145.7 1094.7,148.6 1094.0,150.4 1092.9,153.2 1092.2,155.1 1091.3,157.9 1090.6,159.8 1089.7,162.7 1089.2,164.6 1088.3,167.4 1087.7,169.3 1086.9,172.2 1086.4,174.1 1085.6,177.0 1085.1,178.9 1084.3,181.8 1083.8,183.7 1083.1,186.6 1082.6,188.5 1081.9,191.4 1081.4,193.3 1080.7,196.3 1080.2,198.2 1079.5,201.1 1079.1,203.1 1078.4,206.0 1078.0,207.9 1077.3,210.9 1076.9,212.8 1076.2,215.7 1075.8,217.7 1075.1,220.6 1074.7,222.6 1074.1,225.5 1073.6,227.5 1073.0,230.4 1072.6,232.4 1071.9,235.3 1071.5,237.2 1070.9,240.2 1070.5,242.1 1069.9,245.1 1069.4,247.0 1068.8,250.0 1068.4,251.9 1067.8,254.9 1067.4,256.8 1066.8,259.8 1066.4,261.7 1065.8,264.6 1065.4,266.6 1064.8,269.5 1064.4,271.5 1063.8,274.4 1063.4,276.4 1062.8,279.3 1062.4,281.3 1061.8,284.2 1061.4,286.2 1060.8,289.1 1060.4,291.1 1059.8,294.1 1059.4,296.0 1058.9,299.0 1058.5,300.9 1057.9,303.9 1057.5,305.8 1057.0,308.8 1056.6,310.7 1056.0,313.7 1055.7,315.7 1055.1,318.6 1054.7,320.6 1054.2,323.5 1053.8,325.5 1053.3,328.4 1052.9,330.4 1052.3,333.3 1052.0,335.3 1051.4,338.3 1051.1,340.2 1050.5,343.2 1050.1,345.1 1049.6,348.1 1049.2,350.1 1048.7,353.0 1048.3,355.0 1047.8,357.9 1047.4,359.9 1046.8,362.8 1046.5,364.8 1045.9,367.8 1045.5,369.7 1045.0,372.7 1044.6,374.6 1044.1,377.6 1043.7,379.5 1043.1,382.5 1042.8,384.5 1042.2,387.4 1041.8,389.4 1041.3,392.3 1040.9,394.3 1040.3,397.2 1039.9,399.2 1039.4,402.1 1039.0,404.1 1038.5,407.1 1038.1,409.0 1037.5,412.0 1037.2,413.9 1036.6,416.9 1036.2,418.8 1035.7,421.8 1035.3,423.8 1034.8,426.7 1034.4,428.7 1033.9,431.6 1033.5,433.6 1033.0,436.6 1032.6,438.5 1032.1,441.5 1031.8,443.4 1031.2,446.4 1030.9,448.4 1030.4,451.3 1030.0,453.3 1029.5,456.2 1029.2,458.2 1028.7,461.2 1028.4,463.1 1027.9,466.1 1027.5,468.1 1027.0,471.0 1026.7,473.0 1026.2,476.0 1025.9,477.9 1025.4,480.9 1025.1,482.9 1024.6,485.8 1024.3,487.8 1023.8,490.8 1023.5,492.8 1023.0,495.7 1022.7,497.7 1022.3,500.7 1022.0,502.6 1021.5,505.6 1021.2,507.6 1020.7,510.5 1020.4,512.5 1019.9,515.5 1019.6,517.4 1019.1,520.4 1018.8,522.4 1018.4,525.3 1018.1,527.3 1017.6,530.3 1017.3,532.3 1016.8,535.2 1016.5,537.2 1016.0,540.2 1015.7,542.1 1015.3,545.1 1014.9,547.1 1014.5,550.0 1014.2,552.0 1013.7,555.0 1013.4,557.0 1012.9,559.9 1012.6,561.9 1012.1,564.9 1011.8,566.8 1011.4,569.8 1011.0,571.8 1010.6,574.7 1010.3,576.7 1009.8,579.7 1009.5,581.7 1009.0,584.6 1008.7,586.6 1008.3,589.6 1008.0,591.5 1007.5,594.5 1007.2,596.5 1006.7,599.4 1006.4,601.4 1006.0,604.4 1005.7,606.4 1005.2,609.3 1004.9,611.3 1004.5,614.3 1004.2,616.3 1003.7,619.2 1003.5,621.2 1003.0,624.2 1002.7,626.1 1002.3,629.1 1002.0,631.1 1001.6,634.1 1001.3,636.0 1000.8,639.0 1000.5,641.0 1000.1,644.0 999.8,645.9 999.4,648.9 999.1,650.9 998.7,653.9 998.4,655.8 998.0,658.8 997.7,660.8 997.3,663.8 997.0,665.7 996.6,668.7 996.4,670.7 996.0,673.7 995.7,675.6 995.3,678.6 995.0,680.6 994.6,683.6 994.4,685.6 994.0,688.5 993.7,690.5 993.3,693.5 993.0,695.5 992.6,698.4 992.4,700.4 992.0,703.4 991.7,705.4 991.3,708.4 991.1,710.3 990.7,713.3 990.4,715.3 990.0,718.3 989.8,720.3 989.4,723.2 989.1,725.2 988.8,728.2 988.5,730.2 988.1,733.1 987.9,735.1 987.5,738.1 987.2,740.1 986.8,743.1 986.6,745.0 986.2,748.0 985.9,750.0 985.6,753.0 985.3,755.0 984.9,757.9 984.7,759.9 984.3,762.9 984.0,764.9 983.6,767.9 983.4,769.8 983.0,772.8 982.8,774.8 982.4,777.8 982.1,779.8 981.7,782.7 981.5,784.7 981.1,787.7 980.9,789.7 980.5,792.7 980.2,794.6 979.9,797.6 979.6,799.6 979.2,802.6 979.0,804.6 978.6,807.5 978.4,809.5 978.0,812.5 977.7,814.5 977.4,817.5 977.1,819.5 976.7,822.4 976.5,824.4 976.1,827.4 975.9,829.4 975.5,832.4 975.2,834.3 974.9,837.3 974.6,839.3 974.2,842.3 974.0,844.3 973.6,847.2 973.3,849.2 972.9,852.2 972.7,854.2 972.3,857.1 972.0,859.1 971.6,862.1 971.4,864.1 971.0,867.1 970.7,869.0 970.3,872.0 970.0,874.0 969.6,877.0 969.4,878.9 969.0,881.9 968.7,883.9 968.3,886.9 968.0,888.9 967.6,891.8 967.3,893.8 966.9,896.8 966.6,898.8 966.1,901.7 965.9,903.7 965.4,906.7 965.1,908.6 964.7,911.6 964.4,913.6 964.0,916.6 963.7,918.5 963.2,921.5 962.9,923.5 962.5,926.5 962.2,928.4 961.7,931.4 961.4,933.4 961.0,936.3 960.7,938.3 960.2,941.3 959.9,943.3 959.4,946.2 959.1,948.2 958.7,951.2 958.4,953.1 957.9,956.1 957.6,958.1 957.1,961.0 956.8,963.0 956.3,966.0 956.0,968.0 955.5,970.9 955.2,972.9 954.7,975.9 954.4,977.8 953.9,980.8 953.6,982.8 953.1,985.7 952.8,987.7 952.3,990.7 952.0,992.6 951.5,995.6 951.2,997.6 950.7,1000.5 950.4,1002.5 949.9,1005.5 949.6,1007.4 949.1,1010.4 948.7,1012.4 948.3,1015.3 947.9,1017.3 947.4,1020.3 947.1,1022.2 946.6,1025.2 946.3,1027.2 945.8,1030.1 945.4,1032.1 944.9,1035.0 944.6,1037.0 944.1,1040.0 943.7,1041.9 943.2,1044.9 942.9,1046.9 942.4,1049.8 942.1,1051.8 941.5,1054.8 941.2,1056.7 940.7,1059.7 940.3,1061.7 939.8,1064.6 939.5,1066.6 939.0,1069.5 938.6,1071.5 938.1,1074.5 937.7,1076.4 937.2,1079.4 936.8,1081.4 936.3,1084.3 936.0,1086.3 935.4,1089.2 935.1,1091.2 934.5,1094.1 934.2,1096.1 933.6,1099.1 933.3,1101.0 932.7,1104.0 932.3,1105.9 931.8,1108.9 931.4,1110.9 930.9,1113.8 930.5,1115.8 929.9,1118.7 929.6,1120.7 929.0,1123.6 928.6,1125.6 928.1,1128.5 927.7,1130.5 927.1,1133.4 926.7,1135.4 926.1,1138.4 925.7,1140.3 925.1,1143.3 924.7,1145.2 924.1,1148.2 923.7,1150.1 923.1,1153.1 922.7,1155.0 922.1,1157.9 921.7,1159.9 921.0,1162.8 920.6,1164.8 920.0,1167.7 919.5,1169.7 918.9,1172.6 918.4,1174.5 917.7,1177.4 917.2,1179.4 916.5,1182.3 916.0,1184.2 915.3,1187.1 914.8,1189.1 914.0,1192.0 913.5,1193.9 912.7,1196.8 912.2,1198.7 911.4,1201.6 910.8,1203.5 910.0,1206.4 909.4,1208.3 908.5,1211.2 907.9,1213.1 907.0,1216.0 906.4,1217.9 905.5,1220.7 904.9,1222.6 903.9,1225.5 903.3,1227.4 902.3,1230.2 901.7,1232.1 900.7,1235.0 900.0,1236.9 899.0,1239.7 898.3,1241.5 897.2,1244.3 896.5,1246.2 895.3,1249.0 894.6,1250.8 893.4,1253.6 892.6,1255.4 891.4,1258.1 890.5,1259.9 889.2,1262.6 888.3,1264.3 887.0,1267.0 886.1,1268.7 884.6,1271.3 883.7,1273.0 882.2,1275.6 881.2,1277.3 879.6,1279.9 878.6,1281.5 877.0,1284.1 875.9,1285.7 874.3,1288.2 873.2,1289.9 871.6,1292.4 870.4,1294.0 868.7,1296.5 867.6,1298.1 865.9,1300.5 864.7,1302.2 863.0,1304.6 861.8,1306.2 860.0,1308.6 858.8,1310.2 856.9,1312.5 855.7,1314.1 853.9,1316.4 852.6,1318.0 850.7,1320.3 849.5,1321.9 847.5,1324.2 846.3,1325.7 844.3,1328.0 843.1,1329.6 841.1,1331.8 839.8,1333.4 837.9,1335.6 836.6,1337.2 834.6,1339.4 833.3,1340.9 831.3,1343.2 830.0,1344.7 828.1,1347.0 826.8,1348.5 824.8,1350.8 823.6,1352.3 821.6,1354.6 820.3,1356.2 818.4,1358.5 817.2,1360.0 815.3,1362.3 814.0,1363.9 812.1,1366.2 810.9,1367.8 809.0,1370.2 807.8,1371.7 806.0,1374.1 804.8,1375.7 803.0,1378.1 801.8,1379.7 800.1,1382.2 798.9,1383.8 797.2,1386.2 796.0,1387.9 794.3,1390.3 793.2,1392.0 791.6,1394.5 790.5,1396.1 788.8,1398.7 787.7,1400.3 786.1,1402.9 785.1,1404.5 783.5,1407.1 782.4,1408.8 780.9,1411.3 779.8,1413.1 778.3,1415.6 777.2,1417.3 775.7,1419.9 774.7,1421.7 773.2,1424.2 772.2,1426.0 770.7,1428.6 769.7,1430.3 768.2,1432.9 767.3,1434.7 765.8,1437.3 764.9,1439.0 763.4,1441.7 762.5,1443.4 761.1,1446.1 760.1,1447.9 758.8,1450.5 757.8,1452.3 756.5,1455.0 755.6,1456.7 754.2,1459.4 753.3,1461.2 752.0,1463.9 751.1,1465.6 749.7,1468.3 748.9,1470.1 747.6,1472.8 746.7,1474.6 745.4,1477.3 744.5,1479.1 743.3,1481.8 742.4,1483.6 741.1,1486.3 740.2,1488.1 738.8,1490.7 737.8,1492.4 736.3,1495.0 735.2,1496.7 733.7,1499.3 732.6,1501.0 731.0,1503.5 729.9,1505.2 728.2,1507.7 727.1,1509.4 725.5,1511.9 724.3,1513.5 722.6,1516.0 721.4,1517.6 719.6,1520.0 718.4,1521.5 716.5,1523.8 715.1,1525.3 713.1,1527.5 711.7,1529.0 709.6,1531.1 708.1,1532.5 705.9,1534.5 704.4,1535.8 702.1,1537.7 700.6,1539.0 698.2,1540.9 696.6,1542.1 694.1,1543.8 692.5,1545.0 689.9,1546.6 688.2,1547.6 685.6,1549.1 683.9,1550.0 681.2,1551.4 679.3,1552.2 676.6,1553.4 674.7,1554.0 671.9,1555.0 670.0,1555.6 667.1,1556.4 665.1,1557.0 662.2,1557.7 660.3,1558.1 657.3,1558.7 655.4,1559.0 652.4,1559.6 650.4,1559.9 647.5,1560.3 645.5,1560.6 642.5,1561.1 640.5,1561.4 637.6,1562.0 635.6,1562.3 632.7,1562.8 630.7,1563.2 627.7,1563.7 625.8,1564.1 622.8,1564.6 620.8,1564.9 617.9,1565.4 615.9,1565.7 612.9,1566.2 611.0,1566.5 608.0,1566.9 606.0,1567.2 603.0,1567.6 601.1,1567.8 598.1,1568.2 596.1,1568.4 593.1,1568.7 591.1,1568.9 588.1,1569.1 586.1,1569.3 583.1,1569.5 581.1,1569.6 578.1,1569.8 576.1,1569.9 573.1,1570.1 571.1,1570.1 568.2,1570.3 566.2,1570.4 563.2,1570.5 561.2,1570.6 558.2,1570.8 556.2,1570.8 553.2,1570.9 551.2,1571.0 548.2,1571.1 546.2,1571.1 543.2,1571.1 541.2,1571.1 538.2,1571.1 536.2,1571.1 533.2,1571.1 531.2,1571.2 528.2,1571.2 526.2,1571.2 523.2,1571.2 521.2,1571.2 518.2,1571.2 516.2,1571.2 513.2,1571.2 511.2,1571.2 508.2,1571.2 506.2,1571.2ZM1104.1,133.0 1105.6,133.0 1108.3,134.7 1109.9,136.3 1111.6,138.7 1112.4,140.4 1113.5,143.2 1114.2,145.2 1115.0,148.2 1115.5,150.2 1116.3,153.2 1116.7,155.1 1117.3,158.0 1117.7,160.0 1118.3,162.9 1118.7,164.8 1119.2,167.8 1119.5,169.7 1120.1,172.7 1120.4,174.6 1120.9,177.5 1121.2,179.5 1121.7,182.4 1122.0,184.4 1122.5,187.3 1122.8,189.3 1123.3,192.3 1123.5,194.2 1124.0,197.2 1124.3,199.2 1124.7,202.1 1125.0,204.1 1125.4,207.1 1125.6,209.1 1126.0,212.0 1126.3,214.0 1126.7,217.0 1126.9,219.0 1127.3,222.0 1127.5,223.9 1127.9,226.9 1128.1,228.9 1128.5,231.9 1128.7,233.9 1129.0,236.9 1129.3,238.8 1129.6,241.8 1129.8,243.8 1130.2,246.8 1130.4,248.8 1130.7,251.8 1130.9,253.8 1131.2,256.7 1131.4,258.7 1131.7,261.7 1131.9,263.7 1132.2,266.7 1132.4,268.7 1132.7,271.7 1132.9,273.7 1133.2,276.6 1133.4,278.6 1133.7,281.6 1133.9,283.6 1134.2,286.6 1134.3,288.6 1134.6,291.6 1134.8,293.6 1135.1,296.5 1135.3,298.5 1135.6,301.5 1135.7,303.5 1136.0,306.5 1136.2,308.5 1136.5,311.5 1136.7,313.5 1137.0,316.5 1137.2,318.5 1137.4,321.4 1137.6,323.4 1137.9,326.4 1138.1,328.4 1138.4,331.4 1138.5,333.4 1138.8,336.4 1139.0,338.4 1139.3,341.4 1139.5,343.3 1139.7,346.3 1139.9,348.3 1140.2,351.3 1140.4,353.3 1140.6,356.3 1140.8,358.3 1141.1,361.3 1141.3,363.3 1141.5,366.3 1141.7,368.2 1142.0,371.2 1142.1,373.2 1142.4,376.2 1142.6,378.2 1142.8,381.2 1143.0,383.2 1143.2,386.2 1143.4,388.2 1143.6,391.2 1143.8,393.2 1144.1,396.1 1144.2,398.1 1144.5,401.1 1144.6,403.1 1144.9,406.1 1145.0,408.1 1145.3,411.1 1145.4,413.1 1145.7,416.1 1145.8,418.1 1146.1,421.1 1146.2,423.1 1146.5,426.0 1146.6,428.0 1146.9,431.0 1147.0,433.0 1147.3,436.0 1147.4,438.0 1147.7,441.0 1147.8,443.0 1148.1,446.0 1148.2,448.0 1148.5,451.0 1148.6,453.0 1148.9,456.0 1149.0,457.9 1149.3,460.9 1149.4,462.9 1149.7,465.9 1149.9,467.9 1150.1,470.9 1150.3,472.9 1150.5,475.9 1150.7,477.9 1151.0,480.9 1151.1,482.9 1151.4,485.8 1151.5,487.8 1151.8,490.8 1152.0,492.8 1152.2,495.8 1152.4,497.8 1152.7,500.8 1152.8,502.8 1153.1,505.8 1153.2,507.8 1153.5,510.8 1153.7,512.7 1153.9,515.7 1154.1,517.7 1154.3,520.7 1154.5,522.7 1154.8,525.7 1154.9,527.7 1155.2,530.7 1155.3,532.7 1155.6,535.7 1155.7,537.7 1156.0,540.7 1156.2,542.6 1156.4,545.6 1156.6,547.6 1156.8,550.6 1157.0,552.6 1157.2,555.6 1157.4,557.6 1157.6,560.6 1157.8,562.6 1158.0,565.6 1158.2,567.6 1158.4,570.6 1158.6,572.5 1158.8,575.5 1158.9,577.5 1159.2,580.5 1159.3,582.5 1159.6,585.5 1159.7,587.5 1159.9,590.5 1160.1,592.5 1160.3,595.5 1160.5,597.5 1160.7,600.5 1160.8,602.5 1161.1,605.5 1161.2,607.4 1161.4,610.4 1161.6,612.4 1161.8,615.4 1161.9,617.4 1162.2,620.4 1162.3,622.4 1162.5,625.4 1162.7,627.4 1162.9,630.4 1163.0,632.4 1163.3,635.4 1163.4,637.4 1163.6,640.4 1163.8,642.4 1164.0,645.3 1164.2,647.3 1164.4,650.3 1164.5,652.3 1164.8,655.3 1164.9,657.3 1165.2,660.3 1165.3,662.3 1165.6,665.3 1165.7,667.3 1166.0,670.3 1166.1,672.3 1166.4,675.3 1166.5,677.2 1166.8,680.2 1167.0,682.2 1167.2,685.2 1167.4,687.2 1167.6,690.2 1167.8,692.2 1168.1,695.2 1168.3,697.2 1168.5,700.2 1168.7,702.1 1169.0,705.1 1169.2,707.1 1169.4,710.1 1169.6,712.1 1169.9,715.1 1170.1,717.1 1170.4,720.1 1170.6,722.1 1170.9,725.0 1171.1,727.0 1171.3,730.0 1171.5,732.0 1171.8,735.0 1172.0,737.0 1172.3,740.0 1172.5,742.0 1172.8,744.9 1173.0,746.9 1173.3,749.9 1173.5,751.9 1173.8,754.9 1174.0,756.9 1174.3,759.9 1174.5,761.9 1174.8,764.8 1175.0,766.8 1175.3,769.8 1175.5,771.8 1175.8,774.8 1176.0,776.8 1176.3,779.8 1176.5,781.8 1176.8,784.8 1177.0,786.7 1177.3,789.7 1177.5,791.7 1177.8,794.7 1178.0,796.7 1178.3,799.7 1178.5,801.7 1178.8,804.7 1179.0,806.6 1179.3,809.6 1179.5,811.6 1179.8,814.6 1180.0,816.6 1180.2,819.6 1180.4,821.6 1180.7,824.6 1180.9,826.6 1181.2,829.5 1181.4,831.5 1181.7,834.5 1181.9,836.5 1182.2,839.5 1182.4,841.5 1182.7,844.5 1183.0,846.4 1183.3,849.4 1183.5,851.4 1183.8,854.4 1184.0,856.4 1184.4,859.4 1184.6,861.4 1184.9,864.3 1185.2,866.3 1185.5,869.3 1185.7,871.3 1186.1,874.3 1186.3,876.3 1186.7,879.2 1186.9,881.2 1187.3,884.2 1187.6,886.2 1188.0,889.2 1188.2,891.1 1188.6,894.1 1188.9,896.1 1189.3,899.1 1189.5,901.0 1189.9,904.0 1190.2,906.0 1190.6,909.0 1190.9,911.0 1191.3,913.9 1191.6,915.9 1192.0,918.9 1192.3,920.9 1192.7,923.8 1193.0,925.8 1193.4,928.8 1193.7,930.8 1194.1,933.7 1194.4,935.7 1194.9,938.7 1195.2,940.6 1195.6,943.6 1195.9,945.6 1196.3,948.6 1196.6,950.5 1197.1,953.5 1197.4,955.5 1197.8,958.5 1198.1,960.4 1198.6,963.4 1198.8,965.4 1199.3,968.3 1199.6,970.3 1200.0,973.3 1200.3,975.3 1200.8,978.2 1201.1,980.2 1201.5,983.2 1201.8,985.2 1202.3,988.1 1202.6,990.1 1203.0,993.1 1203.3,995.0 1203.8,998.0 1204.1,1000.0 1204.5,1002.9 1204.8,1004.9 1205.3,1007.9 1205.6,1009.9 1206.1,1012.8 1206.4,1014.8 1206.8,1017.8 1207.1,1019.7 1207.6,1022.7 1207.9,1024.7 1208.4,1027.6 1208.7,1029.6 1209.2,1032.6 1209.5,1034.6 1210.0,1037.5 1210.4,1039.5 1210.9,1042.4 1211.2,1044.4 1211.7,1047.4 1212.1,1049.3 1212.6,1052.3 1212.9,1054.3 1213.5,1057.2 1213.8,1059.2 1214.3,1062.1 1214.7,1064.1 1215.2,1067.1 1215.6,1069.0 1216.1,1072.0 1216.5,1073.9 1217.1,1076.9 1217.4,1078.8 1218.0,1081.8 1218.4,1083.8 1219.0,1086.7 1219.3,1088.7 1219.9,1091.6 1220.3,1093.6 1220.9,1096.5 1221.3,1098.5 1221.9,1101.4 1222.3,1103.4 1222.9,1106.3 1223.3,1108.3 1223.9,1111.2 1224.3,1113.2 1224.9,1116.1 1225.3,1118.1 1226.0,1121.0 1226.4,1123.0 1227.0,1125.9 1227.4,1127.8 1228.1,1130.8 1228.5,1132.7 1229.2,1135.6 1229.6,1137.6 1230.3,1140.5 1230.7,1142.5 1231.4,1145.4 1231.9,1147.3 1232.6,1150.2 1233.1,1152.2 1233.8,1155.1 1234.3,1157.0 1235.0,1159.9 1235.5,1161.9 1236.3,1164.8 1236.8,1166.7 1237.6,1169.6 1238.2,1171.5 1239.0,1174.4 1239.5,1176.3 1240.4,1179.2 1240.9,1181.1 1241.8,1184.0 1242.4,1185.9 1243.2,1188.8 1243.8,1190.7 1244.7,1193.5 1245.3,1195.5 1246.2,1198.3 1246.9,1200.2 1247.8,1203.1 1248.4,1205.0 1249.4,1207.8 1250.0,1209.7 1251.0,1212.6 1251.6,1214.4 1252.6,1217.3 1253.2,1219.2 1254.2,1222.0 1254.9,1223.9 1255.9,1226.7 1256.6,1228.6 1257.6,1231.4 1258.3,1233.3 1259.3,1236.1 1260.1,1238.0 1261.1,1240.8 1261.8,1242.6 1262.9,1245.4 1263.7,1247.3 1264.8,1250.1 1265.6,1251.9 1266.7,1254.7 1267.5,1256.5 1268.7,1259.3 1269.4,1261.1 1270.6,1263.9 1271.4,1265.7 1272.7,1268.4 1273.5,1270.3 1274.7,1273.0 1275.6,1274.8 1276.8,1277.5 1277.7,1279.3 1278.9,1282.1 1279.8,1283.9 1281.1,1286.6 1281.9,1288.4 1283.3,1291.1 1284.1,1292.9 1285.4,1295.6 1286.3,1297.4 1287.7,1300.1 1288.5,1301.9 1289.9,1304.6 1290.8,1306.4 1292.2,1309.0 1293.1,1310.8 1294.5,1313.5 1295.4,1315.2 1296.8,1317.9 1297.7,1319.6 1299.2,1322.3 1300.1,1324.0 1301.6,1326.6 1302.6,1328.4 1304.1,1330.9 1305.1,1332.6 1306.7,1335.2 1307.7,1336.9 1309.3,1339.4 1310.4,1341.1 1312.0,1343.6 1313.2,1345.2 1314.8,1347.7 1316.0,1349.3 1317.7,1351.8 1318.9,1353.4 1320.7,1355.8 1321.9,1357.4 1323.7,1359.7 1324.9,1361.3 1326.8,1363.7 1328.0,1365.2 1329.9,1367.6 1331.2,1369.1 1333.1,1371.4 1334.4,1373.0 1336.3,1375.3 1337.6,1376.8 1339.6,1379.0 1340.9,1380.6 1342.9,1382.8 1344.2,1384.3 1346.2,1386.5 1347.5,1388.0 1349.6,1390.2 1350.9,1391.7 1353.0,1393.9 1354.4,1395.3 1356.4,1397.5 1357.8,1399.0 1359.9,1401.1 1361.3,1402.5 1363.5,1404.6 1364.9,1406.0 1367.0,1408.1 1368.5,1409.5 1370.7,1411.5 1372.1,1412.9 1374.4,1414.9 1375.8,1416.2 1378.1,1418.2 1379.6,1419.5 1381.9,1421.4 1383.4,1422.7 1385.8,1424.5 1387.3,1425.8 1389.7,1427.6 1391.3,1428.8 1393.7,1430.6 1395.3,1431.8 1397.7,1433.6 1399.3,1434.7 1401.8,1436.4 1403.4,1437.6 1405.9,1439.2 1407.6,1440.3 1410.1,1441.9 1411.8,1443.0 1414.3,1444.6 1416.0,1445.6 1418.6,1447.2 1420.3,1448.2 1422.9,1449.7 1424.6,1450.7 1427.2,1452.2 1428.9,1453.2 1431.6,1454.7 1433.3,1455.6 1435.9,1457.1 1437.7,1458.0 1440.3,1459.5 1442.1,1460.4 1444.7,1461.8 1446.5,1462.8 1449.2,1464.2 1450.9,1465.1 1453.6,1466.5 1455.4,1467.4 1458.0,1468.8 1459.8,1469.7 1462.5,1471.0 1464.3,1471.9 1466.9,1473.3 1468.7,1474.2 1471.4,1475.5 1473.2,1476.4 1475.9,1477.7 1477.7,1478.6 1480.4,1479.9 1482.2,1480.8 1484.9,1482.1 1486.7,1482.9 1489.4,1484.2 1491.2,1485.1 1494.0,1486.3 1495.8,1487.2 1498.5,1488.4 1500.3,1489.3 1503.0,1490.5 1504.9,1491.3 1507.6,1492.5 1509.4,1493.4 1512.2,1494.6 1514.0,1495.4 1516.8,1496.6 1518.6,1497.4 1521.4,1498.5 1523.2,1499.3 1526.0,1500.5 1527.8,1501.2 1530.6,1502.4 1532.4,1503.2 1535.2,1504.3 1537.1,1505.1 1539.8,1506.3 1541.7,1507.0 1544.5,1508.2 1546.3,1509.0 1549.1,1510.1 1551.0,1510.8 1553.8,1511.8 1555.7,1512.4 1558.5,1513.2 1560.5,1513.8 1563.4,1514.5 1565.3,1514.9 1568.2,1515.5 1570.2,1515.8 1573.2,1516.4 1575.2,1516.7 1578.1,1517.2 1580.1,1517.6 1583.1,1518.2 1585.0,1518.6 1587.9,1519.3 1589.8,1519.8 1592.7,1520.6 1594.6,1521.3 1597.4,1522.3 1599.3,1523.0 1602.1,1524.1 1604.0,1524.8 1606.7,1526.0 1608.6,1526.7 1611.4,1527.8 1613.3,1528.6 1616.1,1529.6 1617.9,1530.4 1620.7,1531.5 1622.6,1532.3 1625.4,1533.4 1627.2,1534.2 1630.0,1535.3 1631.9,1536.0 1634.7,1537.0 1636.6,1537.6 1639.5,1538.5 1641.4,1539.0 1644.3,1539.7 1646.2,1540.2 1649.1,1540.9 1651.1,1541.3 1654.0,1541.9 1656.0,1542.3 1658.9,1542.9 1660.9,1543.3 1663.9,1543.9 1665.8,1544.3 1668.7,1544.9 1670.7,1545.4 1673.6,1546.0 1675.6,1546.5 1678.5,1547.1 1680.5,1547.6 1683.4,1548.2 1685.4,1548.6 1688.3,1549.2 1690.3,1549.6 1693.2,1550.1 1695.2,1550.5 1698.1,1551.0 1700.1,1551.3 1703.0,1551.8 1705.0,1552.2 1708.0,1552.7 1710.0,1553.0 1712.9,1553.4 1714.9,1553.8 1717.9,1554.2 1719.8,1554.5 1722.8,1555.0 1724.8,1555.3 1727.7,1555.8 1729.7,1556.1 1732.7,1556.6 1734.7,1556.9 1737.6,1557.3 1739.6,1557.7 1742.6,1558.1 1744.5,1558.4 1747.5,1558.9 1749.5,1559.2 1752.4,1559.6 1754.4,1559.9 1757.4,1560.4 1759.4,1560.7 1762.3,1561.1 1764.3,1561.4 1767.3,1561.8 1769.3,1562.1 1772.2,1562.5 1774.2,1562.8 1777.2,1563.2 1779.2,1563.5 1782.1,1563.9 1784.1,1564.1 1787.1,1564.5 1789.1,1564.8 1792.1,1565.2 1794.0,1565.5 1797.0,1565.8 1799.0,1566.1 1802.0,1566.5 1804.0,1566.7 1806.9,1567.1 1808.9,1567.3 1811.9,1567.7 1813.9,1567.9 1816.9,1568.2 1818.9,1568.4 1821.8,1568.8 1823.8,1569.0 1826.8,1569.3 1828.8,1569.5 1831.8,1569.8 1833.8,1570.0 1836.8,1570.3 1838.8,1570.4 1841.7,1570.7 1843.7,1570.9 1846.7,1571.2 1848.7,1571.3 1851.7,1571.6 1853.7,1571.8 1856.7,1572.0 1858.7,1572.2 1861.7,1572.5 1863.7,1572.6 1866.7,1572.9 1868.6,1573.1 1871.6,1573.3 1873.6,1573.5 1876.6,1573.8 1878.6,1573.9 1881.6,1574.2 1883.6,1574.4 1886.6,1574.7 1888.6,1574.9 1891.6,1575.1 1893.5,1575.3 1896.5,1575.6 1898.5,1575.8 1901.5,1576.0 1903.5,1576.2 1906.5,1576.4 1908.5,1576.6 1911.5,1576.8 1913.5,1577.0 1916.5,1577.2 1918.5,1577.3 1921.5,1577.5 1923.5,1577.6 1926.4,1577.8 1928.4,1577.9 1931.4,1578.1 1933.4,1578.2 1936.4,1578.4 1938.4,1578.5 1941.4,1578.7 1943.4,1578.8 1946.4,1578.9 1948.4,1579.0 1951.4,1579.2 1953.4,1579.2 1956.4,1579.4 1958.4,1579.5 1961.4,1579.6 1963.4,1579.6 1966.4,1579.8 1968.4,1579.8 1971.4,1579.9 1973.4,1580.0 1976.4,1580.1 1978.4,1580.1 1981.4,1580.2 1983.4,1580.3 1986.4,1580.4 1988.4,1580.4 1991.4,1580.5 1993.4,1580.5 1996.4,1580.6 1998.4,1580.7 2001.4,1580.7 2003.4,1580.8 2006.4,1580.8 2008.4,1580.9 2011.4,1580.9 2013.4,1581.0 2016.4,1581.1 2018.4,1581.1 2021.4,1581.2 2023.4,1581.2 2026.4,1581.2 2028.4,1581.3 2031.4,1581.3 2033.4,1581.4 2036.4,1581.4 2038.4,1581.5 2041.4,1581.5 2043.4,1581.6 2046.4,1581.6 2048.4,1581.6 2051.4,1581.7 2053.4,1581.7 2056.4,1581.8 2058.4,1581.8 2061.4,1581.9 2063.4,1581.9 2066.4,1581.9 2068.4,1582.0 2071.4,1582.0 2073.4,1582.0 2076.4,1582.1 2078.4,1582.1 2081.4,1582.2 2083.4,1582.2 2086.4,1582.2 2088.4,1582.3 2091.4,1582.3 2093.4,1582.3 2096.4,1582.4 2098.4,1582.4 2101.4,1582.4 2103.4,1582.4 2106.4,1582.5 2108.4,1582.5 2111.4,1582.5 2113.4,1582.6 2116.4,1582.6 2118.4,1582.6 2121.4,1582.6 2123.4,1582.7 2126.4,1582.7 2128.2,1582.7 2119.8,1582.7 2118.0,1582.7 2115.0,1582.7 2113.0,1582.6 2110.0,1582.6 2108.0,1582.6 2105.0,1582.6 2103.0,1582.5 2100.0,1582.5 2098.0,1582.5 2095.0,1582.4 2093.0,1582.4 2090.0,1582.4 2088.0,1582.4 2085.0,1582.3 2083.0,1582.3 2080.0,1582.3 2078.0,1582.2 2075.0,1582.2 2073.0,1582.2 2070.0,1582.1 2068.0,1582.1 2065.0,1582.0 2063.0,1582.0 2060.0,1582.0 2058.0,1581.9 2055.0,1581.9 2053.0,1581.9 2050.0,1581.8 2048.0,1581.8 2045.0,1581.7 2043.0,1581.7 2040.0,1581.6 2038.0,1581.6 2035.0,1581.6 2033.0,1581.5 2030.0,1581.5 2028.0,1581.4 2025.0,1581.4 2023.0,1581.3 2020.0,1581.3 2018.0,1581.2 2015.0,1581.2 2013.0,1581.2 2010.0,1581.1 2008.0,1581.1 2005.0,1581.0 2003.0,1580.9 2000.0,1580.9 1998.0,1580.8 1995.0,1580.8 1993.0,1580.7 1990.0,1580.7 1988.0,1580.6 1985.0,1580.5 1983.0,1580.5 1980.0,1580.4 1978.0,1580.4 1975.0,1580.3 1973.0,1580.2 1970.0,1580.1 1968.0,1580.1 1965.0,1580.0 1963.0,1579.9 1960.0,1579.8 1958.0,1579.8 1955.0,1579.6 1953.0,1579.6 1950.0,1579.5 1948.0,1579.4 1945.0,1579.2 1943.0,1579.2 1940.0,1579.0 1938.0,1578.9 1935.0,1578.8 1933.0,1578.7 1930.0,1578.5 1928.0,1578.4 1925.0,1578.2 1923.0,1578.1 1920.0,1577.9 1918.0,1577.8 1915.1,1577.6 1913.1,1577.5 1910.1,1577.3 1908.1,1577.2 1905.1,1577.0 1903.1,1576.8 1900.1,1576.6 1898.1,1576.4 1895.1,1576.2 1893.1,1576.0 1890.1,1575.8 1888.1,1575.6 1885.1,1575.3 1883.2,1575.1 1880.2,1574.9 1878.2,1574.7 1875.2,1574.4 1873.2,1574.2 1870.2,1573.9 1868.2,1573.8 1865.2,1573.5 1863.2,1573.3 1860.2,1573.1 1858.3,1572.9 1855.3,1572.6 1853.3,1572.5 1850.3,1572.2 1848.3,1572.0 1845.3,1571.8 1843.3,1571.6 1840.3,1571.3 1838.3,1571.2 1835.3,1570.9 1833.3,1570.7 1830.4,1570.4 1828.4,1570.3 1825.4,1570.0 1823.4,1569.8 1820.4,1569.5 1818.4,1569.3 1815.4,1569.0 1813.4,1568.8 1810.5,1568.4 1808.5,1568.2 1805.5,1567.9 1803.5,1567.7 1800.5,1567.3 1798.5,1567.1 1795.6,1566.7 1793.6,1566.5 1790.6,1566.1 1788.6,1565.8 1785.6,1565.5 1783.7,1565.2 1780.7,1564.8 1778.7,1564.5 1775.7,1564.1 1773.7,1563.9 1770.8,1563.5 1768.8,1563.2 1765.8,1562.8 1763.8,1562.5 1760.9,1562.1 1758.9,1561.8 1755.9,1561.4 1753.9,1561.1 1751.0,1560.7 1749.0,1560.4 1746.0,1559.9 1744.0,1559.6 1741.1,1559.2 1739.1,1558.9 1736.1,1558.4 1734.2,1558.1 1731.2,1557.7 1729.2,1557.3 1726.3,1556.9 1724.3,1556.6 1721.3,1556.1 1719.3,1555.8 1716.4,1555.3 1714.4,1555.0 1711.4,1554.5 1709.5,1554.2 1706.5,1553.8 1704.5,1553.4 1701.6,1553.0 1699.6,1552.7 1696.6,1552.2 1694.6,1551.8 1691.7,1551.3 1689.7,1551.0 1686.8,1550.5 1684.8,1550.1 1681.9,1549.6 1679.9,1549.2 1677.0,1548.6 1675.0,1548.2 1672.1,1547.6 1670.1,1547.1 1667.2,1546.5 1665.2,1546.0 1662.3,1545.4 1660.3,1544.9 1657.4,1544.3 1655.5,1543.9 1652.5,1543.3 1650.5,1542.9 1647.6,1542.3 1645.6,1541.9 1642.7,1541.3 1640.7,1540.9 1637.8,1540.2 1635.9,1539.7 1633.0,1539.0 1631.1,1538.5 1628.2,1537.6 1626.3,1537.0 1623.5,1536.0 1621.6,1535.3 1618.8,1534.2 1617.0,1533.4 1614.2,1532.3 1612.3,1531.5 1609.5,1530.4 1607.7,1529.6 1604.9,1528.6 1603.0,1527.8 1600.2,1526.7 1598.3,1526.0 1595.6,1524.8 1593.7,1524.1 1590.9,1523.0 1589.0,1522.3 1586.2,1521.3 1584.3,1520.6 1581.4,1519.8 1579.5,1519.3 1576.6,1518.6 1574.7,1518.2 1571.7,1517.6 1569.7,1517.2 1566.8,1516.7 1564.8,1516.4 1561.8,1515.8 1559.8,1515.5 1556.9,1514.9 1555.0,1514.5 1552.1,1513.8 1550.1,1513.2 1547.3,1512.4 1545.4,1511.8 1542.6,1510.8 1540.7,1510.1 1537.9,1509.0 1536.1,1508.2 1533.3,1507.0 1531.4,1506.3 1528.7,1505.1 1526.8,1504.3 1524.0,1503.2 1522.2,1502.4 1519.4,1501.2 1517.6,1500.5 1514.8,1499.3 1513.0,1498.5 1510.2,1497.4 1508.4,1496.6 1505.6,1495.4 1503.8,1494.6 1501.0,1493.4 1499.2,1492.5 1496.5,1491.3 1494.6,1490.5 1491.9,1489.3 1490.1,1488.4 1487.4,1487.2 1485.6,1486.3 1482.8,1485.1 1481.0,1484.2 1478.3,1482.9 1476.5,1482.1 1473.8,1480.8 1472.0,1479.9 1469.3,1478.6 1467.5,1477.7 1464.8,1476.4 1463.0,1475.5 1460.3,1474.2 1458.5,1473.3 1455.9,1471.9 1454.1,1471.0 1451.4,1469.7 1449.6,1468.8 1447.0,1467.4 1445.2,1466.5 1442.5,1465.1 1440.8,1464.2 1438.1,1462.8 1436.3,1461.8 1433.7,1460.4 1431.9,1459.5 1429.3,1458.0 1427.5,1457.1 1424.9,1455.6 1423.2,1454.7 1420.5,1453.2 1418.8,1452.2 1416.2,1450.7 1414.5,1449.7 1411.9,1448.2 1410.2,1447.2 1407.6,1445.6 1405.9,1444.6 1403.4,1443.0 1401.7,1441.9 1399.2,1440.3 1397.5,1439.2 1395.0,1437.6 1393.4,1436.4 1390.9,1434.7 1389.3,1433.6 1386.9,1431.8 1385.3,1430.6 1382.9,1428.8 1381.3,1427.6 1378.9,1425.8 1377.4,1424.5 1375.0,1422.7 1373.5,1421.4 1371.2,1419.5 1369.7,1418.2 1367.4,1416.2 1366.0,1414.9 1363.7,1412.9 1362.3,1411.5 1360.1,1409.5 1358.6,1408.1 1356.5,1406.0 1355.1,1404.6 1352.9,1402.5 1351.5,1401.1 1349.4,1399.0 1348.0,1397.5 1346.0,1395.3 1344.6,1393.9 1342.5,1391.7 1341.2,1390.2 1339.1,1388.0 1337.8,1386.5 1335.8,1384.3 1334.5,1382.8 1332.5,1380.6 1331.2,1379.0 1329.2,1376.8 1327.9,1375.3 1326.0,1373.0 1324.7,1371.4 1322.8,1369.1 1321.5,1367.6 1319.6,1365.2 1318.4,1363.7 1316.5,1361.3 1315.3,1359.7 1313.5,1357.4 1312.3,1355.8 1310.5,1353.4 1309.3,1351.8 1307.6,1349.3 1306.4,1347.7 1304.8,1345.2 1303.6,1343.6 1302.0,1341.1 1300.9,1339.4 1299.3,1336.9 1298.3,1335.2 1296.7,1332.6 1295.7,1330.9 1294.2,1328.4 1293.2,1326.6 1291.7,1324.0 1290.8,1322.3 1289.3,1319.6 1288.4,1317.9 1287.0,1315.2 1286.1,1313.5 1284.7,1310.8 1283.8,1309.0 1282.4,1306.4 1281.5,1304.6 1280.1,1301.9 1279.3,1300.1 1277.9,1297.4 1277.0,1295.6 1275.7,1292.9 1274.9,1291.1 1273.5,1288.4 1272.7,1286.6 1271.4,1283.9 1270.5,1282.1 1269.3,1279.3 1268.4,1277.5 1267.2,1274.8 1266.3,1273.0 1265.1,1270.3 1264.3,1268.4 1263.0,1265.7 1262.2,1263.9 1261.0,1261.1 1260.3,1259.3 1259.1,1256.5 1258.3,1254.7 1257.2,1251.9 1256.4,1250.1 1255.3,1247.3 1254.5,1245.4 1253.4,1242.6 1252.7,1240.8 1251.7,1238.0 1250.9,1236.1 1249.9,1233.3 1249.2,1231.4 1248.2,1228.6 1247.5,1226.7 1246.5,1223.9 1245.8,1222.0 1244.8,1219.2 1244.2,1217.3 1243.2,1214.4 1242.6,1212.6 1241.6,1209.7 1241.0,1207.8 1240.0,1205.0 1239.4,1203.1 1238.5,1200.2 1237.8,1198.3 1236.9,1195.5 1236.3,1193.5 1235.4,1190.7 1234.8,1188.8 1234.0,1185.9 1233.4,1184.0 1232.5,1181.1 1232.0,1179.2 1231.1,1176.3 1230.6,1174.4 1229.8,1171.5 1229.2,1169.6 1228.4,1166.7 1227.9,1164.8 1227.1,1161.9 1226.6,1159.9 1225.9,1157.0 1225.4,1155.1 1224.7,1152.2 1224.2,1150.2 1223.5,1147.3 1223.0,1145.4 1222.3,1142.5 1221.9,1140.5 1221.2,1137.6 1220.8,1135.6 1220.1,1132.7 1219.7,1130.8 1219.0,1127.8 1218.6,1125.9 1218.0,1123.0 1217.6,1121.0 1216.9,1118.1 1216.5,1116.1 1215.9,1113.2 1215.5,1111.2 1214.9,1108.3 1214.5,1106.3 1213.9,1103.4 1213.5,1101.4 1212.9,1098.5 1212.5,1096.5 1211.9,1093.6 1211.5,1091.6 1210.9,1088.7 1210.6,1086.7 1210.0,1083.8 1209.6,1081.8 1209.0,1078.8 1208.7,1076.9 1208.1,1073.9 1207.7,1072.0 1207.2,1069.0 1206.8,1067.1 1206.3,1064.1 1205.9,1062.1 1205.4,1059.2 1205.1,1057.2 1204.5,1054.3 1204.2,1052.3 1203.7,1049.3 1203.3,1047.4 1202.8,1044.4 1202.5,1042.4 1202.0,1039.5 1201.6,1037.5 1201.1,1034.6 1200.8,1032.6 1200.3,1029.6 1200.0,1027.6 1199.5,1024.7 1199.2,1022.7 1198.7,1019.7 1198.4,1017.8 1198.0,1014.8 1197.7,1012.8 1197.2,1009.9 1196.9,1007.9 1196.4,1004.9 1196.1,1002.9 1195.7,1000.0 1195.4,998.0 1194.9,995.0 1194.6,993.1 1194.2,990.1 1193.9,988.1 1193.4,985.2 1193.1,983.2 1192.7,980.2 1192.4,978.2 1191.9,975.3 1191.6,973.3 1191.2,970.3 1190.9,968.3 1190.4,965.4 1190.2,963.4 1189.7,960.4 1189.4,958.5 1189.0,955.5 1188.7,953.5 1188.2,950.5 1187.9,948.6 1187.5,945.6 1187.2,943.6 1186.8,940.6 1186.5,938.7 1186.0,935.7 1185.7,933.7 1185.3,930.8 1185.0,928.8 1184.6,925.8 1184.3,923.8 1183.9,920.9 1183.6,918.9 1183.2,915.9 1182.9,913.9 1182.5,911.0 1182.2,909.0 1181.8,906.0 1181.5,904.0 1181.1,901.0 1180.9,899.1 1180.5,896.1 1180.2,894.1 1179.8,891.1 1179.6,889.2 1179.2,886.2 1178.9,884.2 1178.5,881.2 1178.3,879.2 1177.9,876.3 1177.7,874.3 1177.3,871.3 1177.1,869.3 1176.8,866.3 1176.5,864.3 1176.2,861.4 1176.0,859.4 1175.6,856.4 1175.4,854.4 1175.1,851.4 1174.9,849.4 1174.6,846.4 1174.3,844.5 1174.0,841.5 1173.8,839.5 1173.5,836.5 1173.3,834.5 1173.0,831.5 1172.8,829.5 1172.5,826.6 1172.3,824.6 1172.0,821.6 1171.8,819.6 1171.6,816.6 1171.4,814.6 1171.1,811.6 1170.9,809.6 1170.6,806.6 1170.4,804.7 1170.1,801.7 1169.9,799.7 1169.6,796.7 1169.4,794.7 1169.1,791.7 1168.9,789.7 1168.6,786.7 1168.4,784.8 1168.1,781.8 1167.9,779.8 1167.6,776.8 1167.4,774.8 1167.1,771.8 1166.9,769.8 1166.6,766.8 1166.4,764.8 1166.1,761.9 1165.9,759.9 1165.6,756.9 1165.4,754.9 1165.1,751.9 1164.9,749.9 1164.6,746.9 1164.4,744.9 1164.1,742.0 1163.9,740.0 1163.6,737.0 1163.4,735.0 1163.1,732.0 1162.9,730.0 1162.7,727.0 1162.5,725.0 1162.2,722.1 1162.0,720.1 1161.7,717.1 1161.5,715.1 1161.2,712.1 1161.0,710.1 1160.8,707.1 1160.6,705.1 1160.3,702.1 1160.1,700.2 1159.9,697.2 1159.7,695.2 1159.4,692.2 1159.2,690.2 1159.0,687.2 1158.8,685.2 1158.6,682.2 1158.4,680.2 1158.1,677.2 1158.0,675.3 1157.7,672.3 1157.6,670.3 1157.3,667.3 1157.2,665.3 1156.9,662.3 1156.8,660.3 1156.5,657.3 1156.4,655.3 1156.1,652.3 1156.0,650.3 1155.8,647.3 1155.6,645.3 1155.4,642.4 1155.2,640.4 1155.0,637.4 1154.9,635.4 1154.6,632.4 1154.5,630.4 1154.3,627.4 1154.1,625.4 1153.9,622.4 1153.8,620.4 1153.5,617.4 1153.4,615.4 1153.2,612.4 1153.0,610.4 1152.8,607.4 1152.7,605.5 1152.4,602.5 1152.3,600.5 1152.1,597.5 1151.9,595.5 1151.7,592.5 1151.5,590.5 1151.3,587.5 1151.2,585.5 1150.9,582.5 1150.8,580.5 1150.5,577.5 1150.4,575.5 1150.2,572.5 1150.0,570.6 1149.8,567.6 1149.6,565.6 1149.4,562.6 1149.2,560.6 1149.0,557.6 1148.8,555.6 1148.6,552.6 1148.4,550.6 1148.2,547.6 1148.0,545.6 1147.8,542.6 1147.6,540.7 1147.3,537.7 1147.2,535.7 1146.9,532.7 1146.8,530.7 1146.5,527.7 1146.4,525.7 1146.1,522.7 1145.9,520.7 1145.7,517.7 1145.5,515.7 1145.3,512.7 1145.1,510.8 1144.8,507.8 1144.7,505.8 1144.4,502.8 1144.3,500.8 1144.0,497.8 1143.8,495.8 1143.6,492.8 1143.4,490.8 1143.1,487.8 1143.0,485.8 1142.7,482.9 1142.6,480.9 1142.3,477.9 1142.1,475.9 1141.9,472.9 1141.7,470.9 1141.5,467.9 1141.3,465.9 1141.0,462.9 1140.9,460.9 1140.6,457.9 1140.5,456.0 1140.2,453.0 1140.1,451.0 1139.8,448.0 1139.7,446.0 1139.4,443.0 1139.3,441.0 1139.0,438.0 1138.9,436.0 1138.6,433.0 1138.5,431.0 1138.2,428.0 1138.1,426.0 1137.8,423.1 1137.7,421.1 1137.4,418.1 1137.3,416.1 1137.0,413.1 1136.9,411.1 1136.6,408.1 1136.5,406.1 1136.2,403.1 1136.1,401.1 1135.8,398.1 1135.7,396.1 1135.4,393.2 1135.2,391.2 1135.0,388.2 1134.8,386.2 1134.6,383.2 1134.4,381.2 1134.2,378.2 1134.0,376.2 1133.7,373.2 1133.6,371.2 1133.3,368.2 1133.1,366.3 1132.9,363.3 1132.7,361.3 1132.4,358.3 1132.2,356.3 1132.0,353.3 1131.8,351.3 1131.5,348.3 1131.3,346.3 1131.1,343.3 1130.9,341.4 1130.6,338.4 1130.4,336.4 1130.1,333.4 1130.0,331.4 1129.7,328.4 1129.5,326.4 1129.2,323.4 1129.0,321.4 1128.8,318.5 1128.6,316.5 1128.3,313.5 1128.1,311.5 1127.8,308.5 1127.6,306.5 1127.3,303.5 1127.2,301.5 1126.9,298.5 1126.7,296.5 1126.4,293.6 1126.2,291.6 1125.9,288.6 1125.8,286.6 1125.5,283.6 1125.3,281.6 1125.0,278.6 1124.8,276.6 1124.5,273.7 1124.3,271.7 1124.0,268.7 1123.8,266.7 1123.5,263.7 1123.3,261.7 1123.0,258.7 1122.8,256.7 1122.5,253.8 1122.3,251.8 1122.0,248.8 1121.8,246.8 1121.4,243.8 1121.2,241.8 1120.9,238.8 1120.6,236.9 1120.3,233.9 1120.1,231.9 1119.7,228.9 1119.5,226.9 1119.1,223.9 1118.9,222.0 1118.5,219.0 1118.3,217.0 1117.9,214.0 1117.6,212.0 1117.2,209.1 1117.0,207.1 1116.6,204.1 1116.3,202.1 1115.9,199.2 1115.6,197.2 1115.1,194.2 1114.9,192.3 1114.4,189.3 1114.1,187.3 1113.6,184.4 1113.3,182.4 1112.8,179.5 1112.5,177.5 1112.0,174.6 1111.7,172.7 1111.1,169.7 1110.8,167.8 1110.3,164.8 1109.9,162.9 1109.3,160.0 1108.9,158.0 1108.3,155.1 1107.9,153.2 1107.1,150.2 1106.6,148.2 1105.8,145.2 1105.1,143.2 1104.0,140.4 1103.2,138.7 1101.5,136.3 1099.9,134.7 1097.2,133.0 1095.7,133.0Z"/>
<path class="cf" fill="#f00" d="M300.7,1595.8 302.7,1595.8 305.8,1595.6 307.8,1595.5 310.8,1595.2 312.8,1595.0 315.8,1594.5 317.7,1594.2 320.7,1593.8 322.6,1593.4 325.5,1592.9 327.4,1592.5 330.3,1591.7 332.2,1591.1 335.1,1590.0 336.9,1589.3 339.7,1588.1 341.6,1587.4 344.4,1586.2 346.3,1585.5 349.0,1584.4 350.9,1583.6 353.6,1582.4 355.4,1581.6 358.2,1580.3 360.0,1579.4 362.7,1578.1 364.5,1577.3 367.2,1575.9 368.9,1575.0 371.6,1573.6 373.3,1572.6 375.9,1571.1 377.7,1570.1 380.3,1568.6 382.0,1567.7 384.6,1566.2 386.4,1565.2 389.0,1563.8 390.8,1562.8 393.4,1561.4 395.1,1560.4 397.8,1558.9 399.5,1558.0 402.2,1556.5 403.9,1555.6 406.5,1554.1 408.3,1553.2 410.9,1551.7 412.7,1550.7 415.3,1549.2 417.1,1548.3 419.8,1547.1 421.6,1546.3 424.4,1545.2 426.3,1544.5 429.2,1543.5 431.1,1542.9 434.0,1542.2 435.9,1541.8 438.9,1541.4 440.9,1541.1 443.9,1540.7 445.9,1540.6 448.9,1540.5 450.9,1540.5 453.9,1540.6 455.9,1540.6 458.9,1540.7 460.9,1540.8 463.9,1540.9 465.9,1541.0 468.8,1541.2 470.8,1541.4 473.8,1541.7 475.8,1542.0 478.8,1542.4 480.8,1542.7 483.7,1543.1 485.7,1543.4 488.7,1543.8 490.7,1544.1 493.6,1544.5 495.6,1544.8 498.6,1545.3 500.6,1545.6 503.5,1546.1 505.5,1546.5 508.4,1547.0 510.4,1547.3 513.4,1547.8 515.3,1548.2 518.3,1548.7 520.3,1549.0 523.2,1549.6 525.2,1549.9 528.1,1550.4 530.1,1550.8 533.1,1551.3 535.0,1551.6 538.0,1552.2 540.0,1552.5 542.9,1553.0 544.9,1553.4 547.8,1553.9 549.8,1554.3 552.8,1554.8 554.7,1555.1 557.7,1555.6 559.7,1555.9 562.6,1556.4 564.6,1556.8 567.6,1557.2 569.5,1557.6 572.5,1558.0 574.5,1558.3 577.4,1558.8 579.4,1559.1 582.4,1559.6 584.4,1559.9 587.3,1560.3 589.3,1560.7 592.3,1561.1 594.2,1561.4 597.2,1561.9 599.2,1562.2 602.1,1562.6 604.1,1563.0 607.1,1563.4 609.1,1563.8 612.0,1564.3 614.0,1564.6 617.0,1565.1 618.9,1565.5 621.9,1566.0 623.9,1566.3 626.8,1566.8 628.8,1567.2 631.8,1567.6 633.7,1568.0 636.7,1568.4 638.7,1568.7 641.7,1569.1 643.6,1569.4 646.6,1569.8 648.6,1570.0 651.6,1570.3 653.6,1570.5 656.5,1570.8 658.5,1571.0 661.5,1571.2 663.5,1571.4 666.5,1571.6 668.5,1571.7 671.5,1572.0 673.5,1572.1 676.5,1572.3 678.5,1572.5 681.5,1572.7 683.5,1572.8 686.5,1572.9 688.5,1573.0 691.5,1573.1 693.5,1573.2 696.5,1573.3 698.5,1573.4 701.4,1573.4 703.4,1573.5 706.4,1573.5 708.4,1573.5 711.4,1573.6 713.4,1573.6 716.4,1573.6 718.4,1573.5 721.4,1573.5 723.4,1573.5 726.4,1573.4 728.4,1573.4 731.4,1573.3 733.4,1573.3 736.4,1573.2 738.4,1573.1 741.4,1573.0 743.4,1573.0 746.4,1572.8 748.4,1572.8 751.4,1572.6 753.4,1572.5 756.4,1572.4 758.4,1572.3 761.4,1572.1 763.4,1572.0 766.4,1571.8 768.4,1571.7 771.4,1571.5 773.4,1571.3 776.4,1571.1 778.4,1571.0 781.4,1570.7 783.4,1570.6 786.4,1570.3 788.4,1570.1 791.4,1569.8 793.4,1569.6 796.3,1569.3 798.3,1569.1 801.3,1568.7 803.3,1568.5 806.2,1568.1 808.2,1567.8 811.2,1567.3 813.1,1567.0 816.1,1566.5 818.0,1566.2 821.0,1565.6 822.9,1565.2 825.8,1564.5 827.7,1564.1 830.6,1563.4 832.5,1562.8 835.4,1562.0 837.3,1561.5 840.1,1560.6 842.0,1559.9 844.8,1559.0 846.7,1558.3 849.4,1557.2 851.3,1556.4 854.0,1555.3 855.8,1554.4 858.5,1553.2 860.2,1552.3 862.8,1550.9 864.6,1550.0 867.1,1548.5 868.8,1547.4 871.3,1545.9 872.9,1544.8 875.3,1543.1 876.9,1541.9 879.2,1540.1 880.7,1538.9 883.0,1536.9 884.4,1535.6 886.5,1533.6 887.9,1532.2 890.0,1530.1 891.3,1528.7 893.2,1526.5 894.5,1524.9 896.3,1522.6 897.5,1521.1 899.3,1518.7 900.4,1517.1 902.0,1514.6 903.1,1513.0 904.7,1510.5 905.7,1508.8 907.2,1506.2 908.2,1504.5 909.7,1501.9 910.6,1500.1 912.0,1497.4 912.8,1495.7 914.1,1493.0 915.0,1491.2 916.2,1488.5 917.1,1486.6 918.2,1483.9 919.0,1482.1 920.2,1479.3 920.9,1477.4 922.0,1474.7 922.7,1472.8 923.7,1470.0 924.4,1468.1 925.4,1465.3 926.1,1463.4 927.0,1460.6 927.6,1458.7 928.6,1455.8 929.2,1453.9 930.0,1451.0 930.6,1449.1 931.5,1446.3 932.0,1444.3 932.9,1441.5 933.4,1439.5 934.2,1436.6 934.7,1434.7 935.5,1431.8 936.0,1429.9 936.8,1427.0 937.3,1425.0 938.0,1422.1 938.5,1420.2 939.3,1417.3 939.7,1415.3 940.5,1412.4 940.9,1410.5 941.6,1407.6 942.1,1405.6 942.8,1402.7 943.2,1400.8 943.9,1397.8 944.4,1395.9 945.0,1393.0 945.5,1391.0 946.1,1388.1 946.5,1386.1 947.2,1383.2 947.6,1381.2 948.2,1378.3 948.6,1376.3 949.3,1373.4 949.7,1371.4 950.3,1368.5 950.7,1366.5 951.3,1363.6 951.7,1361.6 952.2,1358.7 952.6,1356.7 953.2,1353.8 953.6,1351.8 954.1,1348.9 954.5,1346.9 955.1,1344.0 955.4,1342.0 956.0,1339.1 956.3,1337.1 956.9,1334.1 957.2,1332.2 957.8,1329.2 958.1,1327.3 958.6,1324.3 959.0,1322.3 959.5,1319.4 959.9,1317.4 960.4,1314.4 960.7,1312.5 961.2,1309.5 961.6,1307.6 962.1,1304.6 962.4,1302.6 962.9,1299.7 963.3,1297.7 963.8,1294.7 964.1,1292.8 964.6,1289.8 965.0,1287.8 965.5,1284.9 965.8,1282.9 966.3,1279.9 966.7,1278.0 967.2,1275.0 967.5,1273.0 968.0,1270.1 968.4,1268.1 968.9,1265.2 969.2,1263.2 969.7,1260.2 970.0,1258.2 970.5,1255.3 970.9,1253.3 971.4,1250.4 971.7,1248.4 972.2,1245.4 972.5,1243.4 973.0,1240.5 973.3,1238.5 973.7,1235.5 974.0,1233.6 974.5,1230.6 974.8,1228.6 975.2,1225.7 975.5,1223.7 975.9,1220.7 976.2,1218.7 976.6,1215.8 976.8,1213.8 977.2,1210.8 977.5,1208.8 977.8,1205.8 978.1,1203.9 978.4,1200.9 978.6,1198.9 978.9,1195.9 979.1,1193.9 979.4,1190.9 979.6,1189.0 979.9,1186.0 980.1,1184.0 980.4,1181.0 980.6,1179.0 980.8,1176.0 981.0,1174.0 981.3,1171.0 981.5,1169.0 981.7,1166.1 981.9,1164.1 982.2,1161.1 982.3,1159.1 982.6,1156.1 982.8,1154.1 983.0,1151.1 983.2,1149.1 983.5,1146.1 983.7,1144.1 983.9,1141.2 984.1,1139.2 984.4,1136.2 984.6,1134.2 984.9,1131.2 985.1,1129.2 985.4,1126.2 985.6,1124.2 985.9,1121.2 986.1,1119.3 986.4,1116.3 986.6,1114.3 986.9,1111.3 987.1,1109.3 987.4,1106.3 987.6,1104.3 987.9,1101.4 988.2,1099.4 988.5,1096.4 988.7,1094.4 989.0,1091.4 989.2,1089.4 989.6,1086.4 989.8,1084.5 990.1,1081.5 990.3,1079.5 990.7,1076.5 990.9,1074.5 991.2,1071.5 991.4,1069.5 991.8,1066.6 992.0,1064.6 992.3,1061.6 992.6,1059.6 992.9,1056.6 993.1,1054.6 993.5,1051.7 993.7,1049.7 994.0,1046.7 994.3,1044.7 994.6,1041.7 994.8,1039.7 995.2,1036.8 995.4,1034.8 995.7,1031.8 996.0,1029.8 996.3,1026.8 996.5,1024.8 996.9,1021.9 997.1,1019.9 997.4,1016.9 997.7,1014.9 998.0,1011.9 998.2,1009.9 998.6,1006.9 998.8,1005.0 999.1,1002.0 999.4,1000.0 999.7,997.0 999.9,995.0 1000.3,992.0 1000.5,990.1 1000.8,987.1 1001.1,985.1 1001.4,982.1 1001.6,980.1 1002.0,977.1 1002.2,975.2 1002.5,972.2 1002.8,970.2 1003.1,967.2 1003.3,965.2 1003.7,962.2 1003.9,960.3 1004.3,957.3 1004.5,955.3 1004.8,952.3 1005.1,950.3 1005.4,947.3 1005.6,945.3 1006.0,942.4 1006.2,940.4 1006.6,937.4 1006.8,935.4 1007.1,932.4 1007.4,930.4 1007.7,927.5 1007.9,925.5 1008.3,922.5 1008.5,920.5 1008.8,917.5 1009.1,915.5 1009.4,912.6 1009.6,910.6 1010.0,907.6 1010.2,905.6 1010.5,902.6 1010.8,900.6 1011.1,897.7 1011.3,895.7 1011.6,892.7 1011.9,890.7 1012.2,887.7 1012.4,885.7 1012.7,882.8 1013.0,880.8 1013.3,877.8 1013.5,875.8 1013.8,872.8 1014.1,870.8 1014.4,867.8 1014.6,865.9 1014.9,862.9 1015.1,860.9 1015.5,857.9 1015.7,855.9 1016.0,852.9 1016.2,850.9 1016.5,848.0 1016.7,846.0 1017.0,843.0 1017.3,841.0 1017.6,838.0 1017.8,836.0 1018.1,833.0 1018.3,831.1 1018.6,828.1 1018.8,826.1 1019.1,823.1 1019.3,821.1 1019.7,818.1 1019.9,816.1 1020.2,813.1 1020.4,811.2 1020.7,808.2 1020.9,806.2 1021.2,803.2 1021.4,801.2 1021.7,798.2 1021.9,796.2 1022.3,793.3 1022.5,791.3 1022.8,788.3 1023.0,786.3 1023.3,783.3 1023.5,781.3 1023.8,778.3 1024.0,776.3 1024.3,773.4 1024.5,771.4 1024.9,768.4 1025.1,766.4 1025.4,763.4 1025.6,761.4 1025.9,758.4 1026.1,756.5 1026.4,753.5 1026.6,751.5 1026.9,748.5 1027.1,746.5 1027.4,743.5 1027.7,741.5 1028.0,738.6 1028.2,736.6 1028.5,733.6 1028.7,731.6 1029.0,728.6 1029.2,726.6 1029.5,723.6 1029.7,721.6 1030.0,718.7 1030.2,716.7 1030.5,713.7 1030.8,711.7 1031.1,708.7 1031.3,706.7 1031.6,703.7 1031.8,701.7 1032.1,698.8 1032.3,696.8 1032.6,693.8 1032.8,691.8 1033.2,688.8 1033.4,686.8 1033.7,683.8 1033.9,681.9 1034.2,678.9 1034.5,676.9 1034.8,673.9 1035.0,671.9 1035.3,668.9 1035.6,667.0 1035.9,664.0 1036.1,662.0 1036.5,659.0 1036.7,657.0 1037.0,654.0 1037.3,652.1 1037.6,649.1 1037.9,647.1 1038.2,644.1 1038.5,642.1 1038.8,639.1 1039.1,637.2 1039.4,634.2 1039.7,632.2 1040.1,629.2 1040.3,627.2 1040.7,624.3 1040.9,622.3 1041.3,619.3 1041.6,617.3 1042.0,614.3 1042.2,612.4 1042.6,609.4 1042.9,607.4 1043.3,604.4 1043.5,602.4 1043.9,599.5 1044.2,597.5 1044.6,594.5 1044.9,592.5 1045.3,589.6 1045.5,587.6 1046.0,584.6 1046.2,582.6 1046.6,579.7 1046.9,577.7 1047.3,574.7 1047.6,572.7 1048.0,569.8 1048.3,567.8 1048.8,564.8 1049.0,562.8 1049.5,559.9 1049.8,557.9 1050.2,554.9 1050.5,552.9 1050.9,550.0 1051.2,548.0 1051.6,545.0 1051.9,543.0 1052.4,540.1 1052.7,538.1 1053.1,535.1 1053.4,533.1 1053.9,530.2 1054.2,528.2 1054.6,525.2 1054.9,523.3 1055.4,520.3 1055.7,518.3 1056.2,515.4 1056.5,513.4 1056.9,510.4 1057.3,508.4 1057.7,505.5 1058.0,503.5 1058.5,500.5 1058.8,498.6 1059.3,495.6 1059.6,493.6 1060.1,490.7 1060.5,488.7 1060.9,485.7 1061.3,483.8 1061.8,480.8 1062.1,478.8 1062.6,475.9 1062.9,473.9 1063.4,470.9 1063.7,469.0 1064.2,466.0 1064.5,464.0 1065.0,461.1 1065.3,459.1 1065.8,456.1 1066.1,454.2 1066.6,451.2 1066.9,449.2 1067.4,446.3 1067.7,444.3 1068.2,441.3 1068.5,439.4 1069.0,436.4 1069.3,434.4 1069.7,431.4 1070.0,429.5 1070.5,426.5 1070.8,424.5 1071.3,421.6 1071.6,419.6 1072.1,416.6 1072.4,414.7 1072.9,411.7 1073.2,409.7 1073.7,406.8 1074.0,404.8 1074.5,401.8 1074.8,399.9 1075.3,396.9 1075.7,394.9 1076.2,392.0 1076.5,390.0 1077.1,387.1 1077.4,385.1 1078.0,382.1 1078.4,380.2 1079.0,377.2 1079.4,375.3 1080.0,372.4 1080.4,370.4 1081.0,367.5 1081.5,365.5 1082.1,362.6 1082.6,360.7 1083.3,357.8 1083.8,355.9 1084.5,353.0 1085.0,351.1 1085.8,348.2 1086.4,346.3 1087.2,343.4 1087.8,341.5 1088.7,338.7 1089.3,336.8 1090.2,334.0 1090.9,332.2 1091.9,329.3 1092.7,327.5 1093.8,324.7 1094.7,322.8 1096.0,320.1 1096.9,318.4 1098.5,315.8 1099.6,314.0 1101.5,311.4 1102.9,309.9 1105.2,308.4 1107.2,307.8 1110.1,308.0 1112.0,309.0 1114.0,310.8 1115.2,312.3 1116.7,315.1 1117.6,317.0 1118.9,319.9 1119.6,321.8 1120.7,324.6 1121.3,326.5 1122.2,329.4 1122.7,331.3 1123.5,334.2 1124.1,336.1 1124.8,339.0 1125.3,340.9 1126.1,343.8 1126.6,345.7 1127.3,348.6 1127.8,350.5 1128.5,353.4 1128.9,355.3 1129.6,358.2 1130.0,360.2 1130.7,363.1 1131.1,365.0 1131.7,368.0 1132.2,369.9 1132.8,372.8 1133.2,374.8 1133.7,377.7 1134.1,379.7 1134.7,382.6 1135.1,384.6 1135.6,387.6 1136.0,389.5 1136.6,392.5 1136.9,394.4 1137.5,397.4 1137.8,399.4 1138.3,402.3 1138.7,404.3 1139.2,407.2 1139.6,409.2 1140.1,412.2 1140.4,414.1 1140.9,417.1 1141.3,419.1 1141.8,422.0 1142.1,424.0 1142.7,426.9 1143.0,428.9 1143.5,431.9 1143.9,433.8 1144.4,436.8 1144.7,438.8 1145.2,441.7 1145.5,443.7 1146.0,446.6 1146.4,448.6 1146.9,451.6 1147.2,453.6 1147.7,456.5 1148.0,458.5 1148.5,461.4 1148.8,463.4 1149.3,466.4 1149.6,468.4 1150.1,471.3 1150.4,473.3 1150.8,476.3 1151.1,478.2 1151.6,481.2 1151.9,483.2 1152.3,486.1 1152.6,488.1 1153.1,491.1 1153.4,493.1 1153.8,496.0 1154.1,498.0 1154.5,501.0 1154.8,503.0 1155.2,505.9 1155.5,507.9 1155.9,510.9 1156.2,512.9 1156.6,515.8 1156.9,517.8 1157.3,520.8 1157.5,522.8 1157.9,525.8 1158.2,527.7 1158.6,530.7 1158.8,532.7 1159.2,535.7 1159.5,537.7 1159.9,540.6 1160.1,542.6 1160.5,545.6 1160.7,547.6 1161.1,550.5 1161.4,552.5 1161.7,555.5 1162.0,557.5 1162.4,560.5 1162.6,562.5 1163.0,565.4 1163.2,567.4 1163.6,570.4 1163.8,572.4 1164.2,575.4 1164.4,577.3 1164.8,580.3 1165.0,582.3 1165.4,585.3 1165.6,587.3 1165.9,590.3 1166.2,592.2 1166.5,595.2 1166.8,597.2 1167.1,600.2 1167.3,602.2 1167.7,605.2 1167.9,607.1 1168.3,610.1 1168.5,612.1 1168.8,615.1 1169.1,617.1 1169.4,620.1 1169.6,622.0 1170.0,625.0 1170.2,627.0 1170.5,630.0 1170.8,632.0 1171.1,635.0 1171.3,636.9 1171.7,639.9 1171.9,641.9 1172.2,644.9 1172.5,646.9 1172.8,649.9 1173.0,651.8 1173.4,654.8 1173.6,656.8 1174.0,659.8 1174.2,661.8 1174.6,664.8 1174.8,666.7 1175.1,669.7 1175.4,671.7 1175.7,674.7 1176.0,676.7 1176.3,679.7 1176.6,681.6 1177.0,684.6 1177.2,686.6 1177.6,689.6 1177.8,691.6 1178.2,694.5 1178.4,696.5 1178.8,699.5 1179.1,701.5 1179.5,704.5 1179.7,706.4 1180.1,709.4 1180.3,711.4 1180.7,714.4 1181.0,716.4 1181.4,719.3 1181.6,721.3 1182.0,724.3 1182.3,726.3 1182.7,729.2 1182.9,731.2 1183.3,734.2 1183.6,736.2 1184.0,739.2 1184.2,741.1 1184.6,744.1 1184.9,746.1 1185.3,749.1 1185.5,751.1 1185.9,754.0 1186.2,756.0 1186.6,759.0 1186.8,761.0 1187.2,764.0 1187.5,765.9 1187.8,768.9 1188.1,770.9 1188.5,773.9 1188.7,775.9 1189.1,778.8 1189.3,780.8 1189.7,783.8 1189.9,785.8 1190.3,788.8 1190.5,790.7 1190.9,793.7 1191.1,795.7 1191.5,798.7 1191.7,800.7 1192.0,803.7 1192.3,805.6 1192.6,808.6 1192.8,810.6 1193.2,813.6 1193.4,815.6 1193.8,818.6 1194.0,820.5 1194.3,823.5 1194.6,825.5 1194.9,828.5 1195.2,830.5 1195.5,833.5 1195.7,835.4 1196.1,838.4 1196.4,840.4 1196.7,843.4 1197.0,845.4 1197.4,848.3 1197.6,850.3 1198.0,853.3 1198.3,855.3 1198.7,858.2 1199.0,860.2 1199.4,863.2 1199.7,865.2 1200.1,868.1 1200.4,870.1 1200.8,873.1 1201.1,875.1 1201.6,878.0 1201.9,880.0 1202.3,883.0 1202.6,885.0 1203.1,887.9 1203.4,889.9 1203.8,892.9 1204.1,894.8 1204.6,897.8 1204.9,899.8 1205.4,902.8 1205.7,904.7 1206.1,907.7 1206.5,909.7 1206.9,912.6 1207.3,914.6 1207.7,917.6 1208.1,919.5 1208.5,922.5 1208.9,924.5 1209.4,927.4 1209.7,929.4 1210.2,932.4 1210.5,934.3 1211.0,937.3 1211.4,939.3 1211.9,942.2 1212.3,944.2 1212.8,947.1 1213.1,949.1 1213.7,952.1 1214.0,954.0 1214.6,957.0 1214.9,958.9 1215.5,961.9 1215.8,963.9 1216.4,966.8 1216.7,968.8 1217.3,971.7 1217.7,973.7 1218.2,976.6 1218.6,978.6 1219.1,981.5 1219.5,983.5 1220.1,986.5 1220.5,988.4 1221.0,991.4 1221.4,993.3 1222.0,996.3 1222.3,998.2 1222.9,1001.2 1223.3,1003.2 1223.8,1006.1 1224.2,1008.1 1224.8,1011.0 1225.2,1013.0 1225.7,1015.9 1226.1,1017.9 1226.7,1020.8 1227.0,1022.8 1227.6,1025.7 1228.0,1027.7 1228.5,1030.7 1228.9,1032.6 1229.5,1035.6 1229.9,1037.5 1230.4,1040.5 1230.8,1042.4 1231.4,1045.4 1231.8,1047.3 1232.3,1050.3 1232.7,1052.3 1233.3,1055.2 1233.7,1057.2 1234.3,1060.1 1234.6,1062.1 1235.2,1065.0 1235.6,1067.0 1236.2,1069.9 1236.6,1071.9 1237.2,1074.8 1237.6,1076.8 1238.2,1079.7 1238.6,1081.7 1239.2,1084.6 1239.6,1086.6 1240.2,1089.5 1240.6,1091.5 1241.3,1094.4 1241.7,1096.4 1242.3,1099.3 1242.7,1101.2 1243.4,1104.2 1243.8,1106.1 1244.5,1109.1 1244.9,1111.0 1245.6,1113.9 1246.0,1115.9 1246.7,1118.8 1247.1,1120.8 1247.8,1123.7 1248.3,1125.6 1249.0,1128.5 1249.4,1130.5 1250.1,1133.4 1250.6,1135.3 1251.3,1138.3 1251.8,1140.2 1252.5,1143.1 1253.0,1145.0 1253.8,1148.0 1254.3,1149.9 1255.0,1152.8 1255.5,1154.7 1256.3,1157.6 1256.8,1159.6 1257.6,1162.5 1258.1,1164.4 1258.9,1167.3 1259.4,1169.2 1260.3,1172.1 1260.8,1174.0 1261.6,1176.9 1262.2,1178.8 1263.0,1181.7 1263.6,1183.6 1264.4,1186.5 1265.0,1188.4 1265.9,1191.3 1266.5,1193.2 1267.3,1196.1 1267.9,1198.0 1268.8,1200.8 1269.4,1202.7 1270.3,1205.6 1271.0,1207.5 1271.9,1210.4 1272.5,1212.3 1273.5,1215.1 1274.1,1217.0 1275.1,1219.8 1275.7,1221.7 1276.7,1224.6 1277.4,1226.4 1278.4,1229.3 1279.0,1231.1 1280.1,1234.0 1280.8,1235.8 1281.8,1238.6 1282.6,1240.5 1283.6,1243.3 1284.4,1245.1 1285.5,1247.9 1286.3,1249.8 1287.4,1252.6 1288.2,1254.4 1289.3,1257.2 1290.1,1259.0 1291.3,1261.7 1292.2,1263.6 1293.4,1266.3 1294.2,1268.1 1295.5,1270.8 1296.3,1272.7 1297.6,1275.4 1298.4,1277.2 1299.7,1279.9 1300.6,1281.7 1301.9,1284.4 1302.8,1286.2 1304.2,1288.9 1305.1,1290.7 1306.4,1293.3 1307.4,1295.1 1308.7,1297.8 1309.7,1299.5 1311.1,1302.2 1312.1,1303.9 1313.5,1306.5 1314.5,1308.3 1316.0,1310.9 1317.0,1312.6 1318.5,1315.2 1319.5,1316.9 1321.1,1319.5 1322.1,1321.2 1323.7,1323.7 1324.8,1325.4 1326.4,1327.9 1327.5,1329.6 1329.2,1332.1 1330.3,1333.7 1332.0,1336.2 1333.2,1337.8 1334.9,1340.2 1336.1,1341.8 1337.9,1344.2 1339.1,1345.8 1340.9,1348.2 1342.2,1349.7 1344.0,1352.1 1345.3,1353.6 1347.2,1355.9 1348.5,1357.4 1350.4,1359.7 1351.8,1361.2 1353.8,1363.4 1355.1,1364.9 1357.1,1367.1 1358.5,1368.5 1360.6,1370.7 1362.0,1372.1 1364.1,1374.3 1365.5,1375.7 1367.6,1377.8 1369.1,1379.1 1371.3,1381.2 1372.7,1382.6 1374.9,1384.6 1376.4,1385.9 1378.6,1387.9 1380.1,1389.3 1382.4,1391.2 1383.9,1392.5 1386.2,1394.5 1387.7,1395.8 1390.0,1397.7 1391.6,1399.0 1393.9,1400.9 1395.5,1402.1 1397.8,1404.0 1399.4,1405.2 1401.8,1407.0 1403.4,1408.2 1405.8,1410.0 1407.4,1411.2 1409.8,1413.0 1411.4,1414.1 1413.9,1415.8 1415.5,1417.0 1418.0,1418.7 1419.6,1419.8 1422.1,1421.4 1423.8,1422.5 1426.3,1424.2 1428.0,1425.2 1430.5,1426.8 1432.2,1427.8 1434.8,1429.4 1436.5,1430.4 1439.1,1431.9 1440.8,1432.9 1443.4,1434.4 1445.2,1435.4 1447.8,1436.8 1449.6,1437.8 1452.2,1439.2 1454.0,1440.2 1456.6,1441.6 1458.4,1442.5 1461.1,1443.8 1462.9,1444.7 1465.5,1446.1 1467.3,1447.0 1470.0,1448.3 1471.8,1449.1 1474.6,1450.4 1476.4,1451.2 1479.1,1452.5 1480.9,1453.3 1483.7,1454.5 1485.5,1455.3 1488.3,1456.4 1490.1,1457.2 1492.9,1458.3 1494.7,1459.1 1497.5,1460.2 1499.4,1460.9 1502.2,1462.0 1504.0,1462.7 1506.8,1463.7 1508.7,1464.4 1511.5,1465.4 1513.4,1466.1 1516.3,1467.0 1518.1,1467.7 1521.0,1468.6 1522.9,1469.2 1525.7,1470.1 1527.7,1470.7 1530.5,1471.6 1532.5,1472.1 1535.3,1473.0 1537.3,1473.5 1540.2,1474.3 1542.1,1474.8 1545.0,1475.6 1546.9,1476.2 1549.8,1477.0 1551.7,1477.5 1554.6,1478.3 1556.5,1478.9 1559.4,1479.7 1561.3,1480.3 1564.2,1481.2 1566.1,1481.8 1569.0,1482.6 1570.9,1483.2 1573.8,1484.1 1575.7,1484.7 1578.6,1485.5 1580.5,1486.1 1583.3,1487.0 1585.3,1487.6 1588.1,1488.5 1590.0,1489.0 1592.9,1489.9 1594.8,1490.5 1597.7,1491.3 1599.6,1491.9 1602.5,1492.7 1604.4,1493.3 1607.3,1494.1 1609.2,1494.7 1612.1,1495.5 1614.0,1496.1 1616.9,1496.9 1618.8,1497.5 1621.7,1498.3 1623.6,1498.9 1626.5,1499.7 1628.5,1500.2 1631.4,1501.0 1633.3,1501.6 1636.2,1502.4 1638.1,1502.9 1641.0,1503.6 1643.0,1504.1 1645.9,1504.8 1647.8,1505.3 1650.7,1506.0 1652.7,1506.4 1655.6,1507.1 1657.5,1507.5 1660.5,1508.1 1662.4,1508.5 1665.4,1509.1 1667.3,1509.5 1670.3,1510.1 1672.2,1510.5 1675.2,1511.1 1677.2,1511.5 1680.1,1512.0 1682.1,1512.4 1685.0,1512.9 1687.0,1513.3 1690.0,1513.8 1691.9,1514.1 1694.9,1514.6 1696.9,1515.0 1699.8,1515.5 1701.8,1515.8 1704.7,1516.3 1706.7,1516.6 1709.7,1517.0 1711.7,1517.3 1714.6,1517.8 1716.6,1518.1 1719.6,1518.5 1721.5,1518.8 1724.5,1519.2 1726.5,1519.5 1729.5,1519.9 1731.4,1520.2 1734.4,1520.6 1736.4,1520.9 1739.4,1521.3 1741.3,1521.5 1744.3,1521.9 1746.3,1522.2 1749.3,1522.6 1751.3,1522.8 1754.2,1523.2 1756.2,1523.5 1759.2,1523.9 1761.2,1524.1 1764.2,1524.5 1766.2,1524.8 1769.1,1525.1 1771.1,1525.4 1774.1,1525.8 1776.1,1526.0 1779.1,1526.4 1781.0,1526.7 1784.0,1527.1 1786.0,1527.3 1789.0,1527.7 1791.0,1528.0 1793.9,1528.4 1795.9,1528.7 1798.9,1529.1 1800.9,1529.3 1803.8,1529.7 1805.8,1530.0 1808.8,1530.4 1810.8,1530.7 1813.7,1531.1 1815.7,1531.4 1818.7,1531.8 1820.7,1532.0 1823.7,1532.4 1825.6,1532.7 1828.6,1533.1 1830.6,1533.4 1833.6,1533.8 1835.5,1534.1 1838.5,1534.5 1840.5,1534.7 1843.5,1535.1 1845.5,1535.4 1848.4,1535.8 1850.4,1536.1 1853.4,1536.4 1855.4,1536.7 1858.3,1537.1 1860.3,1537.3 1863.3,1537.7 1865.3,1538.0 1868.3,1538.3 1870.2,1538.6 1873.2,1538.9 1875.2,1539.2 1878.2,1539.6 1880.2,1539.8 1883.2,1540.2 1885.1,1540.4 1888.1,1540.8 1890.1,1541.0 1893.1,1541.3 1895.1,1541.6 1898.0,1541.9 1900.0,1542.2 1903.0,1542.5 1905.0,1542.7 1908.0,1543.1 1910.0,1543.3 1912.9,1543.7 1914.9,1543.9 1917.9,1544.2 1919.9,1544.4 1922.9,1544.8 1924.9,1545.0 1927.9,1545.3 1929.8,1545.5 1932.8,1545.9 1934.8,1546.1 1937.8,1546.4 1939.8,1546.6 1942.8,1546.9 1944.8,1547.1 1947.7,1547.5 1949.7,1547.7 1952.7,1548.0 1954.7,1548.2 1957.7,1548.5 1959.7,1548.7 1962.7,1549.0 1964.7,1549.2 1967.6,1549.5 1969.6,1549.7 1972.6,1550.0 1974.6,1550.1 1977.6,1550.4 1979.6,1550.6 1982.6,1550.9 1984.6,1551.1 1987.5,1551.4 1989.5,1551.6 1992.5,1551.9 1994.5,1552.1 1997.5,1552.4 1999.5,1552.6 2002.5,1552.9 2004.5,1553.1 2007.5,1553.3 2009.4,1553.5 2012.4,1553.8 2014.4,1554.0 2017.4,1554.4 2019.4,1554.6 2022.4,1554.9 2024.4,1555.1 2027.3,1555.4 2029.3,1555.6 2032.3,1556.0 2034.3,1556.2 2037.3,1556.5 2039.3,1556.7 2042.3,1557.0 2044.3,1557.3 2047.2,1557.6 2049.2,1557.8 2052.2,1558.1 2054.2,1558.3 2057.2,1558.6 2059.2,1558.8 2062.2,1559.1 2064.1,1559.3 2067.1,1559.6 2069.1,1559.8 2072.1,1560.1 2074.1,1560.3 2077.1,1560.5 2079.1,1560.7 2082.1,1560.9 2084.1,1561.1 2087.1,1561.3 2089.0,1561.4 2092.0,1561.6 2094.0,1561.8 2097.0,1562.0 2099.0,1562.1 2102.0,1562.3 2104.0,1562.4 2107.0,1562.6 2109.0,1562.7 2112.0,1562.9 2114.0,1563.0 2117.0,1563.1 2119.0,1563.3 2122.0,1563.4 2124.0,1563.5 2124.2,1563.5 2124.2,1571.9 2124.0,1571.9 2122.0,1571.8 2119.0,1571.7 2117.0,1571.5 2114.0,1571.4 2112.0,1571.3 2109.0,1571.1 2107.0,1571.0 2104.0,1570.8 2102.0,1570.7 2099.0,1570.5 2097.0,1570.4 2094.0,1570.2 2092.0,1570.0 2089.0,1569.8 2087.1,1569.7 2084.1,1569.5 2082.1,1569.3 2079.1,1569.1 2077.1,1568.9 2074.1,1568.7 2072.1,1568.5 2069.1,1568.2 2067.1,1568.0 2064.1,1567.7 2062.2,1567.5 2059.2,1567.2 2057.2,1567.0 2054.2,1566.7 2052.2,1566.5 2049.2,1566.2 2047.2,1566.0 2044.3,1565.7 2042.3,1565.4 2039.3,1565.1 2037.3,1564.9 2034.3,1564.6 2032.3,1564.4 2029.3,1564.0 2027.3,1563.8 2024.4,1563.5 2022.4,1563.3 2019.4,1563.0 2017.4,1562.8 2014.4,1562.4 2012.4,1562.2 2009.4,1561.9 2007.5,1561.7 2004.5,1561.5 2002.5,1561.3 1999.5,1561.0 1997.5,1560.8 1994.5,1560.5 1992.5,1560.3 1989.5,1560.0 1987.5,1559.8 1984.6,1559.5 1982.6,1559.3 1979.6,1559.0 1977.6,1558.8 1974.6,1558.5 1972.6,1558.4 1969.6,1558.1 1967.6,1557.9 1964.7,1557.6 1962.7,1557.4 1959.7,1557.1 1957.7,1556.9 1954.7,1556.6 1952.7,1556.4 1949.7,1556.1 1947.7,1555.9 1944.8,1555.5 1942.8,1555.3 1939.8,1555.0 1937.8,1554.8 1934.8,1554.5 1932.8,1554.3 1929.8,1553.9 1927.9,1553.7 1924.9,1553.4 1922.9,1553.2 1919.9,1552.8 1917.9,1552.6 1914.9,1552.3 1912.9,1552.1 1910.0,1551.7 1908.0,1551.5 1905.0,1551.1 1903.0,1550.9 1900.0,1550.6 1898.0,1550.3 1895.1,1550.0 1893.1,1549.7 1890.1,1549.4 1888.1,1549.2 1885.1,1548.8 1883.2,1548.6 1880.2,1548.2 1878.2,1548.0 1875.2,1547.6 1873.2,1547.3 1870.2,1547.0 1868.3,1546.7 1865.3,1546.4 1863.3,1546.1 1860.3,1545.7 1858.3,1545.5 1855.4,1545.1 1853.4,1544.8 1850.4,1544.5 1848.4,1544.2 1845.5,1543.8 1843.5,1543.5 1840.5,1543.1 1838.5,1542.9 1835.5,1542.5 1833.6,1542.2 1830.6,1541.8 1828.6,1541.5 1825.6,1541.1 1823.7,1540.8 1820.7,1540.4 1818.7,1540.2 1815.7,1539.8 1813.7,1539.5 1810.8,1539.1 1808.8,1538.8 1805.8,1538.4 1803.8,1538.1 1800.9,1537.7 1798.9,1537.5 1795.9,1537.1 1793.9,1536.8 1791.0,1536.4 1789.0,1536.1 1786.0,1535.7 1784.0,1535.5 1781.0,1535.1 1779.1,1534.8 1776.1,1534.4 1774.1,1534.2 1771.1,1533.8 1769.1,1533.5 1766.2,1533.2 1764.2,1532.9 1761.2,1532.5 1759.2,1532.3 1756.2,1531.9 1754.2,1531.6 1751.3,1531.2 1749.3,1531.0 1746.3,1530.6 1744.3,1530.3 1741.3,1529.9 1739.4,1529.7 1736.4,1529.3 1734.4,1529.0 1731.4,1528.6 1729.5,1528.3 1726.5,1527.9 1724.5,1527.6 1721.5,1527.2 1719.6,1526.9 1716.6,1526.5 1714.6,1526.2 1711.7,1525.7 1709.7,1525.4 1706.7,1525.0 1704.7,1524.7 1701.8,1524.2 1699.8,1523.9 1696.9,1523.4 1694.9,1523.0 1691.9,1522.5 1690.0,1522.2 1687.0,1521.7 1685.0,1521.3 1682.1,1520.8 1680.1,1520.4 1677.2,1519.9 1675.2,1519.5 1672.2,1518.9 1670.3,1518.5 1667.3,1517.9 1665.4,1517.5 1662.4,1516.9 1660.5,1516.5 1657.5,1515.9 1655.6,1515.5 1652.7,1514.8 1650.7,1514.4 1647.8,1513.7 1645.9,1513.2 1643.0,1512.5 1641.0,1512.0 1638.1,1511.3 1636.2,1510.8 1633.3,1510.0 1631.4,1509.4 1628.5,1508.6 1626.5,1508.1 1623.6,1507.3 1621.7,1506.7 1618.8,1505.9 1616.9,1505.3 1614.0,1504.5 1612.1,1503.9 1609.2,1503.1 1607.3,1502.5 1604.4,1501.7 1602.5,1501.1 1599.6,1500.3 1597.7,1499.7 1594.8,1498.9 1592.9,1498.3 1590.0,1497.4 1588.1,1496.9 1585.3,1496.0 1583.3,1495.4 1580.5,1494.5 1578.6,1493.9 1575.7,1493.1 1573.8,1492.5 1570.9,1491.6 1569.0,1491.0 1566.1,1490.2 1564.2,1489.6 1561.3,1488.7 1559.4,1488.1 1556.5,1487.3 1554.6,1486.7 1551.7,1485.9 1549.8,1485.4 1546.9,1484.6 1545.0,1484.0 1542.1,1483.2 1540.2,1482.7 1537.3,1481.9 1535.3,1481.4 1532.5,1480.5 1530.5,1480.0 1527.7,1479.1 1525.7,1478.5 1522.9,1477.6 1521.0,1477.0 1518.1,1476.1 1516.3,1475.4 1513.4,1474.5 1511.5,1473.8 1508.7,1472.8 1506.8,1472.1 1504.0,1471.1 1502.2,1470.4 1499.4,1469.3 1497.5,1468.6 1494.7,1467.5 1492.9,1466.7 1490.1,1465.6 1488.3,1464.8 1485.5,1463.7 1483.7,1462.9 1480.9,1461.7 1479.1,1460.9 1476.4,1459.6 1474.6,1458.8 1471.8,1457.5 1470.0,1456.7 1467.3,1455.4 1465.5,1454.5 1462.9,1453.1 1461.1,1452.2 1458.4,1450.9 1456.6,1450.0 1454.0,1448.6 1452.2,1447.6 1449.6,1446.2 1447.8,1445.2 1445.2,1443.8 1443.4,1442.8 1440.8,1441.3 1439.1,1440.3 1436.5,1438.8 1434.8,1437.8 1432.2,1436.2 1430.5,1435.2 1428.0,1433.6 1426.3,1432.6 1423.8,1430.9 1422.1,1429.8 1419.6,1428.2 1418.0,1427.1 1415.5,1425.4 1413.9,1424.2 1411.4,1422.5 1409.8,1421.4 1407.4,1419.6 1405.8,1418.4 1403.4,1416.6 1401.8,1415.4 1399.4,1413.6 1397.8,1412.4 1395.5,1410.5 1393.9,1409.3 1391.6,1407.4 1390.0,1406.1 1387.7,1404.2 1386.2,1402.9 1383.9,1400.9 1382.4,1399.6 1380.1,1397.7 1378.6,1396.3 1376.4,1394.3 1374.9,1393.0 1372.7,1391.0 1371.3,1389.6 1369.1,1387.5 1367.6,1386.2 1365.5,1384.1 1364.1,1382.7 1362.0,1380.5 1360.6,1379.1 1358.5,1376.9 1357.1,1375.5 1355.1,1373.3 1353.8,1371.8 1351.8,1369.6 1350.4,1368.1 1348.5,1365.8 1347.2,1364.3 1345.3,1362.0 1344.0,1360.5 1342.2,1358.1 1340.9,1356.6 1339.1,1354.2 1337.9,1352.6 1336.1,1350.2 1334.9,1348.6 1333.2,1346.2 1332.0,1344.6 1330.3,1342.1 1329.2,1340.5 1327.5,1338.0 1326.4,1336.3 1324.8,1333.8 1323.7,1332.1 1322.1,1329.6 1321.1,1327.9 1319.5,1325.3 1318.5,1323.6 1317.0,1321.0 1316.0,1319.3 1314.5,1316.7 1313.5,1314.9 1312.1,1312.3 1311.1,1310.6 1309.7,1307.9 1308.7,1306.2 1307.4,1303.5 1306.4,1301.7 1305.1,1299.1 1304.2,1297.3 1302.8,1294.6 1301.9,1292.8 1300.6,1290.1 1299.7,1288.3 1298.4,1285.6 1297.6,1283.8 1296.3,1281.1 1295.5,1279.2 1294.2,1276.5 1293.4,1274.7 1292.2,1272.0 1291.3,1270.1 1290.1,1267.4 1289.3,1265.6 1288.2,1262.8 1287.4,1261.0 1286.3,1258.2 1285.5,1256.3 1284.4,1253.5 1283.6,1251.7 1282.6,1248.9 1281.8,1247.0 1280.8,1244.2 1280.1,1242.4 1279.0,1239.5 1278.4,1237.7 1277.4,1234.8 1276.7,1233.0 1275.7,1230.1 1275.1,1228.2 1274.1,1225.4 1273.5,1223.5 1272.5,1220.7 1271.9,1218.8 1271.0,1215.9 1270.3,1214.0 1269.4,1211.1 1268.8,1209.2 1267.9,1206.4 1267.3,1204.5 1266.5,1201.6 1265.9,1199.7 1265.0,1196.8 1264.4,1194.9 1263.6,1192.0 1263.0,1190.1 1262.2,1187.2 1261.6,1185.3 1260.8,1182.4 1260.3,1180.5 1259.4,1177.6 1258.9,1175.7 1258.1,1172.8 1257.6,1170.9 1256.8,1168.0 1256.3,1166.0 1255.5,1163.1 1255.0,1161.2 1254.3,1158.3 1253.8,1156.4 1253.0,1153.4 1252.5,1151.5 1251.8,1148.6 1251.3,1146.7 1250.6,1143.7 1250.1,1141.8 1249.4,1138.9 1249.0,1136.9 1248.3,1134.0 1247.8,1132.1 1247.1,1129.2 1246.7,1127.2 1246.0,1124.3 1245.6,1122.3 1244.9,1119.4 1244.5,1117.5 1243.8,1114.5 1243.4,1112.6 1242.7,1109.6 1242.3,1107.7 1241.7,1104.8 1241.3,1102.8 1240.6,1099.9 1240.2,1097.9 1239.6,1095.0 1239.2,1093.0 1238.6,1090.1 1238.2,1088.1 1237.6,1085.2 1237.2,1083.2 1236.6,1080.3 1236.2,1078.3 1235.6,1075.4 1235.2,1073.4 1234.6,1070.5 1234.3,1068.5 1233.7,1065.6 1233.3,1063.6 1232.7,1060.7 1232.3,1058.7 1231.8,1055.7 1231.4,1053.8 1230.8,1050.8 1230.4,1048.9 1229.9,1045.9 1229.5,1044.0 1228.9,1041.0 1228.5,1039.1 1228.0,1036.1 1227.6,1034.1 1227.0,1031.2 1226.7,1029.2 1226.1,1026.3 1225.7,1024.3 1225.2,1021.4 1224.8,1019.4 1224.2,1016.5 1223.8,1014.5 1223.3,1011.6 1222.9,1009.6 1222.3,1006.6 1222.0,1004.7 1221.4,1001.7 1221.0,999.8 1220.5,996.8 1220.1,994.9 1219.5,991.9 1219.1,989.9 1218.6,987.0 1218.2,985.0 1217.7,982.1 1217.3,980.1 1216.7,977.2 1216.4,975.2 1215.8,972.3 1215.5,970.3 1214.9,967.3 1214.6,965.4 1214.0,962.4 1213.7,960.5 1213.1,957.5 1212.8,955.5 1212.3,952.6 1211.9,950.6 1211.4,947.7 1211.0,945.7 1210.5,942.7 1210.2,940.8 1209.7,937.8 1209.4,935.8 1208.9,932.9 1208.5,930.9 1208.1,927.9 1207.7,926.0 1207.3,923.0 1206.9,921.0 1206.5,918.1 1206.1,916.1 1205.7,913.1 1205.4,911.2 1204.9,908.2 1204.6,906.2 1204.1,903.2 1203.8,901.3 1203.4,898.3 1203.1,896.3 1202.6,893.4 1202.3,891.4 1201.9,888.4 1201.6,886.4 1201.1,883.5 1200.8,881.5 1200.4,878.5 1200.1,876.5 1199.7,873.6 1199.4,871.6 1199.0,868.6 1198.7,866.6 1198.3,863.7 1198.0,861.7 1197.6,858.7 1197.4,856.7 1197.0,853.8 1196.7,851.8 1196.4,848.8 1196.1,846.8 1195.7,843.8 1195.5,841.9 1195.2,838.9 1194.9,836.9 1194.6,833.9 1194.3,831.9 1194.0,828.9 1193.8,827.0 1193.4,824.0 1193.2,822.0 1192.8,819.0 1192.6,817.0 1192.3,814.0 1192.0,812.1 1191.7,809.1 1191.5,807.1 1191.1,804.1 1190.9,802.1 1190.5,799.1 1190.3,797.2 1189.9,794.2 1189.7,792.2 1189.3,789.2 1189.1,787.2 1188.7,784.3 1188.5,782.3 1188.1,779.3 1187.8,777.3 1187.5,774.3 1187.2,772.4 1186.8,769.4 1186.6,767.4 1186.2,764.4 1185.9,762.4 1185.5,759.5 1185.3,757.5 1184.9,754.5 1184.6,752.5 1184.2,749.5 1184.0,747.6 1183.6,744.6 1183.3,742.6 1182.9,739.6 1182.7,737.6 1182.3,734.7 1182.0,732.7 1181.6,729.7 1181.4,727.7 1181.0,724.8 1180.7,722.8 1180.3,719.8 1180.1,717.8 1179.7,714.8 1179.5,712.9 1179.1,709.9 1178.8,707.9 1178.4,704.9 1178.2,702.9 1177.8,700.0 1177.6,698.0 1177.2,695.0 1177.0,693.0 1176.6,690.0 1176.3,688.1 1176.0,685.1 1175.7,683.1 1175.4,680.1 1175.1,678.1 1174.8,675.1 1174.6,673.2 1174.2,670.2 1174.0,668.2 1173.6,665.2 1173.4,663.2 1173.0,660.2 1172.8,658.3 1172.5,655.3 1172.2,653.3 1171.9,650.3 1171.7,648.3 1171.3,645.3 1171.1,643.4 1170.8,640.4 1170.5,638.4 1170.2,635.4 1170.0,633.4 1169.6,630.4 1169.4,628.5 1169.1,625.5 1168.8,623.5 1168.5,620.5 1168.3,618.5 1167.9,615.5 1167.7,613.6 1167.3,610.6 1167.1,608.6 1166.8,605.6 1166.5,603.6 1166.2,600.6 1165.9,598.7 1165.6,595.7 1165.4,593.7 1165.0,590.7 1164.8,588.7 1164.4,585.7 1164.2,583.8 1163.8,580.8 1163.6,578.8 1163.2,575.8 1163.0,573.8 1162.6,570.9 1162.4,568.9 1162.0,565.9 1161.7,563.9 1161.4,560.9 1161.1,558.9 1160.7,556.0 1160.5,554.0 1160.1,551.0 1159.9,549.0 1159.5,546.1 1159.2,544.1 1158.8,541.1 1158.6,539.1 1158.2,536.1 1157.9,534.2 1157.5,531.2 1157.3,529.2 1156.9,526.2 1156.6,524.2 1156.2,521.3 1155.9,519.3 1155.5,516.3 1155.2,514.3 1154.8,511.4 1154.5,509.4 1154.1,506.4 1153.8,504.4 1153.4,501.5 1153.1,499.5 1152.6,496.5 1152.3,494.5 1151.9,491.6 1151.6,489.6 1151.1,486.6 1150.8,484.7 1150.4,481.7 1150.1,479.7 1149.6,476.8 1149.3,474.8 1148.8,471.8 1148.5,469.8 1148.0,466.9 1147.7,464.9 1147.2,462.0 1146.9,460.0 1146.4,457.0 1146.0,455.0 1145.5,452.1 1145.2,450.1 1144.7,447.2 1144.4,445.2 1143.9,442.2 1143.5,440.3 1143.0,437.3 1142.7,435.3 1142.1,432.4 1141.8,430.4 1141.3,427.5 1140.9,425.5 1140.4,422.5 1140.1,420.6 1139.6,417.6 1139.2,415.6 1138.7,412.7 1138.3,410.7 1137.8,407.8 1137.5,405.8 1136.9,402.8 1136.6,400.9 1136.0,397.9 1135.6,396.0 1135.1,393.0 1134.7,391.0 1134.1,388.1 1133.7,386.1 1133.2,383.2 1132.8,381.2 1132.2,378.3 1131.7,376.4 1131.1,373.4 1130.7,371.5 1130.0,368.6 1129.6,366.6 1128.9,363.7 1128.5,361.8 1127.8,358.9 1127.3,357.0 1126.6,354.1 1126.1,352.2 1125.3,349.3 1124.8,347.4 1124.1,344.5 1123.5,342.6 1122.7,339.7 1122.2,337.8 1121.3,334.9 1120.7,333.0 1119.6,330.2 1118.9,328.3 1117.6,325.4 1116.7,323.5 1115.2,320.7 1114.0,319.2 1112.0,317.4 1110.1,316.4 1107.2,316.2 1105.2,316.8 1102.9,318.3 1101.5,319.8 1099.6,322.4 1098.5,324.2 1096.9,326.8 1096.0,328.5 1094.7,331.2 1093.8,333.1 1092.7,335.9 1091.9,337.7 1090.9,340.6 1090.2,342.4 1089.3,345.2 1088.7,347.1 1087.8,349.9 1087.2,351.8 1086.4,354.7 1085.8,356.6 1085.0,359.5 1084.5,361.4 1083.8,364.3 1083.3,366.2 1082.6,369.1 1082.1,371.0 1081.5,373.9 1081.0,375.9 1080.4,378.8 1080.0,380.8 1079.4,383.7 1079.0,385.6 1078.4,388.6 1078.0,390.5 1077.4,393.5 1077.1,395.5 1076.5,398.4 1076.2,400.4 1075.7,403.3 1075.3,405.3 1074.8,408.3 1074.5,410.2 1074.0,413.2 1073.7,415.2 1073.2,418.1 1072.9,420.1 1072.4,423.1 1072.1,425.0 1071.6,428.0 1071.3,430.0 1070.8,432.9 1070.5,434.9 1070.0,437.9 1069.7,439.8 1069.3,442.8 1069.0,444.8 1068.5,447.8 1068.2,449.7 1067.7,452.7 1067.4,454.7 1066.9,457.6 1066.6,459.6 1066.1,462.6 1065.8,464.5 1065.3,467.5 1065.0,469.5 1064.5,472.4 1064.2,474.4 1063.7,477.4 1063.4,479.3 1062.9,482.3 1062.6,484.3 1062.1,487.2 1061.8,489.2 1061.3,492.2 1060.9,494.1 1060.5,497.1 1060.1,499.1 1059.6,502.0 1059.3,504.0 1058.8,507.0 1058.5,508.9 1058.0,511.9 1057.7,513.9 1057.3,516.8 1056.9,518.8 1056.5,521.8 1056.2,523.8 1055.7,526.7 1055.4,528.7 1054.9,531.7 1054.6,533.6 1054.2,536.6 1053.9,538.6 1053.4,541.5 1053.1,543.5 1052.7,546.5 1052.4,548.5 1051.9,551.4 1051.6,553.4 1051.2,556.4 1050.9,558.4 1050.5,561.3 1050.2,563.3 1049.8,566.3 1049.5,568.3 1049.0,571.2 1048.8,573.2 1048.3,576.2 1048.0,578.2 1047.6,581.1 1047.3,583.1 1046.9,586.1 1046.6,588.1 1046.2,591.0 1046.0,593.0 1045.5,596.0 1045.3,598.0 1044.9,600.9 1044.6,602.9 1044.2,605.9 1043.9,607.9 1043.5,610.8 1043.3,612.8 1042.9,615.8 1042.6,617.8 1042.2,620.8 1042.0,622.7 1041.6,625.7 1041.3,627.7 1040.9,630.7 1040.7,632.7 1040.3,635.6 1040.1,637.6 1039.7,640.6 1039.4,642.6 1039.1,645.6 1038.8,647.5 1038.5,650.5 1038.2,652.5 1037.9,655.5 1037.6,657.5 1037.3,660.5 1037.0,662.4 1036.7,665.4 1036.5,667.4 1036.1,670.4 1035.9,672.4 1035.6,675.4 1035.3,677.3 1035.0,680.3 1034.8,682.3 1034.5,685.3 1034.2,687.3 1033.9,690.3 1033.7,692.2 1033.4,695.2 1033.2,697.2 1032.8,700.2 1032.6,702.2 1032.3,705.2 1032.1,707.2 1031.8,710.1 1031.6,712.1 1031.3,715.1 1031.1,717.1 1030.8,720.1 1030.5,722.1 1030.2,725.1 1030.0,727.1 1029.7,730.0 1029.5,732.0 1029.2,735.0 1029.0,737.0 1028.7,740.0 1028.5,742.0 1028.2,745.0 1028.0,747.0 1027.7,749.9 1027.4,751.9 1027.1,754.9 1026.9,756.9 1026.6,759.9 1026.4,761.9 1026.1,764.9 1025.9,766.8 1025.6,769.8 1025.4,771.8 1025.1,774.8 1024.9,776.8 1024.5,779.8 1024.3,781.8 1024.0,784.7 1023.8,786.7 1023.5,789.7 1023.3,791.7 1023.0,794.7 1022.8,796.7 1022.5,799.7 1022.3,801.7 1021.9,804.6 1021.7,806.6 1021.4,809.6 1021.2,811.6 1020.9,814.6 1020.7,816.6 1020.4,819.6 1020.2,821.5 1019.9,824.5 1019.7,826.5 1019.3,829.5 1019.1,831.5 1018.8,834.5 1018.6,836.5 1018.3,839.5 1018.1,841.4 1017.8,844.4 1017.6,846.4 1017.3,849.4 1017.0,851.4 1016.7,854.4 1016.5,856.4 1016.2,859.3 1016.0,861.3 1015.7,864.3 1015.5,866.3 1015.1,869.3 1014.9,871.3 1014.6,874.3 1014.4,876.2 1014.1,879.2 1013.8,881.2 1013.5,884.2 1013.3,886.2 1013.0,889.2 1012.7,891.2 1012.4,894.1 1012.2,896.1 1011.9,899.1 1011.6,901.1 1011.3,904.1 1011.1,906.1 1010.8,909.0 1010.5,911.0 1010.2,914.0 1010.0,916.0 1009.6,919.0 1009.4,921.0 1009.1,923.9 1008.8,925.9 1008.5,928.9 1008.3,930.9 1007.9,933.9 1007.7,935.9 1007.4,938.8 1007.1,940.8 1006.8,943.8 1006.6,945.8 1006.2,948.8 1006.0,950.8 1005.6,953.7 1005.4,955.7 1005.1,958.7 1004.8,960.7 1004.5,963.7 1004.3,965.7 1003.9,968.7 1003.7,970.6 1003.3,973.6 1003.1,975.6 1002.8,978.6 1002.5,980.6 1002.2,983.6 1002.0,985.5 1001.6,988.5 1001.4,990.5 1001.1,993.5 1000.8,995.5 1000.5,998.5 1000.3,1000.4 999.9,1003.4 999.7,1005.4 999.4,1008.4 999.1,1010.4 998.8,1013.4 998.6,1015.3 998.2,1018.3 998.0,1020.3 997.7,1023.3 997.4,1025.3 997.1,1028.3 996.9,1030.3 996.5,1033.2 996.3,1035.2 996.0,1038.2 995.7,1040.2 995.4,1043.2 995.2,1045.2 994.8,1048.1 994.6,1050.1 994.3,1053.1 994.0,1055.1 993.7,1058.1 993.5,1060.1 993.1,1063.0 992.9,1065.0 992.6,1068.0 992.3,1070.0 992.0,1073.0 991.8,1075.0 991.4,1077.9 991.2,1079.9 990.9,1082.9 990.7,1084.9 990.3,1087.9 990.1,1089.9 989.8,1092.9 989.6,1094.8 989.2,1097.8 989.0,1099.8 988.7,1102.8 988.5,1104.8 988.2,1107.8 987.9,1109.8 987.6,1112.7 987.4,1114.7 987.1,1117.7 986.9,1119.7 986.6,1122.7 986.4,1124.7 986.1,1127.7 985.9,1129.6 985.6,1132.6 985.4,1134.6 985.1,1137.6 984.9,1139.6 984.6,1142.6 984.4,1144.6 984.1,1147.6 983.9,1149.6 983.7,1152.5 983.5,1154.5 983.2,1157.5 983.0,1159.5 982.8,1162.5 982.6,1164.5 982.3,1167.5 982.2,1169.5 981.9,1172.5 981.7,1174.5 981.5,1177.4 981.3,1179.4 981.0,1182.4 980.8,1184.4 980.6,1187.4 980.4,1189.4 980.1,1192.4 979.9,1194.4 979.6,1197.4 979.4,1199.3 979.1,1202.3 978.9,1204.3 978.6,1207.3 978.4,1209.3 978.1,1212.3 977.8,1214.2 977.5,1217.2 977.2,1219.2 976.8,1222.2 976.6,1224.2 976.2,1227.1 975.9,1229.1 975.5,1232.1 975.2,1234.1 974.8,1237.0 974.5,1239.0 974.0,1242.0 973.7,1243.9 973.3,1246.9 973.0,1248.9 972.5,1251.8 972.2,1253.8 971.7,1256.8 971.4,1258.8 970.9,1261.7 970.5,1263.7 970.0,1266.6 969.7,1268.6 969.2,1271.6 968.9,1273.6 968.4,1276.5 968.0,1278.5 967.5,1281.4 967.2,1283.4 966.7,1286.4 966.3,1288.3 965.8,1291.3 965.5,1293.3 965.0,1296.2 964.6,1298.2 964.1,1301.2 963.8,1303.1 963.3,1306.1 962.9,1308.1 962.4,1311.0 962.1,1313.0 961.6,1316.0 961.2,1317.9 960.7,1320.9 960.4,1322.8 959.9,1325.8 959.5,1327.8 959.0,1330.7 958.6,1332.7 958.1,1335.7 957.8,1337.6 957.2,1340.6 956.9,1342.5 956.3,1345.5 956.0,1347.5 955.4,1350.4 955.1,1352.4 954.5,1355.3 954.1,1357.3 953.6,1360.2 953.2,1362.2 952.6,1365.1 952.2,1367.1 951.7,1370.0 951.3,1372.0 950.7,1374.9 950.3,1376.9 949.7,1379.8 949.3,1381.8 948.6,1384.7 948.2,1386.7 947.6,1389.6 947.2,1391.6 946.5,1394.5 946.1,1396.5 945.5,1399.4 945.0,1401.4 944.4,1404.3 943.9,1406.2 943.2,1409.2 942.8,1411.1 942.1,1414.0 941.6,1416.0 940.9,1418.9 940.5,1420.8 939.7,1423.7 939.3,1425.7 938.5,1428.6 938.0,1430.5 937.3,1433.4 936.8,1435.4 936.0,1438.3 935.5,1440.2 934.7,1443.1 934.2,1445.0 933.4,1447.9 932.9,1449.9 932.0,1452.7 931.5,1454.7 930.6,1457.5 930.0,1459.4 929.2,1462.3 928.6,1464.2 927.6,1467.1 927.0,1469.0 926.1,1471.8 925.4,1473.7 924.4,1476.5 923.7,1478.4 922.7,1481.2 922.0,1483.1 920.9,1485.8 920.2,1487.7 919.0,1490.5 918.2,1492.3 917.1,1495.0 916.2,1496.9 915.0,1499.6 914.1,1501.4 912.8,1504.1 912.0,1505.8 910.6,1508.5 909.7,1510.3 908.2,1512.9 907.2,1514.6 905.7,1517.2 904.7,1518.9 903.1,1521.4 902.0,1523.0 900.4,1525.5 899.3,1527.1 897.5,1529.5 896.3,1531.0 894.5,1533.3 893.2,1534.9 891.3,1537.1 890.0,1538.5 887.9,1540.6 886.5,1542.0 884.4,1544.0 883.0,1545.3 880.7,1547.3 879.2,1548.5 876.9,1550.3 875.3,1551.5 872.9,1553.2 871.3,1554.3 868.8,1555.8 867.1,1556.9 864.6,1558.4 862.8,1559.3 860.2,1560.7 858.5,1561.6 855.8,1562.8 854.0,1563.7 851.3,1564.8 849.4,1565.6 846.7,1566.7 844.8,1567.4 842.0,1568.3 840.1,1569.0 837.3,1569.9 835.4,1570.4 832.5,1571.2 830.6,1571.8 827.7,1572.5 825.8,1572.9 822.9,1573.6 821.0,1574.0 818.0,1574.6 816.1,1574.9 813.1,1575.4 811.2,1575.7 808.2,1576.2 806.2,1576.5 803.3,1576.9 801.3,1577.1 798.3,1577.5 796.3,1577.7 793.4,1578.0 791.4,1578.2 788.4,1578.5 786.4,1578.7 783.4,1579.0 781.4,1579.1 778.4,1579.4 776.4,1579.5 773.4,1579.7 771.4,1579.9 768.4,1580.1 766.4,1580.2 763.4,1580.4 761.4,1580.5 758.4,1580.7 756.4,1580.8 753.4,1580.9 751.4,1581.0 748.4,1581.2 746.4,1581.2 743.4,1581.4 741.4,1581.4 738.4,1581.5 736.4,1581.6 733.4,1581.7 731.4,1581.7 728.4,1581.8 726.4,1581.8 723.4,1581.9 721.4,1581.9 718.4,1581.9 716.4,1582.0 713.4,1582.0 711.4,1582.0 708.4,1581.9 706.4,1581.9 703.4,1581.9 701.4,1581.8 698.5,1581.8 696.5,1581.7 693.5,1581.6 691.5,1581.5 688.5,1581.4 686.5,1581.3 683.5,1581.2 681.5,1581.1 678.5,1580.9 676.5,1580.7 673.5,1580.5 671.5,1580.4 668.5,1580.1 666.5,1580.0 663.5,1579.8 661.5,1579.6 658.5,1579.4 656.5,1579.2 653.6,1578.9 651.6,1578.7 648.6,1578.4 646.6,1578.2 643.6,1577.8 641.7,1577.5 638.7,1577.1 636.7,1576.8 633.7,1576.4 631.8,1576.0 628.8,1575.6 626.8,1575.2 623.9,1574.7 621.9,1574.4 618.9,1573.9 617.0,1573.5 614.0,1573.0 612.0,1572.7 609.1,1572.2 607.1,1571.8 604.1,1571.4 602.1,1571.0 599.2,1570.6 597.2,1570.3 594.2,1569.8 592.3,1569.5 589.3,1569.1 587.3,1568.7 584.4,1568.3 582.4,1568.0 579.4,1567.5 577.4,1567.2 574.5,1566.7 572.5,1566.4 569.5,1566.0 567.6,1565.6 564.6,1565.2 562.6,1564.8 559.7,1564.3 557.7,1564.0 554.7,1563.5 552.8,1563.2 549.8,1562.7 547.8,1562.3 544.9,1561.8 542.9,1561.4 540.0,1560.9 538.0,1560.6 535.0,1560.0 533.1,1559.7 530.1,1559.2 528.1,1558.8 525.2,1558.3 523.2,1558.0 520.3,1557.4 518.3,1557.1 515.3,1556.6 513.4,1556.2 510.4,1555.7 508.4,1555.4 505.5,1554.9 503.5,1554.5 500.6,1554.0 498.6,1553.7 495.6,1553.2 493.6,1552.9 490.7,1552.5 488.7,1552.2 485.7,1551.8 483.7,1551.5 480.8,1551.1 478.8,1550.8 475.8,1550.4 473.8,1550.1 470.8,1549.8 468.8,1549.6 465.9,1549.4 463.9,1549.3 460.9,1549.2 458.9,1549.1 455.9,1549.0 453.9,1549.0 450.9,1548.9 448.9,1548.9 445.9,1549.0 443.9,1549.1 440.9,1549.5 438.9,1549.8 435.9,1550.2 434.0,1550.6 431.1,1551.3 429.2,1551.9 426.3,1552.9 424.4,1553.6 421.6,1554.7 419.8,1555.5 417.1,1556.7 415.3,1557.6 412.7,1559.1 410.9,1560.1 408.3,1561.6 406.5,1562.5 403.9,1564.0 402.2,1564.9 399.5,1566.4 397.8,1567.3 395.1,1568.8 393.4,1569.8 390.8,1571.2 389.0,1572.2 386.4,1573.6 384.6,1574.6 382.0,1576.1 380.3,1577.0 377.7,1578.5 375.9,1579.5 373.3,1581.0 371.6,1582.0 368.9,1583.4 367.2,1584.3 364.5,1585.7 362.7,1586.5 360.0,1587.8 358.2,1588.7 355.4,1590.0 353.6,1590.8 350.9,1592.0 349.0,1592.8 346.3,1593.9 344.4,1594.6 341.6,1595.8 339.7,1596.5 336.9,1597.7 335.1,1598.4 332.2,1599.5 330.3,1600.1 327.4,1600.9 325.5,1601.3 322.6,1601.8 320.7,1602.2 317.7,1602.6 315.8,1602.9 312.8,1603.4 310.8,1603.6 307.8,1603.9 305.8,1604.0 302.7,1604.2 300.7,1604.2ZM296.5,1600.0 298.5,1600.0 301.6,1599.8 303.6,1599.7 306.6,1599.4 308.6,1599.2 311.6,1598.7 313.5,1598.4 316.5,1598.0 318.4,1597.6 321.3,1597.1 323.2,1596.7 326.1,1595.9 328.0,1595.3 330.9,1594.2 332.7,1593.5 335.5,1592.3 337.4,1591.6 340.2,1590.4 342.1,1589.7 344.8,1588.6 346.7,1587.8 349.4,1586.6 351.2,1585.8 354.0,1584.5 355.8,1583.6 358.5,1582.3 360.3,1581.5 363.0,1580.1 364.7,1579.2 367.4,1577.8 369.1,1576.8 371.7,1575.3 373.5,1574.3 376.1,1572.8 377.8,1571.9 380.4,1570.4 382.2,1569.4 384.8,1568.0 386.6,1567.0 389.2,1565.6 390.9,1564.6 393.6,1563.1 395.3,1562.2 398.0,1560.7 399.7,1559.8 402.3,1558.3 404.1,1557.4 406.7,1555.9 408.5,1554.9 411.1,1553.4 412.9,1552.5 415.6,1551.3 417.4,1550.5 420.2,1549.4 422.1,1548.7 425.0,1547.7 426.9,1547.1 429.8,1546.4 431.7,1546.0 434.7,1545.6 436.7,1545.3 439.7,1544.9 441.7,1544.8 444.7,1544.7 453.1,1544.7 450.1,1544.8 448.1,1544.9 445.1,1545.3 443.1,1545.6 440.1,1546.0 438.2,1546.4 435.3,1547.1 433.4,1547.7 430.5,1548.7 428.6,1549.4 425.8,1550.5 424.0,1551.3 421.3,1552.5 419.5,1553.4 416.9,1554.9 415.1,1555.9 412.5,1557.4 410.7,1558.3 408.1,1559.8 406.4,1560.7 403.7,1562.2 402.0,1563.1 399.3,1564.6 397.6,1565.6 395.0,1567.0 393.2,1568.0 390.6,1569.4 388.8,1570.4 386.2,1571.9 384.5,1572.8 381.9,1574.3 380.1,1575.3 377.5,1576.8 375.8,1577.8 373.1,1579.2 371.4,1580.1 368.7,1581.5 366.9,1582.3 364.2,1583.6 362.4,1584.5 359.6,1585.8 357.8,1586.6 355.1,1587.8 353.2,1588.6 350.5,1589.7 348.6,1590.4 345.8,1591.6 343.9,1592.3 341.1,1593.5 339.3,1594.2 336.4,1595.3 334.5,1595.9 331.6,1596.7 329.7,1597.1 326.8,1597.6 324.9,1598.0 321.9,1598.4 320.0,1598.7 317.0,1599.2 315.0,1599.4 312.0,1599.7 310.0,1599.8 306.9,1600.0 304.9,1600.0ZM453.1,1544.7 455.1,1544.7 458.1,1544.8 460.1,1544.8 463.1,1544.9 465.1,1545.0 468.1,1545.1 470.1,1545.2 473.0,1545.4 475.0,1545.6 478.0,1545.9 480.0,1546.2 483.0,1546.6 485.0,1546.9 487.9,1547.3 489.9,1547.6 492.9,1548.0 494.9,1548.3 497.8,1548.7 499.8,1549.0 502.8,1549.5 504.8,1549.8 507.7,1550.3 509.7,1550.7 512.6,1551.2 514.6,1551.5 517.6,1552.0 519.5,1552.4 522.5,1552.9 524.5,1553.2 527.4,1553.8 529.4,1554.1 532.3,1554.6 534.3,1555.0 537.3,1555.5 539.2,1555.8 542.2,1556.4 544.2,1556.7 547.1,1557.2 549.1,1557.6 552.0,1558.1 554.0,1558.5 557.0,1559.0 558.9,1559.3 561.9,1559.8 563.9,1560.1 566.8,1560.6 568.8,1561.0 571.8,1561.4 573.7,1561.8 576.7,1562.2 578.7,1562.5 581.6,1563.0 583.6,1563.3 586.6,1563.8 588.6,1564.1 591.5,1564.5 593.5,1564.9 596.5,1565.3 598.4,1565.6 601.4,1566.1 603.4,1566.4 606.3,1566.8 608.3,1567.2 611.3,1567.6 613.3,1568.0 616.2,1568.5 618.2,1568.8 621.2,1569.3 623.1,1569.7 626.1,1570.2 628.1,1570.5 631.0,1571.0 633.0,1571.4 636.0,1571.8 637.9,1572.2 640.9,1572.6 642.9,1572.9 645.9,1573.3 647.8,1573.6 650.8,1574.0 652.8,1574.2 655.8,1574.5 657.8,1574.7 660.7,1575.0 662.7,1575.2 665.7,1575.4 667.7,1575.6 670.7,1575.8 672.7,1575.9 675.7,1576.2 677.7,1576.3 680.7,1576.5 682.7,1576.7 685.7,1576.9 687.7,1577.0 690.7,1577.1 692.7,1577.2 695.7,1577.3 697.7,1577.4 700.7,1577.5 702.7,1577.6 705.6,1577.6 707.6,1577.7 710.6,1577.7 712.6,1577.7 715.6,1577.8 717.6,1577.8 709.2,1577.8 707.2,1577.8 704.2,1577.7 702.2,1577.7 699.2,1577.7 697.2,1577.6 694.3,1577.6 692.3,1577.5 689.3,1577.4 687.3,1577.3 684.3,1577.2 682.3,1577.1 679.3,1577.0 677.3,1576.9 674.3,1576.7 672.3,1576.5 669.3,1576.3 667.3,1576.2 664.3,1575.9 662.3,1575.8 659.3,1575.6 657.3,1575.4 654.3,1575.2 652.3,1575.0 649.4,1574.7 647.4,1574.5 644.4,1574.2 642.4,1574.0 639.4,1573.6 637.5,1573.3 634.5,1572.9 632.5,1572.6 629.5,1572.2 627.6,1571.8 624.6,1571.4 622.6,1571.0 619.7,1570.5 617.7,1570.2 614.7,1569.7 612.8,1569.3 609.8,1568.8 607.8,1568.5 604.9,1568.0 602.9,1567.6 599.9,1567.2 597.9,1566.8 595.0,1566.4 593.0,1566.1 590.0,1565.6 588.1,1565.3 585.1,1564.9 583.1,1564.5 580.2,1564.1 578.2,1563.8 575.2,1563.3 573.2,1563.0 570.3,1562.5 568.3,1562.2 565.3,1561.8 563.4,1561.4 560.4,1561.0 558.4,1560.6 555.5,1560.1 553.5,1559.8 550.5,1559.3 548.6,1559.0 545.6,1558.5 543.6,1558.1 540.7,1557.6 538.7,1557.2 535.8,1556.7 533.8,1556.4 530.8,1555.8 528.9,1555.5 525.9,1555.0 523.9,1554.6 521.0,1554.1 519.0,1553.8 516.1,1553.2 514.1,1552.9 511.1,1552.4 509.2,1552.0 506.2,1551.5 504.2,1551.2 501.3,1550.7 499.3,1550.3 496.4,1549.8 494.4,1549.5 491.4,1549.0 489.4,1548.7 486.5,1548.3 484.5,1548.0 481.5,1547.6 479.5,1547.3 476.6,1546.9 474.6,1546.6 471.6,1546.2 469.6,1545.9 466.6,1545.6 464.6,1545.4 461.7,1545.2 459.7,1545.1 456.7,1545.0 454.7,1544.9 451.7,1544.8 449.7,1544.8 446.7,1544.7 444.7,1544.7ZM709.2,1577.8 712.2,1577.8 714.2,1577.7 717.2,1577.7 719.2,1577.7 722.2,1577.6 724.2,1577.6 727.2,1577.5 729.2,1577.5 732.2,1577.4 734.2,1577.3 737.2,1577.2 739.2,1577.2 742.2,1577.0 744.2,1577.0 747.2,1576.8 749.2,1576.7 752.2,1576.6 754.2,1576.5 757.2,1576.3 759.2,1576.2 762.2,1576.0 764.2,1575.9 767.2,1575.7 769.2,1575.5 772.2,1575.3 774.2,1575.2 777.2,1574.9 779.2,1574.8 782.2,1574.5 784.2,1574.3 787.2,1574.0 789.2,1573.8 792.1,1573.5 794.1,1573.3 797.1,1572.9 799.1,1572.7 802.0,1572.3 804.0,1572.0 807.0,1571.5 808.9,1571.2 811.9,1570.7 813.8,1570.4 816.8,1569.8 818.7,1569.4 821.6,1568.7 823.5,1568.3 826.4,1567.6 828.3,1567.0 831.2,1566.2 833.1,1565.7 835.9,1564.8 837.8,1564.1 840.6,1563.2 842.5,1562.5 845.2,1561.4 847.1,1560.6 849.8,1559.5 851.6,1558.6 854.3,1557.4 856.0,1556.5 858.6,1555.1 860.4,1554.2 862.9,1552.7 864.6,1551.6 867.1,1550.1 868.7,1549.0 871.1,1547.3 872.7,1546.1 875.0,1544.3 876.5,1543.1 878.8,1541.1 880.2,1539.8 882.3,1537.8 883.7,1536.4 885.8,1534.3 887.1,1532.9 889.0,1530.7 890.3,1529.1 892.1,1526.8 893.3,1525.3 895.1,1522.9 896.2,1521.3 897.8,1518.8 898.9,1517.2 900.5,1514.7 901.5,1513.0 903.0,1510.4 904.0,1508.7 905.5,1506.1 906.4,1504.3 907.8,1501.6 908.6,1499.9 909.9,1497.2 910.8,1495.4 912.0,1492.7 912.9,1490.8 914.0,1488.1 914.8,1486.3 916.0,1483.5 916.7,1481.6 917.8,1478.9 918.5,1477.0 919.5,1474.2 920.2,1472.3 921.2,1469.5 921.9,1467.6 922.8,1464.8 923.4,1462.9 924.4,1460.0 925.0,1458.1 925.8,1455.2 926.4,1453.3 927.3,1450.5 927.8,1448.5 928.7,1445.7 929.2,1443.7 930.0,1440.8 930.5,1438.9 931.3,1436.0 931.8,1434.1 932.6,1431.2 933.1,1429.2 933.8,1426.3 934.3,1424.4 935.1,1421.5 935.5,1419.5 936.3,1416.6 936.7,1414.7 937.4,1411.8 937.9,1409.8 938.6,1406.9 939.0,1405.0 939.7,1402.0 940.2,1400.1 940.8,1397.2 941.3,1395.2 941.9,1392.3 942.3,1390.3 943.0,1387.4 943.4,1385.4 944.0,1382.5 944.4,1380.5 945.1,1377.6 945.5,1375.6 946.1,1372.7 946.5,1370.7 947.1,1367.8 947.5,1365.8 948.0,1362.9 948.4,1360.9 949.0,1358.0 949.4,1356.0 949.9,1353.1 950.3,1351.1 950.9,1348.2 951.2,1346.2 951.8,1343.3 952.1,1341.3 952.7,1338.3 953.0,1336.4 953.6,1333.4 953.9,1331.5 954.4,1328.5 954.8,1326.5 955.3,1323.6 955.7,1321.6 956.2,1318.6 956.5,1316.7 957.0,1313.7 957.4,1311.8 957.9,1308.8 958.2,1306.8 958.7,1303.9 959.1,1301.9 959.6,1298.9 959.9,1297.0 960.4,1294.0 960.8,1292.0 961.3,1289.1 961.6,1287.1 962.1,1284.1 962.5,1282.2 963.0,1279.2 963.3,1277.2 963.8,1274.3 964.2,1272.3 964.7,1269.4 965.0,1267.4 965.5,1264.4 965.8,1262.4 966.3,1259.5 966.7,1257.5 967.2,1254.6 967.5,1252.6 968.0,1249.6 968.3,1247.6 968.8,1244.7 969.1,1242.7 969.5,1239.7 969.8,1237.8 970.3,1234.8 970.6,1232.8 971.0,1229.9 971.3,1227.9 971.7,1224.9 972.0,1222.9 972.4,1220.0 972.6,1218.0 973.0,1215.0 973.3,1213.0 973.6,1210.0 973.9,1208.1 974.2,1205.1 974.4,1203.1 974.7,1200.1 974.9,1198.1 975.2,1195.1 975.4,1193.2 975.7,1190.2 975.9,1188.2 976.2,1185.2 976.4,1183.2 976.6,1180.2 976.8,1178.2 977.1,1175.2 977.3,1173.2 977.5,1170.3 977.7,1168.3 978.0,1165.3 978.1,1163.3 978.4,1160.3 978.6,1158.3 978.8,1155.3 979.0,1153.3 979.3,1150.3 979.5,1148.3 979.7,1145.4 979.9,1143.4 980.2,1140.4 980.4,1138.4 980.7,1135.4 980.9,1133.4 981.2,1130.4 981.4,1128.4 981.7,1125.4 981.9,1123.5 982.2,1120.5 982.4,1118.5 982.7,1115.5 982.9,1113.5 983.2,1110.5 983.4,1108.5 983.7,1105.6 984.0,1103.6 984.3,1100.6 984.5,1098.6 984.8,1095.6 985.0,1093.6 985.4,1090.6 985.6,1088.7 985.9,1085.7 986.1,1083.7 986.5,1080.7 986.7,1078.7 987.0,1075.7 987.2,1073.7 987.6,1070.8 987.8,1068.8 988.1,1065.8 988.4,1063.8 988.7,1060.8 988.9,1058.8 989.3,1055.9 989.5,1053.9 989.8,1050.9 990.1,1048.9 990.4,1045.9 990.6,1043.9 991.0,1041.0 991.2,1039.0 991.5,1036.0 991.8,1034.0 992.1,1031.0 992.3,1029.0 992.7,1026.1 992.9,1024.1 993.2,1021.1 993.5,1019.1 993.8,1016.1 994.0,1014.1 994.4,1011.1 994.6,1009.2 994.9,1006.2 995.2,1004.2 995.5,1001.2 995.7,999.2 996.1,996.2 996.3,994.3 996.6,991.3 996.9,989.3 997.2,986.3 997.4,984.3 997.8,981.3 998.0,979.4 998.3,976.4 998.6,974.4 998.9,971.4 999.1,969.4 999.5,966.4 999.7,964.5 1000.1,961.5 1000.3,959.5 1000.6,956.5 1000.9,954.5 1001.2,951.5 1001.4,949.5 1001.8,946.6 1002.0,944.6 1002.4,941.6 1002.6,939.6 1002.9,936.6 1003.2,934.6 1003.5,931.7 1003.7,929.7 1004.1,926.7 1004.3,924.7 1004.6,921.7 1004.9,919.7 1005.2,916.8 1005.4,914.8 1005.8,911.8 1006.0,909.8 1006.3,906.8 1006.6,904.8 1006.9,901.9 1007.1,899.9 1007.4,896.9 1007.7,894.9 1008.0,891.9 1008.2,889.9 1008.5,887.0 1008.8,885.0 1009.1,882.0 1009.3,880.0 1009.6,877.0 1009.9,875.0 1010.2,872.0 1010.4,870.1 1010.7,867.1 1010.9,865.1 1011.3,862.1 1011.5,860.1 1011.8,857.1 1012.0,855.1 1012.3,852.2 1012.5,850.2 1012.8,847.2 1013.1,845.2 1013.4,842.2 1013.6,840.2 1013.9,837.2 1014.1,835.3 1014.4,832.3 1014.6,830.3 1014.9,827.3 1015.1,825.3 1015.5,822.3 1015.7,820.3 1016.0,817.3 1016.2,815.4 1016.5,812.4 1016.7,810.4 1017.0,807.4 1017.2,805.4 1017.5,802.4 1017.7,800.4 1018.1,797.5 1018.3,795.5 1018.6,792.5 1018.8,790.5 1019.1,787.5 1019.3,785.5 1019.6,782.5 1019.8,780.5 1020.1,777.6 1020.3,775.6 1020.7,772.6 1020.9,770.6 1021.2,767.6 1021.4,765.6 1021.7,762.6 1021.9,760.7 1022.2,757.7 1022.4,755.7 1022.7,752.7 1022.9,750.7 1023.2,747.7 1023.5,745.7 1023.8,742.8 1024.0,740.8 1024.3,737.8 1024.5,735.8 1024.8,732.8 1025.0,730.8 1025.3,727.8 1025.5,725.8 1025.8,722.9 1026.0,720.9 1026.3,717.9 1026.6,715.9 1026.9,712.9 1027.1,710.9 1027.4,707.9 1027.6,705.9 1027.9,703.0 1028.1,701.0 1028.4,698.0 1028.6,696.0 1029.0,693.0 1029.2,691.0 1029.5,688.0 1029.7,686.1 1030.0,683.1 1030.3,681.1 1030.6,678.1 1030.8,676.1 1031.1,673.1 1031.4,671.2 1031.7,668.2 1031.9,666.2 1032.3,663.2 1032.5,661.2 1032.8,658.2 1033.1,656.3 1033.4,653.3 1033.7,651.3 1034.0,648.3 1034.3,646.3 1034.6,643.3 1034.9,641.4 1035.2,638.4 1035.5,636.4 1035.9,633.4 1036.1,631.4 1036.5,628.5 1036.7,626.5 1037.1,623.5 1037.4,621.5 1037.8,618.5 1038.0,616.6 1038.4,613.6 1038.7,611.6 1039.1,608.6 1039.3,606.6 1039.7,603.7 1040.0,601.7 1040.4,598.7 1040.7,596.7 1041.1,593.8 1041.3,591.8 1041.8,588.8 1042.0,586.8 1042.4,583.9 1042.7,581.9 1043.1,578.9 1043.4,576.9 1043.8,574.0 1044.1,572.0 1044.6,569.0 1044.8,567.0 1045.3,564.1 1045.6,562.1 1046.0,559.1 1046.3,557.1 1046.7,554.2 1047.0,552.2 1047.4,549.2 1047.7,547.2 1048.2,544.3 1048.5,542.3 1048.9,539.3 1049.2,537.3 1049.7,534.4 1050.0,532.4 1050.4,529.4 1050.7,527.5 1051.2,524.5 1051.5,522.5 1052.0,519.6 1052.3,517.6 1052.7,514.6 1053.1,512.6 1053.5,509.7 1053.8,507.7 1054.3,504.7 1054.6,502.8 1055.1,499.8 1055.4,497.8 1055.9,494.9 1056.3,492.9 1056.7,489.9 1057.1,488.0 1057.6,485.0 1057.9,483.0 1058.4,480.1 1058.7,478.1 1059.2,475.1 1059.5,473.2 1060.0,470.2 1060.3,468.2 1060.8,465.3 1061.1,463.3 1061.6,460.3 1061.9,458.4 1062.4,455.4 1062.7,453.4 1063.2,450.5 1063.5,448.5 1064.0,445.5 1064.3,443.6 1064.8,440.6 1065.1,438.6 1065.5,435.6 1065.8,433.7 1066.3,430.7 1066.6,428.7 1067.1,425.8 1067.4,423.8 1067.9,420.8 1068.2,418.9 1068.7,415.9 1069.0,413.9 1069.5,411.0 1069.8,409.0 1070.3,406.0 1070.6,404.1 1071.1,401.1 1071.5,399.1 1072.0,396.2 1072.3,394.2 1072.9,391.3 1073.2,389.3 1073.8,386.3 1074.2,384.4 1074.8,381.4 1075.2,379.5 1075.8,376.6 1076.2,374.6 1076.8,371.7 1077.3,369.7 1077.9,366.8 1078.4,364.9 1079.1,362.0 1079.6,360.1 1080.3,357.2 1080.8,355.3 1081.6,352.4 1082.2,350.5 1083.0,347.6 1083.6,345.7 1084.5,342.9 1085.1,341.0 1086.0,338.2 1086.7,336.4 1087.7,333.5 1088.5,331.7 1089.6,328.9 1090.5,327.0 1091.8,324.3 1092.7,322.6 1094.3,320.0 1095.4,318.2 1097.3,315.6 1098.7,314.1 1101.0,312.6 1103.0,312.0 1111.4,312.0 1109.4,312.6 1107.1,314.1 1105.7,315.6 1103.8,318.2 1102.7,320.0 1101.1,322.6 1100.2,324.3 1098.9,327.0 1098.0,328.9 1096.9,331.7 1096.1,333.5 1095.1,336.4 1094.4,338.2 1093.5,341.0 1092.9,342.9 1092.0,345.7 1091.4,347.6 1090.6,350.5 1090.0,352.4 1089.2,355.3 1088.7,357.2 1088.0,360.1 1087.5,362.0 1086.8,364.9 1086.3,366.8 1085.7,369.7 1085.2,371.7 1084.6,374.6 1084.2,376.6 1083.6,379.5 1083.2,381.4 1082.6,384.4 1082.2,386.3 1081.6,389.3 1081.3,391.3 1080.7,394.2 1080.4,396.2 1079.9,399.1 1079.5,401.1 1079.0,404.1 1078.7,406.0 1078.2,409.0 1077.9,411.0 1077.4,413.9 1077.1,415.9 1076.6,418.9 1076.3,420.8 1075.8,423.8 1075.5,425.8 1075.0,428.7 1074.7,430.7 1074.2,433.7 1073.9,435.6 1073.5,438.6 1073.2,440.6 1072.7,443.6 1072.4,445.5 1071.9,448.5 1071.6,450.5 1071.1,453.4 1070.8,455.4 1070.3,458.4 1070.0,460.3 1069.5,463.3 1069.2,465.3 1068.7,468.2 1068.4,470.2 1067.9,473.2 1067.6,475.1 1067.1,478.1 1066.8,480.1 1066.3,483.0 1066.0,485.0 1065.5,488.0 1065.1,489.9 1064.7,492.9 1064.3,494.9 1063.8,497.8 1063.5,499.8 1063.0,502.8 1062.7,504.7 1062.2,507.7 1061.9,509.7 1061.5,512.6 1061.1,514.6 1060.7,517.6 1060.4,519.6 1059.9,522.5 1059.6,524.5 1059.1,527.5 1058.8,529.4 1058.4,532.4 1058.1,534.4 1057.6,537.3 1057.3,539.3 1056.9,542.3 1056.6,544.3 1056.1,547.2 1055.8,549.2 1055.4,552.2 1055.1,554.2 1054.7,557.1 1054.4,559.1 1054.0,562.1 1053.7,564.1 1053.2,567.0 1053.0,569.0 1052.5,572.0 1052.2,574.0 1051.8,576.9 1051.5,578.9 1051.1,581.9 1050.8,583.9 1050.4,586.8 1050.2,588.8 1049.7,591.8 1049.5,593.8 1049.1,596.7 1048.8,598.7 1048.4,601.7 1048.1,603.7 1047.7,606.6 1047.5,608.6 1047.1,611.6 1046.8,613.6 1046.4,616.6 1046.2,618.5 1045.8,621.5 1045.5,623.5 1045.1,626.5 1044.9,628.5 1044.5,631.4 1044.3,633.4 1043.9,636.4 1043.6,638.4 1043.3,641.4 1043.0,643.3 1042.7,646.3 1042.4,648.3 1042.1,651.3 1041.8,653.3 1041.5,656.3 1041.2,658.2 1040.9,661.2 1040.7,663.2 1040.3,666.2 1040.1,668.2 1039.8,671.2 1039.5,673.1 1039.2,676.1 1039.0,678.1 1038.7,681.1 1038.4,683.1 1038.1,686.1 1037.9,688.0 1037.6,691.0 1037.4,693.0 1037.0,696.0 1036.8,698.0 1036.5,701.0 1036.3,703.0 1036.0,705.9 1035.8,707.9 1035.5,710.9 1035.3,712.9 1035.0,715.9 1034.7,717.9 1034.4,720.9 1034.2,722.9 1033.9,725.8 1033.7,727.8 1033.4,730.8 1033.2,732.8 1032.9,735.8 1032.7,737.8 1032.4,740.8 1032.2,742.8 1031.9,745.7 1031.6,747.7 1031.3,750.7 1031.1,752.7 1030.8,755.7 1030.6,757.7 1030.3,760.7 1030.1,762.6 1029.8,765.6 1029.6,767.6 1029.3,770.6 1029.1,772.6 1028.7,775.6 1028.5,777.6 1028.2,780.5 1028.0,782.5 1027.7,785.5 1027.5,787.5 1027.2,790.5 1027.0,792.5 1026.7,795.5 1026.5,797.5 1026.1,800.4 1025.9,802.4 1025.6,805.4 1025.4,807.4 1025.1,810.4 1024.9,812.4 1024.6,815.4 1024.4,817.3 1024.1,820.3 1023.9,822.3 1023.5,825.3 1023.3,827.3 1023.0,830.3 1022.8,832.3 1022.5,835.3 1022.3,837.2 1022.0,840.2 1021.8,842.2 1021.5,845.2 1021.2,847.2 1020.9,850.2 1020.7,852.2 1020.4,855.1 1020.2,857.1 1019.9,860.1 1019.7,862.1 1019.3,865.1 1019.1,867.1 1018.8,870.1 1018.6,872.0 1018.3,875.0 1018.0,877.0 1017.7,880.0 1017.5,882.0 1017.2,885.0 1016.9,887.0 1016.6,889.9 1016.4,891.9 1016.1,894.9 1015.8,896.9 1015.5,899.9 1015.3,901.9 1015.0,904.8 1014.7,906.8 1014.4,909.8 1014.2,911.8 1013.8,914.8 1013.6,916.8 1013.3,919.7 1013.0,921.7 1012.7,924.7 1012.5,926.7 1012.1,929.7 1011.9,931.7 1011.6,934.6 1011.3,936.6 1011.0,939.6 1010.8,941.6 1010.4,944.6 1010.2,946.6 1009.8,949.5 1009.6,951.5 1009.3,954.5 1009.0,956.5 1008.7,959.5 1008.5,961.5 1008.1,964.5 1007.9,966.4 1007.5,969.4 1007.3,971.4 1007.0,974.4 1006.7,976.4 1006.4,979.4 1006.2,981.3 1005.8,984.3 1005.6,986.3 1005.3,989.3 1005.0,991.3 1004.7,994.3 1004.5,996.2 1004.1,999.2 1003.9,1001.2 1003.6,1004.2 1003.3,1006.2 1003.0,1009.2 1002.8,1011.1 1002.4,1014.1 1002.2,1016.1 1001.9,1019.1 1001.6,1021.1 1001.3,1024.1 1001.1,1026.1 1000.7,1029.0 1000.5,1031.0 1000.2,1034.0 999.9,1036.0 999.6,1039.0 999.4,1041.0 999.0,1043.9 998.8,1045.9 998.5,1048.9 998.2,1050.9 997.9,1053.9 997.7,1055.9 997.3,1058.8 997.1,1060.8 996.8,1063.8 996.5,1065.8 996.2,1068.8 996.0,1070.8 995.6,1073.7 995.4,1075.7 995.1,1078.7 994.9,1080.7 994.5,1083.7 994.3,1085.7 994.0,1088.7 993.8,1090.6 993.4,1093.6 993.2,1095.6 992.9,1098.6 992.7,1100.6 992.4,1103.6 992.1,1105.6 991.8,1108.5 991.6,1110.5 991.3,1113.5 991.1,1115.5 990.8,1118.5 990.6,1120.5 990.3,1123.5 990.1,1125.4 989.8,1128.4 989.6,1130.4 989.3,1133.4 989.1,1135.4 988.8,1138.4 988.6,1140.4 988.3,1143.4 988.1,1145.4 987.9,1148.3 987.7,1150.3 987.4,1153.3 987.2,1155.3 987.0,1158.3 986.8,1160.3 986.5,1163.3 986.4,1165.3 986.1,1168.3 985.9,1170.3 985.7,1173.2 985.5,1175.2 985.2,1178.2 985.0,1180.2 984.8,1183.2 984.6,1185.2 984.3,1188.2 984.1,1190.2 983.8,1193.2 983.6,1195.1 983.3,1198.1 983.1,1200.1 982.8,1203.1 982.6,1205.1 982.3,1208.1 982.0,1210.0 981.7,1213.0 981.4,1215.0 981.0,1218.0 980.8,1220.0 980.4,1222.9 980.1,1224.9 979.7,1227.9 979.4,1229.9 979.0,1232.8 978.7,1234.8 978.2,1237.8 977.9,1239.7 977.5,1242.7 977.2,1244.7 976.7,1247.6 976.4,1249.6 975.9,1252.6 975.6,1254.6 975.1,1257.5 974.7,1259.5 974.2,1262.4 973.9,1264.4 973.4,1267.4 973.1,1269.4 972.6,1272.3 972.2,1274.3 971.7,1277.2 971.4,1279.2 970.9,1282.2 970.5,1284.1 970.0,1287.1 969.7,1289.1 969.2,1292.0 968.8,1294.0 968.3,1297.0 968.0,1298.9 967.5,1301.9 967.1,1303.9 966.6,1306.8 966.3,1308.8 965.8,1311.8 965.4,1313.7 964.9,1316.7 964.6,1318.6 964.1,1321.6 963.7,1323.6 963.2,1326.5 962.8,1328.5 962.3,1331.5 962.0,1333.4 961.4,1336.4 961.1,1338.3 960.5,1341.3 960.2,1343.3 959.6,1346.2 959.3,1348.2 958.7,1351.1 958.3,1353.1 957.8,1356.0 957.4,1358.0 956.8,1360.9 956.4,1362.9 955.9,1365.8 955.5,1367.8 954.9,1370.7 954.5,1372.7 953.9,1375.6 953.5,1377.6 952.8,1380.5 952.4,1382.5 951.8,1385.4 951.4,1387.4 950.7,1390.3 950.3,1392.3 949.7,1395.2 949.2,1397.2 948.6,1400.1 948.1,1402.0 947.4,1405.0 947.0,1406.9 946.3,1409.8 945.8,1411.8 945.1,1414.7 944.7,1416.6 943.9,1419.5 943.5,1421.5 942.7,1424.4 942.2,1426.3 941.5,1429.2 941.0,1431.2 940.2,1434.1 939.7,1436.0 938.9,1438.9 938.4,1440.8 937.6,1443.7 937.1,1445.7 936.2,1448.5 935.7,1450.5 934.8,1453.3 934.2,1455.2 933.4,1458.1 932.8,1460.0 931.8,1462.9 931.2,1464.8 930.3,1467.6 929.6,1469.5 928.6,1472.3 927.9,1474.2 926.9,1477.0 926.2,1478.9 925.1,1481.6 924.4,1483.5 923.2,1486.3 922.4,1488.1 921.3,1490.8 920.4,1492.7 919.2,1495.4 918.3,1497.2 917.0,1499.9 916.2,1501.6 914.8,1504.3 913.9,1506.1 912.4,1508.7 911.4,1510.4 909.9,1513.0 908.9,1514.7 907.3,1517.2 906.2,1518.8 904.6,1521.3 903.5,1522.9 901.7,1525.3 900.5,1526.8 898.7,1529.1 897.4,1530.7 895.5,1532.9 894.2,1534.3 892.1,1536.4 890.7,1537.8 888.6,1539.8 887.2,1541.1 884.9,1543.1 883.4,1544.3 881.1,1546.1 879.5,1547.3 877.1,1549.0 875.5,1550.1 873.0,1551.6 871.3,1552.7 868.8,1554.2 867.0,1555.1 864.4,1556.5 862.7,1557.4 860.0,1558.6 858.2,1559.5 855.5,1560.6 853.6,1561.4 850.9,1562.5 849.0,1563.2 846.2,1564.1 844.3,1564.8 841.5,1565.7 839.6,1566.2 836.7,1567.0 834.8,1567.6 831.9,1568.3 830.0,1568.7 827.1,1569.4 825.2,1569.8 822.2,1570.4 820.3,1570.7 817.3,1571.2 815.4,1571.5 812.4,1572.0 810.4,1572.3 807.5,1572.7 805.5,1572.9 802.5,1573.3 800.5,1573.5 797.6,1573.8 795.6,1574.0 792.6,1574.3 790.6,1574.5 787.6,1574.8 785.6,1574.9 782.6,1575.2 780.6,1575.3 777.6,1575.5 775.6,1575.7 772.6,1575.9 770.6,1576.0 767.6,1576.2 765.6,1576.3 762.6,1576.5 760.6,1576.6 757.6,1576.7 755.6,1576.8 752.6,1577.0 750.6,1577.0 747.6,1577.2 745.6,1577.2 742.6,1577.3 740.6,1577.4 737.6,1577.5 735.6,1577.5 732.6,1577.6 730.6,1577.6 727.6,1577.7 725.6,1577.7 722.6,1577.7 720.6,1577.8 717.6,1577.8ZM1111.4,312.0 1114.3,312.2 1116.2,313.2 1118.2,315.0 1119.4,316.5 1120.9,319.3 1121.8,321.2 1123.1,324.1 1123.8,326.0 1124.9,328.8 1125.5,330.7 1126.4,333.6 1126.9,335.5 1127.7,338.4 1128.3,340.3 1129.0,343.2 1129.5,345.1 1130.3,348.0 1130.8,349.9 1131.5,352.8 1132.0,354.7 1132.7,357.6 1133.1,359.5 1133.8,362.4 1134.2,364.4 1134.9,367.3 1135.3,369.2 1135.9,372.2 1136.4,374.1 1137.0,377.0 1137.4,379.0 1137.9,381.9 1138.3,383.9 1138.9,386.8 1139.3,388.8 1139.8,391.8 1140.2,393.7 1140.8,396.7 1141.1,398.6 1141.7,401.6 1142.0,403.6 1142.5,406.5 1142.9,408.5 1143.4,411.4 1143.8,413.4 1144.3,416.4 1144.6,418.3 1145.1,421.3 1145.5,423.3 1146.0,426.2 1146.3,428.2 1146.9,431.1 1147.2,433.1 1147.7,436.1 1148.1,438.0 1148.6,441.0 1148.9,443.0 1149.4,445.9 1149.7,447.9 1150.2,450.8 1150.6,452.8 1151.1,455.8 1151.4,457.8 1151.9,460.7 1152.2,462.7 1152.7,465.6 1153.0,467.6 1153.5,470.6 1153.8,472.6 1154.3,475.5 1154.6,477.5 1155.0,480.5 1155.3,482.4 1155.8,485.4 1156.1,487.4 1156.5,490.3 1156.8,492.3 1157.3,495.3 1157.6,497.3 1158.0,500.2 1158.3,502.2 1158.7,505.2 1159.0,507.2 1159.4,510.1 1159.7,512.1 1160.1,515.1 1160.4,517.1 1160.8,520.0 1161.1,522.0 1161.5,525.0 1161.7,527.0 1162.1,530.0 1162.4,531.9 1162.8,534.9 1163.0,536.9 1163.4,539.9 1163.7,541.9 1164.1,544.8 1164.3,546.8 1164.7,549.8 1164.9,551.8 1165.3,554.7 1165.6,556.7 1165.9,559.7 1166.2,561.7 1166.6,564.7 1166.8,566.7 1167.2,569.6 1167.4,571.6 1167.8,574.6 1168.0,576.6 1168.4,579.6 1168.6,581.5 1169.0,584.5 1169.2,586.5 1169.6,589.5 1169.8,591.5 1170.1,594.5 1170.4,596.4 1170.7,599.4 1171.0,601.4 1171.3,604.4 1171.5,606.4 1171.9,609.4 1172.1,611.3 1172.5,614.3 1172.7,616.3 1173.0,619.3 1173.3,621.3 1173.6,624.3 1173.8,626.2 1174.2,629.2 1174.4,631.2 1174.7,634.2 1175.0,636.2 1175.3,639.2 1175.5,641.1 1175.9,644.1 1176.1,646.1 1176.4,649.1 1176.7,651.1 1177.0,654.1 1177.2,656.0 1177.6,659.0 1177.8,661.0 1178.2,664.0 1178.4,666.0 1178.8,669.0 1179.0,670.9 1179.3,673.9 1179.6,675.9 1179.9,678.9 1180.2,680.9 1180.5,683.9 1180.8,685.8 1181.2,688.8 1181.4,690.8 1181.8,693.8 1182.0,695.8 1182.4,698.7 1182.6,700.7 1183.0,703.7 1183.3,705.7 1183.7,708.7 1183.9,710.6 1184.3,713.6 1184.5,715.6 1184.9,718.6 1185.2,720.6 1185.6,723.5 1185.8,725.5 1186.2,728.5 1186.5,730.5 1186.9,733.4 1187.1,735.4 1187.5,738.4 1187.8,740.4 1188.2,743.4 1188.4,745.3 1188.8,748.3 1189.1,750.3 1189.5,753.3 1189.7,755.3 1190.1,758.2 1190.4,760.2 1190.8,763.2 1191.0,765.2 1191.4,768.2 1191.7,770.1 1192.0,773.1 1192.3,775.1 1192.7,778.1 1192.9,780.1 1193.3,783.0 1193.5,785.0 1193.9,788.0 1194.1,790.0 1194.5,793.0 1194.7,794.9 1195.1,797.9 1195.3,799.9 1195.7,802.9 1195.9,804.9 1196.2,807.9 1196.5,809.8 1196.8,812.8 1197.0,814.8 1197.4,817.8 1197.6,819.8 1198.0,822.8 1198.2,824.7 1198.5,827.7 1198.8,829.7 1199.1,832.7 1199.4,834.7 1199.7,837.7 1199.9,839.6 1200.3,842.6 1200.6,844.6 1200.9,847.6 1201.2,849.6 1201.6,852.5 1201.8,854.5 1202.2,857.5 1202.5,859.5 1202.9,862.4 1203.2,864.4 1203.6,867.4 1203.9,869.4 1204.3,872.3 1204.6,874.3 1205.0,877.3 1205.3,879.3 1205.8,882.2 1206.1,884.2 1206.5,887.2 1206.8,889.2 1207.3,892.1 1207.6,894.1 1208.0,897.1 1208.3,899.0 1208.8,902.0 1209.1,904.0 1209.6,907.0 1209.9,908.9 1210.3,911.9 1210.7,913.9 1211.1,916.8 1211.5,918.8 1211.9,921.8 1212.3,923.7 1212.7,926.7 1213.1,928.7 1213.6,931.6 1213.9,933.6 1214.4,936.6 1214.7,938.5 1215.2,941.5 1215.6,943.5 1216.1,946.4 1216.5,948.4 1217.0,951.3 1217.3,953.3 1217.9,956.3 1218.2,958.2 1218.8,961.2 1219.1,963.1 1219.7,966.1 1220.0,968.1 1220.6,971.0 1220.9,973.0 1221.5,975.9 1221.9,977.9 1222.4,980.8 1222.8,982.8 1223.3,985.7 1223.7,987.7 1224.3,990.7 1224.7,992.6 1225.2,995.6 1225.6,997.5 1226.2,1000.5 1226.5,1002.4 1227.1,1005.4 1227.5,1007.4 1228.0,1010.3 1228.4,1012.3 1229.0,1015.2 1229.4,1017.2 1229.9,1020.1 1230.3,1022.1 1230.9,1025.0 1231.2,1027.0 1231.8,1029.9 1232.2,1031.9 1232.7,1034.9 1233.1,1036.8 1233.7,1039.8 1234.1,1041.7 1234.6,1044.7 1235.0,1046.6 1235.6,1049.6 1236.0,1051.5 1236.5,1054.5 1236.9,1056.5 1237.5,1059.4 1237.9,1061.4 1238.5,1064.3 1238.8,1066.3 1239.4,1069.2 1239.8,1071.2 1240.4,1074.1 1240.8,1076.1 1241.4,1079.0 1241.8,1081.0 1242.4,1083.9 1242.8,1085.9 1243.4,1088.8 1243.8,1090.8 1244.4,1093.7 1244.8,1095.7 1245.5,1098.6 1245.9,1100.6 1246.5,1103.5 1246.9,1105.4 1247.6,1108.4 1248.0,1110.3 1248.7,1113.3 1249.1,1115.2 1249.8,1118.1 1250.2,1120.1 1250.9,1123.0 1251.3,1125.0 1252.0,1127.9 1252.5,1129.8 1253.2,1132.7 1253.6,1134.7 1254.3,1137.6 1254.8,1139.5 1255.5,1142.5 1256.0,1144.4 1256.7,1147.3 1257.2,1149.2 1258.0,1152.2 1258.5,1154.1 1259.2,1157.0 1259.7,1158.9 1260.5,1161.8 1261.0,1163.8 1261.8,1166.7 1262.3,1168.6 1263.1,1171.5 1263.6,1173.4 1264.5,1176.3 1265.0,1178.2 1265.8,1181.1 1266.4,1183.0 1267.2,1185.9 1267.8,1187.8 1268.6,1190.7 1269.2,1192.6 1270.1,1195.5 1270.7,1197.4 1271.5,1200.3 1272.1,1202.2 1273.0,1205.0 1273.6,1206.9 1274.5,1209.8 1275.2,1211.7 1276.1,1214.6 1276.7,1216.5 1277.7,1219.3 1278.3,1221.2 1279.3,1224.0 1279.9,1225.9 1280.9,1228.8 1281.6,1230.6 1282.6,1233.5 1283.2,1235.3 1284.3,1238.2 1285.0,1240.0 1286.0,1242.8 1286.8,1244.7 1287.8,1247.5 1288.6,1249.3 1289.7,1252.1 1290.5,1254.0 1291.6,1256.8 1292.4,1258.6 1293.5,1261.4 1294.3,1263.2 1295.5,1265.9 1296.4,1267.8 1297.6,1270.5 1298.4,1272.3 1299.7,1275.0 1300.5,1276.9 1301.8,1279.6 1302.6,1281.4 1303.9,1284.1 1304.8,1285.9 1306.1,1288.6 1307.0,1290.4 1308.4,1293.1 1309.3,1294.9 1310.6,1297.5 1311.6,1299.3 1312.9,1302.0 1313.9,1303.7 1315.3,1306.4 1316.3,1308.1 1317.7,1310.7 1318.7,1312.5 1320.2,1315.1 1321.2,1316.8 1322.7,1319.4 1323.7,1321.1 1325.3,1323.7 1326.3,1325.4 1327.9,1327.9 1329.0,1329.6 1330.6,1332.1 1331.7,1333.8 1333.4,1336.3 1334.5,1337.9 1336.2,1340.4 1337.4,1342.0 1339.1,1344.4 1340.3,1346.0 1342.1,1348.4 1343.3,1350.0 1345.1,1352.4 1346.4,1353.9 1348.2,1356.3 1349.5,1357.8 1351.4,1360.1 1352.7,1361.6 1354.6,1363.9 1356.0,1365.4 1358.0,1367.6 1359.3,1369.1 1361.3,1371.3 1362.7,1372.7 1364.8,1374.9 1366.2,1376.3 1368.3,1378.5 1369.7,1379.9 1371.8,1382.0 1373.3,1383.3 1375.5,1385.4 1376.9,1386.8 1379.1,1388.8 1380.6,1390.1 1382.8,1392.1 1384.3,1393.5 1386.6,1395.4 1388.1,1396.7 1390.4,1398.7 1391.9,1400.0 1394.2,1401.9 1395.8,1403.2 1398.1,1405.1 1399.7,1406.3 1402.0,1408.2 1403.6,1409.4 1406.0,1411.2 1407.6,1412.4 1410.0,1414.2 1411.6,1415.4 1414.0,1417.2 1415.6,1418.3 1418.1,1420.0 1419.7,1421.2 1422.2,1422.9 1423.8,1424.0 1426.3,1425.6 1428.0,1426.7 1430.5,1428.4 1432.2,1429.4 1434.7,1431.0 1436.4,1432.0 1439.0,1433.6 1440.7,1434.6 1443.3,1436.1 1445.0,1437.1 1447.6,1438.6 1449.4,1439.6 1452.0,1441.0 1453.8,1442.0 1456.4,1443.4 1458.2,1444.4 1460.8,1445.8 1462.6,1446.7 1465.3,1448.0 1467.1,1448.9 1469.7,1450.3 1471.5,1451.2 1474.2,1452.5 1476.0,1453.3 1478.8,1454.6 1480.6,1455.4 1483.3,1456.7 1485.1,1457.5 1487.9,1458.7 1489.7,1459.5 1492.5,1460.6 1494.3,1461.4 1497.1,1462.5 1498.9,1463.3 1501.7,1464.4 1503.6,1465.1 1506.4,1466.2 1508.2,1466.9 1511.0,1467.9 1512.9,1468.6 1515.7,1469.6 1517.6,1470.3 1520.5,1471.2 1522.3,1471.9 1525.2,1472.8 1527.1,1473.4 1529.9,1474.3 1531.9,1474.9 1534.7,1475.8 1536.7,1476.3 1539.5,1477.2 1541.5,1477.7 1544.4,1478.5 1546.3,1479.0 1549.2,1479.8 1551.1,1480.4 1554.0,1481.2 1555.9,1481.7 1558.8,1482.5 1560.7,1483.1 1563.6,1483.9 1565.5,1484.5 1568.4,1485.4 1570.3,1486.0 1573.2,1486.8 1575.1,1487.4 1578.0,1488.3 1579.9,1488.9 1582.8,1489.7 1584.7,1490.3 1587.5,1491.2 1589.5,1491.8 1592.3,1492.7 1594.2,1493.2 1597.1,1494.1 1599.0,1494.7 1601.9,1495.5 1603.8,1496.1 1606.7,1496.9 1608.6,1497.5 1611.5,1498.3 1613.4,1498.9 1616.3,1499.7 1618.2,1500.3 1621.1,1501.1 1623.0,1501.7 1625.9,1502.5 1627.8,1503.1 1630.7,1503.9 1632.7,1504.4 1635.6,1505.2 1637.5,1505.8 1640.4,1506.6 1642.3,1507.1 1645.2,1507.8 1647.2,1508.3 1650.1,1509.0 1652.0,1509.5 1654.9,1510.2 1656.9,1510.6 1659.8,1511.3 1661.7,1511.7 1664.7,1512.3 1666.6,1512.7 1669.6,1513.3 1671.5,1513.7 1674.5,1514.3 1676.4,1514.7 1679.4,1515.3 1681.4,1515.7 1684.3,1516.2 1686.3,1516.6 1689.2,1517.1 1691.2,1517.5 1694.2,1518.0 1696.1,1518.3 1699.1,1518.8 1701.1,1519.2 1704.0,1519.7 1706.0,1520.0 1708.9,1520.5 1710.9,1520.8 1713.9,1521.2 1715.9,1521.5 1718.8,1522.0 1720.8,1522.3 1723.8,1522.7 1725.7,1523.0 1728.7,1523.4 1730.7,1523.7 1733.7,1524.1 1735.6,1524.4 1738.6,1524.8 1740.6,1525.1 1743.6,1525.5 1745.5,1525.7 1748.5,1526.1 1750.5,1526.4 1753.5,1526.8 1755.5,1527.0 1758.4,1527.4 1760.4,1527.7 1763.4,1528.1 1765.4,1528.3 1768.4,1528.7 1770.4,1529.0 1773.3,1529.3 1775.3,1529.6 1778.3,1530.0 1780.3,1530.2 1783.3,1530.6 1785.2,1530.9 1788.2,1531.3 1790.2,1531.5 1793.2,1531.9 1795.2,1532.2 1798.1,1532.6 1800.1,1532.9 1803.1,1533.3 1805.1,1533.5 1808.0,1533.9 1810.0,1534.2 1813.0,1534.6 1815.0,1534.9 1817.9,1535.3 1819.9,1535.6 1822.9,1536.0 1824.9,1536.2 1827.9,1536.6 1829.8,1536.9 1832.8,1537.3 1834.8,1537.6 1837.8,1538.0 1839.7,1538.3 1842.7,1538.7 1844.7,1538.9 1847.7,1539.3 1849.7,1539.6 1852.6,1540.0 1854.6,1540.3 1857.6,1540.6 1859.6,1540.9 1862.5,1541.3 1864.5,1541.5 1867.5,1541.9 1869.5,1542.2 1872.5,1542.5 1874.4,1542.8 1877.4,1543.1 1879.4,1543.4 1882.4,1543.8 1884.4,1544.0 1887.4,1544.4 1889.3,1544.6 1892.3,1545.0 1894.3,1545.2 1897.3,1545.5 1899.3,1545.8 1902.2,1546.1 1904.2,1546.4 1907.2,1546.7 1909.2,1546.9 1912.2,1547.3 1914.2,1547.5 1917.1,1547.9 1919.1,1548.1 1922.1,1548.4 1924.1,1548.6 1927.1,1549.0 1929.1,1549.2 1932.1,1549.5 1934.0,1549.7 1937.0,1550.1 1939.0,1550.3 1942.0,1550.6 1944.0,1550.8 1947.0,1551.1 1949.0,1551.3 1951.9,1551.7 1953.9,1551.9 1956.9,1552.2 1958.9,1552.4 1961.9,1552.7 1963.9,1552.9 1966.9,1553.2 1968.9,1553.4 1971.8,1553.7 1973.8,1553.9 1976.8,1554.2 1978.8,1554.3 1981.8,1554.6 1983.8,1554.8 1986.8,1555.1 1988.8,1555.3 1991.7,1555.6 1993.7,1555.8 1996.7,1556.1 1998.7,1556.3 2001.7,1556.6 2003.7,1556.8 2006.7,1557.1 2008.7,1557.3 2011.7,1557.5 2013.6,1557.7 2016.6,1558.0 2018.6,1558.2 2021.6,1558.6 2023.6,1558.8 2026.6,1559.1 2028.6,1559.3 2031.5,1559.6 2033.5,1559.8 2036.5,1560.2 2038.5,1560.4 2041.5,1560.7 2043.5,1560.9 2046.5,1561.2 2048.5,1561.5 2051.4,1561.8 2053.4,1562.0 2056.4,1562.3 2058.4,1562.5 2061.4,1562.8 2063.4,1563.0 2066.4,1563.3 2068.3,1563.5 2071.3,1563.8 2073.3,1564.0 2076.3,1564.3 2078.3,1564.5 2081.3,1564.7 2083.3,1564.9 2086.3,1565.1 2088.3,1565.3 2091.3,1565.5 2093.2,1565.6 2096.2,1565.8 2098.2,1566.0 2101.2,1566.2 2103.2,1566.3 2106.2,1566.5 2108.2,1566.6 2111.2,1566.8 2113.2,1566.9 2116.2,1567.1 2118.2,1567.2 2121.2,1567.3 2123.2,1567.5 2126.2,1567.6 2128.2,1567.7 2128.4,1567.7 2120.0,1567.7 2119.8,1567.7 2117.8,1567.6 2114.8,1567.5 2112.8,1567.3 2109.8,1567.2 2107.8,1567.1 2104.8,1566.9 2102.8,1566.8 2099.8,1566.6 2097.8,1566.5 2094.8,1566.3 2092.8,1566.2 2089.8,1566.0 2087.8,1565.8 2084.8,1565.6 2082.9,1565.5 2079.9,1565.3 2077.9,1565.1 2074.9,1564.9 2072.9,1564.7 2069.9,1564.5 2067.9,1564.3 2064.9,1564.0 2062.9,1563.8 2059.9,1563.5 2058.0,1563.3 2055.0,1563.0 2053.0,1562.8 2050.0,1562.5 2048.0,1562.3 2045.0,1562.0 2043.0,1561.8 2040.1,1561.5 2038.1,1561.2 2035.1,1560.9 2033.1,1560.7 2030.1,1560.4 2028.1,1560.2 2025.1,1559.8 2023.1,1559.6 2020.2,1559.3 2018.2,1559.1 2015.2,1558.8 2013.2,1558.6 2010.2,1558.2 2008.2,1558.0 2005.2,1557.7 2003.3,1557.5 2000.3,1557.3 1998.3,1557.1 1995.3,1556.8 1993.3,1556.6 1990.3,1556.3 1988.3,1556.1 1985.3,1555.8 1983.3,1555.6 1980.4,1555.3 1978.4,1555.1 1975.4,1554.8 1973.4,1554.6 1970.4,1554.3 1968.4,1554.2 1965.4,1553.9 1963.4,1553.7 1960.5,1553.4 1958.5,1553.2 1955.5,1552.9 1953.5,1552.7 1950.5,1552.4 1948.5,1552.2 1945.5,1551.9 1943.5,1551.7 1940.6,1551.3 1938.6,1551.1 1935.6,1550.8 1933.6,1550.6 1930.6,1550.3 1928.6,1550.1 1925.6,1549.7 1923.7,1549.5 1920.7,1549.2 1918.7,1549.0 1915.7,1548.6 1913.7,1548.4 1910.7,1548.1 1908.7,1547.9 1905.8,1547.5 1903.8,1547.3 1900.8,1546.9 1898.8,1546.7 1895.8,1546.4 1893.8,1546.1 1890.9,1545.8 1888.9,1545.5 1885.9,1545.2 1883.9,1545.0 1880.9,1544.6 1879.0,1544.4 1876.0,1544.0 1874.0,1543.8 1871.0,1543.4 1869.0,1543.1 1866.0,1542.8 1864.1,1542.5 1861.1,1542.2 1859.1,1541.9 1856.1,1541.5 1854.1,1541.3 1851.2,1540.9 1849.2,1540.6 1846.2,1540.3 1844.2,1540.0 1841.3,1539.6 1839.3,1539.3 1836.3,1538.9 1834.3,1538.7 1831.3,1538.3 1829.4,1538.0 1826.4,1537.6 1824.4,1537.3 1821.4,1536.9 1819.5,1536.6 1816.5,1536.2 1814.5,1536.0 1811.5,1535.6 1809.5,1535.3 1806.6,1534.9 1804.6,1534.6 1801.6,1534.2 1799.6,1533.9 1796.7,1533.5 1794.7,1533.3 1791.7,1532.9 1789.7,1532.6 1786.8,1532.2 1784.8,1531.9 1781.8,1531.5 1779.8,1531.3 1776.8,1530.9 1774.9,1530.6 1771.9,1530.2 1769.9,1530.0 1766.9,1529.6 1764.9,1529.3 1762.0,1529.0 1760.0,1528.7 1757.0,1528.3 1755.0,1528.1 1752.0,1527.7 1750.0,1527.4 1747.1,1527.0 1745.1,1526.8 1742.1,1526.4 1740.1,1526.1 1737.1,1525.7 1735.2,1525.5 1732.2,1525.1 1730.2,1524.8 1727.2,1524.4 1725.3,1524.1 1722.3,1523.7 1720.3,1523.4 1717.3,1523.0 1715.4,1522.7 1712.4,1522.3 1710.4,1522.0 1707.5,1521.5 1705.5,1521.2 1702.5,1520.8 1700.5,1520.5 1697.6,1520.0 1695.6,1519.7 1692.7,1519.2 1690.7,1518.8 1687.7,1518.3 1685.8,1518.0 1682.8,1517.5 1680.8,1517.1 1677.9,1516.6 1675.9,1516.2 1673.0,1515.7 1671.0,1515.3 1668.0,1514.7 1666.1,1514.3 1663.1,1513.7 1661.2,1513.3 1658.2,1512.7 1656.3,1512.3 1653.3,1511.7 1651.4,1511.3 1648.5,1510.6 1646.5,1510.2 1643.6,1509.5 1641.7,1509.0 1638.8,1508.3 1636.8,1507.8 1633.9,1507.1 1632.0,1506.6 1629.1,1505.8 1627.2,1505.2 1624.3,1504.4 1622.3,1503.9 1619.4,1503.1 1617.5,1502.5 1614.6,1501.7 1612.7,1501.1 1609.8,1500.3 1607.9,1499.7 1605.0,1498.9 1603.1,1498.3 1600.2,1497.5 1598.3,1496.9 1595.4,1496.1 1593.5,1495.5 1590.6,1494.7 1588.7,1494.1 1585.8,1493.2 1583.9,1492.7 1581.1,1491.8 1579.1,1491.2 1576.3,1490.3 1574.4,1489.7 1571.5,1488.9 1569.6,1488.3 1566.7,1487.4 1564.8,1486.8 1561.9,1486.0 1560.0,1485.4 1557.1,1484.5 1555.2,1483.9 1552.3,1483.1 1550.4,1482.5 1547.5,1481.7 1545.6,1481.2 1542.7,1480.4 1540.8,1479.8 1537.9,1479.0 1536.0,1478.5 1533.1,1477.7 1531.1,1477.2 1528.3,1476.3 1526.3,1475.8 1523.5,1474.9 1521.5,1474.3 1518.7,1473.4 1516.8,1472.8 1513.9,1471.9 1512.1,1471.2 1509.2,1470.3 1507.3,1469.6 1504.5,1468.6 1502.6,1467.9 1499.8,1466.9 1498.0,1466.2 1495.2,1465.1 1493.3,1464.4 1490.5,1463.3 1488.7,1462.5 1485.9,1461.4 1484.1,1460.6 1481.3,1459.5 1479.5,1458.7 1476.7,1457.5 1474.9,1456.7 1472.2,1455.4 1470.4,1454.6 1467.6,1453.3 1465.8,1452.5 1463.1,1451.2 1461.3,1450.3 1458.7,1448.9 1456.9,1448.0 1454.2,1446.7 1452.4,1445.8 1449.8,1444.4 1448.0,1443.4 1445.4,1442.0 1443.6,1441.0 1441.0,1439.6 1439.2,1438.6 1436.6,1437.1 1434.9,1436.1 1432.3,1434.6 1430.6,1433.6 1428.0,1432.0 1426.3,1431.0 1423.8,1429.4 1422.1,1428.4 1419.6,1426.7 1417.9,1425.6 1415.4,1424.0 1413.8,1422.9 1411.3,1421.2 1409.7,1420.0 1407.2,1418.3 1405.6,1417.2 1403.2,1415.4 1401.6,1414.2 1399.2,1412.4 1397.6,1411.2 1395.2,1409.4 1393.6,1408.2 1391.3,1406.3 1389.7,1405.1 1387.4,1403.2 1385.8,1401.9 1383.5,1400.0 1382.0,1398.7 1379.7,1396.7 1378.2,1395.4 1375.9,1393.5 1374.4,1392.1 1372.2,1390.1 1370.7,1388.8 1368.5,1386.8 1367.1,1385.4 1364.9,1383.3 1363.4,1382.0 1361.3,1379.9 1359.9,1378.5 1357.8,1376.3 1356.4,1374.9 1354.3,1372.7 1352.9,1371.3 1350.9,1369.1 1349.6,1367.6 1347.6,1365.4 1346.2,1363.9 1344.3,1361.6 1343.0,1360.1 1341.1,1357.8 1339.8,1356.3 1338.0,1353.9 1336.7,1352.4 1334.9,1350.0 1333.7,1348.4 1331.9,1346.0 1330.7,1344.4 1329.0,1342.0 1327.8,1340.4 1326.1,1337.9 1325.0,1336.3 1323.3,1333.8 1322.2,1332.1 1320.6,1329.6 1319.5,1327.9 1317.9,1325.4 1316.9,1323.7 1315.3,1321.1 1314.3,1319.4 1312.8,1316.8 1311.8,1315.1 1310.3,1312.5 1309.3,1310.7 1307.9,1308.1 1306.9,1306.4 1305.5,1303.7 1304.5,1302.0 1303.2,1299.3 1302.2,1297.5 1300.9,1294.9 1300.0,1293.1 1298.6,1290.4 1297.7,1288.6 1296.4,1285.9 1295.5,1284.1 1294.2,1281.4 1293.4,1279.6 1292.1,1276.9 1291.3,1275.0 1290.0,1272.3 1289.2,1270.5 1288.0,1267.8 1287.1,1265.9 1285.9,1263.2 1285.1,1261.4 1284.0,1258.6 1283.2,1256.8 1282.1,1254.0 1281.3,1252.1 1280.2,1249.3 1279.4,1247.5 1278.4,1244.7 1277.6,1242.8 1276.6,1240.0 1275.9,1238.2 1274.8,1235.3 1274.2,1233.5 1273.2,1230.6 1272.5,1228.8 1271.5,1225.9 1270.9,1224.0 1269.9,1221.2 1269.3,1219.3 1268.3,1216.5 1267.7,1214.6 1266.8,1211.7 1266.1,1209.8 1265.2,1206.9 1264.6,1205.0 1263.7,1202.2 1263.1,1200.3 1262.3,1197.4 1261.7,1195.5 1260.8,1192.6 1260.2,1190.7 1259.4,1187.8 1258.8,1185.9 1258.0,1183.0 1257.4,1181.1 1256.6,1178.2 1256.1,1176.3 1255.2,1173.4 1254.7,1171.5 1253.9,1168.6 1253.4,1166.7 1252.6,1163.8 1252.1,1161.8 1251.3,1158.9 1250.8,1157.0 1250.1,1154.1 1249.6,1152.2 1248.8,1149.2 1248.3,1147.3 1247.6,1144.4 1247.1,1142.5 1246.4,1139.5 1245.9,1137.6 1245.2,1134.7 1244.8,1132.7 1244.1,1129.8 1243.6,1127.9 1242.9,1125.0 1242.5,1123.0 1241.8,1120.1 1241.4,1118.1 1240.7,1115.2 1240.3,1113.3 1239.6,1110.3 1239.2,1108.4 1238.5,1105.4 1238.1,1103.5 1237.5,1100.6 1237.1,1098.6 1236.4,1095.7 1236.0,1093.7 1235.4,1090.8 1235.0,1088.8 1234.4,1085.9 1234.0,1083.9 1233.4,1081.0 1233.0,1079.0 1232.4,1076.1 1232.0,1074.1 1231.4,1071.2 1231.0,1069.2 1230.4,1066.3 1230.1,1064.3 1229.5,1061.4 1229.1,1059.4 1228.5,1056.5 1228.1,1054.5 1227.6,1051.5 1227.2,1049.6 1226.6,1046.6 1226.2,1044.7 1225.7,1041.7 1225.3,1039.8 1224.7,1036.8 1224.3,1034.9 1223.8,1031.9 1223.4,1029.9 1222.8,1027.0 1222.5,1025.0 1221.9,1022.1 1221.5,1020.1 1221.0,1017.2 1220.6,1015.2 1220.0,1012.3 1219.6,1010.3 1219.1,1007.4 1218.7,1005.4 1218.1,1002.4 1217.8,1000.5 1217.2,997.5 1216.8,995.6 1216.3,992.6 1215.9,990.7 1215.3,987.7 1214.9,985.7 1214.4,982.8 1214.0,980.8 1213.5,977.9 1213.1,975.9 1212.5,973.0 1212.2,971.0 1211.6,968.1 1211.3,966.1 1210.7,963.1 1210.4,961.2 1209.8,958.2 1209.5,956.3 1208.9,953.3 1208.6,951.3 1208.1,948.4 1207.7,946.4 1207.2,943.5 1206.8,941.5 1206.3,938.5 1206.0,936.6 1205.5,933.6 1205.2,931.6 1204.7,928.7 1204.3,926.7 1203.9,923.7 1203.5,921.8 1203.1,918.8 1202.7,916.8 1202.3,913.9 1201.9,911.9 1201.5,908.9 1201.2,907.0 1200.7,904.0 1200.4,902.0 1199.9,899.0 1199.6,897.1 1199.2,894.1 1198.9,892.1 1198.4,889.2 1198.1,887.2 1197.7,884.2 1197.4,882.2 1196.9,879.3 1196.6,877.3 1196.2,874.3 1195.9,872.3 1195.5,869.4 1195.2,867.4 1194.8,864.4 1194.5,862.4 1194.1,859.5 1193.8,857.5 1193.4,854.5 1193.2,852.5 1192.8,849.6 1192.5,847.6 1192.2,844.6 1191.9,842.6 1191.5,839.6 1191.3,837.7 1191.0,834.7 1190.7,832.7 1190.4,829.7 1190.1,827.7 1189.8,824.7 1189.6,822.8 1189.2,819.8 1189.0,817.8 1188.6,814.8 1188.4,812.8 1188.1,809.8 1187.8,807.9 1187.5,804.9 1187.3,802.9 1186.9,799.9 1186.7,797.9 1186.3,794.9 1186.1,793.0 1185.7,790.0 1185.5,788.0 1185.1,785.0 1184.9,783.0 1184.5,780.1 1184.3,778.1 1183.9,775.1 1183.6,773.1 1183.3,770.1 1183.0,768.2 1182.6,765.2 1182.4,763.2 1182.0,760.2 1181.7,758.2 1181.3,755.3 1181.1,753.3 1180.7,750.3 1180.4,748.3 1180.0,745.3 1179.8,743.4 1179.4,740.4 1179.1,738.4 1178.7,735.4 1178.5,733.4 1178.1,730.5 1177.8,728.5 1177.4,725.5 1177.2,723.5 1176.8,720.6 1176.5,718.6 1176.1,715.6 1175.9,713.6 1175.5,710.6 1175.3,708.7 1174.9,705.7 1174.6,703.7 1174.2,700.7 1174.0,698.7 1173.6,695.8 1173.4,693.8 1173.0,690.8 1172.8,688.8 1172.4,685.8 1172.1,683.9 1171.8,680.9 1171.5,678.9 1171.2,675.9 1170.9,673.9 1170.6,670.9 1170.4,669.0 1170.0,666.0 1169.8,664.0 1169.4,661.0 1169.2,659.0 1168.8,656.0 1168.6,654.1 1168.3,651.1 1168.0,649.1 1167.7,646.1 1167.5,644.1 1167.1,641.1 1166.9,639.2 1166.6,636.2 1166.3,634.2 1166.0,631.2 1165.8,629.2 1165.4,626.2 1165.2,624.3 1164.9,621.3 1164.6,619.3 1164.3,616.3 1164.1,614.3 1163.7,611.3 1163.5,609.4 1163.1,606.4 1162.9,604.4 1162.6,601.4 1162.3,599.4 1162.0,596.4 1161.7,594.5 1161.4,591.5 1161.2,589.5 1160.8,586.5 1160.6,584.5 1160.2,581.5 1160.0,579.6 1159.6,576.6 1159.4,574.6 1159.0,571.6 1158.8,569.6 1158.4,566.7 1158.2,564.7 1157.8,561.7 1157.5,559.7 1157.2,556.7 1156.9,554.7 1156.5,551.8 1156.3,549.8 1155.9,546.8 1155.7,544.8 1155.3,541.9 1155.0,539.9 1154.6,536.9 1154.4,534.9 1154.0,531.9 1153.7,530.0 1153.3,527.0 1153.1,525.0 1152.7,522.0 1152.4,520.0 1152.0,517.1 1151.7,515.1 1151.3,512.1 1151.0,510.1 1150.6,507.2 1150.3,505.2 1149.9,502.2 1149.6,500.2 1149.2,497.3 1148.9,495.3 1148.4,492.3 1148.1,490.3 1147.7,487.4 1147.4,485.4 1146.9,482.4 1146.6,480.5 1146.2,477.5 1145.9,475.5 1145.4,472.6 1145.1,470.6 1144.6,467.6 1144.3,465.6 1143.8,462.7 1143.5,460.7 1143.0,457.8 1142.7,455.8 1142.2,452.8 1141.8,450.8 1141.3,447.9 1141.0,445.9 1140.5,443.0 1140.2,441.0 1139.7,438.0 1139.3,436.1 1138.8,433.1 1138.5,431.1 1137.9,428.2 1137.6,426.2 1137.1,423.3 1136.7,421.3 1136.2,418.3 1135.9,416.4 1135.4,413.4 1135.0,411.4 1134.5,408.5 1134.1,406.5 1133.6,403.6 1133.3,401.6 1132.7,398.6 1132.4,396.7 1131.8,393.7 1131.4,391.8 1130.9,388.8 1130.5,386.8 1129.9,383.9 1129.5,381.9 1129.0,379.0 1128.6,377.0 1128.0,374.1 1127.5,372.2 1126.9,369.2 1126.5,367.3 1125.8,364.4 1125.4,362.4 1124.7,359.5 1124.3,357.6 1123.6,354.7 1123.1,352.8 1122.4,349.9 1121.9,348.0 1121.1,345.1 1120.6,343.2 1119.9,340.3 1119.3,338.4 1118.5,335.5 1118.0,333.6 1117.1,330.7 1116.5,328.8 1115.4,326.0 1114.7,324.1 1113.4,321.2 1112.5,319.3 1111.0,316.5 1109.8,315.0 1107.8,313.2 1105.9,312.2 1103.0,312.0Z"/>
<path class="cf" fill="#00f" d="M300.7,1597.2 302.7,1597.1 305.7,1596.9 307.7,1596.7 310.7,1596.4 312.7,1596.2 315.7,1595.8 317.7,1595.5 320.6,1595.1 322.6,1594.8 325.5,1594.3 327.5,1594.0 330.4,1593.4 332.4,1592.9 335.3,1592.2 337.3,1591.7 340.2,1590.9 342.1,1590.3 344.9,1589.4 346.8,1588.8 349.6,1587.7 351.4,1587.0 354.2,1585.7 356.0,1584.9 358.7,1583.5 360.5,1582.6 363.2,1581.3 365.0,1580.4 367.7,1579.0 369.4,1578.1 372.1,1576.7 373.8,1575.7 376.4,1574.2 378.2,1573.2 380.8,1571.8 382.5,1570.8 385.1,1569.3 386.9,1568.4 389.5,1566.9 391.3,1565.9 393.9,1564.5 395.7,1563.5 398.3,1562.1 400.0,1561.1 402.7,1559.7 404.4,1558.7 407.1,1557.3 408.8,1556.3 411.4,1554.8 413.2,1553.8 415.8,1552.4 417.6,1551.5 420.3,1550.3 422.2,1549.5 425.0,1548.4 426.9,1547.7 429.7,1546.7 431.6,1546.1 434.5,1545.5 436.5,1545.1 439.5,1544.7 441.4,1544.4 444.4,1544.1 446.4,1543.9 449.4,1543.9 451.4,1543.9 454.4,1544.0 456.4,1544.1 459.4,1544.2 461.4,1544.2 464.4,1544.4 466.4,1544.5 469.4,1544.7 471.4,1544.9 474.4,1545.2 476.4,1545.5 479.4,1545.9 481.3,1546.1 484.3,1546.6 486.3,1546.9 489.3,1547.3 491.2,1547.6 494.2,1548.0 496.2,1548.3 499.1,1548.8 501.1,1549.1 504.1,1549.6 506.0,1550.0 509.0,1550.5 511.0,1550.8 513.9,1551.3 515.9,1551.7 518.9,1552.2 520.8,1552.5 523.8,1553.1 525.8,1553.4 528.7,1553.9 530.7,1554.3 533.6,1554.8 535.6,1555.1 538.6,1555.7 540.5,1556.0 543.5,1556.5 545.5,1556.9 548.4,1557.4 550.4,1557.8 553.3,1558.3 555.3,1558.6 558.3,1559.1 560.2,1559.4 563.2,1559.9 565.2,1560.2 568.1,1560.7 570.1,1561.0 573.1,1561.5 575.0,1561.8 578.0,1562.3 580.0,1562.6 582.9,1563.1 584.9,1563.4 587.9,1563.8 589.9,1564.1 592.8,1564.6 594.8,1564.9 597.8,1565.4 599.7,1565.7 602.7,1566.1 604.7,1566.5 607.6,1567.0 609.6,1567.3 612.6,1567.9 614.6,1568.2 617.5,1568.8 619.5,1569.2 622.5,1569.7 624.4,1570.1 627.4,1570.6 629.4,1571.0 632.3,1571.5 634.3,1571.8 637.3,1572.3 639.3,1572.6 642.2,1573.0 644.2,1573.2 647.2,1573.5 649.2,1573.7 652.1,1573.9 654.1,1574.1 657.1,1574.2 659.1,1574.3 662.1,1574.4 664.1,1574.4 667.1,1574.5 669.1,1574.6 672.1,1574.7 674.1,1574.7 677.1,1574.8 679.1,1574.9 682.1,1574.9 684.1,1575.0 687.1,1575.0 689.1,1575.0 692.1,1575.1 694.1,1575.1 697.1,1575.1 699.1,1575.2 702.1,1575.2 704.1,1575.2 707.1,1575.2 709.1,1575.2 712.1,1575.1 714.1,1575.1 717.1,1575.1 719.1,1575.1 722.1,1575.0 724.1,1575.0 727.1,1574.9 729.1,1574.8 732.1,1574.8 734.1,1574.7 737.1,1574.6 739.1,1574.5 742.1,1574.4 744.1,1574.3 747.1,1574.2 749.1,1574.1 752.1,1574.0 754.1,1573.9 757.1,1573.7 759.1,1573.6 762.1,1573.5 764.1,1573.3 767.1,1573.2 769.1,1573.0 772.1,1572.8 774.1,1572.7 777.1,1572.5 779.1,1572.3 782.1,1572.1 784.1,1571.9 787.0,1571.6 789.0,1571.5 792.0,1571.2 794.0,1571.0 797.0,1570.6 799.0,1570.4 801.9,1570.0 803.9,1569.8 806.9,1569.3 808.9,1569.0 811.8,1568.6 813.8,1568.2 816.7,1567.7 818.6,1567.3 821.5,1566.7 823.5,1566.3 826.4,1565.6 828.3,1565.1 831.2,1564.4 833.1,1563.8 835.9,1563.0 837.8,1562.4 840.7,1561.5 842.5,1560.8 845.3,1559.8 847.2,1559.1 850.0,1558.0 851.8,1557.3 854.5,1556.1 856.3,1555.3 859.0,1554.0 860.8,1553.1 863.4,1551.8 865.2,1550.8 867.7,1549.4 869.4,1548.4 871.9,1546.8 873.5,1545.7 876.0,1544.1 877.5,1542.9 879.9,1541.2 881.4,1539.9 883.6,1538.0 885.1,1536.7 887.2,1534.7 888.6,1533.4 890.6,1531.2 891.9,1529.8 893.8,1527.6 895.1,1526.1 896.9,1523.8 898.1,1522.2 899.8,1519.8 901.0,1518.2 902.6,1515.7 903.7,1514.1 905.3,1511.6 906.3,1509.9 907.8,1507.3 908.7,1505.5 910.1,1502.9 911.1,1501.2 912.4,1498.5 913.3,1496.7 914.6,1494.0 915.4,1492.2 916.7,1489.5 917.5,1487.7 918.7,1484.9 919.4,1483.1 920.6,1480.3 921.3,1478.5 922.4,1475.7 923.1,1473.8 924.1,1471.0 924.8,1469.1 925.8,1466.3 926.4,1464.4 927.3,1461.6 928.0,1459.7 928.9,1456.8 929.5,1454.9 930.3,1452.0 930.9,1450.1 931.8,1447.2 932.3,1445.3 933.1,1442.4 933.7,1440.5 934.5,1437.6 935.0,1435.7 935.8,1432.8 936.3,1430.9 937.1,1428.0 937.6,1426.0 938.3,1423.1 938.8,1421.2 939.5,1418.3 940.0,1416.3 940.7,1413.4 941.2,1411.5 941.9,1408.5 942.3,1406.6 943.0,1403.7 943.5,1401.7 944.2,1398.8 944.6,1396.8 945.3,1393.9 945.7,1392.0 946.3,1389.0 946.8,1387.1 947.4,1384.2 947.8,1382.2 948.4,1379.3 948.9,1377.3 949.5,1374.4 949.9,1372.4 950.5,1369.5 950.9,1367.5 951.5,1364.6 951.8,1362.6 952.4,1359.7 952.8,1357.7 953.4,1354.8 953.8,1352.8 954.3,1349.8 954.7,1347.9 955.2,1344.9 955.6,1343.0 956.1,1340.0 956.5,1338.0 957.0,1335.1 957.4,1333.1 957.9,1330.2 958.3,1328.2 958.8,1325.3 959.1,1323.3 959.7,1320.3 960.0,1318.4 960.5,1315.4 960.9,1313.4 961.4,1310.5 961.7,1308.5 962.2,1305.5 962.6,1303.6 963.1,1300.6 963.4,1298.6 963.9,1295.7 964.3,1293.7 964.8,1290.8 965.1,1288.8 965.6,1285.8 966.0,1283.9 966.5,1280.9 966.8,1278.9 967.3,1276.0 967.7,1274.0 968.2,1271.1 968.5,1269.1 969.1,1266.1 969.4,1264.2 969.9,1261.2 970.2,1259.2 970.7,1256.3 971.1,1254.3 971.6,1251.3 971.9,1249.4 972.4,1246.4 972.8,1244.4 973.3,1241.5 973.6,1239.5 974.1,1236.5 974.4,1234.6 974.9,1231.6 975.2,1229.6 975.7,1226.7 976.0,1224.7 976.5,1221.7 976.8,1219.8 977.2,1216.8 977.5,1214.8 978.0,1211.9 978.3,1209.9 978.7,1206.9 979.0,1204.9 979.5,1202.0 979.8,1200.0 980.2,1197.0 980.5,1195.0 980.9,1192.1 981.2,1190.1 981.6,1187.1 981.8,1185.1 982.2,1182.2 982.5,1180.2 982.9,1177.2 983.2,1175.2 983.6,1172.3 983.8,1170.3 984.2,1167.3 984.5,1165.3 984.9,1162.3 985.1,1160.4 985.5,1157.4 985.8,1155.4 986.1,1152.4 986.4,1150.4 986.8,1147.5 987.0,1145.5 987.4,1142.5 987.7,1140.5 988.1,1137.5 988.3,1135.6 988.7,1132.6 989.0,1130.6 989.4,1127.6 989.6,1125.6 990.0,1122.7 990.3,1120.7 990.6,1117.7 990.9,1115.7 991.3,1112.8 991.5,1110.8 991.9,1107.8 992.2,1105.8 992.6,1102.8 992.8,1100.8 993.2,1097.9 993.5,1095.9 993.8,1092.9 994.1,1090.9 994.5,1088.0 994.7,1086.0 995.1,1083.0 995.4,1081.0 995.7,1078.0 996.0,1076.1 996.4,1073.1 996.6,1071.1 997.0,1068.1 997.2,1066.1 997.6,1063.2 997.8,1061.2 998.2,1058.2 998.4,1056.2 998.8,1053.2 999.1,1051.2 999.4,1048.3 999.7,1046.3 1000.0,1043.3 1000.2,1041.3 1000.6,1038.3 1000.8,1036.3 1001.2,1033.4 1001.4,1031.4 1001.8,1028.4 1002.0,1026.4 1002.4,1023.4 1002.6,1021.5 1003.0,1018.5 1003.2,1016.5 1003.6,1013.5 1003.8,1011.5 1004.2,1008.5 1004.4,1006.6 1004.8,1003.6 1005.1,1001.6 1005.4,998.6 1005.7,996.6 1006.1,993.7 1006.3,991.7 1006.7,988.7 1007.0,986.7 1007.4,983.8 1007.6,981.8 1008.0,978.8 1008.3,976.8 1008.7,973.8 1009.0,971.9 1009.4,968.9 1009.7,966.9 1010.1,963.9 1010.3,962.0 1010.8,959.0 1011.0,957.0 1011.5,954.0 1011.8,952.1 1012.2,949.1 1012.5,947.1 1012.9,944.1 1013.2,942.2 1013.7,939.2 1014.0,937.2 1014.4,934.3 1014.7,932.3 1015.2,929.3 1015.5,927.3 1015.9,924.4 1016.2,922.4 1016.7,919.4 1017.0,917.5 1017.5,914.5 1017.8,912.5 1018.2,909.5 1018.5,907.6 1019.0,904.6 1019.3,902.6 1019.8,899.7 1020.1,897.7 1020.6,894.7 1020.9,892.8 1021.3,889.8 1021.6,887.8 1022.1,884.8 1022.4,882.9 1022.9,879.9 1023.2,877.9 1023.6,875.0 1023.9,873.0 1024.4,870.0 1024.7,868.0 1025.1,865.1 1025.4,863.1 1025.9,860.1 1026.2,858.2 1026.6,855.2 1026.9,853.2 1027.4,850.2 1027.7,848.3 1028.1,845.3 1028.4,843.3 1028.9,840.4 1029.2,838.4 1029.6,835.4 1029.9,833.4 1030.4,830.5 1030.7,828.5 1031.1,825.5 1031.4,823.6 1031.9,820.6 1032.2,818.6 1032.7,815.7 1033.0,813.7 1033.5,810.7 1033.8,808.7 1034.3,805.8 1034.6,803.8 1035.1,800.8 1035.4,798.9 1035.9,795.9 1036.3,793.9 1036.8,791.0 1037.1,789.0 1037.6,786.1 1038.0,784.1 1038.5,781.1 1038.8,779.2 1039.4,776.2 1039.7,774.3 1040.3,771.3 1040.6,769.3 1041.2,766.4 1041.5,764.4 1042.1,761.5 1042.5,759.5 1043.0,756.6 1043.4,754.6 1043.9,751.6 1044.3,749.7 1044.9,746.7 1045.3,744.8 1045.9,741.8 1046.2,739.9 1046.8,736.9 1047.2,735.0 1047.8,732.0 1048.2,730.1 1048.8,727.1 1049.2,725.2 1049.8,722.2 1050.2,720.3 1050.8,717.3 1051.2,715.4 1051.8,712.4 1052.2,710.5 1052.8,707.5 1053.2,705.6 1053.8,702.6 1054.2,700.7 1054.8,697.7 1055.2,695.8 1055.8,692.8 1056.3,690.9 1056.9,687.9 1057.3,686.0 1058.0,683.1 1058.4,681.1 1059.0,678.2 1059.5,676.2 1060.2,673.3 1060.6,671.4 1061.3,668.5 1061.7,666.5 1062.4,663.6 1062.9,661.7 1063.6,658.8 1064.1,656.9 1064.9,654.0 1065.4,652.1 1066.2,649.2 1066.7,647.3 1067.6,644.5 1068.1,642.6 1069.0,639.7 1069.5,637.8 1070.4,634.9 1070.9,633.0 1071.8,630.1 1072.4,628.2 1073.5,625.4 1074.2,623.5 1075.4,620.7 1076.3,618.7 1077.9,616.1 1079.1,614.6 1081.3,612.8 1083.2,611.8 1086.0,611.4 1088.0,612.1 1090.6,613.9 1092.0,615.1 1093.8,617.4 1094.9,619.2 1096.3,622.1 1097.1,623.9 1098.2,626.7 1098.9,628.5 1099.8,631.4 1100.4,633.3 1101.2,636.2 1101.8,638.2 1102.6,641.0 1103.2,642.9 1104.0,645.8 1104.5,647.7 1105.4,650.5 1105.9,652.4 1106.7,655.3 1107.2,657.2 1107.9,660.1 1108.4,662.0 1109.1,664.9 1109.5,666.9 1110.2,669.8 1110.7,671.7 1111.3,674.7 1111.7,676.6 1112.4,679.5 1112.8,681.5 1113.4,684.4 1113.7,686.4 1114.3,689.3 1114.7,691.3 1115.2,694.2 1115.6,696.2 1116.1,699.2 1116.4,701.1 1116.9,704.1 1117.2,706.1 1117.7,709.0 1118.0,711.0 1118.4,714.0 1118.7,716.0 1119.1,718.9 1119.4,720.9 1119.9,723.9 1120.1,725.8 1120.6,728.8 1120.8,730.8 1121.2,733.8 1121.5,735.8 1121.9,738.7 1122.2,740.7 1122.6,743.7 1122.9,745.7 1123.3,748.6 1123.6,750.6 1124.0,753.6 1124.3,755.6 1124.7,758.5 1125.0,760.5 1125.5,763.5 1125.8,765.5 1126.2,768.4 1126.5,770.4 1126.9,773.4 1127.2,775.3 1127.7,778.3 1128.0,780.3 1128.5,783.2 1128.8,785.2 1129.3,788.2 1129.6,790.2 1130.1,793.1 1130.4,795.1 1130.9,798.0 1131.2,800.0 1131.7,803.0 1132.1,805.0 1132.6,807.9 1132.9,809.9 1133.4,812.8 1133.8,814.8 1134.3,817.8 1134.6,819.7 1135.1,822.7 1135.5,824.7 1136.0,827.6 1136.3,829.6 1136.8,832.5 1137.1,834.5 1137.6,837.5 1138.0,839.4 1138.4,842.4 1138.8,844.4 1139.2,847.3 1139.5,849.3 1140.0,852.3 1140.3,854.3 1140.7,857.2 1141.0,859.2 1141.5,862.2 1141.8,864.1 1142.2,867.1 1142.5,869.1 1142.9,872.1 1143.2,874.0 1143.6,877.0 1143.9,879.0 1144.3,882.0 1144.6,883.9 1145.1,886.9 1145.3,888.9 1145.8,891.9 1146.1,893.8 1146.5,896.8 1146.8,898.8 1147.2,901.7 1147.5,903.7 1148.0,906.7 1148.3,908.7 1148.8,911.6 1149.1,913.6 1149.5,916.6 1149.8,918.5 1150.3,921.5 1150.6,923.5 1151.1,926.5 1151.4,928.4 1151.8,931.4 1152.2,933.4 1152.6,936.3 1152.9,938.3 1153.4,941.3 1153.7,943.2 1154.2,946.2 1154.5,948.2 1155.0,951.1 1155.3,953.1 1155.8,956.1 1156.1,958.1 1156.5,961.0 1156.9,963.0 1157.3,966.0 1157.6,967.9 1158.1,970.9 1158.4,972.9 1158.9,975.8 1159.2,977.8 1159.6,980.8 1159.9,982.8 1160.4,985.7 1160.7,987.7 1161.2,990.7 1161.5,992.6 1162.0,995.6 1162.3,997.6 1162.7,1000.5 1163.1,1002.5 1163.5,1005.5 1163.8,1007.5 1164.3,1010.4 1164.7,1012.4 1165.2,1015.3 1165.5,1017.3 1166.0,1020.3 1166.3,1022.2 1166.9,1025.2 1167.2,1027.2 1167.8,1030.1 1168.1,1032.1 1168.7,1035.0 1169.1,1037.0 1169.6,1039.9 1170.0,1041.9 1170.6,1044.8 1171.0,1046.8 1171.6,1049.7 1172.0,1051.7 1172.6,1054.6 1173.1,1056.6 1173.7,1059.5 1174.1,1061.5 1174.8,1064.4 1175.2,1066.3 1175.9,1069.3 1176.3,1071.2 1177.0,1074.1 1177.5,1076.1 1178.2,1079.0 1178.6,1080.9 1179.3,1083.9 1179.8,1085.8 1180.5,1088.7 1181.0,1090.7 1181.7,1093.6 1182.2,1095.5 1183.0,1098.4 1183.5,1100.3 1184.2,1103.3 1184.7,1105.2 1185.5,1108.1 1186.0,1110.0 1186.8,1112.9 1187.3,1114.8 1188.1,1117.7 1188.6,1119.7 1189.5,1122.6 1190.0,1124.5 1190.8,1127.4 1191.4,1129.3 1192.2,1132.2 1192.8,1134.1 1193.6,1137.0 1194.2,1138.9 1195.1,1141.7 1195.7,1143.7 1196.5,1146.5 1197.1,1148.4 1198.0,1151.3 1198.6,1153.2 1199.6,1156.1 1200.2,1158.0 1201.1,1160.8 1201.7,1162.7 1202.7,1165.6 1203.3,1167.4 1204.3,1170.3 1205.0,1172.2 1206.0,1175.0 1206.6,1176.9 1207.6,1179.7 1208.3,1181.6 1209.4,1184.4 1210.1,1186.3 1211.1,1189.1 1211.8,1190.9 1212.9,1193.7 1213.7,1195.6 1214.8,1198.4 1215.5,1200.2 1216.7,1203.0 1217.4,1204.8 1218.6,1207.6 1219.4,1209.4 1220.6,1212.2 1221.4,1214.0 1222.6,1216.8 1223.4,1218.6 1224.6,1221.3 1225.5,1223.1 1226.7,1225.9 1227.6,1227.7 1228.8,1230.4 1229.6,1232.2 1230.9,1234.9 1231.7,1236.8 1233.0,1239.5 1233.8,1241.3 1235.1,1244.0 1235.9,1245.8 1237.1,1248.6 1238.0,1250.4 1239.2,1253.1 1240.0,1255.0 1241.3,1257.7 1242.1,1259.5 1243.3,1262.2 1244.2,1264.1 1245.4,1266.8 1246.3,1268.6 1247.5,1271.3 1248.4,1273.1 1249.7,1275.8 1250.6,1277.6 1251.9,1280.3 1252.8,1282.1 1254.1,1284.8 1255.0,1286.5 1256.4,1289.2 1257.3,1291.0 1258.8,1293.6 1259.7,1295.4 1261.2,1298.0 1262.2,1299.7 1263.7,1302.3 1264.7,1304.0 1266.2,1306.6 1267.2,1308.3 1268.8,1310.8 1269.9,1312.5 1271.5,1315.1 1272.6,1316.7 1274.2,1319.2 1275.4,1320.9 1277.1,1323.3 1278.2,1325.0 1280.0,1327.4 1281.1,1329.0 1282.9,1331.4 1284.1,1333.0 1286.0,1335.3 1287.2,1336.9 1289.1,1339.2 1290.4,1340.7 1292.3,1343.0 1293.6,1344.5 1295.6,1346.8 1296.9,1348.2 1299.0,1350.4 1300.3,1351.9 1302.4,1354.0 1303.8,1355.5 1305.9,1357.6 1307.3,1359.0 1309.5,1361.1 1310.9,1362.5 1313.1,1364.5 1314.6,1365.9 1316.8,1367.9 1318.3,1369.2 1320.5,1371.2 1322.0,1372.5 1324.3,1374.5 1325.8,1375.8 1328.1,1377.7 1329.6,1379.0 1331.9,1380.9 1333.5,1382.1 1335.9,1384.0 1337.4,1385.2 1339.8,1387.1 1341.4,1388.3 1343.8,1390.1 1345.4,1391.3 1347.8,1393.1 1349.4,1394.2 1351.8,1396.0 1353.5,1397.1 1355.9,1398.8 1357.6,1400.0 1360.1,1401.7 1361.7,1402.8 1364.2,1404.4 1365.9,1405.5 1368.4,1407.1 1370.1,1408.2 1372.6,1409.8 1374.3,1410.8 1376.9,1412.4 1378.6,1413.4 1381.2,1414.9 1382.9,1415.9 1385.5,1417.4 1387.3,1418.4 1389.9,1419.9 1391.6,1420.8 1394.3,1422.3 1396.0,1423.2 1398.7,1424.6 1400.4,1425.5 1403.1,1426.9 1404.9,1427.8 1407.6,1429.2 1409.3,1430.1 1412.0,1431.4 1413.8,1432.3 1416.5,1433.6 1418.3,1434.5 1421.0,1435.8 1422.8,1436.6 1425.6,1437.9 1427.4,1438.8 1430.1,1440.0 1431.9,1440.8 1434.6,1442.1 1436.5,1442.9 1439.2,1444.2 1441.0,1445.0 1443.8,1446.2 1445.6,1447.0 1448.3,1448.2 1450.2,1449.0 1452.9,1450.2 1454.8,1451.0 1457.5,1452.1 1459.4,1452.9 1462.1,1454.0 1464.0,1454.8 1466.8,1455.9 1468.6,1456.6 1471.4,1457.7 1473.3,1458.4 1476.1,1459.4 1478.0,1460.1 1480.8,1461.1 1482.7,1461.8 1485.5,1462.8 1487.4,1463.4 1490.2,1464.3 1492.1,1464.9 1495.0,1465.8 1496.9,1466.4 1499.8,1467.3 1501.7,1467.9 1504.6,1468.7 1506.5,1469.3 1509.4,1470.1 1511.3,1470.6 1514.2,1471.5 1516.1,1472.0 1519.0,1472.8 1520.9,1473.3 1523.8,1474.1 1525.8,1474.6 1528.7,1475.4 1530.6,1475.9 1533.5,1476.6 1535.5,1477.1 1538.4,1477.8 1540.3,1478.2 1543.3,1478.9 1545.2,1479.4 1548.1,1480.1 1550.1,1480.6 1553.0,1481.4 1554.9,1481.9 1557.7,1482.8 1559.7,1483.3 1562.5,1484.3 1564.4,1484.9 1567.2,1485.9 1569.1,1486.6 1571.9,1487.6 1573.8,1488.2 1576.7,1489.3 1578.6,1489.9 1581.4,1490.9 1583.3,1491.5 1586.1,1492.5 1588.0,1493.1 1590.9,1494.0 1592.8,1494.6 1595.7,1495.5 1597.6,1496.1 1600.4,1497.0 1602.4,1497.6 1605.2,1498.4 1607.1,1499.0 1610.0,1499.9 1611.9,1500.5 1614.8,1501.3 1616.7,1501.9 1619.6,1502.8 1621.5,1503.3 1624.4,1504.2 1626.3,1504.8 1629.2,1505.6 1631.1,1506.2 1634.0,1507.1 1635.9,1507.6 1638.8,1508.5 1640.7,1509.0 1643.6,1509.8 1645.5,1510.3 1648.4,1511.0 1650.4,1511.5 1653.3,1512.2 1655.2,1512.7 1658.1,1513.4 1660.1,1513.8 1663.0,1514.5 1665.0,1514.9 1667.9,1515.6 1669.8,1516.0 1672.8,1516.6 1674.7,1517.0 1677.7,1517.7 1679.6,1518.1 1682.6,1518.7 1684.5,1519.1 1687.5,1519.7 1689.4,1520.1 1692.4,1520.8 1694.3,1521.2 1697.3,1521.8 1699.2,1522.2 1702.1,1522.9 1704.1,1523.3 1707.0,1523.9 1709.0,1524.4 1711.9,1525.0 1713.9,1525.4 1716.8,1526.1 1718.7,1526.5 1721.7,1527.1 1723.6,1527.6 1726.6,1528.2 1728.5,1528.6 1731.4,1529.3 1733.4,1529.7 1736.3,1530.4 1738.3,1530.8 1741.2,1531.5 1743.2,1531.9 1746.1,1532.5 1748.0,1533.0 1751.0,1533.6 1752.9,1534.1 1755.9,1534.7 1757.8,1535.1 1760.7,1535.8 1762.7,1536.2 1765.6,1536.9 1767.6,1537.3 1770.5,1537.9 1772.5,1538.4 1775.4,1539.0 1777.4,1539.4 1780.3,1540.0 1782.2,1540.4 1785.2,1541.0 1787.1,1541.4 1790.1,1542.0 1792.0,1542.4 1795.0,1543.0 1796.9,1543.4 1799.9,1544.0 1801.8,1544.4 1804.8,1545.0 1806.7,1545.4 1809.7,1545.9 1811.7,1546.3 1814.6,1546.9 1816.6,1547.2 1819.5,1547.8 1821.5,1548.2 1824.4,1548.7 1826.4,1549.1 1829.3,1549.7 1831.3,1550.0 1834.3,1550.6 1836.2,1550.9 1839.2,1551.5 1841.2,1551.8 1844.1,1552.3 1846.1,1552.7 1849.0,1553.2 1851.0,1553.6 1854.0,1554.1 1855.9,1554.4 1858.9,1554.9 1860.9,1555.2 1863.8,1555.7 1865.8,1556.1 1868.7,1556.6 1870.7,1556.9 1873.7,1557.4 1875.7,1557.7 1878.6,1558.2 1880.6,1558.5 1883.5,1559.0 1885.5,1559.3 1888.5,1559.8 1890.5,1560.1 1893.4,1560.6 1895.4,1560.9 1898.4,1561.3 1900.3,1561.6 1903.3,1562.1 1905.3,1562.4 1908.3,1562.8 1910.2,1563.1 1913.2,1563.6 1915.2,1563.9 1918.2,1564.3 1920.1,1564.6 1923.1,1565.0 1925.1,1565.2 1928.1,1565.6 1930.0,1565.9 1933.0,1566.3 1935.0,1566.5 1938.0,1566.9 1940.0,1567.1 1942.9,1567.5 1944.9,1567.7 1947.9,1568.1 1949.9,1568.3 1952.9,1568.6 1954.9,1568.9 1957.8,1569.2 1959.8,1569.4 1962.8,1569.7 1964.8,1569.9 1967.8,1570.3 1969.8,1570.5 1972.8,1570.8 1974.7,1571.0 1977.7,1571.3 1979.7,1571.5 1982.7,1571.8 1984.7,1571.9 1987.7,1572.2 1989.7,1572.4 1992.7,1572.7 1994.7,1572.9 1997.7,1573.1 1999.6,1573.3 2002.6,1573.6 2004.6,1573.8 2007.6,1574.0 2009.6,1574.2 2012.6,1574.5 2014.6,1574.6 2017.6,1574.9 2019.6,1575.0 2022.6,1575.3 2024.6,1575.4 2027.5,1575.7 2029.5,1575.9 2032.5,1576.1 2034.5,1576.3 2037.5,1576.5 2039.5,1576.6 2042.5,1576.9 2044.5,1577.0 2047.5,1577.3 2049.5,1577.4 2052.5,1577.6 2054.5,1577.8 2057.5,1578.0 2059.5,1578.1 2062.4,1578.3 2064.4,1578.5 2067.4,1578.7 2069.4,1578.8 2072.4,1579.0 2074.4,1579.1 2077.4,1579.3 2079.4,1579.4 2082.4,1579.6 2084.4,1579.7 2087.4,1579.9 2089.4,1580.0 2092.4,1580.1 2094.4,1580.2 2097.4,1580.4 2099.4,1580.5 2102.4,1580.6 2104.4,1580.7 2107.4,1580.9 2109.4,1581.0 2112.4,1581.1 2114.4,1581.2 2117.4,1581.3 2119.4,1581.4 2122.4,1581.5 2124.2,1581.6 2124.2,1590.0 2122.4,1589.9 2119.4,1589.8 2117.4,1589.7 2114.4,1589.6 2112.4,1589.5 2109.4,1589.4 2107.4,1589.3 2104.4,1589.1 2102.4,1589.0 2099.4,1588.9 2097.4,1588.8 2094.4,1588.6 2092.4,1588.5 2089.4,1588.4 2087.4,1588.3 2084.4,1588.1 2082.4,1588.0 2079.4,1587.8 2077.4,1587.7 2074.4,1587.5 2072.4,1587.4 2069.4,1587.2 2067.4,1587.1 2064.4,1586.9 2062.4,1586.7 2059.5,1586.5 2057.5,1586.4 2054.5,1586.2 2052.5,1586.0 2049.5,1585.8 2047.5,1585.7 2044.5,1585.4 2042.5,1585.3 2039.5,1585.0 2037.5,1584.9 2034.5,1584.7 2032.5,1584.5 2029.5,1584.3 2027.5,1584.1 2024.6,1583.8 2022.6,1583.7 2019.6,1583.4 2017.6,1583.3 2014.6,1583.0 2012.6,1582.9 2009.6,1582.6 2007.6,1582.4 2004.6,1582.2 2002.6,1582.0 1999.6,1581.7 1997.7,1581.5 1994.7,1581.3 1992.7,1581.1 1989.7,1580.8 1987.7,1580.6 1984.7,1580.3 1982.7,1580.2 1979.7,1579.9 1977.7,1579.7 1974.7,1579.4 1972.8,1579.2 1969.8,1578.9 1967.8,1578.7 1964.8,1578.3 1962.8,1578.1 1959.8,1577.8 1957.8,1577.6 1954.9,1577.3 1952.9,1577.0 1949.9,1576.7 1947.9,1576.5 1944.9,1576.1 1942.9,1575.9 1940.0,1575.5 1938.0,1575.3 1935.0,1574.9 1933.0,1574.7 1930.0,1574.3 1928.1,1574.0 1925.1,1573.6 1923.1,1573.4 1920.1,1573.0 1918.2,1572.7 1915.2,1572.3 1913.2,1572.0 1910.2,1571.5 1908.3,1571.2 1905.3,1570.8 1903.3,1570.5 1900.3,1570.0 1898.4,1569.7 1895.4,1569.3 1893.4,1569.0 1890.5,1568.5 1888.5,1568.2 1885.5,1567.7 1883.5,1567.4 1880.6,1566.9 1878.6,1566.6 1875.7,1566.1 1873.7,1565.8 1870.7,1565.3 1868.7,1565.0 1865.8,1564.5 1863.8,1564.1 1860.9,1563.6 1858.9,1563.3 1855.9,1562.8 1854.0,1562.5 1851.0,1562.0 1849.0,1561.6 1846.1,1561.1 1844.1,1560.7 1841.2,1560.2 1839.2,1559.9 1836.2,1559.3 1834.3,1559.0 1831.3,1558.4 1829.3,1558.1 1826.4,1557.5 1824.4,1557.1 1821.5,1556.6 1819.5,1556.2 1816.6,1555.6 1814.6,1555.3 1811.7,1554.7 1809.7,1554.3 1806.7,1553.8 1804.8,1553.4 1801.8,1552.8 1799.9,1552.4 1796.9,1551.8 1795.0,1551.4 1792.0,1550.8 1790.1,1550.4 1787.1,1549.8 1785.2,1549.4 1782.2,1548.8 1780.3,1548.4 1777.4,1547.8 1775.4,1547.4 1772.5,1546.8 1770.5,1546.3 1767.6,1545.7 1765.6,1545.3 1762.7,1544.6 1760.7,1544.2 1757.8,1543.5 1755.9,1543.1 1752.9,1542.5 1751.0,1542.0 1748.0,1541.4 1746.1,1540.9 1743.2,1540.3 1741.2,1539.9 1738.3,1539.2 1736.3,1538.8 1733.4,1538.1 1731.4,1537.7 1728.5,1537.0 1726.6,1536.6 1723.6,1536.0 1721.7,1535.5 1718.7,1534.9 1716.8,1534.5 1713.9,1533.8 1711.9,1533.4 1709.0,1532.8 1707.0,1532.3 1704.1,1531.7 1702.1,1531.3 1699.2,1530.6 1697.3,1530.2 1694.3,1529.6 1692.4,1529.2 1689.4,1528.5 1687.5,1528.1 1684.5,1527.5 1682.6,1527.1 1679.6,1526.5 1677.7,1526.1 1674.7,1525.4 1672.8,1525.0 1669.8,1524.4 1667.9,1524.0 1665.0,1523.3 1663.0,1522.9 1660.1,1522.2 1658.1,1521.8 1655.2,1521.1 1653.3,1520.6 1650.4,1519.9 1648.4,1519.4 1645.5,1518.7 1643.6,1518.2 1640.7,1517.4 1638.8,1516.9 1635.9,1516.0 1634.0,1515.5 1631.1,1514.6 1629.2,1514.0 1626.3,1513.2 1624.4,1512.6 1621.5,1511.7 1619.6,1511.2 1616.7,1510.3 1614.8,1509.7 1611.9,1508.9 1610.0,1508.3 1607.1,1507.4 1605.2,1506.8 1602.4,1506.0 1600.4,1505.4 1597.6,1504.5 1595.7,1503.9 1592.8,1503.0 1590.9,1502.4 1588.0,1501.5 1586.1,1500.9 1583.3,1499.9 1581.4,1499.3 1578.6,1498.3 1576.7,1497.7 1573.8,1496.6 1571.9,1496.0 1569.1,1495.0 1567.2,1494.3 1564.4,1493.3 1562.5,1492.7 1559.7,1491.7 1557.7,1491.2 1554.9,1490.3 1553.0,1489.8 1550.1,1489.0 1548.1,1488.5 1545.2,1487.8 1543.3,1487.3 1540.3,1486.6 1538.4,1486.2 1535.5,1485.5 1533.5,1485.0 1530.6,1484.3 1528.7,1483.8 1525.8,1483.0 1523.8,1482.5 1520.9,1481.7 1519.0,1481.2 1516.1,1480.4 1514.2,1479.9 1511.3,1479.0 1509.4,1478.5 1506.5,1477.7 1504.6,1477.1 1501.7,1476.3 1499.8,1475.7 1496.9,1474.8 1495.0,1474.2 1492.1,1473.3 1490.2,1472.7 1487.4,1471.8 1485.5,1471.2 1482.7,1470.2 1480.8,1469.5 1478.0,1468.5 1476.1,1467.8 1473.3,1466.8 1471.4,1466.1 1468.6,1465.0 1466.8,1464.3 1464.0,1463.2 1462.1,1462.4 1459.4,1461.3 1457.5,1460.5 1454.8,1459.4 1452.9,1458.6 1450.2,1457.4 1448.3,1456.6 1445.6,1455.4 1443.8,1454.6 1441.0,1453.4 1439.2,1452.6 1436.5,1451.3 1434.6,1450.5 1431.9,1449.2 1430.1,1448.4 1427.4,1447.2 1425.6,1446.3 1422.8,1445.0 1421.0,1444.2 1418.3,1442.9 1416.5,1442.0 1413.8,1440.7 1412.0,1439.8 1409.3,1438.5 1407.6,1437.6 1404.9,1436.2 1403.1,1435.3 1400.4,1433.9 1398.7,1433.0 1396.0,1431.6 1394.3,1430.7 1391.6,1429.2 1389.9,1428.3 1387.3,1426.8 1385.5,1425.8 1382.9,1424.3 1381.2,1423.3 1378.6,1421.8 1376.9,1420.8 1374.3,1419.2 1372.6,1418.2 1370.1,1416.6 1368.4,1415.5 1365.9,1413.9 1364.2,1412.8 1361.7,1411.2 1360.1,1410.1 1357.6,1408.4 1355.9,1407.2 1353.5,1405.5 1351.8,1404.4 1349.4,1402.6 1347.8,1401.5 1345.4,1399.7 1343.8,1398.5 1341.4,1396.7 1339.8,1395.5 1337.4,1393.6 1335.9,1392.4 1333.5,1390.5 1331.9,1389.3 1329.6,1387.4 1328.1,1386.1 1325.8,1384.2 1324.3,1382.9 1322.0,1380.9 1320.5,1379.6 1318.3,1377.6 1316.8,1376.3 1314.6,1374.3 1313.1,1372.9 1310.9,1370.9 1309.5,1369.5 1307.3,1367.4 1305.9,1366.0 1303.8,1363.9 1302.4,1362.4 1300.3,1360.3 1299.0,1358.8 1296.9,1356.6 1295.6,1355.2 1293.6,1352.9 1292.3,1351.4 1290.4,1349.1 1289.1,1347.6 1287.2,1345.3 1286.0,1343.7 1284.1,1341.4 1282.9,1339.8 1281.1,1337.4 1280.0,1335.8 1278.2,1333.4 1277.1,1331.7 1275.4,1329.3 1274.2,1327.6 1272.6,1325.1 1271.5,1323.5 1269.9,1320.9 1268.8,1319.2 1267.2,1316.7 1266.2,1315.0 1264.7,1312.4 1263.7,1310.7 1262.2,1308.1 1261.2,1306.4 1259.7,1303.8 1258.8,1302.0 1257.3,1299.4 1256.4,1297.6 1255.0,1294.9 1254.1,1293.2 1252.8,1290.5 1251.9,1288.7 1250.6,1286.0 1249.7,1284.2 1248.4,1281.5 1247.5,1279.7 1246.3,1277.0 1245.4,1275.2 1244.2,1272.5 1243.3,1270.6 1242.1,1267.9 1241.3,1266.1 1240.0,1263.4 1239.2,1261.5 1238.0,1258.8 1237.1,1257.0 1235.9,1254.2 1235.1,1252.4 1233.8,1249.7 1233.0,1247.9 1231.7,1245.2 1230.9,1243.3 1229.6,1240.6 1228.8,1238.8 1227.6,1236.1 1226.7,1234.3 1225.5,1231.5 1224.6,1229.7 1223.4,1227.0 1222.6,1225.2 1221.4,1222.4 1220.6,1220.6 1219.4,1217.8 1218.6,1216.0 1217.4,1213.2 1216.7,1211.4 1215.5,1208.6 1214.8,1206.8 1213.7,1204.0 1212.9,1202.1 1211.8,1199.3 1211.1,1197.5 1210.1,1194.7 1209.4,1192.8 1208.3,1190.0 1207.6,1188.1 1206.6,1185.3 1206.0,1183.4 1205.0,1180.6 1204.3,1178.7 1203.3,1175.8 1202.7,1174.0 1201.7,1171.1 1201.1,1169.2 1200.2,1166.4 1199.6,1164.5 1198.6,1161.6 1198.0,1159.7 1197.1,1156.8 1196.5,1154.9 1195.7,1152.1 1195.1,1150.1 1194.2,1147.3 1193.6,1145.4 1192.8,1142.5 1192.2,1140.6 1191.4,1137.7 1190.8,1135.8 1190.0,1132.9 1189.5,1131.0 1188.6,1128.1 1188.1,1126.1 1187.3,1123.2 1186.8,1121.3 1186.0,1118.4 1185.5,1116.5 1184.7,1113.6 1184.2,1111.7 1183.5,1108.7 1183.0,1106.8 1182.2,1103.9 1181.7,1102.0 1181.0,1099.1 1180.5,1097.1 1179.8,1094.2 1179.3,1092.3 1178.6,1089.3 1178.2,1087.4 1177.5,1084.5 1177.0,1082.5 1176.3,1079.6 1175.9,1077.7 1175.2,1074.7 1174.8,1072.8 1174.1,1069.9 1173.7,1067.9 1173.1,1065.0 1172.6,1063.0 1172.0,1060.1 1171.6,1058.1 1171.0,1055.2 1170.6,1053.2 1170.0,1050.3 1169.6,1048.3 1169.1,1045.4 1168.7,1043.4 1168.1,1040.5 1167.8,1038.5 1167.2,1035.6 1166.9,1033.6 1166.3,1030.6 1166.0,1028.7 1165.5,1025.7 1165.2,1023.7 1164.7,1020.8 1164.3,1018.8 1163.8,1015.9 1163.5,1013.9 1163.1,1010.9 1162.7,1008.9 1162.3,1006.0 1162.0,1004.0 1161.5,1001.0 1161.2,999.1 1160.7,996.1 1160.4,994.1 1159.9,991.2 1159.6,989.2 1159.2,986.2 1158.9,984.2 1158.4,981.3 1158.1,979.3 1157.6,976.3 1157.3,974.4 1156.9,971.4 1156.5,969.4 1156.1,966.5 1155.8,964.5 1155.3,961.5 1155.0,959.5 1154.5,956.6 1154.2,954.6 1153.7,951.6 1153.4,949.7 1152.9,946.7 1152.6,944.7 1152.2,941.8 1151.8,939.8 1151.4,936.8 1151.1,934.9 1150.6,931.9 1150.3,929.9 1149.8,926.9 1149.5,925.0 1149.1,922.0 1148.8,920.0 1148.3,917.1 1148.0,915.1 1147.5,912.1 1147.2,910.1 1146.8,907.2 1146.5,905.2 1146.1,902.2 1145.8,900.3 1145.3,897.3 1145.1,895.3 1144.6,892.3 1144.3,890.4 1143.9,887.4 1143.6,885.4 1143.2,882.4 1142.9,880.5 1142.5,877.5 1142.2,875.5 1141.8,872.5 1141.5,870.6 1141.0,867.6 1140.7,865.6 1140.3,862.7 1140.0,860.7 1139.5,857.7 1139.2,855.7 1138.8,852.8 1138.4,850.8 1138.0,847.8 1137.6,845.9 1137.1,842.9 1136.8,840.9 1136.3,838.0 1136.0,836.0 1135.5,833.1 1135.1,831.1 1134.6,828.1 1134.3,826.2 1133.8,823.2 1133.4,821.2 1132.9,818.3 1132.6,816.3 1132.1,813.4 1131.7,811.4 1131.2,808.4 1130.9,806.4 1130.4,803.5 1130.1,801.5 1129.6,798.6 1129.3,796.6 1128.8,793.6 1128.5,791.6 1128.0,788.7 1127.7,786.7 1127.2,783.7 1126.9,781.8 1126.5,778.8 1126.2,776.8 1125.8,773.9 1125.5,771.9 1125.0,768.9 1124.7,766.9 1124.3,764.0 1124.0,762.0 1123.6,759.0 1123.3,757.0 1122.9,754.1 1122.6,752.1 1122.2,749.1 1121.9,747.1 1121.5,744.2 1121.2,742.2 1120.8,739.2 1120.6,737.2 1120.1,734.2 1119.9,732.3 1119.4,729.3 1119.1,727.3 1118.7,724.4 1118.4,722.4 1118.0,719.4 1117.7,717.4 1117.2,714.5 1116.9,712.5 1116.4,709.5 1116.1,707.6 1115.6,704.6 1115.2,702.6 1114.7,699.7 1114.3,697.7 1113.7,694.8 1113.4,692.8 1112.8,689.9 1112.4,687.9 1111.7,685.0 1111.3,683.1 1110.7,680.1 1110.2,678.2 1109.5,675.3 1109.1,673.3 1108.4,670.4 1107.9,668.5 1107.2,665.6 1106.7,663.7 1105.9,660.8 1105.4,658.9 1104.5,656.1 1104.0,654.2 1103.2,651.3 1102.6,649.4 1101.8,646.6 1101.2,644.6 1100.4,641.7 1099.8,639.8 1098.9,636.9 1098.2,635.1 1097.1,632.3 1096.3,630.5 1094.9,627.6 1093.8,625.8 1092.0,623.5 1090.6,622.3 1088.0,620.5 1086.0,619.8 1083.2,620.2 1081.3,621.2 1079.1,623.0 1077.9,624.5 1076.3,627.1 1075.4,629.1 1074.2,631.9 1073.5,633.8 1072.4,636.6 1071.8,638.5 1070.9,641.4 1070.4,643.3 1069.5,646.2 1069.0,648.1 1068.1,651.0 1067.6,652.9 1066.7,655.7 1066.2,657.6 1065.4,660.5 1064.9,662.4 1064.1,665.3 1063.6,667.2 1062.9,670.1 1062.4,672.0 1061.7,674.9 1061.3,676.9 1060.6,679.8 1060.2,681.7 1059.5,684.6 1059.0,686.6 1058.4,689.5 1058.0,691.5 1057.3,694.4 1056.9,696.3 1056.3,699.3 1055.8,701.2 1055.2,704.2 1054.8,706.1 1054.2,709.1 1053.8,711.0 1053.2,714.0 1052.8,715.9 1052.2,718.9 1051.8,720.8 1051.2,723.8 1050.8,725.7 1050.2,728.7 1049.8,730.6 1049.2,733.6 1048.8,735.5 1048.2,738.5 1047.8,740.4 1047.2,743.4 1046.8,745.3 1046.2,748.3 1045.9,750.2 1045.3,753.2 1044.9,755.1 1044.3,758.1 1043.9,760.0 1043.4,763.0 1043.0,765.0 1042.5,767.9 1042.1,769.9 1041.5,772.8 1041.2,774.8 1040.6,777.7 1040.3,779.7 1039.7,782.7 1039.4,784.6 1038.8,787.6 1038.5,789.5 1038.0,792.5 1037.6,794.5 1037.1,797.4 1036.8,799.4 1036.3,802.3 1035.9,804.3 1035.4,807.3 1035.1,809.2 1034.6,812.2 1034.3,814.2 1033.8,817.1 1033.5,819.1 1033.0,822.1 1032.7,824.1 1032.2,827.0 1031.9,829.0 1031.4,832.0 1031.1,833.9 1030.7,836.9 1030.4,838.9 1029.9,841.8 1029.6,843.8 1029.2,846.8 1028.9,848.8 1028.4,851.7 1028.1,853.7 1027.7,856.7 1027.4,858.6 1026.9,861.6 1026.6,863.6 1026.2,866.6 1025.9,868.5 1025.4,871.5 1025.1,873.5 1024.7,876.4 1024.4,878.4 1023.9,881.4 1023.6,883.4 1023.2,886.3 1022.9,888.3 1022.4,891.3 1022.1,893.2 1021.6,896.2 1021.3,898.2 1020.9,901.2 1020.6,903.1 1020.1,906.1 1019.8,908.1 1019.3,911.0 1019.0,913.0 1018.5,916.0 1018.2,917.9 1017.8,920.9 1017.5,922.9 1017.0,925.9 1016.7,927.8 1016.2,930.8 1015.9,932.8 1015.5,935.7 1015.2,937.7 1014.7,940.7 1014.4,942.7 1014.0,945.6 1013.7,947.6 1013.2,950.6 1012.9,952.5 1012.5,955.5 1012.2,957.5 1011.8,960.5 1011.5,962.4 1011.0,965.4 1010.8,967.4 1010.3,970.4 1010.1,972.3 1009.7,975.3 1009.4,977.3 1009.0,980.3 1008.7,982.2 1008.3,985.2 1008.0,987.2 1007.6,990.2 1007.4,992.2 1007.0,995.1 1006.7,997.1 1006.3,1000.1 1006.1,1002.1 1005.7,1005.0 1005.4,1007.0 1005.1,1010.0 1004.8,1012.0 1004.4,1015.0 1004.2,1016.9 1003.8,1019.9 1003.6,1021.9 1003.2,1024.9 1003.0,1026.9 1002.6,1029.9 1002.4,1031.8 1002.0,1034.8 1001.8,1036.8 1001.4,1039.8 1001.2,1041.8 1000.8,1044.7 1000.6,1046.7 1000.2,1049.7 1000.0,1051.7 999.7,1054.7 999.4,1056.7 999.1,1059.6 998.8,1061.6 998.4,1064.6 998.2,1066.6 997.8,1069.6 997.6,1071.6 997.2,1074.5 997.0,1076.5 996.6,1079.5 996.4,1081.5 996.0,1084.5 995.7,1086.4 995.4,1089.4 995.1,1091.4 994.7,1094.4 994.5,1096.4 994.1,1099.3 993.8,1101.3 993.5,1104.3 993.2,1106.3 992.8,1109.2 992.6,1111.2 992.2,1114.2 991.9,1116.2 991.5,1119.2 991.3,1121.2 990.9,1124.1 990.6,1126.1 990.3,1129.1 990.0,1131.1 989.6,1134.0 989.4,1136.0 989.0,1139.0 988.7,1141.0 988.3,1144.0 988.1,1145.9 987.7,1148.9 987.4,1150.9 987.0,1153.9 986.8,1155.9 986.4,1158.8 986.1,1160.8 985.8,1163.8 985.5,1165.8 985.1,1168.8 984.9,1170.7 984.5,1173.7 984.2,1175.7 983.8,1178.7 983.6,1180.7 983.2,1183.6 982.9,1185.6 982.5,1188.6 982.2,1190.6 981.8,1193.5 981.6,1195.5 981.2,1198.5 980.9,1200.5 980.5,1203.4 980.2,1205.4 979.8,1208.4 979.5,1210.4 979.0,1213.3 978.7,1215.3 978.3,1218.3 978.0,1220.3 977.5,1223.2 977.2,1225.2 976.8,1228.2 976.5,1230.1 976.0,1233.1 975.7,1235.1 975.2,1238.0 974.9,1240.0 974.4,1243.0 974.1,1244.9 973.6,1247.9 973.3,1249.9 972.8,1252.8 972.4,1254.8 971.9,1257.8 971.6,1259.7 971.1,1262.7 970.7,1264.7 970.2,1267.6 969.9,1269.6 969.4,1272.6 969.1,1274.5 968.5,1277.5 968.2,1279.5 967.7,1282.4 967.3,1284.4 966.8,1287.3 966.5,1289.3 966.0,1292.3 965.6,1294.2 965.1,1297.2 964.8,1299.2 964.3,1302.1 963.9,1304.1 963.4,1307.0 963.1,1309.0 962.6,1312.0 962.2,1313.9 961.7,1316.9 961.4,1318.9 960.9,1321.8 960.5,1323.8 960.0,1326.8 959.7,1328.7 959.1,1331.7 958.8,1333.7 958.3,1336.6 957.9,1338.6 957.4,1341.5 957.0,1343.5 956.5,1346.4 956.1,1348.4 955.6,1351.4 955.2,1353.3 954.7,1356.3 954.3,1358.2 953.8,1361.2 953.4,1363.2 952.8,1366.1 952.4,1368.1 951.8,1371.0 951.5,1373.0 950.9,1375.9 950.5,1377.9 949.9,1380.8 949.5,1382.8 948.9,1385.7 948.4,1387.7 947.8,1390.6 947.4,1392.6 946.8,1395.5 946.3,1397.4 945.7,1400.4 945.3,1402.3 944.6,1405.2 944.2,1407.2 943.5,1410.1 943.0,1412.1 942.3,1415.0 941.9,1416.9 941.2,1419.9 940.7,1421.8 940.0,1424.7 939.5,1426.7 938.8,1429.6 938.3,1431.5 937.6,1434.4 937.1,1436.4 936.3,1439.3 935.8,1441.2 935.0,1444.1 934.5,1446.0 933.7,1448.9 933.1,1450.8 932.3,1453.7 931.8,1455.6 930.9,1458.5 930.3,1460.4 929.5,1463.3 928.9,1465.2 928.0,1468.1 927.3,1470.0 926.4,1472.8 925.8,1474.7 924.8,1477.5 924.1,1479.4 923.1,1482.2 922.4,1484.1 921.3,1486.9 920.6,1488.7 919.4,1491.5 918.7,1493.3 917.5,1496.1 916.7,1497.9 915.4,1500.6 914.6,1502.4 913.3,1505.1 912.4,1506.9 911.1,1509.6 910.1,1511.3 908.7,1513.9 907.8,1515.7 906.3,1518.3 905.3,1520.0 903.7,1522.5 902.6,1524.1 901.0,1526.6 899.8,1528.2 898.1,1530.6 896.9,1532.2 895.1,1534.5 893.8,1536.0 891.9,1538.2 890.6,1539.6 888.6,1541.8 887.2,1543.1 885.1,1545.1 883.6,1546.4 881.4,1548.3 879.9,1549.6 877.5,1551.3 876.0,1552.5 873.5,1554.1 871.9,1555.2 869.4,1556.8 867.7,1557.8 865.2,1559.2 863.4,1560.2 860.8,1561.5 859.0,1562.4 856.3,1563.7 854.5,1564.5 851.8,1565.7 850.0,1566.4 847.2,1567.5 845.3,1568.2 842.5,1569.2 840.7,1569.9 837.8,1570.8 835.9,1571.4 833.1,1572.2 831.2,1572.8 828.3,1573.5 826.4,1574.0 823.5,1574.7 821.5,1575.1 818.6,1575.7 816.7,1576.1 813.8,1576.6 811.8,1577.0 808.9,1577.4 806.9,1577.7 803.9,1578.2 801.9,1578.4 799.0,1578.8 797.0,1579.0 794.0,1579.4 792.0,1579.6 789.0,1579.9 787.0,1580.0 784.1,1580.3 782.1,1580.5 779.1,1580.7 777.1,1580.9 774.1,1581.1 772.1,1581.2 769.1,1581.4 767.1,1581.6 764.1,1581.7 762.1,1581.9 759.1,1582.0 757.1,1582.1 754.1,1582.3 752.1,1582.4 749.1,1582.5 747.1,1582.6 744.1,1582.7 742.1,1582.8 739.1,1582.9 737.1,1583.0 734.1,1583.1 732.1,1583.2 729.1,1583.2 727.1,1583.3 724.1,1583.4 722.1,1583.4 719.1,1583.5 717.1,1583.5 714.1,1583.5 712.1,1583.5 709.1,1583.6 707.1,1583.6 704.1,1583.6 702.1,1583.6 699.1,1583.6 697.1,1583.5 694.1,1583.5 692.1,1583.5 689.1,1583.4 687.1,1583.4 684.1,1583.4 682.1,1583.3 679.1,1583.3 677.1,1583.2 674.1,1583.1 672.1,1583.1 669.1,1583.0 667.1,1582.9 664.1,1582.8 662.1,1582.8 659.1,1582.7 657.1,1582.6 654.1,1582.5 652.1,1582.3 649.2,1582.1 647.2,1581.9 644.2,1581.6 642.2,1581.4 639.3,1581.0 637.3,1580.7 634.3,1580.2 632.3,1579.9 629.4,1579.4 627.4,1579.0 624.4,1578.5 622.5,1578.1 619.5,1577.6 617.5,1577.2 614.6,1576.6 612.6,1576.3 609.6,1575.7 607.6,1575.4 604.7,1574.9 602.7,1574.5 599.7,1574.1 597.8,1573.8 594.8,1573.3 592.8,1573.0 589.9,1572.5 587.9,1572.2 584.9,1571.8 582.9,1571.5 580.0,1571.0 578.0,1570.7 575.0,1570.2 573.1,1569.9 570.1,1569.4 568.1,1569.1 565.2,1568.6 563.2,1568.3 560.2,1567.8 558.3,1567.5 555.3,1567.0 553.3,1566.7 550.4,1566.2 548.4,1565.8 545.5,1565.3 543.5,1564.9 540.5,1564.4 538.6,1564.1 535.6,1563.5 533.6,1563.2 530.7,1562.7 528.7,1562.3 525.8,1561.8 523.8,1561.5 520.8,1560.9 518.9,1560.6 515.9,1560.1 513.9,1559.7 511.0,1559.2 509.0,1558.9 506.0,1558.4 504.1,1558.0 501.1,1557.5 499.1,1557.2 496.2,1556.7 494.2,1556.4 491.2,1556.0 489.3,1555.7 486.3,1555.3 484.3,1555.0 481.3,1554.5 479.4,1554.3 476.4,1553.9 474.4,1553.6 471.4,1553.3 469.4,1553.1 466.4,1552.9 464.4,1552.8 461.4,1552.6 459.4,1552.6 456.4,1552.5 454.4,1552.4 451.4,1552.3 449.4,1552.3 446.4,1552.3 444.4,1552.5 441.4,1552.8 439.5,1553.1 436.5,1553.5 434.5,1553.9 431.6,1554.5 429.7,1555.1 426.9,1556.1 425.0,1556.8 422.2,1557.9 420.3,1558.7 417.6,1559.9 415.8,1560.8 413.2,1562.2 411.4,1563.2 408.8,1564.7 407.1,1565.7 404.4,1567.1 402.7,1568.1 400.0,1569.5 398.3,1570.5 395.7,1571.9 393.9,1572.9 391.3,1574.3 389.5,1575.3 386.9,1576.8 385.1,1577.7 382.5,1579.2 380.8,1580.2 378.2,1581.6 376.4,1582.6 373.8,1584.1 372.1,1585.1 369.4,1586.5 367.7,1587.4 365.0,1588.8 363.2,1589.7 360.5,1591.0 358.7,1591.9 356.0,1593.3 354.2,1594.1 351.4,1595.4 349.6,1596.1 346.8,1597.2 344.9,1597.8 342.1,1598.7 340.2,1599.3 337.3,1600.1 335.3,1600.6 332.4,1601.3 330.4,1601.8 327.5,1602.4 325.5,1602.7 322.6,1603.2 320.6,1603.5 317.7,1603.9 315.7,1604.2 312.7,1604.6 310.7,1604.8 307.7,1605.1 305.7,1605.3 302.7,1605.5 300.7,1605.6ZM296.5,1601.4 298.5,1601.3 301.5,1601.1 303.5,1600.9 306.5,1600.6 308.5,1600.4 311.5,1600.0 313.5,1599.7 316.4,1599.3 318.4,1599.0 321.3,1598.5 323.3,1598.2 326.2,1597.6 328.2,1597.1 331.1,1596.4 333.1,1595.9 336.0,1595.1 337.9,1594.5 340.7,1593.6 342.6,1593.0 345.4,1591.9 347.2,1591.2 350.0,1589.9 351.8,1589.1 354.5,1587.7 356.3,1586.8 359.0,1585.5 360.8,1584.6 363.5,1583.2 365.2,1582.3 367.9,1580.9 369.6,1579.9 372.2,1578.4 374.0,1577.4 376.6,1576.0 378.3,1575.0 380.9,1573.5 382.7,1572.6 385.3,1571.1 387.1,1570.1 389.7,1568.7 391.5,1567.7 394.1,1566.3 395.8,1565.3 398.5,1563.9 400.2,1562.9 402.9,1561.5 404.6,1560.5 407.2,1559.0 409.0,1558.0 411.6,1556.6 413.4,1555.7 416.1,1554.5 418.0,1553.7 420.8,1552.6 422.7,1551.9 425.5,1550.9 427.4,1550.3 430.3,1549.7 432.3,1549.3 435.3,1548.9 437.2,1548.6 440.2,1548.3 442.2,1548.1 445.2,1548.1 453.6,1548.1 450.6,1548.1 448.6,1548.3 445.6,1548.6 443.7,1548.9 440.7,1549.3 438.7,1549.7 435.8,1550.3 433.9,1550.9 431.1,1551.9 429.2,1552.6 426.4,1553.7 424.5,1554.5 421.8,1555.7 420.0,1556.6 417.4,1558.0 415.6,1559.0 413.0,1560.5 411.3,1561.5 408.6,1562.9 406.9,1563.9 404.2,1565.3 402.5,1566.3 399.9,1567.7 398.1,1568.7 395.5,1570.1 393.7,1571.1 391.1,1572.6 389.3,1573.5 386.7,1575.0 385.0,1576.0 382.4,1577.4 380.6,1578.4 378.0,1579.9 376.3,1580.9 373.6,1582.3 371.9,1583.2 369.2,1584.6 367.4,1585.5 364.7,1586.8 362.9,1587.7 360.2,1589.1 358.4,1589.9 355.6,1591.2 353.8,1591.9 351.0,1593.0 349.1,1593.6 346.3,1594.5 344.4,1595.1 341.5,1595.9 339.5,1596.4 336.6,1597.1 334.6,1597.6 331.7,1598.2 329.7,1598.5 326.8,1599.0 324.8,1599.3 321.9,1599.7 319.9,1600.0 316.9,1600.4 314.9,1600.6 311.9,1600.9 309.9,1601.1 306.9,1601.3 304.9,1601.4ZM453.6,1548.1 455.6,1548.1 458.6,1548.2 460.6,1548.3 463.6,1548.4 465.6,1548.4 468.6,1548.6 470.6,1548.7 473.6,1548.9 475.6,1549.1 478.6,1549.4 480.6,1549.7 483.6,1550.1 485.5,1550.3 488.5,1550.8 490.5,1551.1 493.5,1551.5 495.4,1551.8 498.4,1552.2 500.4,1552.5 503.3,1553.0 505.3,1553.3 508.3,1553.8 510.2,1554.2 513.2,1554.7 515.2,1555.0 518.1,1555.5 520.1,1555.9 523.1,1556.4 525.0,1556.7 528.0,1557.3 530.0,1557.6 532.9,1558.1 534.9,1558.5 537.8,1559.0 539.8,1559.3 542.8,1559.9 544.7,1560.2 547.7,1560.7 549.7,1561.1 552.6,1561.6 554.6,1562.0 557.5,1562.5 559.5,1562.8 562.5,1563.3 564.4,1563.6 567.4,1564.1 569.4,1564.4 572.3,1564.9 574.3,1565.2 577.3,1565.7 579.2,1566.0 582.2,1566.5 584.2,1566.8 587.1,1567.3 589.1,1567.6 592.1,1568.0 594.1,1568.3 597.0,1568.8 599.0,1569.1 602.0,1569.6 603.9,1569.9 606.9,1570.3 608.9,1570.7 611.8,1571.2 613.8,1571.5 616.8,1572.1 618.8,1572.4 621.7,1573.0 623.7,1573.4 626.7,1573.9 628.6,1574.3 631.6,1574.8 633.6,1575.2 636.5,1575.7 638.5,1576.0 641.5,1576.5 643.5,1576.8 646.4,1577.2 648.4,1577.4 651.4,1577.7 653.4,1577.9 656.3,1578.1 658.3,1578.3 661.3,1578.4 663.3,1578.5 666.3,1578.6 668.3,1578.6 671.3,1578.7 673.3,1578.8 676.3,1578.9 678.3,1578.9 681.3,1579.0 683.3,1579.1 686.3,1579.1 688.3,1579.2 691.3,1579.2 693.3,1579.2 696.3,1579.3 698.3,1579.3 701.3,1579.3 703.3,1579.4 706.3,1579.4 708.3,1579.4 699.9,1579.4 697.9,1579.4 694.9,1579.4 692.9,1579.3 689.9,1579.3 687.9,1579.3 684.9,1579.2 682.9,1579.2 679.9,1579.2 677.9,1579.1 674.9,1579.1 672.9,1579.0 669.9,1578.9 667.9,1578.9 664.9,1578.8 662.9,1578.7 659.9,1578.6 657.9,1578.6 654.9,1578.5 652.9,1578.4 649.9,1578.3 647.9,1578.1 645.0,1577.9 643.0,1577.7 640.0,1577.4 638.0,1577.2 635.1,1576.8 633.1,1576.5 630.1,1576.0 628.1,1575.7 625.2,1575.2 623.2,1574.8 620.2,1574.3 618.3,1573.9 615.3,1573.4 613.3,1573.0 610.4,1572.4 608.4,1572.1 605.4,1571.5 603.4,1571.2 600.5,1570.7 598.5,1570.3 595.5,1569.9 593.6,1569.6 590.6,1569.1 588.6,1568.8 585.7,1568.3 583.7,1568.0 580.7,1567.6 578.7,1567.3 575.8,1566.8 573.8,1566.5 570.8,1566.0 568.9,1565.7 565.9,1565.2 563.9,1564.9 561.0,1564.4 559.0,1564.1 556.0,1563.6 554.1,1563.3 551.1,1562.8 549.1,1562.5 546.2,1562.0 544.2,1561.6 541.3,1561.1 539.3,1560.7 536.3,1560.2 534.4,1559.9 531.4,1559.3 529.4,1559.0 526.5,1558.5 524.5,1558.1 521.6,1557.6 519.6,1557.3 516.6,1556.7 514.7,1556.4 511.7,1555.9 509.7,1555.5 506.8,1555.0 504.8,1554.7 501.8,1554.2 499.9,1553.8 496.9,1553.3 494.9,1553.0 492.0,1552.5 490.0,1552.2 487.0,1551.8 485.1,1551.5 482.1,1551.1 480.1,1550.8 477.1,1550.3 475.2,1550.1 472.2,1549.7 470.2,1549.4 467.2,1549.1 465.2,1548.9 462.2,1548.7 460.2,1548.6 457.2,1548.4 455.2,1548.4 452.2,1548.3 450.2,1548.2 447.2,1548.1 445.2,1548.1ZM699.9,1579.4 702.9,1579.4 704.9,1579.4 707.9,1579.3 709.9,1579.3 712.9,1579.3 714.9,1579.3 717.9,1579.2 719.9,1579.2 722.9,1579.1 724.9,1579.0 727.9,1579.0 729.9,1578.9 732.9,1578.8 734.9,1578.7 737.9,1578.6 739.9,1578.5 742.9,1578.4 744.9,1578.3 747.9,1578.2 749.9,1578.1 752.9,1577.9 754.9,1577.8 757.9,1577.7 759.9,1577.5 762.9,1577.4 764.9,1577.2 767.9,1577.0 769.9,1576.9 772.9,1576.7 774.9,1576.5 777.9,1576.3 779.9,1576.1 782.8,1575.8 784.8,1575.7 787.8,1575.4 789.8,1575.2 792.8,1574.8 794.8,1574.6 797.7,1574.2 799.7,1574.0 802.7,1573.5 804.7,1573.2 807.6,1572.8 809.6,1572.4 812.5,1571.9 814.4,1571.5 817.3,1570.9 819.3,1570.5 822.2,1569.8 824.1,1569.3 827.0,1568.6 828.9,1568.0 831.7,1567.2 833.6,1566.6 836.5,1565.7 838.3,1565.0 841.1,1564.0 843.0,1563.3 845.8,1562.2 847.6,1561.5 850.3,1560.3 852.1,1559.5 854.8,1558.2 856.6,1557.3 859.2,1556.0 861.0,1555.0 863.5,1553.6 865.2,1552.6 867.7,1551.0 869.3,1549.9 871.8,1548.3 873.3,1547.1 875.7,1545.4 877.2,1544.1 879.4,1542.2 880.9,1540.9 883.0,1538.9 884.4,1537.6 886.4,1535.4 887.7,1534.0 889.6,1531.8 890.9,1530.3 892.7,1528.0 893.9,1526.4 895.6,1524.0 896.8,1522.4 898.4,1519.9 899.5,1518.3 901.1,1515.8 902.1,1514.1 903.6,1511.5 904.5,1509.7 905.9,1507.1 906.9,1505.4 908.2,1502.7 909.1,1500.9 910.4,1498.2 911.2,1496.4 912.5,1493.7 913.3,1491.9 914.5,1489.1 915.2,1487.3 916.4,1484.5 917.1,1482.7 918.2,1479.9 918.9,1478.0 919.9,1475.2 920.6,1473.3 921.6,1470.5 922.2,1468.6 923.1,1465.8 923.8,1463.9 924.7,1461.0 925.3,1459.1 926.1,1456.2 926.7,1454.3 927.6,1451.4 928.1,1449.5 928.9,1446.6 929.5,1444.7 930.3,1441.8 930.8,1439.9 931.6,1437.0 932.1,1435.1 932.9,1432.2 933.4,1430.2 934.1,1427.3 934.6,1425.4 935.3,1422.5 935.8,1420.5 936.5,1417.6 937.0,1415.7 937.7,1412.7 938.1,1410.8 938.8,1407.9 939.3,1405.9 940.0,1403.0 940.4,1401.0 941.1,1398.1 941.5,1396.2 942.1,1393.2 942.6,1391.3 943.2,1388.4 943.6,1386.4 944.2,1383.5 944.7,1381.5 945.3,1378.6 945.7,1376.6 946.3,1373.7 946.7,1371.7 947.3,1368.8 947.6,1366.8 948.2,1363.9 948.6,1361.9 949.2,1359.0 949.6,1357.0 950.1,1354.0 950.5,1352.1 951.0,1349.1 951.4,1347.2 951.9,1344.2 952.3,1342.2 952.8,1339.3 953.2,1337.3 953.7,1334.4 954.1,1332.4 954.6,1329.5 954.9,1327.5 955.5,1324.5 955.8,1322.6 956.3,1319.6 956.7,1317.6 957.2,1314.7 957.5,1312.7 958.0,1309.7 958.4,1307.8 958.9,1304.8 959.2,1302.8 959.7,1299.9 960.1,1297.9 960.6,1295.0 960.9,1293.0 961.4,1290.0 961.8,1288.1 962.3,1285.1 962.6,1283.1 963.1,1280.2 963.5,1278.2 964.0,1275.3 964.3,1273.3 964.9,1270.3 965.2,1268.4 965.7,1265.4 966.0,1263.4 966.5,1260.5 966.9,1258.5 967.4,1255.5 967.7,1253.6 968.2,1250.6 968.6,1248.6 969.1,1245.7 969.4,1243.7 969.9,1240.7 970.2,1238.8 970.7,1235.8 971.0,1233.8 971.5,1230.9 971.8,1228.9 972.3,1225.9 972.6,1224.0 973.0,1221.0 973.3,1219.0 973.8,1216.1 974.1,1214.1 974.5,1211.1 974.8,1209.1 975.3,1206.2 975.6,1204.2 976.0,1201.2 976.3,1199.2 976.7,1196.3 977.0,1194.3 977.4,1191.3 977.6,1189.3 978.0,1186.4 978.3,1184.4 978.7,1181.4 979.0,1179.4 979.4,1176.5 979.6,1174.5 980.0,1171.5 980.3,1169.5 980.7,1166.5 980.9,1164.6 981.3,1161.6 981.6,1159.6 981.9,1156.6 982.2,1154.6 982.6,1151.7 982.8,1149.7 983.2,1146.7 983.5,1144.7 983.9,1141.7 984.1,1139.8 984.5,1136.8 984.8,1134.8 985.2,1131.8 985.4,1129.8 985.8,1126.9 986.1,1124.9 986.4,1121.9 986.7,1119.9 987.1,1117.0 987.3,1115.0 987.7,1112.0 988.0,1110.0 988.4,1107.0 988.6,1105.0 989.0,1102.1 989.3,1100.1 989.6,1097.1 989.9,1095.1 990.3,1092.2 990.5,1090.2 990.9,1087.2 991.2,1085.2 991.5,1082.2 991.8,1080.3 992.2,1077.3 992.4,1075.3 992.8,1072.3 993.0,1070.3 993.4,1067.4 993.6,1065.4 994.0,1062.4 994.2,1060.4 994.6,1057.4 994.9,1055.4 995.2,1052.5 995.5,1050.5 995.8,1047.5 996.0,1045.5 996.4,1042.5 996.6,1040.5 997.0,1037.6 997.2,1035.6 997.6,1032.6 997.8,1030.6 998.2,1027.6 998.4,1025.7 998.8,1022.7 999.0,1020.7 999.4,1017.7 999.6,1015.7 1000.0,1012.7 1000.2,1010.8 1000.6,1007.8 1000.9,1005.8 1001.2,1002.8 1001.5,1000.8 1001.9,997.9 1002.1,995.9 1002.5,992.9 1002.8,990.9 1003.2,988.0 1003.4,986.0 1003.8,983.0 1004.1,981.0 1004.5,978.0 1004.8,976.1 1005.2,973.1 1005.5,971.1 1005.9,968.1 1006.1,966.2 1006.6,963.2 1006.8,961.2 1007.3,958.2 1007.6,956.3 1008.0,953.3 1008.3,951.3 1008.7,948.3 1009.0,946.4 1009.5,943.4 1009.8,941.4 1010.2,938.5 1010.5,936.5 1011.0,933.5 1011.3,931.5 1011.7,928.6 1012.0,926.6 1012.5,923.6 1012.8,921.7 1013.3,918.7 1013.6,916.7 1014.0,913.7 1014.3,911.8 1014.8,908.8 1015.1,906.8 1015.6,903.9 1015.9,901.9 1016.4,898.9 1016.7,897.0 1017.1,894.0 1017.4,892.0 1017.9,889.0 1018.2,887.1 1018.7,884.1 1019.0,882.1 1019.4,879.2 1019.7,877.2 1020.2,874.2 1020.5,872.2 1020.9,869.3 1021.2,867.3 1021.7,864.3 1022.0,862.4 1022.4,859.4 1022.7,857.4 1023.2,854.4 1023.5,852.5 1023.9,849.5 1024.2,847.5 1024.7,844.6 1025.0,842.6 1025.4,839.6 1025.7,837.6 1026.2,834.7 1026.5,832.7 1026.9,829.7 1027.2,827.8 1027.7,824.8 1028.0,822.8 1028.5,819.9 1028.8,817.9 1029.3,814.9 1029.6,812.9 1030.1,810.0 1030.4,808.0 1030.9,805.0 1031.2,803.1 1031.7,800.1 1032.1,798.1 1032.6,795.2 1032.9,793.2 1033.4,790.3 1033.8,788.3 1034.3,785.3 1034.6,783.4 1035.2,780.4 1035.5,778.5 1036.1,775.5 1036.4,773.5 1037.0,770.6 1037.3,768.6 1037.9,765.7 1038.3,763.7 1038.8,760.8 1039.2,758.8 1039.7,755.8 1040.1,753.9 1040.7,750.9 1041.1,749.0 1041.7,746.0 1042.0,744.1 1042.6,741.1 1043.0,739.2 1043.6,736.2 1044.0,734.3 1044.6,731.3 1045.0,729.4 1045.6,726.4 1046.0,724.5 1046.6,721.5 1047.0,719.6 1047.6,716.6 1048.0,714.7 1048.6,711.7 1049.0,709.8 1049.6,706.8 1050.0,704.9 1050.6,701.9 1051.0,700.0 1051.6,697.0 1052.1,695.1 1052.7,692.1 1053.1,690.2 1053.8,687.3 1054.2,685.3 1054.8,682.4 1055.3,680.4 1056.0,677.5 1056.4,675.6 1057.1,672.7 1057.5,670.7 1058.2,667.8 1058.7,665.9 1059.4,663.0 1059.9,661.1 1060.7,658.2 1061.2,656.3 1062.0,653.4 1062.5,651.5 1063.4,648.7 1063.9,646.8 1064.8,643.9 1065.3,642.0 1066.2,639.1 1066.7,637.2 1067.6,634.3 1068.2,632.4 1069.3,629.6 1070.0,627.7 1071.2,624.9 1072.1,622.9 1073.7,620.3 1074.9,618.8 1077.1,617.0 1079.0,616.0 1081.8,615.6 1090.2,615.6 1087.4,616.0 1085.5,617.0 1083.3,618.8 1082.1,620.3 1080.5,622.9 1079.6,624.9 1078.4,627.7 1077.7,629.6 1076.6,632.4 1076.0,634.3 1075.1,637.2 1074.6,639.1 1073.7,642.0 1073.2,643.9 1072.3,646.8 1071.8,648.7 1070.9,651.5 1070.4,653.4 1069.6,656.3 1069.1,658.2 1068.3,661.1 1067.8,663.0 1067.1,665.9 1066.6,667.8 1065.9,670.7 1065.5,672.7 1064.8,675.6 1064.4,677.5 1063.7,680.4 1063.2,682.4 1062.6,685.3 1062.2,687.3 1061.5,690.2 1061.1,692.1 1060.5,695.1 1060.0,697.0 1059.4,700.0 1059.0,701.9 1058.4,704.9 1058.0,706.8 1057.4,709.8 1057.0,711.7 1056.4,714.7 1056.0,716.6 1055.4,719.6 1055.0,721.5 1054.4,724.5 1054.0,726.4 1053.4,729.4 1053.0,731.3 1052.4,734.3 1052.0,736.2 1051.4,739.2 1051.0,741.1 1050.4,744.1 1050.1,746.0 1049.5,749.0 1049.1,750.9 1048.5,753.9 1048.1,755.8 1047.6,758.8 1047.2,760.8 1046.7,763.7 1046.3,765.7 1045.7,768.6 1045.4,770.6 1044.8,773.5 1044.5,775.5 1043.9,778.5 1043.6,780.4 1043.0,783.4 1042.7,785.3 1042.2,788.3 1041.8,790.3 1041.3,793.2 1041.0,795.2 1040.5,798.1 1040.1,800.1 1039.6,803.1 1039.3,805.0 1038.8,808.0 1038.5,810.0 1038.0,812.9 1037.7,814.9 1037.2,817.9 1036.9,819.9 1036.4,822.8 1036.1,824.8 1035.6,827.8 1035.3,829.7 1034.9,832.7 1034.6,834.7 1034.1,837.6 1033.8,839.6 1033.4,842.6 1033.1,844.6 1032.6,847.5 1032.3,849.5 1031.9,852.5 1031.6,854.4 1031.1,857.4 1030.8,859.4 1030.4,862.4 1030.1,864.3 1029.6,867.3 1029.3,869.3 1028.9,872.2 1028.6,874.2 1028.1,877.2 1027.8,879.2 1027.4,882.1 1027.1,884.1 1026.6,887.1 1026.3,889.0 1025.8,892.0 1025.5,894.0 1025.1,897.0 1024.8,898.9 1024.3,901.9 1024.0,903.9 1023.5,906.8 1023.2,908.8 1022.7,911.8 1022.4,913.7 1022.0,916.7 1021.7,918.7 1021.2,921.7 1020.9,923.6 1020.4,926.6 1020.1,928.6 1019.7,931.5 1019.4,933.5 1018.9,936.5 1018.6,938.5 1018.2,941.4 1017.9,943.4 1017.4,946.4 1017.1,948.3 1016.7,951.3 1016.4,953.3 1016.0,956.3 1015.7,958.2 1015.2,961.2 1015.0,963.2 1014.5,966.2 1014.3,968.1 1013.9,971.1 1013.6,973.1 1013.2,976.1 1012.9,978.0 1012.5,981.0 1012.2,983.0 1011.8,986.0 1011.6,988.0 1011.2,990.9 1010.9,992.9 1010.5,995.9 1010.3,997.9 1009.9,1000.8 1009.6,1002.8 1009.3,1005.8 1009.0,1007.8 1008.6,1010.8 1008.4,1012.7 1008.0,1015.7 1007.8,1017.7 1007.4,1020.7 1007.2,1022.7 1006.8,1025.7 1006.6,1027.6 1006.2,1030.6 1006.0,1032.6 1005.6,1035.6 1005.4,1037.6 1005.0,1040.5 1004.8,1042.5 1004.4,1045.5 1004.2,1047.5 1003.9,1050.5 1003.6,1052.5 1003.3,1055.4 1003.0,1057.4 1002.6,1060.4 1002.4,1062.4 1002.0,1065.4 1001.8,1067.4 1001.4,1070.3 1001.2,1072.3 1000.8,1075.3 1000.6,1077.3 1000.2,1080.3 999.9,1082.2 999.6,1085.2 999.3,1087.2 998.9,1090.2 998.7,1092.2 998.3,1095.1 998.0,1097.1 997.7,1100.1 997.4,1102.1 997.0,1105.0 996.8,1107.0 996.4,1110.0 996.1,1112.0 995.7,1115.0 995.5,1117.0 995.1,1119.9 994.8,1121.9 994.5,1124.9 994.2,1126.9 993.8,1129.8 993.6,1131.8 993.2,1134.8 992.9,1136.8 992.5,1139.8 992.3,1141.7 991.9,1144.7 991.6,1146.7 991.2,1149.7 991.0,1151.7 990.6,1154.6 990.3,1156.6 990.0,1159.6 989.7,1161.6 989.3,1164.6 989.1,1166.5 988.7,1169.5 988.4,1171.5 988.0,1174.5 987.8,1176.5 987.4,1179.4 987.1,1181.4 986.7,1184.4 986.4,1186.4 986.0,1189.3 985.8,1191.3 985.4,1194.3 985.1,1196.3 984.7,1199.2 984.4,1201.2 984.0,1204.2 983.7,1206.2 983.2,1209.1 982.9,1211.1 982.5,1214.1 982.2,1216.1 981.7,1219.0 981.4,1221.0 981.0,1224.0 980.7,1225.9 980.2,1228.9 979.9,1230.9 979.4,1233.8 979.1,1235.8 978.6,1238.8 978.3,1240.7 977.8,1243.7 977.5,1245.7 977.0,1248.6 976.6,1250.6 976.1,1253.6 975.8,1255.5 975.3,1258.5 974.9,1260.5 974.4,1263.4 974.1,1265.4 973.6,1268.4 973.3,1270.3 972.7,1273.3 972.4,1275.3 971.9,1278.2 971.5,1280.2 971.0,1283.1 970.7,1285.1 970.2,1288.1 969.8,1290.0 969.3,1293.0 969.0,1295.0 968.5,1297.9 968.1,1299.9 967.6,1302.8 967.3,1304.8 966.8,1307.8 966.4,1309.7 965.9,1312.7 965.6,1314.7 965.1,1317.6 964.7,1319.6 964.2,1322.6 963.9,1324.5 963.3,1327.5 963.0,1329.5 962.5,1332.4 962.1,1334.4 961.6,1337.3 961.2,1339.3 960.7,1342.2 960.3,1344.2 959.8,1347.2 959.4,1349.1 958.9,1352.1 958.5,1354.0 958.0,1357.0 957.6,1359.0 957.0,1361.9 956.6,1363.9 956.0,1366.8 955.7,1368.8 955.1,1371.7 954.7,1373.7 954.1,1376.6 953.7,1378.6 953.1,1381.5 952.6,1383.5 952.0,1386.4 951.6,1388.4 951.0,1391.3 950.5,1393.2 949.9,1396.2 949.5,1398.1 948.8,1401.0 948.4,1403.0 947.7,1405.9 947.2,1407.9 946.5,1410.8 946.1,1412.7 945.4,1415.7 944.9,1417.6 944.2,1420.5 943.7,1422.5 943.0,1425.4 942.5,1427.3 941.8,1430.2 941.3,1432.2 940.5,1435.1 940.0,1437.0 939.2,1439.9 938.7,1441.8 937.9,1444.7 937.3,1446.6 936.5,1449.5 936.0,1451.4 935.1,1454.3 934.5,1456.2 933.7,1459.1 933.1,1461.0 932.2,1463.9 931.5,1465.8 930.6,1468.6 930.0,1470.5 929.0,1473.3 928.3,1475.2 927.3,1478.0 926.6,1479.9 925.5,1482.7 924.8,1484.5 923.6,1487.3 922.9,1489.1 921.7,1491.9 920.9,1493.7 919.6,1496.4 918.8,1498.2 917.5,1500.9 916.6,1502.7 915.3,1505.4 914.3,1507.1 912.9,1509.7 912.0,1511.5 910.5,1514.1 909.5,1515.8 907.9,1518.3 906.8,1519.9 905.2,1522.4 904.0,1524.0 902.3,1526.4 901.1,1528.0 899.3,1530.3 898.0,1531.8 896.1,1534.0 894.8,1535.4 892.8,1537.6 891.4,1538.9 889.3,1540.9 887.8,1542.2 885.6,1544.1 884.1,1545.4 881.7,1547.1 880.2,1548.3 877.7,1549.9 876.1,1551.0 873.6,1552.6 871.9,1553.6 869.4,1555.0 867.6,1556.0 865.0,1557.3 863.2,1558.2 860.5,1559.5 858.7,1560.3 856.0,1561.5 854.2,1562.2 851.4,1563.3 849.5,1564.0 846.7,1565.0 844.9,1565.7 842.0,1566.6 840.1,1567.2 837.3,1568.0 835.4,1568.6 832.5,1569.3 830.6,1569.8 827.7,1570.5 825.7,1570.9 822.8,1571.5 820.9,1571.9 818.0,1572.4 816.0,1572.8 813.1,1573.2 811.1,1573.5 808.1,1574.0 806.1,1574.2 803.2,1574.6 801.2,1574.8 798.2,1575.2 796.2,1575.4 793.2,1575.7 791.2,1575.8 788.3,1576.1 786.3,1576.3 783.3,1576.5 781.3,1576.7 778.3,1576.9 776.3,1577.0 773.3,1577.2 771.3,1577.4 768.3,1577.5 766.3,1577.7 763.3,1577.8 761.3,1577.9 758.3,1578.1 756.3,1578.2 753.3,1578.3 751.3,1578.4 748.3,1578.5 746.3,1578.6 743.3,1578.7 741.3,1578.8 738.3,1578.9 736.3,1579.0 733.3,1579.0 731.3,1579.1 728.3,1579.2 726.3,1579.2 723.3,1579.3 721.3,1579.3 718.3,1579.3 716.3,1579.3 713.3,1579.4 711.3,1579.4 708.3,1579.4ZM1090.2,615.6 1092.2,616.3 1094.8,618.1 1096.2,619.3 1098.0,621.6 1099.1,623.4 1100.5,626.3 1101.3,628.1 1102.4,630.9 1103.1,632.7 1104.0,635.6 1104.6,637.5 1105.4,640.4 1106.0,642.4 1106.8,645.2 1107.4,647.1 1108.2,650.0 1108.7,651.9 1109.6,654.7 1110.1,656.6 1110.9,659.5 1111.4,661.4 1112.1,664.3 1112.6,666.2 1113.3,669.1 1113.7,671.1 1114.4,674.0 1114.9,675.9 1115.5,678.9 1115.9,680.8 1116.6,683.7 1117.0,685.7 1117.6,688.6 1117.9,690.6 1118.5,693.5 1118.9,695.5 1119.4,698.4 1119.8,700.4 1120.3,703.4 1120.6,705.3 1121.1,708.3 1121.4,710.3 1121.9,713.2 1122.2,715.2 1122.6,718.2 1122.9,720.2 1123.3,723.1 1123.6,725.1 1124.1,728.1 1124.3,730.0 1124.8,733.0 1125.0,735.0 1125.4,738.0 1125.7,740.0 1126.1,742.9 1126.4,744.9 1126.8,747.9 1127.1,749.9 1127.5,752.8 1127.8,754.8 1128.2,757.8 1128.5,759.8 1128.9,762.7 1129.2,764.7 1129.7,767.7 1130.0,769.7 1130.4,772.6 1130.7,774.6 1131.1,777.6 1131.4,779.5 1131.9,782.5 1132.2,784.5 1132.7,787.4 1133.0,789.4 1133.5,792.4 1133.8,794.4 1134.3,797.3 1134.6,799.3 1135.1,802.2 1135.4,804.2 1135.9,807.2 1136.3,809.2 1136.8,812.1 1137.1,814.1 1137.6,817.0 1138.0,819.0 1138.5,822.0 1138.8,823.9 1139.3,826.9 1139.7,828.9 1140.2,831.8 1140.5,833.8 1141.0,836.7 1141.3,838.7 1141.8,841.7 1142.2,843.6 1142.6,846.6 1143.0,848.6 1143.4,851.5 1143.7,853.5 1144.2,856.5 1144.5,858.5 1144.9,861.4 1145.2,863.4 1145.7,866.4 1146.0,868.3 1146.4,871.3 1146.7,873.3 1147.1,876.3 1147.4,878.2 1147.8,881.2 1148.1,883.2 1148.5,886.2 1148.8,888.1 1149.3,891.1 1149.5,893.1 1150.0,896.1 1150.3,898.0 1150.7,901.0 1151.0,903.0 1151.4,905.9 1151.7,907.9 1152.2,910.9 1152.5,912.9 1153.0,915.8 1153.3,917.8 1153.7,920.8 1154.0,922.7 1154.5,925.7 1154.8,927.7 1155.3,930.7 1155.6,932.6 1156.0,935.6 1156.4,937.6 1156.8,940.5 1157.1,942.5 1157.6,945.5 1157.9,947.4 1158.4,950.4 1158.7,952.4 1159.2,955.3 1159.5,957.3 1160.0,960.3 1160.3,962.3 1160.7,965.2 1161.1,967.2 1161.5,970.2 1161.8,972.1 1162.3,975.1 1162.6,977.1 1163.1,980.0 1163.4,982.0 1163.8,985.0 1164.1,987.0 1164.6,989.9 1164.9,991.9 1165.4,994.9 1165.7,996.8 1166.2,999.8 1166.5,1001.8 1166.9,1004.7 1167.3,1006.7 1167.7,1009.7 1168.0,1011.7 1168.5,1014.6 1168.9,1016.6 1169.4,1019.5 1169.7,1021.5 1170.2,1024.5 1170.5,1026.4 1171.1,1029.4 1171.4,1031.4 1172.0,1034.3 1172.3,1036.3 1172.9,1039.2 1173.3,1041.2 1173.8,1044.1 1174.2,1046.1 1174.8,1049.0 1175.2,1051.0 1175.8,1053.9 1176.2,1055.9 1176.8,1058.8 1177.3,1060.8 1177.9,1063.7 1178.3,1065.7 1179.0,1068.6 1179.4,1070.5 1180.1,1073.5 1180.5,1075.4 1181.2,1078.3 1181.7,1080.3 1182.4,1083.2 1182.8,1085.1 1183.5,1088.1 1184.0,1090.0 1184.7,1092.9 1185.2,1094.9 1185.9,1097.8 1186.4,1099.7 1187.2,1102.6 1187.7,1104.5 1188.4,1107.5 1188.9,1109.4 1189.7,1112.3 1190.2,1114.2 1191.0,1117.1 1191.5,1119.0 1192.3,1121.9 1192.8,1123.9 1193.7,1126.8 1194.2,1128.7 1195.0,1131.6 1195.6,1133.5 1196.4,1136.4 1197.0,1138.3 1197.8,1141.2 1198.4,1143.1 1199.3,1145.9 1199.9,1147.9 1200.7,1150.7 1201.3,1152.6 1202.2,1155.5 1202.8,1157.4 1203.8,1160.3 1204.4,1162.2 1205.3,1165.0 1205.9,1166.9 1206.9,1169.8 1207.5,1171.6 1208.5,1174.5 1209.2,1176.4 1210.2,1179.2 1210.8,1181.1 1211.8,1183.9 1212.5,1185.8 1213.6,1188.6 1214.3,1190.5 1215.3,1193.3 1216.0,1195.1 1217.1,1197.9 1217.9,1199.8 1219.0,1202.6 1219.7,1204.4 1220.9,1207.2 1221.6,1209.0 1222.8,1211.8 1223.6,1213.6 1224.8,1216.4 1225.6,1218.2 1226.8,1221.0 1227.6,1222.8 1228.8,1225.5 1229.7,1227.3 1230.9,1230.1 1231.8,1231.9 1233.0,1234.6 1233.8,1236.4 1235.1,1239.1 1235.9,1241.0 1237.2,1243.7 1238.0,1245.5 1239.3,1248.2 1240.1,1250.0 1241.3,1252.8 1242.2,1254.6 1243.4,1257.3 1244.2,1259.2 1245.5,1261.9 1246.3,1263.7 1247.5,1266.4 1248.4,1268.3 1249.6,1271.0 1250.5,1272.8 1251.7,1275.5 1252.6,1277.3 1253.9,1280.0 1254.8,1281.8 1256.1,1284.5 1257.0,1286.3 1258.3,1289.0 1259.2,1290.7 1260.6,1293.4 1261.5,1295.2 1263.0,1297.8 1263.9,1299.6 1265.4,1302.2 1266.4,1303.9 1267.9,1306.5 1268.9,1308.2 1270.4,1310.8 1271.4,1312.5 1273.0,1315.0 1274.1,1316.7 1275.7,1319.3 1276.8,1320.9 1278.4,1323.4 1279.6,1325.1 1281.3,1327.5 1282.4,1329.2 1284.2,1331.6 1285.3,1333.2 1287.1,1335.6 1288.3,1337.2 1290.2,1339.5 1291.4,1341.1 1293.3,1343.4 1294.6,1344.9 1296.5,1347.2 1297.8,1348.7 1299.8,1351.0 1301.1,1352.4 1303.2,1354.6 1304.5,1356.1 1306.6,1358.2 1308.0,1359.7 1310.1,1361.8 1311.5,1363.2 1313.7,1365.3 1315.1,1366.7 1317.3,1368.7 1318.8,1370.1 1321.0,1372.1 1322.5,1373.4 1324.7,1375.4 1326.2,1376.7 1328.5,1378.7 1330.0,1380.0 1332.3,1381.9 1333.8,1383.2 1336.1,1385.1 1337.7,1386.3 1340.1,1388.2 1341.6,1389.4 1344.0,1391.3 1345.6,1392.5 1348.0,1394.3 1349.6,1395.5 1352.0,1397.3 1353.6,1398.4 1356.0,1400.2 1357.7,1401.3 1360.1,1403.0 1361.8,1404.2 1364.3,1405.9 1365.9,1407.0 1368.4,1408.6 1370.1,1409.7 1372.6,1411.3 1374.3,1412.4 1376.8,1414.0 1378.5,1415.0 1381.1,1416.6 1382.8,1417.6 1385.4,1419.1 1387.1,1420.1 1389.7,1421.6 1391.5,1422.6 1394.1,1424.1 1395.8,1425.0 1398.5,1426.5 1400.2,1427.4 1402.9,1428.8 1404.6,1429.7 1407.3,1431.1 1409.1,1432.0 1411.8,1433.4 1413.5,1434.3 1416.2,1435.6 1418.0,1436.5 1420.7,1437.8 1422.5,1438.7 1425.2,1440.0 1427.0,1440.8 1429.8,1442.1 1431.6,1443.0 1434.3,1444.2 1436.1,1445.0 1438.8,1446.3 1440.7,1447.1 1443.4,1448.4 1445.2,1449.2 1448.0,1450.4 1449.8,1451.2 1452.5,1452.4 1454.4,1453.2 1457.1,1454.4 1459.0,1455.2 1461.7,1456.3 1463.6,1457.1 1466.3,1458.2 1468.2,1459.0 1471.0,1460.1 1472.8,1460.8 1475.6,1461.9 1477.5,1462.6 1480.3,1463.6 1482.2,1464.3 1485.0,1465.3 1486.9,1466.0 1489.7,1467.0 1491.6,1467.6 1494.4,1468.5 1496.3,1469.1 1499.2,1470.0 1501.1,1470.6 1504.0,1471.5 1505.9,1472.1 1508.8,1472.9 1510.7,1473.5 1513.6,1474.3 1515.5,1474.8 1518.4,1475.7 1520.3,1476.2 1523.2,1477.0 1525.1,1477.5 1528.0,1478.3 1530.0,1478.8 1532.9,1479.6 1534.8,1480.1 1537.7,1480.8 1539.7,1481.3 1542.6,1482.0 1544.5,1482.4 1547.5,1483.1 1549.4,1483.6 1552.3,1484.3 1554.3,1484.8 1557.2,1485.6 1559.1,1486.1 1561.9,1487.0 1563.9,1487.5 1566.7,1488.5 1568.6,1489.1 1571.4,1490.1 1573.3,1490.8 1576.1,1491.8 1578.0,1492.4 1580.9,1493.5 1582.8,1494.1 1585.6,1495.1 1587.5,1495.7 1590.3,1496.7 1592.2,1497.3 1595.1,1498.2 1597.0,1498.8 1599.9,1499.7 1601.8,1500.3 1604.6,1501.2 1606.6,1501.8 1609.4,1502.6 1611.3,1503.2 1614.2,1504.1 1616.1,1504.7 1619.0,1505.5 1620.9,1506.1 1623.8,1507.0 1625.7,1507.5 1628.6,1508.4 1630.5,1509.0 1633.4,1509.8 1635.3,1510.4 1638.2,1511.3 1640.1,1511.8 1643.0,1512.7 1644.9,1513.2 1647.8,1514.0 1649.7,1514.5 1652.6,1515.2 1654.6,1515.7 1657.5,1516.4 1659.4,1516.9 1662.3,1517.6 1664.3,1518.0 1667.2,1518.7 1669.2,1519.1 1672.1,1519.8 1674.0,1520.2 1677.0,1520.8 1678.9,1521.2 1681.9,1521.9 1683.8,1522.3 1686.8,1522.9 1688.7,1523.3 1691.7,1523.9 1693.6,1524.3 1696.6,1525.0 1698.5,1525.4 1701.5,1526.0 1703.4,1526.4 1706.3,1527.1 1708.3,1527.5 1711.2,1528.1 1713.2,1528.6 1716.1,1529.2 1718.1,1529.6 1721.0,1530.3 1722.9,1530.7 1725.9,1531.3 1727.8,1531.8 1730.8,1532.4 1732.7,1532.8 1735.6,1533.5 1737.6,1533.9 1740.5,1534.6 1742.5,1535.0 1745.4,1535.7 1747.4,1536.1 1750.3,1536.7 1752.2,1537.2 1755.2,1537.8 1757.1,1538.3 1760.1,1538.9 1762.0,1539.3 1764.9,1540.0 1766.9,1540.4 1769.8,1541.1 1771.8,1541.5 1774.7,1542.1 1776.7,1542.6 1779.6,1543.2 1781.6,1543.6 1784.5,1544.2 1786.4,1544.6 1789.4,1545.2 1791.3,1545.6 1794.3,1546.2 1796.2,1546.6 1799.2,1547.2 1801.1,1547.6 1804.1,1548.2 1806.0,1548.6 1809.0,1549.2 1810.9,1549.6 1813.9,1550.1 1815.9,1550.5 1818.8,1551.1 1820.8,1551.4 1823.7,1552.0 1825.7,1552.4 1828.6,1552.9 1830.6,1553.3 1833.5,1553.9 1835.5,1554.2 1838.5,1554.8 1840.4,1555.1 1843.4,1555.7 1845.4,1556.0 1848.3,1556.5 1850.3,1556.9 1853.2,1557.4 1855.2,1557.8 1858.2,1558.3 1860.1,1558.6 1863.1,1559.1 1865.1,1559.4 1868.0,1559.9 1870.0,1560.3 1872.9,1560.8 1874.9,1561.1 1877.9,1561.6 1879.9,1561.9 1882.8,1562.4 1884.8,1562.7 1887.7,1563.2 1889.7,1563.5 1892.7,1564.0 1894.7,1564.3 1897.6,1564.8 1899.6,1565.1 1902.6,1565.5 1904.5,1565.8 1907.5,1566.3 1909.5,1566.6 1912.5,1567.0 1914.4,1567.3 1917.4,1567.8 1919.4,1568.1 1922.4,1568.5 1924.3,1568.8 1927.3,1569.2 1929.3,1569.4 1932.3,1569.8 1934.2,1570.1 1937.2,1570.5 1939.2,1570.7 1942.2,1571.1 1944.2,1571.3 1947.1,1571.7 1949.1,1571.9 1952.1,1572.3 1954.1,1572.5 1957.1,1572.8 1959.1,1573.1 1962.0,1573.4 1964.0,1573.6 1967.0,1573.9 1969.0,1574.1 1972.0,1574.5 1974.0,1574.7 1977.0,1575.0 1978.9,1575.2 1981.9,1575.5 1983.9,1575.7 1986.9,1576.0 1988.9,1576.1 1991.9,1576.4 1993.9,1576.6 1996.9,1576.9 1998.9,1577.1 2001.9,1577.3 2003.8,1577.5 2006.8,1577.8 2008.8,1578.0 2011.8,1578.2 2013.8,1578.4 2016.8,1578.7 2018.8,1578.8 2021.8,1579.1 2023.8,1579.2 2026.8,1579.5 2028.8,1579.6 2031.7,1579.9 2033.7,1580.1 2036.7,1580.3 2038.7,1580.5 2041.7,1580.7 2043.7,1580.8 2046.7,1581.1 2048.7,1581.2 2051.7,1581.5 2053.7,1581.6 2056.7,1581.8 2058.7,1582.0 2061.7,1582.2 2063.7,1582.3 2066.6,1582.5 2068.6,1582.7 2071.6,1582.9 2073.6,1583.0 2076.6,1583.2 2078.6,1583.3 2081.6,1583.5 2083.6,1583.6 2086.6,1583.8 2088.6,1583.9 2091.6,1584.1 2093.6,1584.2 2096.6,1584.3 2098.6,1584.4 2101.6,1584.6 2103.6,1584.7 2106.6,1584.8 2108.6,1584.9 2111.6,1585.1 2113.6,1585.2 2116.6,1585.3 2118.6,1585.4 2121.6,1585.5 2123.6,1585.6 2126.6,1585.7 2128.4,1585.8 2120.0,1585.8 2118.2,1585.7 2115.2,1585.6 2113.2,1585.5 2110.2,1585.4 2108.2,1585.3 2105.2,1585.2 2103.2,1585.1 2100.2,1584.9 2098.2,1584.8 2095.2,1584.7 2093.2,1584.6 2090.2,1584.4 2088.2,1584.3 2085.2,1584.2 2083.2,1584.1 2080.2,1583.9 2078.2,1583.8 2075.2,1583.6 2073.2,1583.5 2070.2,1583.3 2068.2,1583.2 2065.2,1583.0 2063.2,1582.9 2060.2,1582.7 2058.2,1582.5 2055.3,1582.3 2053.3,1582.2 2050.3,1582.0 2048.3,1581.8 2045.3,1581.6 2043.3,1581.5 2040.3,1581.2 2038.3,1581.1 2035.3,1580.8 2033.3,1580.7 2030.3,1580.5 2028.3,1580.3 2025.3,1580.1 2023.3,1579.9 2020.4,1579.6 2018.4,1579.5 2015.4,1579.2 2013.4,1579.1 2010.4,1578.8 2008.4,1578.7 2005.4,1578.4 2003.4,1578.2 2000.4,1578.0 1998.4,1577.8 1995.4,1577.5 1993.5,1577.3 1990.5,1577.1 1988.5,1576.9 1985.5,1576.6 1983.5,1576.4 1980.5,1576.1 1978.5,1576.0 1975.5,1575.7 1973.5,1575.5 1970.5,1575.2 1968.6,1575.0 1965.6,1574.7 1963.6,1574.5 1960.6,1574.1 1958.6,1573.9 1955.6,1573.6 1953.6,1573.4 1950.7,1573.1 1948.7,1572.8 1945.7,1572.5 1943.7,1572.3 1940.7,1571.9 1938.7,1571.7 1935.8,1571.3 1933.8,1571.1 1930.8,1570.7 1928.8,1570.5 1925.8,1570.1 1923.9,1569.8 1920.9,1569.4 1918.9,1569.2 1915.9,1568.8 1914.0,1568.5 1911.0,1568.1 1909.0,1567.8 1906.0,1567.3 1904.1,1567.0 1901.1,1566.6 1899.1,1566.3 1896.1,1565.8 1894.2,1565.5 1891.2,1565.1 1889.2,1564.8 1886.3,1564.3 1884.3,1564.0 1881.3,1563.5 1879.3,1563.2 1876.4,1562.7 1874.4,1562.4 1871.5,1561.9 1869.5,1561.6 1866.5,1561.1 1864.5,1560.8 1861.6,1560.3 1859.6,1559.9 1856.7,1559.4 1854.7,1559.1 1851.7,1558.6 1849.8,1558.3 1846.8,1557.8 1844.8,1557.4 1841.9,1556.9 1839.9,1556.5 1837.0,1556.0 1835.0,1555.7 1832.0,1555.1 1830.1,1554.8 1827.1,1554.2 1825.1,1553.9 1822.2,1553.3 1820.2,1552.9 1817.3,1552.4 1815.3,1552.0 1812.4,1551.4 1810.4,1551.1 1807.5,1550.5 1805.5,1550.1 1802.5,1549.6 1800.6,1549.2 1797.6,1548.6 1795.7,1548.2 1792.7,1547.6 1790.8,1547.2 1787.8,1546.6 1785.9,1546.2 1782.9,1545.6 1781.0,1545.2 1778.0,1544.6 1776.1,1544.2 1773.2,1543.6 1771.2,1543.2 1768.3,1542.6 1766.3,1542.1 1763.4,1541.5 1761.4,1541.1 1758.5,1540.4 1756.5,1540.0 1753.6,1539.3 1751.7,1538.9 1748.7,1538.3 1746.8,1537.8 1743.8,1537.2 1741.9,1536.7 1739.0,1536.1 1737.0,1535.7 1734.1,1535.0 1732.1,1534.6 1729.2,1533.9 1727.2,1533.5 1724.3,1532.8 1722.4,1532.4 1719.4,1531.8 1717.5,1531.3 1714.5,1530.7 1712.6,1530.3 1709.7,1529.6 1707.7,1529.2 1704.8,1528.6 1702.8,1528.1 1699.9,1527.5 1697.9,1527.1 1695.0,1526.4 1693.1,1526.0 1690.1,1525.4 1688.2,1525.0 1685.2,1524.3 1683.3,1523.9 1680.3,1523.3 1678.4,1522.9 1675.4,1522.3 1673.5,1521.9 1670.5,1521.2 1668.6,1520.8 1665.6,1520.2 1663.7,1519.8 1660.8,1519.1 1658.8,1518.7 1655.9,1518.0 1653.9,1517.6 1651.0,1516.9 1649.1,1516.4 1646.2,1515.7 1644.2,1515.2 1641.3,1514.5 1639.4,1514.0 1636.5,1513.2 1634.6,1512.7 1631.7,1511.8 1629.8,1511.3 1626.9,1510.4 1625.0,1509.8 1622.1,1509.0 1620.2,1508.4 1617.3,1507.5 1615.4,1507.0 1612.5,1506.1 1610.6,1505.5 1607.7,1504.7 1605.8,1504.1 1602.9,1503.2 1601.0,1502.6 1598.2,1501.8 1596.2,1501.2 1593.4,1500.3 1591.5,1499.7 1588.6,1498.8 1586.7,1498.2 1583.8,1497.3 1581.9,1496.7 1579.1,1495.7 1577.2,1495.1 1574.4,1494.1 1572.5,1493.5 1569.6,1492.4 1567.7,1491.8 1564.9,1490.8 1563.0,1490.1 1560.2,1489.1 1558.3,1488.5 1555.5,1487.5 1553.5,1487.0 1550.7,1486.1 1548.8,1485.6 1545.9,1484.8 1543.9,1484.3 1541.0,1483.6 1539.1,1483.1 1536.1,1482.4 1534.2,1482.0 1531.3,1481.3 1529.3,1480.8 1526.4,1480.1 1524.5,1479.6 1521.6,1478.8 1519.6,1478.3 1516.7,1477.5 1514.8,1477.0 1511.9,1476.2 1510.0,1475.7 1507.1,1474.8 1505.2,1474.3 1502.3,1473.5 1500.4,1472.9 1497.5,1472.1 1495.6,1471.5 1492.7,1470.6 1490.8,1470.0 1487.9,1469.1 1486.0,1468.5 1483.2,1467.6 1481.3,1467.0 1478.5,1466.0 1476.6,1465.3 1473.8,1464.3 1471.9,1463.6 1469.1,1462.6 1467.2,1461.9 1464.4,1460.8 1462.6,1460.1 1459.8,1459.0 1457.9,1458.2 1455.2,1457.1 1453.3,1456.3 1450.6,1455.2 1448.7,1454.4 1446.0,1453.2 1444.1,1452.4 1441.4,1451.2 1439.6,1450.4 1436.8,1449.2 1435.0,1448.4 1432.3,1447.1 1430.4,1446.3 1427.7,1445.0 1425.9,1444.2 1423.2,1443.0 1421.4,1442.1 1418.6,1440.8 1416.8,1440.0 1414.1,1438.7 1412.3,1437.8 1409.6,1436.5 1407.8,1435.6 1405.1,1434.3 1403.4,1433.4 1400.7,1432.0 1398.9,1431.1 1396.2,1429.7 1394.5,1428.8 1391.8,1427.4 1390.1,1426.5 1387.4,1425.0 1385.7,1424.1 1383.1,1422.6 1381.3,1421.6 1378.7,1420.1 1377.0,1419.1 1374.4,1417.6 1372.7,1416.6 1370.1,1415.0 1368.4,1414.0 1365.9,1412.4 1364.2,1411.3 1361.7,1409.7 1360.0,1408.6 1357.5,1407.0 1355.9,1405.9 1353.4,1404.2 1351.7,1403.0 1349.3,1401.3 1347.6,1400.2 1345.2,1398.4 1343.6,1397.3 1341.2,1395.5 1339.6,1394.3 1337.2,1392.5 1335.6,1391.3 1333.2,1389.4 1331.7,1388.2 1329.3,1386.3 1327.7,1385.1 1325.4,1383.2 1323.9,1381.9 1321.6,1380.0 1320.1,1378.7 1317.8,1376.7 1316.3,1375.4 1314.1,1373.4 1312.6,1372.1 1310.4,1370.1 1308.9,1368.7 1306.7,1366.7 1305.3,1365.3 1303.1,1363.2 1301.7,1361.8 1299.6,1359.7 1298.2,1358.2 1296.1,1356.1 1294.8,1354.6 1292.7,1352.4 1291.4,1351.0 1289.4,1348.7 1288.1,1347.2 1286.2,1344.9 1284.9,1343.4 1283.0,1341.1 1281.8,1339.5 1279.9,1337.2 1278.7,1335.6 1276.9,1333.2 1275.8,1331.6 1274.0,1329.2 1272.9,1327.5 1271.2,1325.1 1270.0,1323.4 1268.4,1320.9 1267.3,1319.3 1265.7,1316.7 1264.6,1315.0 1263.0,1312.5 1262.0,1310.8 1260.5,1308.2 1259.5,1306.5 1258.0,1303.9 1257.0,1302.2 1255.5,1299.6 1254.6,1297.8 1253.1,1295.2 1252.2,1293.4 1250.8,1290.7 1249.9,1289.0 1248.6,1286.3 1247.7,1284.5 1246.4,1281.8 1245.5,1280.0 1244.2,1277.3 1243.3,1275.5 1242.1,1272.8 1241.2,1271.0 1240.0,1268.3 1239.1,1266.4 1237.9,1263.7 1237.1,1261.9 1235.8,1259.2 1235.0,1257.3 1233.8,1254.6 1232.9,1252.8 1231.7,1250.0 1230.9,1248.2 1229.6,1245.5 1228.8,1243.7 1227.5,1241.0 1226.7,1239.1 1225.4,1236.4 1224.6,1234.6 1223.4,1231.9 1222.5,1230.1 1221.3,1227.3 1220.4,1225.5 1219.2,1222.8 1218.4,1221.0 1217.2,1218.2 1216.4,1216.4 1215.2,1213.6 1214.4,1211.8 1213.2,1209.0 1212.5,1207.2 1211.3,1204.4 1210.6,1202.6 1209.5,1199.8 1208.7,1197.9 1207.6,1195.1 1206.9,1193.3 1205.9,1190.5 1205.2,1188.6 1204.1,1185.8 1203.4,1183.9 1202.4,1181.1 1201.8,1179.2 1200.8,1176.4 1200.1,1174.5 1199.1,1171.6 1198.5,1169.8 1197.5,1166.9 1196.9,1165.0 1196.0,1162.2 1195.4,1160.3 1194.4,1157.4 1193.8,1155.5 1192.9,1152.6 1192.3,1150.7 1191.5,1147.9 1190.9,1145.9 1190.0,1143.1 1189.4,1141.2 1188.6,1138.3 1188.0,1136.4 1187.2,1133.5 1186.6,1131.6 1185.8,1128.7 1185.3,1126.8 1184.4,1123.9 1183.9,1121.9 1183.1,1119.0 1182.6,1117.1 1181.8,1114.2 1181.3,1112.3 1180.5,1109.4 1180.0,1107.5 1179.3,1104.5 1178.8,1102.6 1178.0,1099.7 1177.5,1097.8 1176.8,1094.9 1176.3,1092.9 1175.6,1090.0 1175.1,1088.1 1174.4,1085.1 1174.0,1083.2 1173.3,1080.3 1172.8,1078.3 1172.1,1075.4 1171.7,1073.5 1171.0,1070.5 1170.6,1068.6 1169.9,1065.7 1169.5,1063.7 1168.9,1060.8 1168.4,1058.8 1167.8,1055.9 1167.4,1053.9 1166.8,1051.0 1166.4,1049.0 1165.8,1046.1 1165.4,1044.1 1164.9,1041.2 1164.5,1039.2 1163.9,1036.3 1163.6,1034.3 1163.0,1031.4 1162.7,1029.4 1162.1,1026.4 1161.8,1024.5 1161.3,1021.5 1161.0,1019.5 1160.5,1016.6 1160.1,1014.6 1159.6,1011.7 1159.3,1009.7 1158.9,1006.7 1158.5,1004.7 1158.1,1001.8 1157.8,999.8 1157.3,996.8 1157.0,994.9 1156.5,991.9 1156.2,989.9 1155.7,987.0 1155.4,985.0 1155.0,982.0 1154.7,980.0 1154.2,977.1 1153.9,975.1 1153.4,972.1 1153.1,970.2 1152.7,967.2 1152.3,965.2 1151.9,962.3 1151.6,960.3 1151.1,957.3 1150.8,955.3 1150.3,952.4 1150.0,950.4 1149.5,947.4 1149.2,945.5 1148.7,942.5 1148.4,940.5 1148.0,937.6 1147.6,935.6 1147.2,932.6 1146.9,930.7 1146.4,927.7 1146.1,925.7 1145.6,922.7 1145.3,920.8 1144.9,917.8 1144.6,915.8 1144.1,912.9 1143.8,910.9 1143.3,907.9 1143.0,905.9 1142.6,903.0 1142.3,901.0 1141.9,898.0 1141.6,896.1 1141.1,893.1 1140.9,891.1 1140.4,888.1 1140.1,886.2 1139.7,883.2 1139.4,881.2 1139.0,878.2 1138.7,876.3 1138.3,873.3 1138.0,871.3 1137.6,868.3 1137.3,866.4 1136.8,863.4 1136.5,861.4 1136.1,858.5 1135.8,856.5 1135.3,853.5 1135.0,851.5 1134.6,848.6 1134.2,846.6 1133.8,843.6 1133.4,841.7 1132.9,838.7 1132.6,836.7 1132.1,833.8 1131.8,831.8 1131.3,828.9 1130.9,826.9 1130.4,823.9 1130.1,822.0 1129.6,819.0 1129.2,817.0 1128.7,814.1 1128.4,812.1 1127.9,809.2 1127.5,807.2 1127.0,804.2 1126.7,802.2 1126.2,799.3 1125.9,797.3 1125.4,794.4 1125.1,792.4 1124.6,789.4 1124.3,787.4 1123.8,784.5 1123.5,782.5 1123.0,779.5 1122.7,777.6 1122.3,774.6 1122.0,772.6 1121.6,769.7 1121.3,767.7 1120.8,764.7 1120.5,762.7 1120.1,759.8 1119.8,757.8 1119.4,754.8 1119.1,752.8 1118.7,749.9 1118.4,747.9 1118.0,744.9 1117.7,742.9 1117.3,740.0 1117.0,738.0 1116.6,735.0 1116.4,733.0 1115.9,730.0 1115.7,728.1 1115.2,725.1 1114.9,723.1 1114.5,720.2 1114.2,718.2 1113.8,715.2 1113.5,713.2 1113.0,710.3 1112.7,708.3 1112.2,705.3 1111.9,703.4 1111.4,700.4 1111.0,698.4 1110.5,695.5 1110.1,693.5 1109.5,690.6 1109.2,688.6 1108.6,685.7 1108.2,683.7 1107.5,680.8 1107.1,678.9 1106.5,675.9 1106.0,674.0 1105.3,671.1 1104.9,669.1 1104.2,666.2 1103.7,664.3 1103.0,661.4 1102.5,659.5 1101.7,656.6 1101.2,654.7 1100.3,651.9 1099.8,650.0 1099.0,647.1 1098.4,645.2 1097.6,642.4 1097.0,640.4 1096.2,637.5 1095.6,635.6 1094.7,632.7 1094.0,630.9 1092.9,628.1 1092.1,626.3 1090.7,623.4 1089.6,621.6 1087.8,619.3 1086.4,618.1 1083.8,616.3 1081.8,615.6Z"/>
<path class="cf" fill="#0f0" d="M300.7,1596.6 302.7,1596.5 305.7,1596.4 307.7,1596.2 310.7,1595.9 312.7,1595.7 315.7,1595.3 317.7,1595.0 320.6,1594.5 322.6,1594.2 325.5,1593.7 327.5,1593.3 330.4,1592.6 332.3,1592.1 335.2,1591.2 337.1,1590.6 340.0,1589.6 341.9,1588.9 344.7,1587.9 346.5,1587.2 349.3,1586.1 351.2,1585.3 353.9,1584.1 355.7,1583.3 358.5,1582.0 360.3,1581.1 363.0,1579.8 364.8,1578.9 367.4,1577.6 369.2,1576.6 371.8,1575.2 373.6,1574.2 376.2,1572.8 377.9,1571.8 380.5,1570.3 382.3,1569.3 384.9,1567.8 386.7,1566.9 389.3,1565.4 391.0,1564.5 393.7,1563.0 395.4,1562.0 398.0,1560.6 399.8,1559.6 402.4,1558.2 404.2,1557.2 406.8,1555.8 408.6,1554.8 411.2,1553.3 412.9,1552.3 415.6,1550.9 417.4,1550.0 420.1,1548.8 421.9,1548.0 424.7,1546.9 426.6,1546.2 429.5,1545.2 431.4,1544.6 434.3,1543.9 436.2,1543.6 439.2,1543.1 441.2,1542.8 444.2,1542.5 446.2,1542.3 449.2,1542.3 451.2,1542.3 454.2,1542.4 456.2,1542.4 459.2,1542.5 461.2,1542.6 464.2,1542.8 466.2,1542.9 469.2,1543.1 471.1,1543.3 474.1,1543.6 476.1,1543.8 479.1,1544.2 481.1,1544.5 484.0,1544.9 486.0,1545.2 489.0,1545.7 491.0,1545.9 493.9,1546.4 495.9,1546.7 498.9,1547.2 500.9,1547.5 503.8,1548.0 505.8,1548.3 508.7,1548.8 510.7,1549.2 513.7,1549.7 515.6,1550.0 518.6,1550.6 520.6,1550.9 523.5,1551.4 525.5,1551.7 528.5,1552.3 530.4,1552.6 533.4,1553.1 535.3,1553.5 538.3,1554.0 540.3,1554.4 543.2,1554.9 545.2,1555.2 548.1,1555.8 550.1,1556.1 553.1,1556.6 555.0,1557.0 558.0,1557.5 560.0,1557.8 562.9,1558.3 564.9,1558.6 567.9,1559.1 569.8,1559.4 572.8,1559.9 574.8,1560.2 577.7,1560.7 579.7,1561.0 582.7,1561.4 584.7,1561.7 587.6,1562.2 589.6,1562.5 592.6,1563.0 594.5,1563.3 597.5,1563.7 599.5,1564.0 602.4,1564.5 604.4,1564.8 607.4,1565.3 609.4,1565.6 612.3,1566.2 614.3,1566.5 617.3,1567.1 619.2,1567.4 622.2,1567.9 624.2,1568.3 627.1,1568.8 629.1,1569.2 632.1,1569.6 634.0,1570.0 637.0,1570.4 639.0,1570.7 642.0,1571.1 643.9,1571.4 646.9,1571.7 648.9,1572.0 651.9,1572.2 653.9,1572.4 656.8,1572.6 658.8,1572.7 661.8,1572.9 663.8,1573.0 666.8,1573.2 668.8,1573.3 671.8,1573.5 673.8,1573.6 676.8,1573.7 678.8,1573.8 681.8,1573.9 683.8,1574.0 686.8,1574.1 688.8,1574.2 691.8,1574.2 693.8,1574.3 696.8,1574.3 698.8,1574.4 701.8,1574.4 703.8,1574.4 706.8,1574.4 708.8,1574.5 711.8,1574.5 713.8,1574.4 716.8,1574.4 718.8,1574.4 721.8,1574.4 723.8,1574.3 726.8,1574.3 728.8,1574.2 731.8,1574.2 733.8,1574.1 736.8,1574.0 738.8,1573.9 741.8,1573.8 743.8,1573.8 746.8,1573.6 748.8,1573.5 751.8,1573.4 753.8,1573.3 756.8,1573.1 758.8,1573.0 761.8,1572.9 763.8,1572.7 766.8,1572.6 768.8,1572.4 771.7,1572.2 773.7,1572.1 776.7,1571.9 778.7,1571.7 781.7,1571.5 783.7,1571.3 786.7,1571.0 788.7,1570.9 791.7,1570.6 793.7,1570.4 796.7,1570.1 798.6,1569.8 801.6,1569.5 803.6,1569.3 806.6,1568.9 808.6,1568.6 811.5,1568.2 813.5,1567.9 816.5,1567.5 818.4,1567.2 821.4,1566.6 823.3,1566.3 826.3,1565.7 828.2,1565.3 831.1,1564.7 833.1,1564.2 836.0,1563.5 837.9,1563.0 840.8,1562.3 842.7,1561.7 845.5,1560.8 847.4,1560.2 850.2,1559.2 852.0,1558.6 854.8,1557.5 856.6,1556.7 859.3,1555.5 861.1,1554.7 863.7,1553.4 865.5,1552.5 868.0,1551.1 869.7,1550.1 872.2,1548.5 873.9,1547.5 876.3,1545.8 877.9,1544.7 880.2,1542.9 881.8,1541.7 884.0,1539.8 885.5,1538.5 887.6,1536.5 889.1,1535.2 891.1,1533.1 892.4,1531.6 894.4,1529.4 895.7,1527.9 897.5,1525.6 898.7,1524.1 900.5,1521.7 901.7,1520.1 903.4,1517.7 904.4,1516.0 906.0,1513.5 907.1,1511.8 908.6,1509.3 909.6,1507.6 911.0,1505.0 912.0,1503.2 913.4,1500.6 914.3,1498.8 915.6,1496.1 916.5,1494.3 917.7,1491.6 918.5,1489.8 919.7,1487.1 920.5,1485.2 921.7,1482.5 922.4,1480.6 923.5,1477.8 924.2,1476.0 925.3,1473.2 926.0,1471.3 927.0,1468.5 927.6,1466.6 928.6,1463.8 929.2,1461.9 930.2,1459.0 930.8,1457.1 931.7,1454.3 932.3,1452.3 933.1,1449.5 933.7,1447.6 934.5,1444.7 935.1,1442.8 935.9,1439.9 936.4,1437.9 937.2,1435.0 937.7,1433.1 938.5,1430.2 939.0,1428.3 939.7,1425.4 940.2,1423.4 941.0,1420.5 941.4,1418.6 942.2,1415.7 942.6,1413.7 943.3,1410.8 943.8,1408.9 944.5,1405.9 945.0,1404.0 945.6,1401.1 946.1,1399.1 946.7,1396.2 947.2,1394.2 947.8,1391.3 948.3,1389.4 948.9,1386.4 949.3,1384.5 950.0,1381.5 950.4,1379.6 951.0,1376.7 951.4,1374.7 952.0,1371.8 952.4,1369.8 953.0,1366.9 953.4,1364.9 954.0,1362.0 954.4,1360.0 954.9,1357.0 955.3,1355.1 955.9,1352.1 956.3,1350.2 956.8,1347.2 957.2,1345.3 957.7,1342.3 958.1,1340.3 958.6,1337.4 959.0,1335.4 959.5,1332.5 959.9,1330.5 960.4,1327.6 960.7,1325.6 961.3,1322.6 961.6,1320.7 962.1,1317.7 962.5,1315.7 963.0,1312.8 963.3,1310.8 963.8,1307.8 964.2,1305.9 964.7,1302.9 965.0,1300.9 965.5,1298.0 965.9,1296.0 966.4,1293.1 966.7,1291.1 967.2,1288.1 967.6,1286.2 968.1,1283.2 968.4,1281.2 969.0,1278.3 969.3,1276.3 969.8,1273.4 970.1,1271.4 970.7,1268.4 971.0,1266.5 971.5,1263.5 971.8,1261.5 972.4,1258.6 972.7,1256.6 973.2,1253.6 973.5,1251.7 974.0,1248.7 974.4,1246.7 974.9,1243.8 975.2,1241.8 975.7,1238.8 976.0,1236.9 976.5,1233.9 976.8,1231.9 977.3,1229.0 977.6,1227.0 978.1,1224.0 978.4,1222.1 978.9,1219.1 979.2,1217.1 979.6,1214.2 979.9,1212.2 980.4,1209.2 980.7,1207.2 981.1,1204.3 981.4,1202.3 981.9,1199.3 982.1,1197.4 982.6,1194.4 982.8,1192.4 983.2,1189.4 983.5,1187.4 983.9,1184.5 984.2,1182.5 984.6,1179.5 984.9,1177.5 985.3,1174.6 985.5,1172.6 985.9,1169.6 986.2,1167.6 986.6,1164.7 986.8,1162.7 987.2,1159.7 987.5,1157.7 987.9,1154.7 988.1,1152.8 988.5,1149.8 988.8,1147.8 989.1,1144.8 989.4,1142.8 989.8,1139.9 990.1,1137.9 990.4,1134.9 990.7,1132.9 991.1,1129.9 991.4,1128.0 991.8,1125.0 992.0,1123.0 992.4,1120.0 992.7,1118.1 993.1,1115.1 993.3,1113.1 993.7,1110.1 994.0,1108.1 994.4,1105.2 994.7,1103.2 995.1,1100.2 995.3,1098.2 995.7,1095.3 996.0,1093.3 996.4,1090.3 996.7,1088.3 997.1,1085.3 997.3,1083.4 997.7,1080.4 998.0,1078.4 998.4,1075.4 998.7,1073.5 999.1,1070.5 999.3,1068.5 999.7,1065.5 1000.0,1063.5 1000.4,1060.6 1000.7,1058.6 1001.1,1055.6 1001.3,1053.6 1001.7,1050.7 1002.0,1048.7 1002.4,1045.7 1002.7,1043.7 1003.1,1040.7 1003.3,1038.8 1003.7,1035.8 1004.0,1033.8 1004.4,1030.8 1004.7,1028.9 1005.1,1025.9 1005.3,1023.9 1005.7,1020.9 1006.0,1018.9 1006.4,1016.0 1006.7,1014.0 1007.1,1011.0 1007.4,1009.0 1007.8,1006.1 1008.1,1004.1 1008.5,1001.1 1008.8,999.1 1009.2,996.2 1009.5,994.2 1010.0,991.2 1010.2,989.2 1010.7,986.3 1011.0,984.3 1011.4,981.3 1011.7,979.4 1012.2,976.4 1012.5,974.4 1012.9,971.4 1013.2,969.5 1013.7,966.5 1014.0,964.5 1014.4,961.6 1014.7,959.6 1015.2,956.6 1015.5,954.6 1015.9,951.7 1016.2,949.7 1016.6,946.7 1016.9,944.7 1017.4,941.8 1017.6,939.8 1018.1,936.8 1018.4,934.8 1018.8,931.9 1019.1,929.9 1019.5,926.9 1019.8,924.9 1020.2,922.0 1020.5,920.0 1020.9,917.0 1021.1,915.0 1021.5,912.1 1021.8,910.1 1022.2,907.1 1022.5,905.1 1022.9,902.2 1023.2,900.2 1023.6,897.2 1023.8,895.2 1024.2,892.3 1024.5,890.3 1024.9,887.3 1025.2,885.3 1025.6,882.3 1025.9,880.4 1026.3,877.4 1026.5,875.4 1026.9,872.4 1027.2,870.5 1027.6,867.5 1027.9,865.5 1028.3,862.5 1028.5,860.5 1029.0,857.6 1029.2,855.6 1029.6,852.6 1029.9,850.6 1030.3,847.7 1030.6,845.7 1031.0,842.7 1031.3,840.7 1031.8,837.8 1032.0,835.8 1032.5,832.8 1032.8,830.8 1033.2,827.9 1033.5,825.9 1034.0,822.9 1034.3,821.0 1034.7,818.0 1035.0,816.0 1035.5,813.1 1035.8,811.1 1036.3,808.1 1036.6,806.1 1037.1,803.2 1037.4,801.2 1037.9,798.3 1038.3,796.3 1038.8,793.3 1039.1,791.4 1039.6,788.4 1040.0,786.4 1040.5,783.5 1040.8,781.5 1041.4,778.6 1041.7,776.6 1042.3,773.6 1042.6,771.7 1043.2,768.7 1043.6,766.8 1044.1,763.8 1044.5,761.8 1045.1,758.9 1045.5,756.9 1046.1,754.0 1046.5,752.0 1047.1,749.1 1047.5,747.2 1048.2,744.2 1048.6,742.3 1049.2,739.3 1049.7,737.4 1050.3,734.5 1050.8,732.5 1051.5,729.6 1051.9,727.7 1052.6,724.7 1053.1,722.8 1053.8,719.9 1054.3,717.9 1055.0,715.0 1055.5,713.1 1056.3,710.2 1056.8,708.3 1057.5,705.3 1058.0,703.4 1058.8,700.5 1059.3,698.6 1060.1,695.7 1060.6,693.8 1061.4,690.9 1061.9,688.9 1062.6,686.0 1063.2,684.1 1063.9,681.2 1064.4,679.3 1065.2,676.4 1065.7,674.5 1066.5,671.6 1067.0,669.7 1067.8,666.9 1068.3,665.0 1069.2,662.1 1069.7,660.3 1070.7,657.4 1071.3,655.6 1072.4,652.8 1073.1,650.9 1074.2,648.1 1075.0,646.2 1076.3,643.5 1077.1,641.6 1078.4,638.8 1079.3,636.9 1080.9,634.5 1082.3,633.1 1085.0,631.6 1086.7,632.1 1089.2,634.1 1090.4,635.6 1091.8,638.3 1092.7,640.2 1093.9,643.0 1094.8,644.8 1096.1,647.5 1096.9,649.4 1098.1,652.1 1098.9,654.0 1100.0,656.8 1100.7,658.6 1101.6,661.4 1102.2,663.3 1103.1,666.1 1103.7,668.0 1104.6,670.9 1105.1,672.8 1105.9,675.6 1106.4,677.5 1107.2,680.4 1107.7,682.4 1108.4,685.2 1108.9,687.2 1109.5,690.1 1110.0,692.0 1110.6,695.0 1111.1,696.9 1111.7,699.8 1112.1,701.8 1112.7,704.7 1113.1,706.7 1113.6,709.6 1114.0,711.6 1114.5,714.5 1114.9,716.5 1115.4,719.5 1115.7,721.4 1116.2,724.4 1116.6,726.4 1117.0,729.3 1117.3,731.3 1117.8,734.3 1118.1,736.2 1118.6,739.2 1118.9,741.2 1119.3,744.2 1119.6,746.1 1120.0,749.1 1120.3,751.1 1120.7,754.1 1121.0,756.0 1121.4,759.0 1121.7,761.0 1122.1,764.0 1122.4,765.9 1122.8,768.9 1123.1,770.9 1123.5,773.9 1123.8,775.8 1124.2,778.8 1124.5,780.8 1125.0,783.8 1125.3,785.7 1125.7,788.7 1126.0,790.7 1126.5,793.6 1126.8,795.6 1127.3,798.6 1127.6,800.5 1128.1,803.5 1128.4,805.5 1128.9,808.4 1129.3,810.4 1129.8,813.4 1130.1,815.3 1130.6,818.3 1131.0,820.3 1131.5,823.2 1131.8,825.2 1132.4,828.1 1132.7,830.1 1133.2,833.1 1133.6,835.0 1134.1,838.0 1134.4,840.0 1134.9,842.9 1135.2,844.9 1135.7,847.8 1136.0,849.8 1136.5,852.8 1136.8,854.8 1137.3,857.7 1137.6,859.7 1138.1,862.7 1138.4,864.6 1138.8,867.6 1139.1,869.6 1139.6,872.5 1139.9,874.5 1140.3,877.5 1140.6,879.5 1141.1,882.4 1141.3,884.4 1141.8,887.4 1142.1,889.3 1142.6,892.3 1142.9,894.3 1143.3,897.3 1143.6,899.2 1144.1,902.2 1144.4,904.2 1144.9,907.1 1145.2,909.1 1145.7,912.1 1146.0,914.0 1146.5,917.0 1146.8,919.0 1147.3,921.9 1147.7,923.9 1148.2,926.9 1148.5,928.8 1149.0,931.8 1149.4,933.8 1149.9,936.7 1150.2,938.7 1150.7,941.6 1151.1,943.6 1151.6,946.6 1151.9,948.5 1152.5,951.5 1152.8,953.5 1153.4,956.4 1153.7,958.4 1154.2,961.3 1154.6,963.3 1155.1,966.2 1155.5,968.2 1156.0,971.2 1156.4,973.1 1157.0,976.1 1157.3,978.0 1157.9,981.0 1158.2,983.0 1158.8,985.9 1159.2,987.9 1159.7,990.8 1160.1,992.8 1160.7,995.7 1161.1,997.7 1161.6,1000.6 1162.0,1002.6 1162.6,1005.5 1163.0,1007.5 1163.6,1010.5 1164.0,1012.4 1164.6,1015.4 1165.0,1017.3 1165.6,1020.2 1166.0,1022.2 1166.6,1025.1 1167.0,1027.1 1167.6,1030.0 1168.1,1032.0 1168.7,1034.9 1169.2,1036.9 1169.8,1039.8 1170.2,1041.7 1170.9,1044.7 1171.4,1046.6 1172.0,1049.5 1172.5,1051.5 1173.2,1054.4 1173.6,1056.4 1174.3,1059.3 1174.8,1061.2 1175.5,1064.1 1176.0,1066.1 1176.7,1069.0 1177.2,1070.9 1177.9,1073.8 1178.4,1075.8 1179.1,1078.7 1179.6,1080.6 1180.3,1083.5 1180.8,1085.5 1181.5,1088.4 1182.0,1090.3 1182.8,1093.2 1183.3,1095.2 1184.1,1098.1 1184.6,1100.0 1185.3,1102.9 1185.9,1104.8 1186.7,1107.7 1187.2,1109.7 1188.0,1112.5 1188.5,1114.5 1189.3,1117.4 1189.9,1119.3 1190.7,1122.2 1191.2,1124.1 1192.1,1127.0 1192.7,1128.9 1193.5,1131.8 1194.1,1133.7 1194.9,1136.5 1195.5,1138.5 1196.4,1141.3 1197.0,1143.2 1197.9,1146.1 1198.5,1148.0 1199.4,1150.9 1200.0,1152.8 1201.0,1155.6 1201.6,1157.5 1202.5,1160.4 1203.2,1162.3 1204.1,1165.1 1204.8,1167.0 1205.7,1169.8 1206.4,1171.7 1207.4,1174.6 1208.1,1176.4 1209.1,1179.3 1209.8,1181.1 1210.8,1184.0 1211.5,1185.8 1212.6,1188.6 1213.3,1190.5 1214.4,1193.3 1215.1,1195.1 1216.2,1197.9 1217.0,1199.8 1218.1,1202.5 1218.9,1204.4 1220.1,1207.1 1220.8,1209.0 1222.0,1211.7 1222.8,1213.6 1224.1,1216.3 1224.9,1218.1 1226.1,1220.8 1226.9,1222.7 1228.2,1225.4 1229.0,1227.2 1230.3,1229.9 1231.1,1231.7 1232.4,1234.5 1233.2,1236.3 1234.5,1239.0 1235.3,1240.8 1236.6,1243.5 1237.4,1245.4 1238.7,1248.1 1239.5,1249.9 1240.8,1252.6 1241.6,1254.5 1242.8,1257.2 1243.7,1259.0 1244.9,1261.7 1245.7,1263.6 1247.0,1266.3 1247.8,1268.1 1249.1,1270.8 1249.9,1272.6 1251.2,1275.3 1252.1,1277.1 1253.4,1279.8 1254.3,1281.6 1255.6,1284.3 1256.5,1286.1 1257.9,1288.7 1258.8,1290.5 1260.2,1293.1 1261.2,1294.9 1262.6,1297.5 1263.6,1299.3 1265.1,1301.9 1266.1,1303.6 1267.6,1306.2 1268.6,1307.9 1270.2,1310.5 1271.2,1312.2 1272.8,1314.7 1273.9,1316.4 1275.5,1319.0 1276.6,1320.6 1278.2,1323.1 1279.3,1324.8 1281.0,1327.3 1282.1,1328.9 1283.8,1331.4 1285.0,1333.0 1286.7,1335.5 1287.9,1337.1 1289.7,1339.5 1290.9,1341.1 1292.7,1343.5 1293.9,1345.1 1295.8,1347.4 1297.0,1349.0 1298.9,1351.3 1300.2,1352.8 1302.1,1355.1 1303.4,1356.6 1305.4,1358.9 1306.7,1360.3 1308.8,1362.5 1310.1,1364.0 1312.2,1366.1 1313.6,1367.6 1315.7,1369.7 1317.1,1371.1 1319.3,1373.1 1320.7,1374.5 1322.9,1376.5 1324.4,1377.8 1326.7,1379.8 1328.2,1381.1 1330.4,1383.1 1332.0,1384.3 1334.3,1386.2 1335.9,1387.5 1338.2,1389.3 1339.8,1390.6 1342.2,1392.4 1343.8,1393.6 1346.2,1395.4 1347.8,1396.6 1350.2,1398.3 1351.8,1399.5 1354.3,1401.2 1355.9,1402.3 1358.4,1404.0 1360.1,1405.1 1362.6,1406.8 1364.3,1407.9 1366.8,1409.5 1368.5,1410.6 1371.0,1412.1 1372.7,1413.2 1375.3,1414.7 1377.0,1415.7 1379.6,1417.2 1381.3,1418.2 1384.0,1419.7 1385.7,1420.7 1388.3,1422.1 1390.1,1423.0 1392.7,1424.4 1394.5,1425.4 1397.2,1426.7 1399.0,1427.6 1401.7,1428.9 1403.5,1429.8 1406.2,1431.1 1408.0,1431.9 1410.7,1433.2 1412.5,1434.0 1415.3,1435.2 1417.1,1436.0 1419.8,1437.2 1421.7,1438.0 1424.4,1439.1 1426.3,1439.9 1429.1,1441.0 1430.9,1441.8 1433.7,1442.8 1435.6,1443.6 1438.4,1444.6 1440.3,1445.3 1443.1,1446.3 1445.0,1447.0 1447.8,1448.0 1449.7,1448.7 1452.5,1449.6 1454.4,1450.3 1457.3,1451.2 1459.2,1451.8 1462.0,1452.7 1463.9,1453.3 1466.8,1454.2 1468.7,1454.8 1471.6,1455.6 1473.5,1456.2 1476.4,1457.0 1478.3,1457.5 1481.2,1458.3 1483.1,1458.9 1486.0,1459.6 1488.0,1460.1 1490.9,1460.9 1492.8,1461.4 1495.7,1462.1 1497.7,1462.6 1500.6,1463.3 1502.5,1463.7 1505.5,1464.4 1507.4,1464.8 1510.3,1465.5 1512.3,1465.9 1515.2,1466.6 1517.2,1467.0 1520.1,1467.6 1522.1,1468.0 1525.0,1468.6 1527.0,1469.0 1529.9,1469.6 1531.9,1469.9 1534.8,1470.4 1536.8,1470.8 1539.8,1471.2 1541.8,1471.5 1544.7,1472.0 1546.7,1472.3 1549.6,1472.8 1551.6,1473.2 1554.6,1473.7 1556.5,1474.1 1559.5,1474.7 1561.4,1475.2 1564.3,1475.8 1566.3,1476.3 1569.2,1477.0 1571.1,1477.5 1574.0,1478.2 1576.0,1478.7 1578.9,1479.5 1580.8,1480.1 1583.7,1480.9 1585.6,1481.4 1588.5,1482.2 1590.4,1482.8 1593.3,1483.7 1595.2,1484.3 1598.0,1485.3 1599.9,1485.9 1602.8,1486.9 1604.7,1487.5 1607.5,1488.5 1609.4,1489.1 1612.3,1490.0 1614.2,1490.6 1617.0,1491.5 1619.0,1492.1 1621.8,1492.9 1623.8,1493.5 1626.6,1494.3 1628.6,1494.8 1631.5,1495.6 1633.4,1496.2 1636.3,1497.0 1638.2,1497.5 1641.1,1498.3 1643.0,1498.8 1645.9,1499.6 1647.9,1500.1 1650.8,1500.9 1652.7,1501.4 1655.6,1502.1 1657.5,1502.6 1660.5,1503.3 1662.4,1503.8 1665.3,1504.5 1667.3,1505.0 1670.2,1505.7 1672.1,1506.2 1675.0,1506.9 1677.0,1507.4 1679.9,1508.1 1681.8,1508.6 1684.7,1509.4 1686.7,1509.9 1689.6,1510.6 1691.5,1511.1 1694.4,1511.9 1696.3,1512.4 1699.2,1513.1 1701.2,1513.6 1704.1,1514.4 1706.0,1514.9 1708.9,1515.6 1710.9,1516.1 1713.8,1516.8 1715.7,1517.3 1718.7,1517.9 1720.6,1518.4 1723.5,1519.1 1725.5,1519.5 1728.4,1520.1 1730.4,1520.6 1733.3,1521.2 1735.2,1521.6 1738.2,1522.2 1740.1,1522.7 1743.1,1523.3 1745.0,1523.7 1748.0,1524.3 1749.9,1524.7 1752.9,1525.3 1754.8,1525.7 1757.8,1526.3 1759.7,1526.7 1762.7,1527.2 1764.6,1527.6 1767.6,1528.2 1769.6,1528.6 1772.5,1529.1 1774.5,1529.5 1777.4,1530.1 1779.4,1530.4 1782.3,1531.0 1784.3,1531.4 1787.2,1531.9 1789.2,1532.3 1792.2,1532.8 1794.1,1533.2 1797.1,1533.7 1799.0,1534.1 1802.0,1534.6 1804.0,1535.0 1806.9,1535.5 1808.9,1535.8 1811.8,1536.4 1813.8,1536.7 1816.8,1537.2 1818.7,1537.6 1821.7,1538.1 1823.7,1538.4 1826.6,1538.9 1828.6,1539.2 1831.6,1539.7 1833.5,1540.1 1836.5,1540.6 1838.5,1540.9 1841.4,1541.4 1843.4,1541.7 1846.4,1542.2 1848.3,1542.5 1851.3,1543.0 1853.3,1543.3 1856.2,1543.7 1858.2,1544.0 1861.2,1544.5 1863.2,1544.8 1866.1,1545.2 1868.1,1545.5 1871.1,1546.0 1873.0,1546.3 1876.0,1546.7 1878.0,1547.0 1881.0,1547.4 1882.9,1547.7 1885.9,1548.1 1887.9,1548.4 1890.9,1548.8 1892.8,1549.1 1895.8,1549.5 1897.8,1549.8 1900.8,1550.2 1902.8,1550.5 1905.7,1550.9 1907.7,1551.1 1910.7,1551.5 1912.7,1551.8 1915.6,1552.2 1917.6,1552.4 1920.6,1552.8 1922.6,1553.1 1925.6,1553.4 1927.6,1553.7 1930.5,1554.0 1932.5,1554.3 1935.5,1554.6 1937.5,1554.9 1940.5,1555.2 1942.4,1555.4 1945.4,1555.8 1947.4,1556.0 1950.4,1556.3 1952.4,1556.5 1955.4,1556.8 1957.4,1557.0 1960.3,1557.3 1962.3,1557.5 1965.3,1557.8 1967.3,1558.0 1970.3,1558.3 1972.3,1558.5 1975.3,1558.8 1977.3,1559.0 1980.2,1559.3 1982.2,1559.5 1985.2,1559.8 1987.2,1559.9 1990.2,1560.2 1992.2,1560.4 1995.2,1560.7 1997.2,1560.9 2000.2,1561.2 2002.2,1561.4 2005.1,1561.6 2007.1,1561.8 2010.1,1562.1 2012.1,1562.3 2015.1,1562.6 2017.1,1562.8 2020.1,1563.1 2022.1,1563.3 2025.0,1563.6 2027.0,1563.8 2030.0,1564.1 2032.0,1564.3 2035.0,1564.6 2037.0,1564.8 2040.0,1565.1 2042.0,1565.3 2045.0,1565.6 2046.9,1565.8 2049.9,1566.1 2051.9,1566.3 2054.9,1566.6 2056.9,1566.8 2059.9,1567.0 2061.9,1567.2 2064.9,1567.5 2066.9,1567.7 2069.8,1567.9 2071.8,1568.1 2074.8,1568.4 2076.8,1568.5 2079.8,1568.8 2081.8,1568.9 2084.8,1569.1 2086.8,1569.3 2089.8,1569.5 2091.8,1569.6 2094.8,1569.8 2096.8,1569.9 2099.8,1570.1 2101.7,1570.3 2104.7,1570.4 2106.7,1570.6 2109.7,1570.7 2111.7,1570.8 2114.7,1571.0 2116.7,1571.1 2119.7,1571.3 2121.7,1571.4 2124.2,1571.5 2124.2,1579.9 2121.7,1579.8 2119.7,1579.7 2116.7,1579.5 2114.7,1579.4 2111.7,1579.2 2109.7,1579.1 2106.7,1579.0 2104.7,1578.8 2101.7,1578.7 2099.8,1578.5 2096.8,1578.3 2094.8,1578.2 2091.8,1578.0 2089.8,1577.9 2086.8,1577.7 2084.8,1577.5 2081.8,1577.3 2079.8,1577.2 2076.8,1576.9 2074.8,1576.8 2071.8,1576.5 2069.8,1576.3 2066.9,1576.1 2064.9,1575.9 2061.9,1575.6 2059.9,1575.4 2056.9,1575.2 2054.9,1575.0 2051.9,1574.7 2049.9,1574.5 2046.9,1574.2 2045.0,1574.0 2042.0,1573.7 2040.0,1573.5 2037.0,1573.2 2035.0,1573.0 2032.0,1572.7 2030.0,1572.5 2027.0,1572.2 2025.0,1572.0 2022.1,1571.7 2020.1,1571.5 2017.1,1571.2 2015.1,1571.0 2012.1,1570.7 2010.1,1570.5 2007.1,1570.2 2005.1,1570.0 2002.2,1569.8 2000.2,1569.6 1997.2,1569.3 1995.2,1569.1 1992.2,1568.8 1990.2,1568.6 1987.2,1568.3 1985.2,1568.2 1982.2,1567.9 1980.2,1567.7 1977.3,1567.4 1975.3,1567.2 1972.3,1566.9 1970.3,1566.7 1967.3,1566.4 1965.3,1566.2 1962.3,1565.9 1960.3,1565.7 1957.4,1565.4 1955.4,1565.2 1952.4,1564.9 1950.4,1564.7 1947.4,1564.4 1945.4,1564.2 1942.4,1563.8 1940.5,1563.6 1937.5,1563.3 1935.5,1563.0 1932.5,1562.7 1930.5,1562.4 1927.6,1562.1 1925.6,1561.8 1922.6,1561.5 1920.6,1561.2 1917.6,1560.8 1915.6,1560.6 1912.7,1560.2 1910.7,1559.9 1907.7,1559.5 1905.7,1559.3 1902.8,1558.9 1900.8,1558.6 1897.8,1558.2 1895.8,1557.9 1892.8,1557.5 1890.9,1557.2 1887.9,1556.8 1885.9,1556.5 1882.9,1556.1 1881.0,1555.8 1878.0,1555.4 1876.0,1555.1 1873.0,1554.7 1871.1,1554.4 1868.1,1553.9 1866.1,1553.6 1863.2,1553.2 1861.2,1552.9 1858.2,1552.4 1856.2,1552.1 1853.3,1551.7 1851.3,1551.4 1848.3,1550.9 1846.4,1550.6 1843.4,1550.1 1841.4,1549.8 1838.5,1549.3 1836.5,1549.0 1833.5,1548.5 1831.6,1548.1 1828.6,1547.6 1826.6,1547.3 1823.7,1546.8 1821.7,1546.5 1818.7,1546.0 1816.8,1545.6 1813.8,1545.1 1811.8,1544.8 1808.9,1544.2 1806.9,1543.9 1804.0,1543.4 1802.0,1543.0 1799.0,1542.5 1797.1,1542.1 1794.1,1541.6 1792.2,1541.2 1789.2,1540.7 1787.2,1540.3 1784.3,1539.8 1782.3,1539.4 1779.4,1538.8 1777.4,1538.5 1774.5,1537.9 1772.5,1537.5 1769.6,1537.0 1767.6,1536.6 1764.6,1536.0 1762.7,1535.6 1759.7,1535.1 1757.8,1534.7 1754.8,1534.1 1752.9,1533.7 1749.9,1533.1 1748.0,1532.7 1745.0,1532.1 1743.1,1531.7 1740.1,1531.1 1738.2,1530.6 1735.2,1530.0 1733.3,1529.6 1730.4,1529.0 1728.4,1528.5 1725.5,1527.9 1723.5,1527.5 1720.6,1526.8 1718.7,1526.3 1715.7,1525.7 1713.8,1525.2 1710.9,1524.5 1708.9,1524.0 1706.0,1523.3 1704.1,1522.8 1701.2,1522.0 1699.2,1521.5 1696.3,1520.8 1694.4,1520.3 1691.5,1519.5 1689.6,1519.0 1686.7,1518.3 1684.7,1517.8 1681.8,1517.0 1679.9,1516.5 1677.0,1515.8 1675.0,1515.3 1672.1,1514.6 1670.2,1514.1 1667.3,1513.4 1665.3,1512.9 1662.4,1512.2 1660.5,1511.7 1657.5,1511.0 1655.6,1510.5 1652.7,1509.8 1650.8,1509.3 1647.9,1508.5 1645.9,1508.0 1643.0,1507.2 1641.1,1506.7 1638.2,1505.9 1636.3,1505.4 1633.4,1504.6 1631.5,1504.0 1628.6,1503.2 1626.6,1502.7 1623.8,1501.9 1621.8,1501.3 1619.0,1500.5 1617.0,1499.9 1614.2,1499.0 1612.3,1498.4 1609.4,1497.5 1607.5,1496.9 1604.7,1495.9 1602.8,1495.3 1599.9,1494.3 1598.0,1493.7 1595.2,1492.7 1593.3,1492.1 1590.4,1491.2 1588.5,1490.6 1585.6,1489.8 1583.7,1489.3 1580.8,1488.5 1578.9,1487.9 1576.0,1487.1 1574.0,1486.6 1571.1,1485.9 1569.2,1485.4 1566.3,1484.7 1564.3,1484.2 1561.4,1483.6 1559.5,1483.1 1556.5,1482.5 1554.6,1482.1 1551.6,1481.6 1549.6,1481.2 1546.7,1480.7 1544.7,1480.4 1541.8,1479.9 1539.8,1479.6 1536.8,1479.2 1534.8,1478.8 1531.9,1478.3 1529.9,1478.0 1527.0,1477.4 1525.0,1477.0 1522.1,1476.4 1520.1,1476.0 1517.2,1475.4 1515.2,1475.0 1512.3,1474.3 1510.3,1473.9 1507.4,1473.2 1505.5,1472.8 1502.5,1472.1 1500.6,1471.7 1497.7,1471.0 1495.7,1470.5 1492.8,1469.8 1490.9,1469.3 1488.0,1468.5 1486.0,1468.0 1483.1,1467.3 1481.2,1466.7 1478.3,1465.9 1476.4,1465.4 1473.5,1464.6 1471.6,1464.0 1468.7,1463.2 1466.8,1462.6 1463.9,1461.7 1462.0,1461.1 1459.2,1460.2 1457.3,1459.6 1454.4,1458.7 1452.5,1458.0 1449.7,1457.1 1447.8,1456.4 1445.0,1455.4 1443.1,1454.7 1440.3,1453.7 1438.4,1453.0 1435.6,1452.0 1433.7,1451.2 1430.9,1450.2 1429.1,1449.4 1426.3,1448.3 1424.4,1447.5 1421.7,1446.4 1419.8,1445.6 1417.1,1444.4 1415.3,1443.6 1412.5,1442.4 1410.7,1441.6 1408.0,1440.3 1406.2,1439.5 1403.5,1438.2 1401.7,1437.3 1399.0,1436.0 1397.2,1435.1 1394.5,1433.8 1392.7,1432.8 1390.1,1431.4 1388.3,1430.5 1385.7,1429.1 1384.0,1428.1 1381.3,1426.6 1379.6,1425.6 1377.0,1424.1 1375.3,1423.1 1372.7,1421.6 1371.0,1420.5 1368.5,1419.0 1366.8,1417.9 1364.3,1416.3 1362.6,1415.2 1360.1,1413.5 1358.4,1412.4 1355.9,1410.7 1354.3,1409.6 1351.8,1407.9 1350.2,1406.7 1347.8,1405.0 1346.2,1403.8 1343.8,1402.0 1342.2,1400.8 1339.8,1399.0 1338.2,1397.7 1335.9,1395.9 1334.3,1394.6 1332.0,1392.7 1330.4,1391.5 1328.2,1389.5 1326.7,1388.2 1324.4,1386.2 1322.9,1384.9 1320.7,1382.9 1319.3,1381.5 1317.1,1379.5 1315.7,1378.1 1313.6,1376.0 1312.2,1374.5 1310.1,1372.4 1308.8,1370.9 1306.7,1368.7 1305.4,1367.3 1303.4,1365.0 1302.1,1363.5 1300.2,1361.2 1298.9,1359.7 1297.0,1357.4 1295.8,1355.8 1293.9,1353.5 1292.7,1351.9 1290.9,1349.5 1289.7,1347.9 1287.9,1345.5 1286.7,1343.9 1285.0,1341.4 1283.8,1339.8 1282.1,1337.3 1281.0,1335.7 1279.3,1333.2 1278.2,1331.5 1276.6,1329.0 1275.5,1327.4 1273.9,1324.8 1272.8,1323.1 1271.2,1320.6 1270.2,1318.9 1268.6,1316.3 1267.6,1314.6 1266.1,1312.0 1265.1,1310.3 1263.6,1307.7 1262.6,1305.9 1261.2,1303.3 1260.2,1301.5 1258.8,1298.9 1257.9,1297.1 1256.5,1294.5 1255.6,1292.7 1254.3,1290.0 1253.4,1288.2 1252.1,1285.5 1251.2,1283.7 1249.9,1281.0 1249.1,1279.2 1247.8,1276.5 1247.0,1274.7 1245.7,1272.0 1244.9,1270.1 1243.7,1267.4 1242.8,1265.6 1241.6,1262.9 1240.8,1261.0 1239.5,1258.3 1238.7,1256.5 1237.4,1253.8 1236.6,1251.9 1235.3,1249.2 1234.5,1247.4 1233.2,1244.7 1232.4,1242.9 1231.1,1240.1 1230.3,1238.3 1229.0,1235.6 1228.2,1233.8 1226.9,1231.1 1226.1,1229.2 1224.9,1226.5 1224.1,1224.7 1222.8,1222.0 1222.0,1220.1 1220.8,1217.4 1220.1,1215.5 1218.9,1212.8 1218.1,1210.9 1217.0,1208.2 1216.2,1206.3 1215.1,1203.5 1214.4,1201.7 1213.3,1198.9 1212.6,1197.0 1211.5,1194.2 1210.8,1192.4 1209.8,1189.5 1209.1,1187.7 1208.1,1184.8 1207.4,1183.0 1206.4,1180.1 1205.7,1178.2 1204.8,1175.4 1204.1,1173.5 1203.2,1170.7 1202.5,1168.8 1201.6,1165.9 1201.0,1164.0 1200.0,1161.2 1199.4,1159.3 1198.5,1156.4 1197.9,1154.5 1197.0,1151.6 1196.4,1149.7 1195.5,1146.9 1194.9,1144.9 1194.1,1142.1 1193.5,1140.2 1192.7,1137.3 1192.1,1135.4 1191.2,1132.5 1190.7,1130.6 1189.9,1127.7 1189.3,1125.8 1188.5,1122.9 1188.0,1120.9 1187.2,1118.1 1186.7,1116.1 1185.9,1113.2 1185.3,1111.3 1184.6,1108.4 1184.1,1106.5 1183.3,1103.6 1182.8,1101.6 1182.0,1098.7 1181.5,1096.8 1180.8,1093.9 1180.3,1091.9 1179.6,1089.0 1179.1,1087.1 1178.4,1084.2 1177.9,1082.2 1177.2,1079.3 1176.7,1077.4 1176.0,1074.5 1175.5,1072.5 1174.8,1069.6 1174.3,1067.7 1173.6,1064.8 1173.2,1062.8 1172.5,1059.9 1172.0,1057.9 1171.4,1055.0 1170.9,1053.1 1170.2,1050.1 1169.8,1048.2 1169.2,1045.3 1168.7,1043.3 1168.1,1040.4 1167.6,1038.4 1167.0,1035.5 1166.6,1033.5 1166.0,1030.6 1165.6,1028.6 1165.0,1025.7 1164.6,1023.8 1164.0,1020.8 1163.6,1018.9 1163.0,1015.9 1162.6,1013.9 1162.0,1011.0 1161.6,1009.0 1161.1,1006.1 1160.7,1004.1 1160.1,1001.2 1159.7,999.2 1159.2,996.3 1158.8,994.3 1158.2,991.4 1157.9,989.4 1157.3,986.4 1157.0,984.5 1156.4,981.5 1156.0,979.6 1155.5,976.6 1155.1,974.6 1154.6,971.7 1154.2,969.7 1153.7,966.8 1153.4,964.8 1152.8,961.9 1152.5,959.9 1151.9,956.9 1151.6,955.0 1151.1,952.0 1150.7,950.0 1150.2,947.1 1149.9,945.1 1149.4,942.2 1149.0,940.2 1148.5,937.2 1148.2,935.3 1147.7,932.3 1147.3,930.3 1146.8,927.4 1146.5,925.4 1146.0,922.4 1145.7,920.5 1145.2,917.5 1144.9,915.5 1144.4,912.6 1144.1,910.6 1143.6,907.6 1143.3,905.7 1142.9,902.7 1142.6,900.7 1142.1,897.7 1141.8,895.8 1141.3,892.8 1141.1,890.8 1140.6,887.9 1140.3,885.9 1139.9,882.9 1139.6,880.9 1139.1,878.0 1138.8,876.0 1138.4,873.0 1138.1,871.1 1137.6,868.1 1137.3,866.1 1136.8,863.2 1136.5,861.2 1136.0,858.2 1135.7,856.2 1135.2,853.3 1134.9,851.3 1134.4,848.4 1134.1,846.4 1133.6,843.4 1133.2,841.5 1132.7,838.5 1132.4,836.5 1131.8,833.6 1131.5,831.6 1131.0,828.7 1130.6,826.7 1130.1,823.7 1129.8,821.8 1129.3,818.8 1128.9,816.8 1128.4,813.9 1128.1,811.9 1127.6,808.9 1127.3,807.0 1126.8,804.0 1126.5,802.0 1126.0,799.1 1125.7,797.1 1125.3,794.1 1125.0,792.2 1124.5,789.2 1124.2,787.2 1123.8,784.2 1123.5,782.3 1123.1,779.3 1122.8,777.3 1122.4,774.3 1122.1,772.4 1121.7,769.4 1121.4,767.4 1121.0,764.4 1120.7,762.5 1120.3,759.5 1120.0,757.5 1119.6,754.5 1119.3,752.6 1118.9,749.6 1118.6,747.6 1118.1,744.6 1117.8,742.7 1117.3,739.7 1117.0,737.7 1116.6,734.8 1116.2,732.8 1115.7,729.8 1115.4,727.9 1114.9,724.9 1114.5,722.9 1114.0,720.0 1113.6,718.0 1113.1,715.1 1112.7,713.1 1112.1,710.2 1111.7,708.2 1111.1,705.3 1110.6,703.4 1110.0,700.4 1109.5,698.5 1108.9,695.6 1108.4,693.6 1107.7,690.8 1107.2,688.8 1106.4,685.9 1105.9,684.0 1105.1,681.2 1104.6,679.3 1103.7,676.4 1103.1,674.5 1102.2,671.7 1101.6,669.8 1100.7,667.0 1100.0,665.2 1098.9,662.4 1098.1,660.5 1096.9,657.8 1096.1,655.9 1094.8,653.2 1093.9,651.4 1092.7,648.6 1091.8,646.7 1090.4,644.0 1089.2,642.5 1086.7,640.5 1085.0,640.0 1082.3,641.5 1080.9,642.9 1079.3,645.3 1078.4,647.2 1077.1,650.0 1076.3,651.9 1075.0,654.6 1074.2,656.5 1073.1,659.3 1072.4,661.2 1071.3,664.0 1070.7,665.8 1069.7,668.7 1069.2,670.5 1068.3,673.4 1067.8,675.3 1067.0,678.1 1066.5,680.0 1065.7,682.9 1065.2,684.8 1064.4,687.7 1063.9,689.6 1063.2,692.5 1062.6,694.4 1061.9,697.3 1061.4,699.3 1060.6,702.2 1060.1,704.1 1059.3,707.0 1058.8,708.9 1058.0,711.8 1057.5,713.7 1056.8,716.7 1056.3,718.6 1055.5,721.5 1055.0,723.4 1054.3,726.3 1053.8,728.3 1053.1,731.2 1052.6,733.1 1051.9,736.1 1051.5,738.0 1050.8,740.9 1050.3,742.9 1049.7,745.8 1049.2,747.7 1048.6,750.7 1048.2,752.6 1047.5,755.6 1047.1,757.5 1046.5,760.4 1046.1,762.4 1045.5,765.3 1045.1,767.3 1044.5,770.2 1044.1,772.2 1043.6,775.2 1043.2,777.1 1042.6,780.1 1042.3,782.0 1041.7,785.0 1041.4,787.0 1040.8,789.9 1040.5,791.9 1040.0,794.8 1039.6,796.8 1039.1,799.8 1038.8,801.7 1038.3,804.7 1037.9,806.7 1037.4,809.6 1037.1,811.6 1036.6,814.5 1036.3,816.5 1035.8,819.5 1035.5,821.5 1035.0,824.4 1034.7,826.4 1034.3,829.4 1034.0,831.3 1033.5,834.3 1033.2,836.3 1032.8,839.2 1032.5,841.2 1032.0,844.2 1031.8,846.2 1031.3,849.1 1031.0,851.1 1030.6,854.1 1030.3,856.1 1029.9,859.0 1029.6,861.0 1029.2,864.0 1029.0,866.0 1028.5,868.9 1028.3,870.9 1027.9,873.9 1027.6,875.9 1027.2,878.9 1026.9,880.8 1026.5,883.8 1026.3,885.8 1025.9,888.8 1025.6,890.7 1025.2,893.7 1024.9,895.7 1024.5,898.7 1024.2,900.7 1023.8,903.6 1023.6,905.6 1023.2,908.6 1022.9,910.6 1022.5,913.5 1022.2,915.5 1021.8,918.5 1021.5,920.5 1021.1,923.4 1020.9,925.4 1020.5,928.4 1020.2,930.4 1019.8,933.3 1019.5,935.3 1019.1,938.3 1018.8,940.3 1018.4,943.2 1018.1,945.2 1017.6,948.2 1017.4,950.2 1016.9,953.1 1016.6,955.1 1016.2,958.1 1015.9,960.1 1015.5,963.0 1015.2,965.0 1014.7,968.0 1014.4,970.0 1014.0,972.9 1013.7,974.9 1013.2,977.9 1012.9,979.8 1012.5,982.8 1012.2,984.8 1011.7,987.8 1011.4,989.7 1011.0,992.7 1010.7,994.7 1010.2,997.6 1010.0,999.6 1009.5,1002.6 1009.2,1004.6 1008.8,1007.5 1008.5,1009.5 1008.1,1012.5 1007.8,1014.5 1007.4,1017.4 1007.1,1019.4 1006.7,1022.4 1006.4,1024.4 1006.0,1027.3 1005.7,1029.3 1005.3,1032.3 1005.1,1034.3 1004.7,1037.3 1004.4,1039.2 1004.0,1042.2 1003.7,1044.2 1003.3,1047.2 1003.1,1049.1 1002.7,1052.1 1002.4,1054.1 1002.0,1057.1 1001.7,1059.1 1001.3,1062.0 1001.1,1064.0 1000.7,1067.0 1000.4,1069.0 1000.0,1071.9 999.7,1073.9 999.3,1076.9 999.1,1078.9 998.7,1081.9 998.4,1083.8 998.0,1086.8 997.7,1088.8 997.3,1091.8 997.1,1093.7 996.7,1096.7 996.4,1098.7 996.0,1101.7 995.7,1103.7 995.3,1106.6 995.1,1108.6 994.7,1111.6 994.4,1113.6 994.0,1116.5 993.7,1118.5 993.3,1121.5 993.1,1123.5 992.7,1126.5 992.4,1128.4 992.0,1131.4 991.8,1133.4 991.4,1136.4 991.1,1138.3 990.7,1141.3 990.4,1143.3 990.1,1146.3 989.8,1148.3 989.4,1151.2 989.1,1153.2 988.8,1156.2 988.5,1158.2 988.1,1161.2 987.9,1163.1 987.5,1166.1 987.2,1168.1 986.8,1171.1 986.6,1173.1 986.2,1176.0 985.9,1178.0 985.5,1181.0 985.3,1183.0 984.9,1185.9 984.6,1187.9 984.2,1190.9 983.9,1192.9 983.5,1195.8 983.2,1197.8 982.8,1200.8 982.6,1202.8 982.1,1205.8 981.9,1207.7 981.4,1210.7 981.1,1212.7 980.7,1215.6 980.4,1217.6 979.9,1220.6 979.6,1222.6 979.2,1225.5 978.9,1227.5 978.4,1230.5 978.1,1232.4 977.6,1235.4 977.3,1237.4 976.8,1240.3 976.5,1242.3 976.0,1245.3 975.7,1247.2 975.2,1250.2 974.9,1252.2 974.4,1255.1 974.0,1257.1 973.5,1260.1 973.2,1262.0 972.7,1265.0 972.4,1267.0 971.8,1269.9 971.5,1271.9 971.0,1274.9 970.7,1276.8 970.1,1279.8 969.8,1281.8 969.3,1284.7 969.0,1286.7 968.4,1289.6 968.1,1291.6 967.6,1294.6 967.2,1296.5 966.7,1299.5 966.4,1301.5 965.9,1304.4 965.5,1306.4 965.0,1309.3 964.7,1311.3 964.2,1314.3 963.8,1316.2 963.3,1319.2 963.0,1321.2 962.5,1324.1 962.1,1326.1 961.6,1329.1 961.3,1331.0 960.7,1334.0 960.4,1336.0 959.9,1338.9 959.5,1340.9 959.0,1343.8 958.6,1345.8 958.1,1348.7 957.7,1350.7 957.2,1353.7 956.8,1355.6 956.3,1358.6 955.9,1360.5 955.3,1363.5 954.9,1365.4 954.4,1368.4 954.0,1370.4 953.4,1373.3 953.0,1375.3 952.4,1378.2 952.0,1380.2 951.4,1383.1 951.0,1385.1 950.4,1388.0 950.0,1389.9 949.3,1392.9 948.9,1394.8 948.3,1397.8 947.8,1399.7 947.2,1402.6 946.7,1404.6 946.1,1407.5 945.6,1409.5 945.0,1412.4 944.5,1414.3 943.8,1417.3 943.3,1419.2 942.6,1422.1 942.2,1424.1 941.4,1427.0 941.0,1428.9 940.2,1431.8 939.7,1433.8 939.0,1436.7 938.5,1438.6 937.7,1441.5 937.2,1443.4 936.4,1446.3 935.9,1448.3 935.1,1451.2 934.5,1453.1 933.7,1456.0 933.1,1457.9 932.3,1460.7 931.7,1462.7 930.8,1465.5 930.2,1467.4 929.2,1470.3 928.6,1472.2 927.6,1475.0 927.0,1476.9 926.0,1479.7 925.3,1481.6 924.2,1484.4 923.5,1486.2 922.4,1489.0 921.7,1490.9 920.5,1493.6 919.7,1495.5 918.5,1498.2 917.7,1500.0 916.5,1502.7 915.6,1504.5 914.3,1507.2 913.4,1509.0 912.0,1511.6 911.0,1513.4 909.6,1516.0 908.6,1517.7 907.1,1520.2 906.0,1521.9 904.4,1524.4 903.4,1526.1 901.7,1528.5 900.5,1530.1 898.7,1532.5 897.5,1534.0 895.7,1536.3 894.4,1537.8 892.4,1540.0 891.1,1541.5 889.1,1543.6 887.6,1544.9 885.5,1546.9 884.0,1548.2 881.8,1550.1 880.2,1551.3 877.9,1553.1 876.3,1554.2 873.9,1555.9 872.2,1556.9 869.7,1558.5 868.0,1559.5 865.5,1560.9 863.7,1561.8 861.1,1563.1 859.3,1563.9 856.6,1565.1 854.8,1565.9 852.0,1567.0 850.2,1567.6 847.4,1568.6 845.5,1569.2 842.7,1570.1 840.8,1570.7 837.9,1571.4 836.0,1571.9 833.1,1572.6 831.1,1573.1 828.2,1573.7 826.3,1574.1 823.3,1574.7 821.4,1575.0 818.4,1575.6 816.5,1575.9 813.5,1576.3 811.5,1576.6 808.6,1577.0 806.6,1577.3 803.6,1577.7 801.6,1577.9 798.6,1578.2 796.7,1578.5 793.7,1578.8 791.7,1579.0 788.7,1579.3 786.7,1579.4 783.7,1579.7 781.7,1579.9 778.7,1580.1 776.7,1580.3 773.7,1580.5 771.7,1580.6 768.8,1580.8 766.8,1581.0 763.8,1581.1 761.8,1581.3 758.8,1581.4 756.8,1581.5 753.8,1581.7 751.8,1581.8 748.8,1581.9 746.8,1582.0 743.8,1582.2 741.8,1582.2 738.8,1582.3 736.8,1582.4 733.8,1582.5 731.8,1582.6 728.8,1582.6 726.8,1582.7 723.8,1582.7 721.8,1582.8 718.8,1582.8 716.8,1582.8 713.8,1582.8 711.8,1582.9 708.8,1582.9 706.8,1582.8 703.8,1582.8 701.8,1582.8 698.8,1582.8 696.8,1582.7 693.8,1582.7 691.8,1582.6 688.8,1582.6 686.8,1582.5 683.8,1582.4 681.8,1582.3 678.8,1582.2 676.8,1582.1 673.8,1582.0 671.8,1581.9 668.8,1581.7 666.8,1581.6 663.8,1581.4 661.8,1581.3 658.8,1581.1 656.8,1581.0 653.9,1580.8 651.9,1580.6 648.9,1580.4 646.9,1580.1 643.9,1579.8 642.0,1579.5 639.0,1579.1 637.0,1578.8 634.0,1578.4 632.1,1578.0 629.1,1577.6 627.1,1577.2 624.2,1576.7 622.2,1576.3 619.2,1575.8 617.3,1575.5 614.3,1574.9 612.3,1574.6 609.4,1574.0 607.4,1573.7 604.4,1573.2 602.4,1572.9 599.5,1572.4 597.5,1572.1 594.5,1571.7 592.6,1571.4 589.6,1570.9 587.6,1570.6 584.7,1570.1 582.7,1569.8 579.7,1569.4 577.7,1569.1 574.8,1568.6 572.8,1568.3 569.8,1567.8 567.9,1567.5 564.9,1567.0 562.9,1566.7 560.0,1566.2 558.0,1565.9 555.0,1565.4 553.1,1565.0 550.1,1564.5 548.1,1564.2 545.2,1563.6 543.2,1563.3 540.3,1562.8 538.3,1562.4 535.3,1561.9 533.4,1561.5 530.4,1561.0 528.5,1560.7 525.5,1560.1 523.5,1559.8 520.6,1559.3 518.6,1559.0 515.6,1558.4 513.7,1558.1 510.7,1557.6 508.7,1557.2 505.8,1556.7 503.8,1556.4 500.9,1555.9 498.9,1555.6 495.9,1555.1 493.9,1554.8 491.0,1554.3 489.0,1554.1 486.0,1553.6 484.0,1553.3 481.1,1552.9 479.1,1552.6 476.1,1552.2 474.1,1552.0 471.1,1551.7 469.2,1551.5 466.2,1551.3 464.2,1551.2 461.2,1551.0 459.2,1550.9 456.2,1550.8 454.2,1550.8 451.2,1550.7 449.2,1550.7 446.2,1550.7 444.2,1550.9 441.2,1551.2 439.2,1551.5 436.2,1552.0 434.3,1552.3 431.4,1553.0 429.5,1553.6 426.6,1554.6 424.7,1555.3 421.9,1556.4 420.1,1557.2 417.4,1558.4 415.6,1559.3 412.9,1560.7 411.2,1561.7 408.6,1563.2 406.8,1564.2 404.2,1565.6 402.4,1566.6 399.8,1568.0 398.0,1569.0 395.4,1570.4 393.7,1571.4 391.0,1572.9 389.3,1573.8 386.7,1575.3 384.9,1576.2 382.3,1577.7 380.5,1578.7 377.9,1580.2 376.2,1581.2 373.6,1582.6 371.8,1583.6 369.2,1585.0 367.4,1586.0 364.8,1587.3 363.0,1588.2 360.3,1589.5 358.5,1590.4 355.7,1591.7 353.9,1592.5 351.2,1593.7 349.3,1594.5 346.5,1595.6 344.7,1596.3 341.9,1597.3 340.0,1598.0 337.1,1599.0 335.2,1599.6 332.3,1600.5 330.4,1601.0 327.5,1601.7 325.5,1602.1 322.6,1602.6 320.6,1602.9 317.7,1603.4 315.7,1603.7 312.7,1604.1 310.7,1604.3 307.7,1604.6 305.7,1604.8 302.7,1604.9 300.7,1605.0ZM296.5,1600.8 298.5,1600.7 301.5,1600.6 303.5,1600.4 306.5,1600.1 308.5,1599.9 311.5,1599.5 313.5,1599.2 316.4,1598.7 318.4,1598.4 321.3,1597.9 323.3,1597.5 326.2,1596.8 328.1,1596.3 331.0,1595.4 332.9,1594.8 335.8,1593.8 337.7,1593.1 340.5,1592.1 342.3,1591.4 345.1,1590.3 347.0,1589.5 349.7,1588.3 351.5,1587.5 354.3,1586.2 356.1,1585.3 358.8,1584.0 360.6,1583.1 363.2,1581.8 365.0,1580.8 367.6,1579.4 369.4,1578.4 372.0,1577.0 373.7,1576.0 376.3,1574.5 378.1,1573.5 380.7,1572.0 382.5,1571.1 385.1,1569.6 386.8,1568.7 389.5,1567.2 391.2,1566.2 393.8,1564.8 395.6,1563.8 398.2,1562.4 400.0,1561.4 402.6,1560.0 404.4,1559.0 407.0,1557.5 408.7,1556.5 411.4,1555.1 413.2,1554.2 415.9,1553.0 417.7,1552.2 420.5,1551.1 422.4,1550.4 425.3,1549.4 427.2,1548.8 430.1,1548.1 432.0,1547.8 435.0,1547.3 437.0,1547.0 440.0,1546.7 442.0,1546.5 445.0,1546.5 453.4,1546.5 450.4,1546.5 448.4,1546.7 445.4,1547.0 443.4,1547.3 440.4,1547.8 438.5,1548.1 435.6,1548.8 433.7,1549.4 430.8,1550.4 428.9,1551.1 426.1,1552.2 424.3,1553.0 421.6,1554.2 419.8,1555.1 417.1,1556.5 415.4,1557.5 412.8,1559.0 411.0,1560.0 408.4,1561.4 406.6,1562.4 404.0,1563.8 402.2,1564.8 399.6,1566.2 397.9,1567.2 395.2,1568.7 393.5,1569.6 390.9,1571.1 389.1,1572.0 386.5,1573.5 384.7,1574.5 382.1,1576.0 380.4,1577.0 377.8,1578.4 376.0,1579.4 373.4,1580.8 371.6,1581.8 369.0,1583.1 367.2,1584.0 364.5,1585.3 362.7,1586.2 359.9,1587.5 358.1,1588.3 355.4,1589.5 353.5,1590.3 350.7,1591.4 348.9,1592.1 346.1,1593.1 344.2,1593.8 341.3,1594.8 339.4,1595.4 336.5,1596.3 334.6,1596.8 331.7,1597.5 329.7,1597.9 326.8,1598.4 324.8,1598.7 321.9,1599.2 319.9,1599.5 316.9,1599.9 314.9,1600.1 311.9,1600.4 309.9,1600.6 306.9,1600.7 304.9,1600.8ZM453.4,1546.5 455.4,1546.5 458.4,1546.6 460.4,1546.6 463.4,1546.7 465.4,1546.8 468.4,1547.0 470.4,1547.1 473.4,1547.3 475.3,1547.5 478.3,1547.8 480.3,1548.0 483.3,1548.4 485.3,1548.7 488.2,1549.1 490.2,1549.4 493.2,1549.9 495.2,1550.1 498.1,1550.6 500.1,1550.9 503.1,1551.4 505.1,1551.7 508.0,1552.2 510.0,1552.5 512.9,1553.0 514.9,1553.4 517.9,1553.9 519.8,1554.2 522.8,1554.8 524.8,1555.1 527.7,1555.6 529.7,1555.9 532.7,1556.5 534.6,1556.8 537.6,1557.3 539.5,1557.7 542.5,1558.2 544.5,1558.6 547.4,1559.1 549.4,1559.4 552.3,1560.0 554.3,1560.3 557.3,1560.8 559.2,1561.2 562.2,1561.7 564.2,1562.0 567.1,1562.5 569.1,1562.8 572.1,1563.3 574.0,1563.6 577.0,1564.1 579.0,1564.4 581.9,1564.9 583.9,1565.2 586.9,1565.6 588.9,1565.9 591.8,1566.4 593.8,1566.7 596.8,1567.2 598.7,1567.5 601.7,1567.9 603.7,1568.2 606.6,1568.7 608.6,1569.0 611.6,1569.5 613.6,1569.8 616.5,1570.4 618.5,1570.7 621.5,1571.3 623.4,1571.6 626.4,1572.1 628.4,1572.5 631.3,1573.0 633.3,1573.4 636.3,1573.8 638.2,1574.2 641.2,1574.6 643.2,1574.9 646.2,1575.3 648.1,1575.6 651.1,1575.9 653.1,1576.2 656.1,1576.4 658.1,1576.6 661.0,1576.8 663.0,1576.9 666.0,1577.1 668.0,1577.2 671.0,1577.4 673.0,1577.5 676.0,1577.7 678.0,1577.8 681.0,1577.9 683.0,1578.0 686.0,1578.1 688.0,1578.2 691.0,1578.3 693.0,1578.4 696.0,1578.4 698.0,1578.5 701.0,1578.5 703.0,1578.6 706.0,1578.6 708.0,1578.6 711.0,1578.6 713.0,1578.7 704.6,1578.7 702.6,1578.6 699.6,1578.6 697.6,1578.6 694.6,1578.6 692.6,1578.5 689.6,1578.5 687.6,1578.4 684.6,1578.4 682.6,1578.3 679.6,1578.2 677.6,1578.1 674.6,1578.0 672.6,1577.9 669.6,1577.8 667.6,1577.7 664.6,1577.5 662.6,1577.4 659.6,1577.2 657.6,1577.1 654.6,1576.9 652.6,1576.8 649.7,1576.6 647.7,1576.4 644.7,1576.2 642.7,1575.9 639.7,1575.6 637.8,1575.3 634.8,1574.9 632.8,1574.6 629.8,1574.2 627.9,1573.8 624.9,1573.4 622.9,1573.0 620.0,1572.5 618.0,1572.1 615.0,1571.6 613.1,1571.3 610.1,1570.7 608.1,1570.4 605.2,1569.8 603.2,1569.5 600.2,1569.0 598.2,1568.7 595.3,1568.2 593.3,1567.9 590.3,1567.5 588.4,1567.2 585.4,1566.7 583.4,1566.4 580.5,1565.9 578.5,1565.6 575.5,1565.2 573.5,1564.9 570.6,1564.4 568.6,1564.1 565.6,1563.6 563.7,1563.3 560.7,1562.8 558.7,1562.5 555.8,1562.0 553.8,1561.7 550.8,1561.2 548.9,1560.8 545.9,1560.3 543.9,1560.0 541.0,1559.4 539.0,1559.1 536.1,1558.6 534.1,1558.2 531.1,1557.7 529.2,1557.3 526.2,1556.8 524.3,1556.5 521.3,1555.9 519.3,1555.6 516.4,1555.1 514.4,1554.8 511.4,1554.2 509.5,1553.9 506.5,1553.4 504.5,1553.0 501.6,1552.5 499.6,1552.2 496.7,1551.7 494.7,1551.4 491.7,1550.9 489.7,1550.6 486.8,1550.1 484.8,1549.9 481.8,1549.4 479.8,1549.1 476.9,1548.7 474.9,1548.4 471.9,1548.0 469.9,1547.8 466.9,1547.5 465.0,1547.3 462.0,1547.1 460.0,1547.0 457.0,1546.8 455.0,1546.7 452.0,1546.6 450.0,1546.6 447.0,1546.5 445.0,1546.5ZM704.6,1578.7 707.6,1578.7 709.6,1578.6 712.6,1578.6 714.6,1578.6 717.6,1578.6 719.6,1578.5 722.6,1578.5 724.6,1578.4 727.6,1578.4 729.6,1578.3 732.6,1578.2 734.6,1578.1 737.6,1578.0 739.6,1578.0 742.6,1577.8 744.6,1577.7 747.6,1577.6 749.6,1577.5 752.6,1577.3 754.6,1577.2 757.6,1577.1 759.6,1576.9 762.6,1576.8 764.6,1576.6 767.5,1576.4 769.5,1576.3 772.5,1576.1 774.5,1575.9 777.5,1575.7 779.5,1575.5 782.5,1575.2 784.5,1575.1 787.5,1574.8 789.5,1574.6 792.5,1574.3 794.4,1574.0 797.4,1573.7 799.4,1573.5 802.4,1573.1 804.4,1572.8 807.3,1572.4 809.3,1572.1 812.3,1571.7 814.2,1571.4 817.2,1570.8 819.1,1570.5 822.1,1569.9 824.0,1569.5 826.9,1568.9 828.9,1568.4 831.8,1567.7 833.7,1567.2 836.6,1566.5 838.5,1565.9 841.3,1565.0 843.2,1564.4 846.0,1563.4 847.8,1562.8 850.6,1561.7 852.4,1560.9 855.1,1559.7 856.9,1558.9 859.5,1557.6 861.3,1556.7 863.8,1555.3 865.5,1554.3 868.0,1552.7 869.7,1551.7 872.1,1550.0 873.7,1548.9 876.0,1547.1 877.6,1545.9 879.8,1544.0 881.3,1542.7 883.4,1540.7 884.9,1539.4 886.9,1537.3 888.2,1535.8 890.2,1533.6 891.5,1532.1 893.3,1529.8 894.5,1528.3 896.3,1525.9 897.5,1524.3 899.2,1521.9 900.2,1520.2 901.8,1517.7 902.9,1516.0 904.4,1513.5 905.4,1511.8 906.8,1509.2 907.8,1507.4 909.2,1504.8 910.1,1503.0 911.4,1500.3 912.3,1498.5 913.5,1495.8 914.3,1494.0 915.5,1491.3 916.3,1489.4 917.5,1486.7 918.2,1484.8 919.3,1482.0 920.0,1480.2 921.1,1477.4 921.8,1475.5 922.8,1472.7 923.4,1470.8 924.4,1468.0 925.0,1466.1 926.0,1463.2 926.6,1461.3 927.5,1458.5 928.1,1456.5 928.9,1453.7 929.5,1451.8 930.3,1448.9 930.9,1447.0 931.7,1444.1 932.2,1442.1 933.0,1439.2 933.5,1437.3 934.3,1434.4 934.8,1432.5 935.5,1429.6 936.0,1427.6 936.8,1424.7 937.2,1422.8 938.0,1419.9 938.4,1417.9 939.1,1415.0 939.6,1413.1 940.3,1410.1 940.8,1408.2 941.4,1405.3 941.9,1403.3 942.5,1400.4 943.0,1398.4 943.6,1395.5 944.1,1393.6 944.7,1390.6 945.1,1388.7 945.8,1385.7 946.2,1383.8 946.8,1380.9 947.2,1378.9 947.8,1376.0 948.2,1374.0 948.8,1371.1 949.2,1369.1 949.8,1366.2 950.2,1364.2 950.7,1361.2 951.1,1359.3 951.7,1356.3 952.1,1354.4 952.6,1351.4 953.0,1349.5 953.5,1346.5 953.9,1344.5 954.4,1341.6 954.8,1339.6 955.3,1336.7 955.7,1334.7 956.2,1331.8 956.5,1329.8 957.1,1326.8 957.4,1324.9 957.9,1321.9 958.3,1319.9 958.8,1317.0 959.1,1315.0 959.6,1312.0 960.0,1310.1 960.5,1307.1 960.8,1305.1 961.3,1302.2 961.7,1300.2 962.2,1297.3 962.5,1295.3 963.0,1292.3 963.4,1290.4 963.9,1287.4 964.2,1285.4 964.8,1282.5 965.1,1280.5 965.6,1277.6 965.9,1275.6 966.5,1272.6 966.8,1270.7 967.3,1267.7 967.6,1265.7 968.2,1262.8 968.5,1260.8 969.0,1257.8 969.3,1255.9 969.8,1252.9 970.2,1250.9 970.7,1248.0 971.0,1246.0 971.5,1243.0 971.8,1241.1 972.3,1238.1 972.6,1236.1 973.1,1233.2 973.4,1231.2 973.9,1228.2 974.2,1226.3 974.7,1223.3 975.0,1221.3 975.4,1218.4 975.7,1216.4 976.2,1213.4 976.5,1211.4 976.9,1208.5 977.2,1206.5 977.7,1203.5 977.9,1201.6 978.4,1198.6 978.6,1196.6 979.0,1193.6 979.3,1191.6 979.7,1188.7 980.0,1186.7 980.4,1183.7 980.7,1181.7 981.1,1178.8 981.3,1176.8 981.7,1173.8 982.0,1171.8 982.4,1168.9 982.6,1166.9 983.0,1163.9 983.3,1161.9 983.7,1158.9 983.9,1157.0 984.3,1154.0 984.6,1152.0 984.9,1149.0 985.2,1147.0 985.6,1144.1 985.9,1142.1 986.2,1139.1 986.5,1137.1 986.9,1134.1 987.2,1132.2 987.6,1129.2 987.8,1127.2 988.2,1124.2 988.5,1122.3 988.9,1119.3 989.1,1117.3 989.5,1114.3 989.8,1112.3 990.2,1109.4 990.5,1107.4 990.9,1104.4 991.1,1102.4 991.5,1099.5 991.8,1097.5 992.2,1094.5 992.5,1092.5 992.9,1089.5 993.1,1087.6 993.5,1084.6 993.8,1082.6 994.2,1079.6 994.5,1077.7 994.9,1074.7 995.1,1072.7 995.5,1069.7 995.8,1067.7 996.2,1064.8 996.5,1062.8 996.9,1059.8 997.1,1057.8 997.5,1054.9 997.8,1052.9 998.2,1049.9 998.5,1047.9 998.9,1044.9 999.1,1043.0 999.5,1040.0 999.8,1038.0 1000.2,1035.0 1000.5,1033.1 1000.9,1030.1 1001.1,1028.1 1001.5,1025.1 1001.8,1023.1 1002.2,1020.2 1002.5,1018.2 1002.9,1015.2 1003.2,1013.2 1003.6,1010.3 1003.9,1008.3 1004.3,1005.3 1004.6,1003.3 1005.0,1000.4 1005.3,998.4 1005.8,995.4 1006.0,993.4 1006.5,990.5 1006.8,988.5 1007.2,985.5 1007.5,983.6 1008.0,980.6 1008.3,978.6 1008.7,975.6 1009.0,973.7 1009.5,970.7 1009.8,968.7 1010.2,965.8 1010.5,963.8 1011.0,960.8 1011.3,958.8 1011.7,955.9 1012.0,953.9 1012.4,950.9 1012.7,948.9 1013.2,946.0 1013.4,944.0 1013.9,941.0 1014.2,939.0 1014.6,936.1 1014.9,934.1 1015.3,931.1 1015.6,929.1 1016.0,926.2 1016.3,924.2 1016.7,921.2 1016.9,919.2 1017.3,916.3 1017.6,914.3 1018.0,911.3 1018.3,909.3 1018.7,906.4 1019.0,904.4 1019.4,901.4 1019.6,899.4 1020.0,896.5 1020.3,894.5 1020.7,891.5 1021.0,889.5 1021.4,886.5 1021.7,884.6 1022.1,881.6 1022.3,879.6 1022.7,876.6 1023.0,874.7 1023.4,871.7 1023.7,869.7 1024.1,866.7 1024.3,864.7 1024.8,861.8 1025.0,859.8 1025.4,856.8 1025.7,854.8 1026.1,851.9 1026.4,849.9 1026.8,846.9 1027.1,844.9 1027.6,842.0 1027.8,840.0 1028.3,837.0 1028.6,835.0 1029.0,832.1 1029.3,830.1 1029.8,827.1 1030.1,825.2 1030.5,822.2 1030.8,820.2 1031.3,817.3 1031.6,815.3 1032.1,812.3 1032.4,810.3 1032.9,807.4 1033.2,805.4 1033.7,802.5 1034.1,800.5 1034.6,797.5 1034.9,795.6 1035.4,792.6 1035.8,790.6 1036.3,787.7 1036.6,785.7 1037.2,782.8 1037.5,780.8 1038.1,777.8 1038.4,775.9 1039.0,772.9 1039.4,771.0 1039.9,768.0 1040.3,766.0 1040.9,763.1 1041.3,761.1 1041.9,758.2 1042.3,756.2 1042.9,753.3 1043.3,751.4 1044.0,748.4 1044.4,746.5 1045.0,743.5 1045.5,741.6 1046.1,738.7 1046.6,736.7 1047.3,733.8 1047.7,731.9 1048.4,728.9 1048.9,727.0 1049.6,724.1 1050.1,722.1 1050.8,719.2 1051.3,717.3 1052.1,714.4 1052.6,712.5 1053.3,709.5 1053.8,707.6 1054.6,704.7 1055.1,702.8 1055.9,699.9 1056.4,698.0 1057.2,695.1 1057.7,693.1 1058.4,690.2 1059.0,688.3 1059.7,685.4 1060.2,683.5 1061.0,680.6 1061.5,678.7 1062.3,675.8 1062.8,673.9 1063.6,671.1 1064.1,669.2 1065.0,666.3 1065.5,664.5 1066.5,661.6 1067.1,659.8 1068.2,657.0 1068.9,655.1 1070.0,652.3 1070.8,650.4 1072.1,647.7 1072.9,645.8 1074.2,643.0 1075.1,641.1 1076.7,638.7 1078.1,637.3 1080.8,635.8 1089.2,635.8 1086.5,637.3 1085.1,638.7 1083.5,641.1 1082.6,643.0 1081.3,645.8 1080.5,647.7 1079.2,650.4 1078.4,652.3 1077.3,655.1 1076.6,657.0 1075.5,659.8 1074.9,661.6 1073.9,664.5 1073.4,666.3 1072.5,669.2 1072.0,671.1 1071.2,673.9 1070.7,675.8 1069.9,678.7 1069.4,680.6 1068.6,683.5 1068.1,685.4 1067.4,688.3 1066.8,690.2 1066.1,693.1 1065.6,695.1 1064.8,698.0 1064.3,699.9 1063.5,702.8 1063.0,704.7 1062.2,707.6 1061.7,709.5 1061.0,712.5 1060.5,714.4 1059.7,717.3 1059.2,719.2 1058.5,722.1 1058.0,724.1 1057.3,727.0 1056.8,728.9 1056.1,731.9 1055.7,733.8 1055.0,736.7 1054.5,738.7 1053.9,741.6 1053.4,743.5 1052.8,746.5 1052.4,748.4 1051.7,751.4 1051.3,753.3 1050.7,756.2 1050.3,758.2 1049.7,761.1 1049.3,763.1 1048.7,766.0 1048.3,768.0 1047.8,771.0 1047.4,772.9 1046.8,775.9 1046.5,777.8 1045.9,780.8 1045.6,782.8 1045.0,785.7 1044.7,787.7 1044.2,790.6 1043.8,792.6 1043.3,795.6 1043.0,797.5 1042.5,800.5 1042.1,802.5 1041.6,805.4 1041.3,807.4 1040.8,810.3 1040.5,812.3 1040.0,815.3 1039.7,817.3 1039.2,820.2 1038.9,822.2 1038.5,825.2 1038.2,827.1 1037.7,830.1 1037.4,832.1 1037.0,835.0 1036.7,837.0 1036.2,840.0 1036.0,842.0 1035.5,844.9 1035.2,846.9 1034.8,849.9 1034.5,851.9 1034.1,854.8 1033.8,856.8 1033.4,859.8 1033.2,861.8 1032.7,864.7 1032.5,866.7 1032.1,869.7 1031.8,871.7 1031.4,874.7 1031.1,876.6 1030.7,879.6 1030.5,881.6 1030.1,884.6 1029.8,886.5 1029.4,889.5 1029.1,891.5 1028.7,894.5 1028.4,896.5 1028.0,899.4 1027.8,901.4 1027.4,904.4 1027.1,906.4 1026.7,909.3 1026.4,911.3 1026.0,914.3 1025.7,916.3 1025.3,919.2 1025.1,921.2 1024.7,924.2 1024.4,926.2 1024.0,929.1 1023.7,931.1 1023.3,934.1 1023.0,936.1 1022.6,939.0 1022.3,941.0 1021.8,944.0 1021.6,946.0 1021.1,948.9 1020.8,950.9 1020.4,953.9 1020.1,955.9 1019.7,958.8 1019.4,960.8 1018.9,963.8 1018.6,965.8 1018.2,968.7 1017.9,970.7 1017.4,973.7 1017.1,975.6 1016.7,978.6 1016.4,980.6 1015.9,983.6 1015.6,985.5 1015.2,988.5 1014.9,990.5 1014.4,993.4 1014.2,995.4 1013.7,998.4 1013.4,1000.4 1013.0,1003.3 1012.7,1005.3 1012.3,1008.3 1012.0,1010.3 1011.6,1013.2 1011.3,1015.2 1010.9,1018.2 1010.6,1020.2 1010.2,1023.1 1009.9,1025.1 1009.5,1028.1 1009.3,1030.1 1008.9,1033.1 1008.6,1035.0 1008.2,1038.0 1007.9,1040.0 1007.5,1043.0 1007.3,1044.9 1006.9,1047.9 1006.6,1049.9 1006.2,1052.9 1005.9,1054.9 1005.5,1057.8 1005.3,1059.8 1004.9,1062.8 1004.6,1064.8 1004.2,1067.7 1003.9,1069.7 1003.5,1072.7 1003.3,1074.7 1002.9,1077.7 1002.6,1079.6 1002.2,1082.6 1001.9,1084.6 1001.5,1087.6 1001.3,1089.5 1000.9,1092.5 1000.6,1094.5 1000.2,1097.5 999.9,1099.5 999.5,1102.4 999.3,1104.4 998.9,1107.4 998.6,1109.4 998.2,1112.3 997.9,1114.3 997.5,1117.3 997.3,1119.3 996.9,1122.3 996.6,1124.2 996.2,1127.2 996.0,1129.2 995.6,1132.2 995.3,1134.1 994.9,1137.1 994.6,1139.1 994.3,1142.1 994.0,1144.1 993.6,1147.0 993.3,1149.0 993.0,1152.0 992.7,1154.0 992.3,1157.0 992.1,1158.9 991.7,1161.9 991.4,1163.9 991.0,1166.9 990.8,1168.9 990.4,1171.8 990.1,1173.8 989.7,1176.8 989.5,1178.8 989.1,1181.7 988.8,1183.7 988.4,1186.7 988.1,1188.7 987.7,1191.6 987.4,1193.6 987.0,1196.6 986.8,1198.6 986.3,1201.6 986.1,1203.5 985.6,1206.5 985.3,1208.5 984.9,1211.4 984.6,1213.4 984.1,1216.4 983.8,1218.4 983.4,1221.3 983.1,1223.3 982.6,1226.3 982.3,1228.2 981.8,1231.2 981.5,1233.2 981.0,1236.1 980.7,1238.1 980.2,1241.1 979.9,1243.0 979.4,1246.0 979.1,1248.0 978.6,1250.9 978.2,1252.9 977.7,1255.9 977.4,1257.8 976.9,1260.8 976.6,1262.8 976.0,1265.7 975.7,1267.7 975.2,1270.7 974.9,1272.6 974.3,1275.6 974.0,1277.6 973.5,1280.5 973.2,1282.5 972.6,1285.4 972.3,1287.4 971.8,1290.4 971.4,1292.3 970.9,1295.3 970.6,1297.3 970.1,1300.2 969.7,1302.2 969.2,1305.1 968.9,1307.1 968.4,1310.1 968.0,1312.0 967.5,1315.0 967.2,1317.0 966.7,1319.9 966.3,1321.9 965.8,1324.9 965.5,1326.8 964.9,1329.8 964.6,1331.8 964.1,1334.7 963.7,1336.7 963.2,1339.6 962.8,1341.6 962.3,1344.5 961.9,1346.5 961.4,1349.5 961.0,1351.4 960.5,1354.4 960.1,1356.3 959.5,1359.3 959.1,1361.2 958.6,1364.2 958.2,1366.2 957.6,1369.1 957.2,1371.1 956.6,1374.0 956.2,1376.0 955.6,1378.9 955.2,1380.9 954.6,1383.8 954.2,1385.7 953.5,1388.7 953.1,1390.6 952.5,1393.6 952.0,1395.5 951.4,1398.4 950.9,1400.4 950.3,1403.3 949.8,1405.3 949.2,1408.2 948.7,1410.1 948.0,1413.1 947.5,1415.0 946.8,1417.9 946.4,1419.9 945.6,1422.8 945.2,1424.7 944.4,1427.6 943.9,1429.6 943.2,1432.5 942.7,1434.4 941.9,1437.3 941.4,1439.2 940.6,1442.1 940.1,1444.1 939.3,1447.0 938.7,1448.9 937.9,1451.8 937.3,1453.7 936.5,1456.5 935.9,1458.5 935.0,1461.3 934.4,1463.2 933.4,1466.1 932.8,1468.0 931.8,1470.8 931.2,1472.7 930.2,1475.5 929.5,1477.4 928.4,1480.2 927.7,1482.0 926.6,1484.8 925.9,1486.7 924.7,1489.4 923.9,1491.3 922.7,1494.0 921.9,1495.8 920.7,1498.5 919.8,1500.3 918.5,1503.0 917.6,1504.8 916.2,1507.4 915.2,1509.2 913.8,1511.8 912.8,1513.5 911.3,1516.0 910.2,1517.7 908.6,1520.2 907.6,1521.9 905.9,1524.3 904.7,1525.9 902.9,1528.3 901.7,1529.8 899.9,1532.1 898.6,1533.6 896.6,1535.8 895.3,1537.3 893.3,1539.4 891.8,1540.7 889.7,1542.7 888.2,1544.0 886.0,1545.9 884.4,1547.1 882.1,1548.9 880.5,1550.0 878.1,1551.7 876.4,1552.7 873.9,1554.3 872.2,1555.3 869.7,1556.7 867.9,1557.6 865.3,1558.9 863.5,1559.7 860.8,1560.9 859.0,1561.7 856.2,1562.8 854.4,1563.4 851.6,1564.4 849.7,1565.0 846.9,1565.9 845.0,1566.5 842.1,1567.2 840.2,1567.7 837.3,1568.4 835.3,1568.9 832.4,1569.5 830.5,1569.9 827.5,1570.5 825.6,1570.8 822.6,1571.4 820.7,1571.7 817.7,1572.1 815.7,1572.4 812.8,1572.8 810.8,1573.1 807.8,1573.5 805.8,1573.7 802.8,1574.0 800.9,1574.3 797.9,1574.6 795.9,1574.8 792.9,1575.1 790.9,1575.2 787.9,1575.5 785.9,1575.7 782.9,1575.9 780.9,1576.1 777.9,1576.3 775.9,1576.4 773.0,1576.6 771.0,1576.8 768.0,1576.9 766.0,1577.1 763.0,1577.2 761.0,1577.3 758.0,1577.5 756.0,1577.6 753.0,1577.7 751.0,1577.8 748.0,1578.0 746.0,1578.0 743.0,1578.1 741.0,1578.2 738.0,1578.3 736.0,1578.4 733.0,1578.4 731.0,1578.5 728.0,1578.5 726.0,1578.6 723.0,1578.6 721.0,1578.6 718.0,1578.6 716.0,1578.7 713.0,1578.7ZM1089.2,635.8 1090.9,636.3 1093.4,638.3 1094.6,639.8 1096.0,642.5 1096.9,644.4 1098.1,647.2 1099.0,649.0 1100.3,651.7 1101.1,653.6 1102.3,656.3 1103.1,658.2 1104.2,661.0 1104.9,662.8 1105.8,665.6 1106.4,667.5 1107.3,670.3 1107.9,672.2 1108.8,675.1 1109.3,677.0 1110.1,679.8 1110.6,681.7 1111.4,684.6 1111.9,686.6 1112.6,689.4 1113.1,691.4 1113.7,694.3 1114.2,696.2 1114.8,699.2 1115.3,701.1 1115.9,704.0 1116.3,706.0 1116.9,708.9 1117.3,710.9 1117.8,713.8 1118.2,715.8 1118.7,718.7 1119.1,720.7 1119.6,723.7 1119.9,725.6 1120.4,728.6 1120.8,730.6 1121.2,733.5 1121.5,735.5 1122.0,738.5 1122.3,740.4 1122.8,743.4 1123.1,745.4 1123.5,748.4 1123.8,750.3 1124.2,753.3 1124.5,755.3 1124.9,758.3 1125.2,760.2 1125.6,763.2 1125.9,765.2 1126.3,768.2 1126.6,770.1 1127.0,773.1 1127.3,775.1 1127.7,778.1 1128.0,780.0 1128.4,783.0 1128.7,785.0 1129.2,788.0 1129.5,789.9 1129.9,792.9 1130.2,794.9 1130.7,797.8 1131.0,799.8 1131.5,802.8 1131.8,804.7 1132.3,807.7 1132.6,809.7 1133.1,812.6 1133.5,814.6 1134.0,817.6 1134.3,819.5 1134.8,822.5 1135.2,824.5 1135.7,827.4 1136.0,829.4 1136.6,832.3 1136.9,834.3 1137.4,837.3 1137.8,839.2 1138.3,842.2 1138.6,844.2 1139.1,847.1 1139.4,849.1 1139.9,852.0 1140.2,854.0 1140.7,857.0 1141.0,859.0 1141.5,861.9 1141.8,863.9 1142.3,866.9 1142.6,868.8 1143.0,871.8 1143.3,873.8 1143.8,876.7 1144.1,878.7 1144.5,881.7 1144.8,883.7 1145.3,886.6 1145.5,888.6 1146.0,891.6 1146.3,893.5 1146.8,896.5 1147.1,898.5 1147.5,901.5 1147.8,903.4 1148.3,906.4 1148.6,908.4 1149.1,911.3 1149.4,913.3 1149.9,916.3 1150.2,918.2 1150.7,921.2 1151.0,923.2 1151.5,926.1 1151.9,928.1 1152.4,931.1 1152.7,933.0 1153.2,936.0 1153.6,938.0 1154.1,940.9 1154.4,942.9 1154.9,945.8 1155.3,947.8 1155.8,950.8 1156.1,952.7 1156.7,955.7 1157.0,957.7 1157.6,960.6 1157.9,962.6 1158.4,965.5 1158.8,967.5 1159.3,970.4 1159.7,972.4 1160.2,975.4 1160.6,977.3 1161.2,980.3 1161.5,982.2 1162.1,985.2 1162.4,987.2 1163.0,990.1 1163.4,992.1 1163.9,995.0 1164.3,997.0 1164.9,999.9 1165.3,1001.9 1165.8,1004.8 1166.2,1006.8 1166.8,1009.7 1167.2,1011.7 1167.8,1014.7 1168.2,1016.6 1168.8,1019.6 1169.2,1021.5 1169.8,1024.4 1170.2,1026.4 1170.8,1029.3 1171.2,1031.3 1171.8,1034.2 1172.3,1036.2 1172.9,1039.1 1173.4,1041.1 1174.0,1044.0 1174.4,1045.9 1175.1,1048.9 1175.6,1050.8 1176.2,1053.7 1176.7,1055.7 1177.4,1058.6 1177.8,1060.6 1178.5,1063.5 1179.0,1065.4 1179.7,1068.3 1180.2,1070.3 1180.9,1073.2 1181.4,1075.1 1182.1,1078.0 1182.6,1080.0 1183.3,1082.9 1183.8,1084.8 1184.5,1087.7 1185.0,1089.7 1185.7,1092.6 1186.2,1094.5 1187.0,1097.4 1187.5,1099.4 1188.3,1102.3 1188.8,1104.2 1189.5,1107.1 1190.1,1109.0 1190.9,1111.9 1191.4,1113.9 1192.2,1116.7 1192.7,1118.7 1193.5,1121.6 1194.1,1123.5 1194.9,1126.4 1195.4,1128.3 1196.3,1131.2 1196.9,1133.1 1197.7,1136.0 1198.3,1137.9 1199.1,1140.7 1199.7,1142.7 1200.6,1145.5 1201.2,1147.4 1202.1,1150.3 1202.7,1152.2 1203.6,1155.1 1204.2,1157.0 1205.2,1159.8 1205.8,1161.7 1206.7,1164.6 1207.4,1166.5 1208.3,1169.3 1209.0,1171.2 1209.9,1174.0 1210.6,1175.9 1211.6,1178.8 1212.3,1180.6 1213.3,1183.5 1214.0,1185.3 1215.0,1188.2 1215.7,1190.0 1216.8,1192.8 1217.5,1194.7 1218.6,1197.5 1219.3,1199.3 1220.4,1202.1 1221.2,1204.0 1222.3,1206.7 1223.1,1208.6 1224.3,1211.3 1225.0,1213.2 1226.2,1215.9 1227.0,1217.8 1228.3,1220.5 1229.1,1222.3 1230.3,1225.0 1231.1,1226.9 1232.4,1229.6 1233.2,1231.4 1234.5,1234.1 1235.3,1235.9 1236.6,1238.7 1237.4,1240.5 1238.7,1243.2 1239.5,1245.0 1240.8,1247.7 1241.6,1249.6 1242.9,1252.3 1243.7,1254.1 1245.0,1256.8 1245.8,1258.7 1247.0,1261.4 1247.9,1263.2 1249.1,1265.9 1249.9,1267.8 1251.2,1270.5 1252.0,1272.3 1253.3,1275.0 1254.1,1276.8 1255.4,1279.5 1256.3,1281.3 1257.6,1284.0 1258.5,1285.8 1259.8,1288.5 1260.7,1290.3 1262.1,1292.9 1263.0,1294.7 1264.4,1297.3 1265.4,1299.1 1266.8,1301.7 1267.8,1303.5 1269.3,1306.1 1270.3,1307.8 1271.8,1310.4 1272.8,1312.1 1274.4,1314.7 1275.4,1316.4 1277.0,1318.9 1278.1,1320.6 1279.7,1323.2 1280.8,1324.8 1282.4,1327.3 1283.5,1329.0 1285.2,1331.5 1286.3,1333.1 1288.0,1335.6 1289.2,1337.2 1290.9,1339.7 1292.1,1341.3 1293.9,1343.7 1295.1,1345.3 1296.9,1347.7 1298.1,1349.3 1300.0,1351.6 1301.2,1353.2 1303.1,1355.5 1304.4,1357.0 1306.3,1359.3 1307.6,1360.8 1309.6,1363.1 1310.9,1364.5 1313.0,1366.7 1314.3,1368.2 1316.4,1370.3 1317.8,1371.8 1319.9,1373.9 1321.3,1375.3 1323.5,1377.3 1324.9,1378.7 1327.1,1380.7 1328.6,1382.0 1330.9,1384.0 1332.4,1385.3 1334.6,1387.3 1336.2,1388.5 1338.5,1390.4 1340.1,1391.7 1342.4,1393.5 1344.0,1394.8 1346.4,1396.6 1348.0,1397.8 1350.4,1399.6 1352.0,1400.8 1354.4,1402.5 1356.0,1403.7 1358.5,1405.4 1360.1,1406.5 1362.6,1408.2 1364.3,1409.3 1366.8,1411.0 1368.5,1412.1 1371.0,1413.7 1372.7,1414.8 1375.2,1416.3 1376.9,1417.4 1379.5,1418.9 1381.2,1419.9 1383.8,1421.4 1385.5,1422.4 1388.2,1423.9 1389.9,1424.9 1392.5,1426.3 1394.3,1427.2 1396.9,1428.6 1398.7,1429.6 1401.4,1430.9 1403.2,1431.8 1405.9,1433.1 1407.7,1434.0 1410.4,1435.3 1412.2,1436.1 1414.9,1437.4 1416.7,1438.2 1419.5,1439.4 1421.3,1440.2 1424.0,1441.4 1425.9,1442.2 1428.6,1443.3 1430.5,1444.1 1433.3,1445.2 1435.1,1446.0 1437.9,1447.0 1439.8,1447.8 1442.6,1448.8 1444.5,1449.5 1447.3,1450.5 1449.2,1451.2 1452.0,1452.2 1453.9,1452.9 1456.7,1453.8 1458.6,1454.5 1461.5,1455.4 1463.4,1456.0 1466.2,1456.9 1468.1,1457.5 1471.0,1458.4 1472.9,1459.0 1475.8,1459.8 1477.7,1460.4 1480.6,1461.2 1482.5,1461.7 1485.4,1462.5 1487.3,1463.1 1490.2,1463.8 1492.2,1464.3 1495.1,1465.1 1497.0,1465.6 1499.9,1466.3 1501.9,1466.8 1504.8,1467.5 1506.7,1467.9 1509.7,1468.6 1511.6,1469.0 1514.5,1469.7 1516.5,1470.1 1519.4,1470.8 1521.4,1471.2 1524.3,1471.8 1526.3,1472.2 1529.2,1472.8 1531.2,1473.2 1534.1,1473.8 1536.1,1474.1 1539.0,1474.6 1541.0,1475.0 1544.0,1475.4 1546.0,1475.7 1548.9,1476.2 1550.9,1476.5 1553.8,1477.0 1555.8,1477.4 1558.8,1477.9 1560.7,1478.3 1563.7,1478.9 1565.6,1479.4 1568.5,1480.0 1570.5,1480.5 1573.4,1481.2 1575.3,1481.7 1578.2,1482.4 1580.2,1482.9 1583.1,1483.7 1585.0,1484.3 1587.9,1485.1 1589.8,1485.6 1592.7,1486.4 1594.6,1487.0 1597.5,1487.9 1599.4,1488.5 1602.2,1489.5 1604.1,1490.1 1607.0,1491.1 1608.9,1491.7 1611.7,1492.7 1613.6,1493.3 1616.5,1494.2 1618.4,1494.8 1621.2,1495.7 1623.2,1496.3 1626.0,1497.1 1628.0,1497.7 1630.8,1498.5 1632.8,1499.0 1635.7,1499.8 1637.6,1500.4 1640.5,1501.2 1642.4,1501.7 1645.3,1502.5 1647.2,1503.0 1650.1,1503.8 1652.1,1504.3 1655.0,1505.1 1656.9,1505.6 1659.8,1506.3 1661.7,1506.8 1664.7,1507.5 1666.6,1508.0 1669.5,1508.7 1671.5,1509.2 1674.4,1509.9 1676.3,1510.4 1679.2,1511.1 1681.2,1511.6 1684.1,1512.3 1686.0,1512.8 1688.9,1513.6 1690.9,1514.1 1693.8,1514.8 1695.7,1515.3 1698.6,1516.1 1700.5,1516.6 1703.4,1517.3 1705.4,1517.8 1708.3,1518.6 1710.2,1519.1 1713.1,1519.8 1715.1,1520.3 1718.0,1521.0 1719.9,1521.5 1722.9,1522.1 1724.8,1522.6 1727.7,1523.3 1729.7,1523.7 1732.6,1524.3 1734.6,1524.8 1737.5,1525.4 1739.4,1525.8 1742.4,1526.4 1744.3,1526.9 1747.3,1527.5 1749.2,1527.9 1752.2,1528.5 1754.1,1528.9 1757.1,1529.5 1759.0,1529.9 1762.0,1530.5 1763.9,1530.9 1766.9,1531.4 1768.8,1531.8 1771.8,1532.4 1773.8,1532.8 1776.7,1533.3 1778.7,1533.7 1781.6,1534.3 1783.6,1534.6 1786.5,1535.2 1788.5,1535.6 1791.4,1536.1 1793.4,1536.5 1796.4,1537.0 1798.3,1537.4 1801.3,1537.9 1803.2,1538.3 1806.2,1538.8 1808.2,1539.2 1811.1,1539.7 1813.1,1540.0 1816.0,1540.6 1818.0,1540.9 1821.0,1541.4 1822.9,1541.8 1825.9,1542.3 1827.9,1542.6 1830.8,1543.1 1832.8,1543.4 1835.8,1543.9 1837.7,1544.3 1840.7,1544.8 1842.7,1545.1 1845.6,1545.6 1847.6,1545.9 1850.6,1546.4 1852.5,1546.7 1855.5,1547.2 1857.5,1547.5 1860.4,1547.9 1862.4,1548.2 1865.4,1548.7 1867.4,1549.0 1870.3,1549.4 1872.3,1549.7 1875.3,1550.2 1877.2,1550.5 1880.2,1550.9 1882.2,1551.2 1885.2,1551.6 1887.1,1551.9 1890.1,1552.3 1892.1,1552.6 1895.1,1553.0 1897.0,1553.3 1900.0,1553.7 1902.0,1554.0 1905.0,1554.4 1907.0,1554.7 1909.9,1555.1 1911.9,1555.3 1914.9,1555.7 1916.9,1556.0 1919.8,1556.4 1921.8,1556.6 1924.8,1557.0 1926.8,1557.3 1929.8,1557.6 1931.8,1557.9 1934.7,1558.2 1936.7,1558.5 1939.7,1558.8 1941.7,1559.1 1944.7,1559.4 1946.6,1559.6 1949.6,1560.0 1951.6,1560.2 1954.6,1560.5 1956.6,1560.7 1959.6,1561.0 1961.6,1561.2 1964.5,1561.5 1966.5,1561.7 1969.5,1562.0 1971.5,1562.2 1974.5,1562.5 1976.5,1562.7 1979.5,1563.0 1981.5,1563.2 1984.4,1563.5 1986.4,1563.7 1989.4,1564.0 1991.4,1564.1 1994.4,1564.4 1996.4,1564.6 1999.4,1564.9 2001.4,1565.1 2004.4,1565.4 2006.4,1565.6 2009.3,1565.8 2011.3,1566.0 2014.3,1566.3 2016.3,1566.5 2019.3,1566.8 2021.3,1567.0 2024.3,1567.3 2026.3,1567.5 2029.2,1567.8 2031.2,1568.0 2034.2,1568.3 2036.2,1568.5 2039.2,1568.8 2041.2,1569.0 2044.2,1569.3 2046.2,1569.5 2049.2,1569.8 2051.1,1570.0 2054.1,1570.3 2056.1,1570.5 2059.1,1570.8 2061.1,1571.0 2064.1,1571.2 2066.1,1571.4 2069.1,1571.7 2071.1,1571.9 2074.0,1572.1 2076.0,1572.3 2079.0,1572.6 2081.0,1572.7 2084.0,1573.0 2086.0,1573.1 2089.0,1573.3 2091.0,1573.5 2094.0,1573.7 2096.0,1573.8 2099.0,1574.0 2101.0,1574.1 2104.0,1574.3 2105.9,1574.5 2108.9,1574.6 2110.9,1574.8 2113.9,1574.9 2115.9,1575.0 2118.9,1575.2 2120.9,1575.3 2123.9,1575.5 2125.9,1575.6 2128.4,1575.7 2120.0,1575.7 2117.5,1575.6 2115.5,1575.5 2112.5,1575.3 2110.5,1575.2 2107.5,1575.0 2105.5,1574.9 2102.5,1574.8 2100.5,1574.6 2097.5,1574.5 2095.6,1574.3 2092.6,1574.1 2090.6,1574.0 2087.6,1573.8 2085.6,1573.7 2082.6,1573.5 2080.6,1573.3 2077.6,1573.1 2075.6,1573.0 2072.6,1572.7 2070.6,1572.6 2067.6,1572.3 2065.6,1572.1 2062.7,1571.9 2060.7,1571.7 2057.7,1571.4 2055.7,1571.2 2052.7,1571.0 2050.7,1570.8 2047.7,1570.5 2045.7,1570.3 2042.7,1570.0 2040.8,1569.8 2037.8,1569.5 2035.8,1569.3 2032.8,1569.0 2030.8,1568.8 2027.8,1568.5 2025.8,1568.3 2022.8,1568.0 2020.8,1567.8 2017.9,1567.5 2015.9,1567.3 2012.9,1567.0 2010.9,1566.8 2007.9,1566.5 2005.9,1566.3 2002.9,1566.0 2000.9,1565.8 1998.0,1565.6 1996.0,1565.4 1993.0,1565.1 1991.0,1564.9 1988.0,1564.6 1986.0,1564.4 1983.0,1564.1 1981.0,1564.0 1978.0,1563.7 1976.0,1563.5 1973.1,1563.2 1971.1,1563.0 1968.1,1562.7 1966.1,1562.5 1963.1,1562.2 1961.1,1562.0 1958.1,1561.7 1956.1,1561.5 1953.2,1561.2 1951.2,1561.0 1948.2,1560.7 1946.2,1560.5 1943.2,1560.2 1941.2,1560.0 1938.2,1559.6 1936.3,1559.4 1933.3,1559.1 1931.3,1558.8 1928.3,1558.5 1926.3,1558.2 1923.4,1557.9 1921.4,1557.6 1918.4,1557.3 1916.4,1557.0 1913.4,1556.6 1911.4,1556.4 1908.5,1556.0 1906.5,1555.7 1903.5,1555.3 1901.5,1555.1 1898.6,1554.7 1896.6,1554.4 1893.6,1554.0 1891.6,1553.7 1888.6,1553.3 1886.7,1553.0 1883.7,1552.6 1881.7,1552.3 1878.7,1551.9 1876.8,1551.6 1873.8,1551.2 1871.8,1550.9 1868.8,1550.5 1866.9,1550.2 1863.9,1549.7 1861.9,1549.4 1859.0,1549.0 1857.0,1548.7 1854.0,1548.2 1852.0,1547.9 1849.1,1547.5 1847.1,1547.2 1844.1,1546.7 1842.2,1546.4 1839.2,1545.9 1837.2,1545.6 1834.3,1545.1 1832.3,1544.8 1829.3,1544.3 1827.4,1543.9 1824.4,1543.4 1822.4,1543.1 1819.5,1542.6 1817.5,1542.3 1814.5,1541.8 1812.6,1541.4 1809.6,1540.9 1807.6,1540.6 1804.7,1540.0 1802.7,1539.7 1799.8,1539.2 1797.8,1538.8 1794.8,1538.3 1792.9,1537.9 1789.9,1537.4 1788.0,1537.0 1785.0,1536.5 1783.0,1536.1 1780.1,1535.6 1778.1,1535.2 1775.2,1534.6 1773.2,1534.3 1770.3,1533.7 1768.3,1533.3 1765.4,1532.8 1763.4,1532.4 1760.4,1531.8 1758.5,1531.4 1755.5,1530.9 1753.6,1530.5 1750.6,1529.9 1748.7,1529.5 1745.7,1528.9 1743.8,1528.5 1740.8,1527.9 1738.9,1527.5 1735.9,1526.9 1734.0,1526.4 1731.0,1525.8 1729.1,1525.4 1726.2,1524.8 1724.2,1524.3 1721.3,1523.7 1719.3,1523.3 1716.4,1522.6 1714.5,1522.1 1711.5,1521.5 1709.6,1521.0 1706.7,1520.3 1704.7,1519.8 1701.8,1519.1 1699.9,1518.6 1697.0,1517.8 1695.0,1517.3 1692.1,1516.6 1690.2,1516.1 1687.3,1515.3 1685.4,1514.8 1682.5,1514.1 1680.5,1513.6 1677.6,1512.8 1675.7,1512.3 1672.8,1511.6 1670.8,1511.1 1667.9,1510.4 1666.0,1509.9 1663.1,1509.2 1661.1,1508.7 1658.2,1508.0 1656.3,1507.5 1653.3,1506.8 1651.4,1506.3 1648.5,1505.6 1646.6,1505.1 1643.7,1504.3 1641.7,1503.8 1638.8,1503.0 1636.9,1502.5 1634.0,1501.7 1632.1,1501.2 1629.2,1500.4 1627.3,1499.8 1624.4,1499.0 1622.4,1498.5 1619.6,1497.7 1617.6,1497.1 1614.8,1496.3 1612.8,1495.7 1610.0,1494.8 1608.1,1494.2 1605.2,1493.3 1603.3,1492.7 1600.5,1491.7 1598.6,1491.1 1595.7,1490.1 1593.8,1489.5 1591.0,1488.5 1589.1,1487.9 1586.2,1487.0 1584.3,1486.4 1581.4,1485.6 1579.5,1485.1 1576.6,1484.3 1574.7,1483.7 1571.8,1482.9 1569.8,1482.4 1566.9,1481.7 1565.0,1481.2 1562.1,1480.5 1560.1,1480.0 1557.2,1479.4 1555.3,1478.9 1552.3,1478.3 1550.4,1477.9 1547.4,1477.4 1545.4,1477.0 1542.5,1476.5 1540.5,1476.2 1537.6,1475.7 1535.6,1475.4 1532.6,1475.0 1530.6,1474.6 1527.7,1474.1 1525.7,1473.8 1522.8,1473.2 1520.8,1472.8 1517.9,1472.2 1515.9,1471.8 1513.0,1471.2 1511.0,1470.8 1508.1,1470.1 1506.1,1469.7 1503.2,1469.0 1501.3,1468.6 1498.3,1467.9 1496.4,1467.5 1493.5,1466.8 1491.5,1466.3 1488.6,1465.6 1486.7,1465.1 1483.8,1464.3 1481.8,1463.8 1478.9,1463.1 1477.0,1462.5 1474.1,1461.7 1472.2,1461.2 1469.3,1460.4 1467.4,1459.8 1464.5,1459.0 1462.6,1458.4 1459.7,1457.5 1457.8,1456.9 1455.0,1456.0 1453.1,1455.4 1450.2,1454.5 1448.3,1453.8 1445.5,1452.9 1443.6,1452.2 1440.8,1451.2 1438.9,1450.5 1436.1,1449.5 1434.2,1448.8 1431.4,1447.8 1429.5,1447.0 1426.7,1446.0 1424.9,1445.2 1422.1,1444.1 1420.2,1443.3 1417.5,1442.2 1415.6,1441.4 1412.9,1440.2 1411.1,1439.4 1408.3,1438.2 1406.5,1437.4 1403.8,1436.1 1402.0,1435.3 1399.3,1434.0 1397.5,1433.1 1394.8,1431.8 1393.0,1430.9 1390.3,1429.6 1388.5,1428.6 1385.9,1427.2 1384.1,1426.3 1381.5,1424.9 1379.8,1423.9 1377.1,1422.4 1375.4,1421.4 1372.8,1419.9 1371.1,1418.9 1368.5,1417.4 1366.8,1416.3 1364.3,1414.8 1362.6,1413.7 1360.1,1412.1 1358.4,1411.0 1355.9,1409.3 1354.2,1408.2 1351.7,1406.5 1350.1,1405.4 1347.6,1403.7 1346.0,1402.5 1343.6,1400.8 1342.0,1399.6 1339.6,1397.8 1338.0,1396.6 1335.6,1394.8 1334.0,1393.5 1331.7,1391.7 1330.1,1390.4 1327.8,1388.5 1326.2,1387.3 1324.0,1385.3 1322.5,1384.0 1320.2,1382.0 1318.7,1380.7 1316.5,1378.7 1315.1,1377.3 1312.9,1375.3 1311.5,1373.9 1309.4,1371.8 1308.0,1370.3 1305.9,1368.2 1304.6,1366.7 1302.5,1364.5 1301.2,1363.1 1299.2,1360.8 1297.9,1359.3 1296.0,1357.0 1294.7,1355.5 1292.8,1353.2 1291.6,1351.6 1289.7,1349.3 1288.5,1347.7 1286.7,1345.3 1285.5,1343.7 1283.7,1341.3 1282.5,1339.7 1280.8,1337.2 1279.6,1335.6 1277.9,1333.1 1276.8,1331.5 1275.1,1329.0 1274.0,1327.3 1272.4,1324.8 1271.3,1323.2 1269.7,1320.6 1268.6,1318.9 1267.0,1316.4 1266.0,1314.7 1264.4,1312.1 1263.4,1310.4 1261.9,1307.8 1260.9,1306.1 1259.4,1303.5 1258.4,1301.7 1257.0,1299.1 1256.0,1297.3 1254.6,1294.7 1253.7,1292.9 1252.3,1290.3 1251.4,1288.5 1250.1,1285.8 1249.2,1284.0 1247.9,1281.3 1247.0,1279.5 1245.7,1276.8 1244.9,1275.0 1243.6,1272.3 1242.8,1270.5 1241.5,1267.8 1240.7,1265.9 1239.5,1263.2 1238.6,1261.4 1237.4,1258.7 1236.6,1256.8 1235.3,1254.1 1234.5,1252.3 1233.2,1249.6 1232.4,1247.7 1231.1,1245.0 1230.3,1243.2 1229.0,1240.5 1228.2,1238.7 1226.9,1235.9 1226.1,1234.1 1224.8,1231.4 1224.0,1229.6 1222.7,1226.9 1221.9,1225.0 1220.7,1222.3 1219.9,1220.5 1218.6,1217.8 1217.8,1215.9 1216.6,1213.2 1215.9,1211.3 1214.7,1208.6 1213.9,1206.7 1212.8,1204.0 1212.0,1202.1 1210.9,1199.3 1210.2,1197.5 1209.1,1194.7 1208.4,1192.8 1207.3,1190.0 1206.6,1188.2 1205.6,1185.3 1204.9,1183.5 1203.9,1180.6 1203.2,1178.8 1202.2,1175.9 1201.5,1174.0 1200.6,1171.2 1199.9,1169.3 1199.0,1166.5 1198.3,1164.6 1197.4,1161.7 1196.8,1159.8 1195.8,1157.0 1195.2,1155.1 1194.3,1152.2 1193.7,1150.3 1192.8,1147.4 1192.2,1145.5 1191.3,1142.7 1190.7,1140.7 1189.9,1137.9 1189.3,1136.0 1188.5,1133.1 1187.9,1131.2 1187.0,1128.3 1186.5,1126.4 1185.7,1123.5 1185.1,1121.6 1184.3,1118.7 1183.8,1116.7 1183.0,1113.9 1182.5,1111.9 1181.7,1109.0 1181.1,1107.1 1180.4,1104.2 1179.9,1102.3 1179.1,1099.4 1178.6,1097.4 1177.8,1094.5 1177.3,1092.6 1176.6,1089.7 1176.1,1087.7 1175.4,1084.8 1174.9,1082.9 1174.2,1080.0 1173.7,1078.0 1173.0,1075.1 1172.5,1073.2 1171.8,1070.3 1171.3,1068.3 1170.6,1065.4 1170.1,1063.5 1169.4,1060.6 1169.0,1058.6 1168.3,1055.7 1167.8,1053.7 1167.2,1050.8 1166.7,1048.9 1166.0,1045.9 1165.6,1044.0 1165.0,1041.1 1164.5,1039.1 1163.9,1036.2 1163.4,1034.2 1162.8,1031.3 1162.4,1029.3 1161.8,1026.4 1161.4,1024.4 1160.8,1021.5 1160.4,1019.6 1159.8,1016.6 1159.4,1014.7 1158.8,1011.7 1158.4,1009.7 1157.8,1006.8 1157.4,1004.8 1156.9,1001.9 1156.5,999.9 1155.9,997.0 1155.5,995.0 1155.0,992.1 1154.6,990.1 1154.0,987.2 1153.7,985.2 1153.1,982.2 1152.8,980.3 1152.2,977.3 1151.8,975.4 1151.3,972.4 1150.9,970.4 1150.4,967.5 1150.0,965.5 1149.5,962.6 1149.2,960.6 1148.6,957.7 1148.3,955.7 1147.7,952.7 1147.4,950.8 1146.9,947.8 1146.5,945.8 1146.0,942.9 1145.7,940.9 1145.2,938.0 1144.8,936.0 1144.3,933.0 1144.0,931.1 1143.5,928.1 1143.1,926.1 1142.6,923.2 1142.3,921.2 1141.8,918.2 1141.5,916.3 1141.0,913.3 1140.7,911.3 1140.2,908.4 1139.9,906.4 1139.4,903.4 1139.1,901.5 1138.7,898.5 1138.4,896.5 1137.9,893.5 1137.6,891.6 1137.1,888.6 1136.9,886.6 1136.4,883.7 1136.1,881.7 1135.7,878.7 1135.4,876.7 1134.9,873.8 1134.6,871.8 1134.2,868.8 1133.9,866.9 1133.4,863.9 1133.1,861.9 1132.6,859.0 1132.3,857.0 1131.8,854.0 1131.5,852.0 1131.0,849.1 1130.7,847.1 1130.2,844.2 1129.9,842.2 1129.4,839.2 1129.0,837.3 1128.5,834.3 1128.2,832.3 1127.6,829.4 1127.3,827.4 1126.8,824.5 1126.4,822.5 1125.9,819.5 1125.6,817.6 1125.1,814.6 1124.7,812.6 1124.2,809.7 1123.9,807.7 1123.4,804.7 1123.1,802.8 1122.6,799.8 1122.3,797.8 1121.8,794.9 1121.5,792.9 1121.1,789.9 1120.8,788.0 1120.3,785.0 1120.0,783.0 1119.6,780.0 1119.3,778.1 1118.9,775.1 1118.6,773.1 1118.2,770.1 1117.9,768.2 1117.5,765.2 1117.2,763.2 1116.8,760.2 1116.5,758.3 1116.1,755.3 1115.8,753.3 1115.4,750.3 1115.1,748.4 1114.7,745.4 1114.4,743.4 1113.9,740.4 1113.6,738.5 1113.1,735.5 1112.8,733.5 1112.4,730.6 1112.0,728.6 1111.5,725.6 1111.2,723.7 1110.7,720.7 1110.3,718.7 1109.8,715.8 1109.4,713.8 1108.9,710.9 1108.5,708.9 1107.9,706.0 1107.5,704.0 1106.9,701.1 1106.4,699.2 1105.8,696.2 1105.3,694.3 1104.7,691.4 1104.2,689.4 1103.5,686.6 1103.0,684.6 1102.2,681.7 1101.7,679.8 1100.9,677.0 1100.4,675.1 1099.5,672.2 1098.9,670.3 1098.0,667.5 1097.4,665.6 1096.5,662.8 1095.8,661.0 1094.7,658.2 1093.9,656.3 1092.7,653.6 1091.9,651.7 1090.6,649.0 1089.7,647.2 1088.5,644.4 1087.6,642.5 1086.2,639.8 1085.0,638.3 1082.5,636.3 1080.8,635.8Z"/>
</g>
<line id="peakline" x1="1084.7" y1="111.2" x2="1084.7" y2="1182.5" stroke="#000" stroke-opacity="0.83" stroke-width="7.4" stroke-dasharray="41.3 38.05"/>
<g id="zoom-ellipse" stroke="#3d3d3d" stroke-width="7" stroke-linecap="round" fill="none">
<line x1="372.1" y1="1526.6" x2="377.1" y2="1525.6"/>
<line x1="419.0" y1="1522.8" x2="424.2" y2="1522.6"/>
<line x1="466.5" y1="1522.7" x2="471.7" y2="1522.7"/>
<line x1="513.8" y1="1521.4" x2="519.0" y2="1521.4"/>
<line x1="556.0" y1="1526.5" x2="560.8" y2="1528.5"/>
<line x1="581.5" y1="1558.9" x2="581.7" y2="1564.1"/>
<line x1="538.2" y1="1593.4" x2="542.4" y2="1590.4"/>
<line x1="492.1" y1="1606.2" x2="497.3" y2="1605.2"/>
<line x1="445.1" y1="1606.8" x2="450.3" y2="1606.8"/>
<line x1="398.0" y1="1602.2" x2="403.2" y2="1602.8"/>
<line x1="352.2" y1="1593.6" x2="357.2" y2="1594.6"/>
<line x1="320.9" y1="1578.3" x2="323.9" y2="1582.5"/>
<line x1="326.7" y1="1548.4" x2="329.7" y2="1544.2"/>
</g>
<g id="zoom-arrow" fill="#c8c8c8" stroke="none">
<line x1="561.4" y1="751.5" x2="561.4" y2="1523" stroke="#c8c8c8" stroke-width="7" stroke-dasharray="13.4 34"/>
<polygon points="561.3,698 575.2,752.2 547.4,752.2"/>
</g>
<g id="legend" stroke-linecap="round" stroke-width="7.4">
<line x1="1347.8" y1="106.3" x2="1511.6" y2="106.3" stroke="#000"/>
<line x1="1347.8" y1="236.8" x2="1511.6" y2="236.8" stroke="#f00"/>
<line x1="1347.8" y1="366.9" x2="1511.6" y2="366.9" stroke="#00f"/>
<line x1="1347.8" y1="497.2" x2="1511.6" y2="497.2" stroke="#0f0"/>
</g>
<g id="legend-text" font-size="90" letter-spacing="-0.55">
<text x="1552.5" y="135">Au/MgAl<tspan x="1907" y="158.9" font-size="60.7">2</tspan><tspan x="1938.8" y="135">O</tspan><tspan x="2007.3" y="158.9" font-size="60.7">4</tspan></text>
<text x="1533.7" y="265.2">Au/CuMgAlO<tspan x="2074.0" y="289.8" font-size="58">x</tspan></text>
<text x="1533.7" y="395.6">Au/NiMgAlO<tspan x="2049.2" y="420.2" font-size="58">x</tspan></text>
<text x="1533.7" y="525.9">Au/CoMgAlO<tspan x="2070.3" y="550.5" font-size="58">x</tspan></text>
</g>
</svg>
</body></html>
